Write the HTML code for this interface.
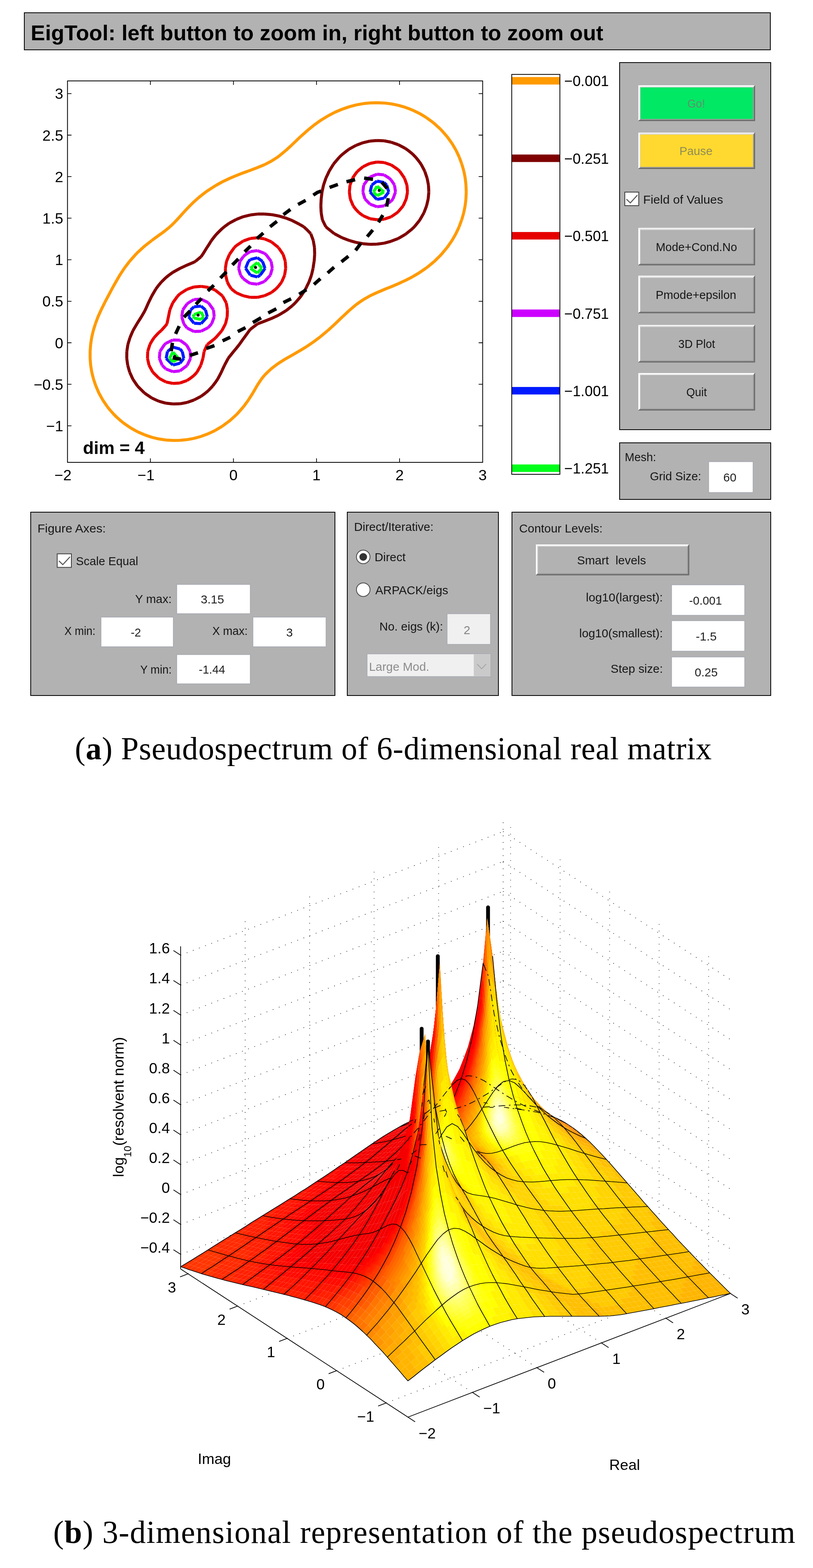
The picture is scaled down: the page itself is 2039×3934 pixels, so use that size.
<!DOCTYPE html>
<html><head><meta charset="utf-8"><title>EigTool pseudospectrum</title>
<style>html,body{margin:0;padding:0;background:#fff}svg{display:block}</style></head><body>
<svg width="2039" height="3934" viewBox="0 0 2039 3934">
<rect width="2039" height="3934" fill="#fff"/>
<style>.u text{fill-opacity:.88}</style><g class="u" font-family="'Liberation Sans',sans-serif">
<rect x="61.0" y="32.0" width="1871" height="93" fill="#b2b2b2" stroke="#000" stroke-width="2"/>
<text x="77" y="101" font-size="54" font-weight="bold" style="fill-opacity:1" textLength="1436" lengthAdjust="spacing">EigTool: left button to zoom in, right button to zoom out</text>
<rect x="1554.0" y="157.0" width="379" height="921" fill="#b2b2b2" stroke="#000" stroke-width="2"/>
<rect x="1600.8" y="214" width="293.0" height="89.8" fill="#6b6b6b"/><path d="M1600.8 214H1893.0L1890.6 217.2H1604.0V300.6L1600.8 303.0Z" fill="#fff"/><rect x="1604.0" y="217.2" width="286.6" height="83.4" fill="#a2a2a2"/><path d="M1604.0 217.2H1890.6L1888.4 219.4H1606.2V298.4L1604.0 300.6Z" fill="#e6e6e6"/><rect x="1606.2" y="219.4" width="282.2" height="79.0" fill="#00e864"/><text x="1746" y="269.9" text-anchor="middle" font-size="30" fill="#6f7f6f" textLength="44" lengthAdjust="spacingAndGlyphs" xml:space="preserve">Go!</text>
<rect x="1600.8" y="332.4" width="293.0" height="91.6" fill="#6b6b6b"/><path d="M1600.8 332.4H1893.0L1890.6 335.6H1604.0V420.8L1600.8 423.2Z" fill="#fff"/><rect x="1604.0" y="335.6" width="286.6" height="85.2" fill="#a2a2a2"/><path d="M1604.0 335.6H1890.6L1888.4 337.8H1606.2V418.6L1604.0 420.8Z" fill="#e6e6e6"/><rect x="1606.2" y="337.8" width="282.2" height="80.8" fill="#ffd92f"/><text x="1745.5" y="389.2" text-anchor="middle" font-size="30" fill="#80805e" textLength="83" lengthAdjust="spacingAndGlyphs" xml:space="preserve">Pause</text>
<rect x="1567" y="482" width="35" height="34" fill="#fff" stroke="#3c3c3c" stroke-width="2"/><path d="M1571.2 499.7L1580.8 509.1L1598.6 489.6" fill="none" stroke="#5a5a5a" stroke-width="2.6"/>
<text x="1613" y="511" text-anchor="start" font-size="30" fill="#000" textLength="200.5" lengthAdjust="spacingAndGlyphs">Field of Values</text>
<rect x="1600.8" y="571.5" width="293.0" height="94.3" fill="#6b6b6b"/><path d="M1600.8 571.5H1893.0L1890.6 574.7H1604.0V662.6L1600.8 665.0Z" fill="#fff"/><rect x="1604.0" y="574.7" width="286.6" height="87.9" fill="#a2a2a2"/><path d="M1604.0 574.7H1890.6L1888.4 576.9H1606.2V660.4L1604.0 662.6Z" fill="#e6e6e6"/><rect x="1606.2" y="576.9" width="282.2" height="83.5" fill="#b2b2b2"/><text x="1746.7" y="629.6" text-anchor="middle" font-size="30" fill="#000" textLength="204" lengthAdjust="spacingAndGlyphs" xml:space="preserve">Mode+Cond.No</text>
<rect x="1600.8" y="691.6" width="293.0" height="94.4" fill="#6b6b6b"/><path d="M1600.8 691.6H1893.0L1890.6 694.8H1604.0V782.8L1600.8 785.2Z" fill="#fff"/><rect x="1604.0" y="694.8" width="286.6" height="88.0" fill="#a2a2a2"/><path d="M1604.0 694.8H1890.6L1888.4 697.0H1606.2V780.6L1604.0 782.8Z" fill="#e6e6e6"/><rect x="1606.2" y="697.0" width="282.2" height="83.6" fill="#b2b2b2"/><text x="1745.5" y="749.8" text-anchor="middle" font-size="30" fill="#000" textLength="202" lengthAdjust="spacingAndGlyphs" xml:space="preserve">Pmode+epsilon</text>
<rect x="1600.8" y="815.2" width="293.0" height="94.3" fill="#6b6b6b"/><path d="M1600.8 815.2H1893.0L1890.6 818.4H1604.0V906.3L1600.8 908.7Z" fill="#fff"/><rect x="1604.0" y="818.4" width="286.6" height="87.9" fill="#a2a2a2"/><path d="M1604.0 818.4H1890.6L1888.4 820.6H1606.2V904.1L1604.0 906.3Z" fill="#e6e6e6"/><rect x="1606.2" y="820.6" width="282.2" height="83.5" fill="#b2b2b2"/><text x="1747.3" y="873.4" text-anchor="middle" font-size="30" fill="#000" textLength="92" lengthAdjust="spacingAndGlyphs" xml:space="preserve">3D Plot</text>
<rect x="1600.8" y="935.7" width="293.0" height="94.3" fill="#6b6b6b"/><path d="M1600.8 935.7H1893.0L1890.6 938.9H1604.0V1026.8L1600.8 1029.2Z" fill="#fff"/><rect x="1604.0" y="938.9" width="286.6" height="87.9" fill="#a2a2a2"/><path d="M1604.0 938.9H1890.6L1888.4 941.1H1606.2V1024.6L1604.0 1026.8Z" fill="#e6e6e6"/><rect x="1606.2" y="941.1" width="282.2" height="83.5" fill="#b2b2b2"/><text x="1747" y="993.9" text-anchor="middle" font-size="30" fill="#000" textLength="51.5" lengthAdjust="spacingAndGlyphs" xml:space="preserve">Quit</text>
<rect x="1554.0" y="1111.0" width="379" height="142" fill="#b2b2b2" stroke="#000" stroke-width="2"/>
<text x="1567" y="1157" text-anchor="start" font-size="30" fill="#000" textLength="78.5" lengthAdjust="spacingAndGlyphs">Mesh:</text>
<text x="1630" y="1205" text-anchor="start" font-size="30" fill="#000" textLength="128.7" lengthAdjust="spacingAndGlyphs">Grid Size:</text>
<rect x="1777" y="1158" width="112" height="78" fill="#fff" stroke="#abadb3" stroke-width="2.4"/><text x="1830.5" y="1208.0" text-anchor="middle" font-size="30" fill="#000" textLength="33" lengthAdjust="spacingAndGlyphs">60</text>
<rect x="77.0" y="1285.0" width="763" height="460" fill="#b2b2b2" stroke="#000" stroke-width="2"/>
<text x="94" y="1336.4" text-anchor="start" font-size="30" fill="#000" textLength="171.4" lengthAdjust="spacingAndGlyphs">Figure Axes:</text>
<rect x="143.5" y="1389.5" width="35.5" height="34.0" fill="#fff" stroke="#3c3c3c" stroke-width="2"/><path d="M147.8 1407.2L157.5 1416.6L175.5 1397.1" fill="none" stroke="#5a5a5a" stroke-width="2.6"/>
<text x="190.6" y="1418.3" text-anchor="start" font-size="30" fill="#000" textLength="155.8" lengthAdjust="spacingAndGlyphs">Scale Equal</text>
<text x="430.5" y="1513" text-anchor="end" font-size="30" fill="#000" textLength="91.5" lengthAdjust="spacingAndGlyphs">Y max:</text>
<rect x="443" y="1466" width="185" height="74" fill="#fff" stroke="#abadb3" stroke-width="2.4"/><text x="532.8" y="1514.0" text-anchor="middle" font-size="30" fill="#000" textLength="58.7" lengthAdjust="spacingAndGlyphs">3.15</text>
<text x="239.5" y="1593" text-anchor="end" font-size="30" fill="#000" textLength="77.9" lengthAdjust="spacingAndGlyphs">X min:</text>
<rect x="253" y="1548" width="182" height="75" fill="#fff" stroke="#abadb3" stroke-width="2.4"/><text x="340.8" y="1596.5" text-anchor="middle" font-size="30" fill="#000" textLength="25.8" lengthAdjust="spacingAndGlyphs">-2</text>
<text x="621.2" y="1593" text-anchor="end" font-size="30" fill="#000" textLength="88.8" lengthAdjust="spacingAndGlyphs">X max:</text>
<rect x="634" y="1548" width="184" height="75" fill="#fff" stroke="#abadb3" stroke-width="2.4"/><text x="726" y="1596.5" text-anchor="middle" font-size="30" fill="#000">3</text>
<text x="430.5" y="1689.5" text-anchor="end" font-size="30" fill="#000" textLength="78.8" lengthAdjust="spacingAndGlyphs">Y min:</text>
<rect x="443" y="1642" width="185" height="74" fill="#fff" stroke="#abadb3" stroke-width="2.4"/><text x="531.6" y="1690.0" text-anchor="middle" font-size="30" fill="#000" textLength="66" lengthAdjust="spacingAndGlyphs">-1.44</text>
<rect x="871.0" y="1285.0" width="379" height="460" fill="#b2b2b2" stroke="#000" stroke-width="2"/>
<text x="888" y="1332" text-anchor="start" font-size="30" fill="#000" textLength="199.3" lengthAdjust="spacingAndGlyphs">Direct/Iterative:</text>
<circle cx="911" cy="1397.3" r="17" fill="#fff" stroke="#4a4a4a" stroke-width="2"/><circle cx="911" cy="1397.3" r="9.6" fill="#333"/>
<text x="939.5" y="1408.3" text-anchor="start" font-size="30" fill="#000" textLength="77.9" lengthAdjust="spacingAndGlyphs">Direct</text>
<circle cx="911" cy="1479.4" r="17" fill="#fff" stroke="#4a4a4a" stroke-width="2"/>
<text x="941.3" y="1490.7" text-anchor="start" font-size="30" fill="#000" textLength="182.8" lengthAdjust="spacingAndGlyphs">ARPACK/eigs</text>
<text x="1111.2" y="1581.5" text-anchor="end" font-size="30" fill="#000" textLength="159.7" lengthAdjust="spacingAndGlyphs">No. eigs (k):</text>
<rect x="1121" y="1539.5" width="109.5" height="77.5" fill="#f0f0f0" stroke="#abadb3" stroke-width="2.4"/><text x="1171.2" y="1590.5" text-anchor="middle" font-size="30" fill="#757575">2</text>
<rect x="920.3" y="1640.2" width="310.7" height="57.6" fill="#f0f0f0" stroke="#abadb3" stroke-width="2.4"/>
<rect x="1188.2" y="1641.4" width="41.6" height="55.2" fill="#cacaca"/>
<path d="M1196.6 1666L1208 1678L1219.400 1666" fill="none" stroke="#a6a6a6" stroke-width="2.2"/>
<text x="925.4" y="1682.8" text-anchor="start" font-size="30" fill="#7d7d7d" textLength="151.3" lengthAdjust="spacingAndGlyphs">Large Mod.</text>
<rect x="1284.0" y="1285.0" width="649" height="460" fill="#b2b2b2" stroke="#000" stroke-width="2"/>
<text x="1302" y="1336.4" text-anchor="start" font-size="30" fill="#000" textLength="209.2" lengthAdjust="spacingAndGlyphs">Contour Levels:</text>
<rect x="1344" y="1366" width="384.7" height="77.5" fill="#6b6b6b"/><path d="M1344 1366H1727.9L1725.5 1369.2H1347.2V1440.3L1344 1442.7Z" fill="#fff"/><rect x="1347.2" y="1369.2" width="378.3" height="71.1" fill="#a2a2a2"/><path d="M1347.2 1369.2H1725.5L1723.3 1371.4H1349.4V1438.1L1347.2 1440.3Z" fill="#e6e6e6"/><rect x="1349.4" y="1371.4" width="373.9" height="66.7" fill="#b2b2b2"/><text x="1533.7" y="1415.8" text-anchor="middle" font-size="30" fill="#000" textLength="173" lengthAdjust="spacingAndGlyphs" xml:space="preserve">Smart  levels</text>
<text x="1662.5" y="1508.7" text-anchor="end" font-size="30" fill="#000" textLength="193" lengthAdjust="spacingAndGlyphs">log10(largest):</text>
<rect x="1684" y="1467" width="184" height="77" fill="#fff" stroke="#abadb3" stroke-width="2.4"/><text x="1769.5" y="1516.5" text-anchor="middle" font-size="30" fill="#000" textLength="82.3" lengthAdjust="spacingAndGlyphs">-0.001</text>
<text x="1662.5" y="1598.7" text-anchor="end" font-size="30" fill="#000" textLength="209.7" lengthAdjust="spacingAndGlyphs">log10(smallest):</text>
<rect x="1684" y="1557" width="184" height="77" fill="#fff" stroke="#abadb3" stroke-width="2.4"/><text x="1771.2" y="1606.5" text-anchor="middle" font-size="30" fill="#000" textLength="52.4" lengthAdjust="spacingAndGlyphs">-1.5</text>
<text x="1662.5" y="1687.8" text-anchor="end" font-size="30" fill="#000" textLength="131" lengthAdjust="spacingAndGlyphs">Step size:</text>
<rect x="1684" y="1648" width="184" height="76" fill="#fff" stroke="#abadb3" stroke-width="2.4"/><text x="1771.2" y="1697.0" text-anchor="middle" font-size="30" fill="#000" textLength="57.7" lengthAdjust="spacingAndGlyphs">0.25</text>
</g>
<g font-family="'Liberation Serif',serif" font-size="79.5">
<text x="187.800" y="1904.5" textLength="1597" lengthAdjust="spacing">(<tspan font-weight="bold">a</tspan>) Pseudospectrum of 6-dimensional real matrix</text>
<text x="133.600" y="3871" textLength="1861" lengthAdjust="spacing">(<tspan font-weight="bold">b</tspan>) 3-dimensional representation of the pseudospectrum</text>
</g>
<g font-family="'Liberation Sans',sans-serif" font-size="37.5">
<rect x="169.3" y="203.0" width="1041.2" height="957.0" fill="#fff"/>
<g fill="none" stroke-width="7.5">
<path d="M1026.5 273.1l7.4 2.8M1033.9 275.9l17.6 8.4M1051.5 284.3l10.5 6.2M1062 290.5l7.2 4.4M1069.2 294.9l17.6 12.9M1086.8 307.8l0.1 0.1M1086.9 307.9l17.6 15.9M1104.5 323.8l1.5 1.5M1106 325.3l15.3 17.4M1121.3 342.7l0.8 1.1M1122.1 343.8l11.7 16.3M1133.8 360.1l6 10.2M1139.8 370.3l4.1 7.2M1143.9 377.5l8.2 17.4M1152.1 394.9l5.3 14.7M1157.4 409.6l1 2.6M1158.4 412.2l5 17.4M1163.4 429.6l3.4 17.4M1166.8 447l1.9 17.4M1168.7 464.4l0.6 17.4M1169.3 481.8l-0.7 17.4M1168.6 499.2l-2.1 17.4M1166.5 516.6l-3.5 17.4M1163 534l-5 17.4M1158 551.4l-0.6 1.4M1157.4 552.8l-5.8 16M1151.6 568.8l-8.1 17.4M1143.5 586.2l-3.7 6.5M1139.8 592.7l-6.3 10.9M1133.5 603.6l-11.4 16.4M1122.1 620l-0.7 0.9M1121.4 620.9l-14.5 17.4M1106.9 638.3l-2.4 2.6M1104.5 640.9l-15.1 14.8M1089.4 655.7l-2.6 2.3M1086.8 658l-17.6 14.3M1069.2 672.3l-1.3 0.8M1067.9 673.1l-16.4 11.3M1051.5 684.4l-10.3 6.1M1041.2 690.5l-7.3 4.4M1033.9 694.9l-17.7 9M1016.2 703.9l-8.9 4M1007.3 707.9l-8.7 4.1M998.6 712l-17.7 7.5M980.9 719.5l-14.8 5.8M966.1 725.3l-2.8 1.2M963.3 726.5l-17.7 7.5M945.6 734l-17.6 8.2M928 742.2l-1 0.5M927 742.7l-16.7 9.6M910.3 752.3l-11.3 7.8M899 760.1l-6.3 4.6M892.7 764.7l-15.1 12.8M877.6 777.5l-2.6 2.2M875 779.7l-16 15.2M859 794.9l-1.7 1.4M857.3 796.3l-16.5 16M840.8 812.3l-1.1 1M839.7 813.3l-17.7 16.1M822 829.4l-0.3 0.2M821.7 829.6l-17.3 14.5M804.4 844.1l-3.7 2.9M800.7 847l-14 10.5M786.7 857.5l-10.1 6.9M776.6 864.4l-7.5 5.1M769.1 869.5l-17.7 10.8M751.4 880.3l-2.7 1.5M748.7 881.8l-14.9 8.7M733.8 890.5l-15.6 8.7M718.2 899.2l-2.1 1.2M716.1 900.4l-17.6 11.1M698.5 911.5l-7.1 5.1M691.4 916.6l-10.6 8.2M680.8 924.8l-10 9.2M670.8 934l-7.6 7.7M663.2 941.7l-7.8 9.7M655.4 951.4l-9.9 14.9M645.5 966.3l-1.4 2.5M644.1 968.8l-10 17.4M634.1 986.2l-6.2 9.9M627.9 996.1l-4.8 7.5M623.1 1003.6l-12.8 17.4M610.3 1021l-0.1 0M610.2 1021l-15.3 17.4M594.9 1038.4l-2.3 2.4M592.6 1040.8l-16.6 14.9M576 1055.7l-1.1 0.9M574.9 1056.6l-17.6 13M557.3 1069.6l-5.9 3.5M551.4 1073.1l-11.8 7M539.6 1080.1l-17.6 8.3M522 1088.4l-5.8 2.1M516.2 1090.5l-11.9 4.5M504.3 1095l-17.7 4.9M486.6 1099.9l-17.6 3.2M469 1103.1l-17.7 1.7M451.3 1104.8l-17.6 0.3M433.7 1105.1l-17.7-1.1M416 1104l-17.6-2.7M398.4 1101.3l-17.7-4.2M380.7 1097.1l-17.6-6M363.1 1091.1l-1.3-0.6M361.8 1090.5l-16.4-7M345.4 1083.5l-17.6-9.8M327.8 1073.7l-0.8-0.6M327 1073.1l-16.9-11.5M310.1 1061.6l-7.2-5.9M302.9 1055.7l-10.4-9.2M292.5 1046.5l-8.1-8.1M284.4 1038.4l-9.6-11M274.8 1027.4l-5.2-6.4M269.6 1021l-11.8-17.4M257.8 1003.6l-0.6-1.1M257.2 1002.5l-9.1-16.3M248.1 986.2l-7.5-17.4M240.6 968.8l-1.1-3.1M239.5 965.7l-4.9-14.3M234.6 951.4l-4.4-17.4M230.2 934l-2.8-17.4M227.4 916.6l-1.4-17.4M226 899.2l0-17.4M226 881.8l1.3-17.4M227.3 864.4l2.6-17.4M229.9 847l4-17.4M233.9 829.6l5.4-17.3M239.3 812.3l0.2-0.5M239.5 811.8l6.3-16.9M245.8 794.9l7.8-17.4M253.6 777.5l3.6-7.2M257.2 770.3l5-10.2M262.2 760.1l9.1-17.4M271.3 742.7l3.5-6.5M274.8 736.2l5.8-10.9M280.6 725.3l9.6-17.4M290.2 707.9l2.3-3.9M292.5 704l7.8-13.5M300.3 690.5l9.8-14.9M310.1 675.6l1.7-2.5M311.8 673.1l13.1-17.4M324.9 655.7l2.9-3.3M327.8 652.4l12.6-14.1M340.4 638.3l5-5.1M345.4 633.2l13.3-12.3M358.7 620.9l4.4-3.8M363.1 617.1l17.3-13.5M380.4 603.6l0.3-0.3M380.7 603.3l17.7-12.9M398.4 590.4l6.1-4.2M404.5 586.2l11.5-8.8M416 577.4l10.4-8.6M426.4 568.8l7.3-6.8M433.7 562l10.2-10.6M443.9 551.4l7.4-8.1M451.3 543.3l8.3-9.3M459.6 534l9.4-10.2M469 523.8l6.9-7.2M475.9 516.6l10.7-10.5M486.6 506.1l7.8-6.9M494.4 499.2l9.9-8.4M504.3 490.8l11.8-9M516.1 481.8l5.9-4.2M522 477.6l17.6-11.3M539.6 466.3l3.3-1.9M542.9 464.4l14.4-8M557.3 456.4l17.6-8.4M574.9 448l2.3-1M577.2 447l15.4-6.6M592.6 440.4l17.6-6.8M610.2 433.6l11.3-4M621.5 429.6l6.4-2.4M627.9 427.2l17.6-6.7M645.5 420.5l17.7-7.2M663.2 413.3l2.1-1.1M665.3 412.2l15.5-8.1M680.8 404.1l14.5-9.2M695.3 394.9l3.2-2.3M698.5 392.6l17.6-14.4M716.1 378.2l0.9-0.7M717 377.5l16.8-15.6M733.8 361.9l1.8-1.8M735.6 360.1l15.8-15.1M751.4 345l2.5-2.3M753.9 342.7l15.2-13.6M769.1 329.1l4.4-3.8M773.5 325.3l13.2-10.7M786.7 314.6l9.1-6.7M795.8 307.9l8.6-6M804.4 301.9l17.6-10.8M822 291.1l1.1-0.6M823.1 290.5l16.6-8.7M839.7 281.8l17.6-7.5M857.3 274.3l3.4-1.2M860.7 273.1l14.3-5M875 268.1l17.7-4.7M892.7 263.4l17.6-3.3M910.3 260.1l17.7-1.8M928 258.3l17.6-0.6M945.6 257.7l17.7 0.7M963.3 258.4l17.6 2.1M980.9 260.5l17.7 3.6M998.6 264.1l17.6 5.1M1016.2 269.2l10.3 3.9" stroke="#ff9a00"/>
<path d="M728.2 551.4l5.6 2.4M733.8 553.8l17.6 9.1M751.4 562.9l10.2 5.9M761.6 568.8l7.5 6.9M769.1 575.7l10.2 10.5M779.3 586.2l6.5 17.4M785.8 603.6l0.9 5.7M786.7 609.3l2 11.6M788.7 620.9l0.5 17.4M789.2 638.3l-1.3 17.4M787.9 655.7l-1.2 6.3M786.7 662l-1.5 11.1M785.2 673.1l-4.1 17.4M781.1 690.5l-6.3 17.4M774.8 707.9l-5.7 11.4M769.1 719.3l-2.8 6M766.3 725.3l-11.2 17.4M755.1 742.7l-3.7 4.6M751.4 747.3l-11.1 12.8M740.3 760.1l-6.5 6.2M733.8 766.3l-13.8 11.2M720 777.5l-3.9 2.8M716.1 780.3l-17.6 10.6M698.5 790.9l-8.7 4M689.8 794.9l-9 4.2M680.8 799.1l-17.6 6.8M663.2 805.9l-16.6 6.4M646.6 812.3l-1.1 0.5M645.5 812.8l-17.6 13.4M627.9 826.2l-2.7 3.4M625.2 829.6l-12.6 17.4M612.6 847l-2.4 3.2M610.2 850.2l-10 14.2M600.2 864.4l-7.6 9.4M592.6 873.8l-6.7 8M585.9 881.8l-11 13.8M574.9 895.6l-2.7 3.6M572.2 899.2l-9.2 17.4M563 916.6l-5.7 12.1M557.3 928.7l-2.3 5.3M555 934l-9.2 17.4M545.8 951.4l-6.2 8.9M539.6 960.3l-6.4 8.5M533.2 968.8l-11.2 11.7M522 980.5l-6.7 5.7M515.3 986.2l-11 8.1M504.3 994.3l-17.7 9.2M486.6 1003.5l-0.1 0.1M486.5 1003.6l-17.5 6.2M469 1009.8l-17.7 3.3M451.3 1013.1l-17.6 0.5M433.7 1013.6l-17.7-2M416 1011.6l-17.6-5M398.4 1006.6l-6.9-3M391.5 1003.6l-10.8-4.9M380.7 998.7l-17.6-12M363.1 986.7l-0.7-0.5M362.4 986.2l-17-17.1M345.4 969.1l-0.3-0.3M345.1 968.8l-11.9-17.4M333.2 951.4l-5.4-12M327.8 939.4l-2.5-5.4M325.3 934l-5-17.4M320.3 916.6l-2.4-17.4M317.9 899.2l0.2-17.4M318.1 881.8l2.6-17.4M320.7 864.4l5.3-17.4M326 847l1.8-4.2M327.8 842.8l5.6-13.2M333.4 829.6l10.1-17.3M343.5 812.3l1.9-3.1M345.4 809.2l9.2-14.3M354.6 794.9l8.5-14.8M363.1 780.1l1.3-2.6M364.4 777.5l7.7-17.4M372.1 760.1l8.5-17.4M380.6 742.7l0.1-0.2M380.7 742.5l10-17.2M390.7 725.3l7.7-10.2M398.4 715.1l6-7.2M404.4 707.9l11.6-11.4M416 696.5l7.5-6M423.5 690.5l10.2-7.4M433.7 683.1l17.6-9.7M451.3 673.4l0.6-0.3M451.9 673.1l17.1-7.9M469 665.2l17.6-7.5M486.6 657.7l3.7-2M490.3 655.7l14-11.7M504.3 644l4.1-5.7M508.4 638.3l10.7-17.4M519.1 620.9l2.9-4.2M522 616.7l8.1-13.1M530.1 603.6l9.5-12.2M539.6 591.4l4.5-5.2M544.1 586.2l13.2-12.9M557.3 573.3l5.5-4.5M562.8 568.8l12.1-8.8M574.9 560l16.1-8.6M591 551.4l1.6-0.9M592.6 550.5l17.6-6.9M610.2 543.6l17.7-4.3M627.9 539.3l17.6-2.2M645.5 537.1l17.7-0.2M663.2 536.9l17.6 1.5M680.8 538.4l17.7 3.3M698.5 541.7l17.6 5.1M716.1 546.8l12.1 4.6M990.4 360.1l8.2 2.8M998.6 362.9l17.6 9.2M1016.2 372.1l7.5 5.4M1023.7 377.5l10.2 8.2M1033.9 385.7l9.1 9.2M1043 394.9l8.5 10.7M1051.5 405.6l4.7 6.6M1056.2 412.2l9.1 17.4M1065.3 429.6l3.9 11.6M1069.2 441.2l2 5.8M1071.2 447l3.4 17.4M1074.6 464.4l0.9 17.4M1075.5 481.8l-1.6 17.4M1073.9 499.2l-4.1 17.4M1069.8 516.6l-0.6 1.5M1069.2 518.1l-6 15.9M1063.2 534l-10 17.4M1053.2 551.4l-1.7 2.4M1051.5 553.8l-12.2 15M1039.3 568.8l-5.4 5.4M1033.9 574.2l-14.8 12M1019.1 586.2l-2.9 2.1M1016.2 588.3l-17.6 10.1M998.6 598.4l-13.3 5.2M985.3 603.6l-4.4 1.7M980.9 605.3l-17.6 4.8M963.3 610.1l-17.7 2.4M945.6 612.5l-17.6 0.4M928 612.9l-17.7-1.5M910.3 611.4l-17.6-3.3M892.7 608.1l-15.8-4.5M876.9 603.6l-1.9-0.7M875 602.9l-17.7-6.7M857.3 596.2l-17.6-9.3M839.7 586.9l-1.5-0.7M838.2 586.2l-16.2-13M822 573.2l-4.9-4.4M817.1 568.8l-8.6-17.4M808.5 551.4l-3-17.4M805.5 534l-0.8-17.4M804.7 516.6l0.8-17.4M805.5 499.2l2.1-17.4M807.6 481.8l3.8-17.4M811.4 464.4l5.9-17.4M817.3 447l4.7-9.8M822 437.2l3.4-7.6M825.4 429.6l10.7-17.4M836.1 412.2l3.6-4.5M839.7 407.7l10.9-12.8M850.6 394.9l6.7-6.5M857.3 388.4l13.7-10.9M871 377.5l4-2.9M875 374.6l17.7-9.9M892.7 364.7l12.4-4.6M905.1 360.1l5.2-2M910.3 358.1l17.7-4.2M928 353.9l17.6-1.5M945.6 352.4l17.7 0.9M963.3 353.3l17.6 3.5M980.9 356.8l9.5 3.3" stroke="#7f0000"/>
<path d="M533.6 725.3l6 2.5M539.6 727.8l17.7 14M557.3 741.8l0.8 0.9M558.1 742.7l9.5 17.4M567.6 760.1l2.8 17.4M570.4 777.5l-0.6 17.4M569.8 794.9l-4.2 17.4M565.6 812.3l-8.3 15.7M557.3 828l-0.9 1.6M556.4 829.6l-15.1 17.4M541.3 847l-1.7 1.7M539.6 848.7l-17.6 14.1M522 862.8l-2.3 1.6M519.7 864.4l-7.8 17.4M511.9 881.8l-2.9 17.4M509 899.2l-4.7 14.8M504.3 914l-0.7 2.6M503.6 916.6l-9.7 17.4M493.9 934l-7.3 7.9M486.6 941.9l-12.5 9.5M474.1 951.4l-5.1 3.3M469 954.7l-17.7 6.2M451.3 960.9l-17.6 1.1M433.7 962l-17.7-3.7M416 958.3l-13.1-6.9M402.9 951.4l-4.5-2.7M398.4 948.7l-14.9-14.7M383.5 934l-2.8-4.7M380.7 929.3l-6.8-12.7M373.9 916.6l-4-17.4M369.9 899.2l0.6-17.4M370.5 881.8l5.4-17.4M375.9 864.4l4.8-8.5M380.7 855.9l5.8-8.9M386.5 847l11.9-12.8M398.4 834.2l5.8-4.6M404.2 829.6l11.8-13.3M416 816.3l2.8-4M418.8 812.3l3.6-17.4M422.4 794.9l3.5-17.4M425.9 777.5l7.2-17.4M433.1 760.1l0.6-0.9M433.7 759.2l11.8-16.5M445.5 742.7l5.8-5.6M451.3 737.1l17.7-11.2M469 725.9l1.9-0.6M470.9 725.3l15.7-5.4M486.6 719.9l17.7-1.5M504.3 718.4l17.7 2.6M522 721l11.6 4.3M673.5 603.6l7.3 3.2M680.8 606.8l17.4 14.1M698.2 620.9l0.3 0.4M698.5 621.3l11.7 17M710.2 638.3l5.3 17.4M715.5 655.7l0.6 10.8M716.1 666.5l0.5 6.6M716.6 673.1l-0.5 2.5M716.1 675.6l-2.3 14.9M713.8 690.5l-7.6 17.4M706.2 707.9l-7.7 10.1M698.5 718l-6.9 7.3M691.6 725.3l-10.8 8.6M680.8 733.9l-17.6 8.2M663.2 742.1l-3.1 0.6M660.1 742.7l-14.6 3.4M645.5 746.1l-17.6 0M627.9 746.1l-15.1-3.4M612.8 742.7l-2.6-0.6M610.2 742.1l-17.6-7.5M592.6 734.6l-11.9-9.3M580.7 725.3l-5.8-8.7M574.9 716.6l-4.7-8.7M570.2 707.9l-4.3-17.4M565.9 690.5l-0.7-17.4M565.2 673.1l2.9-17.4M568.1 655.7l6.8-16.2M574.9 639.5l0.5-1.2M575.4 638.3l12.4-17.4M587.8 620.9l4.8-4.6M592.6 616.3l17.6-11.8M610.2 604.5l2.8-0.9M613 603.6l14.9-5.4M627.9 598.2l17.6-1.7M645.5 596.5l17.7 2.8M663.2 599.3l10.3 4.3M976.5 412.2l4.4 1.5M980.9 413.7l17.7 12M998.6 425.7l3.9 3.9M1002.5 429.6l12 17.4M1014.5 447l1.7 5M1016.2 452l4.4 12.4M1020.6 464.4l1.4 17.4M1022 481.8l-3.2 17.4M1018.8 499.2l-2.6 5.9M1016.2 505.1l-5.2 11.5M1011 516.6l-12.4 14.8M998.6 531.4l-3.1 2.6M995.5 534l-14.6 10M980.9 544l-17.6 5.9M963.3 549.9l-17.7 1.4M945.6 551.3l-17.6-2.5M928 548.8l-17.7-7.7M910.3 541.1l-9.5-7.1M900.8 534l-8.1-8.4M892.7 525.6l-6.9-9M885.8 516.6l-7.3-17.4M878.5 499.2l-2.3-17.4M876.2 481.8l1.6-17.4M877.8 464.4l6.3-17.4M884.1 447l8.6-12.4M892.7 434.6l4.1-5M896.8 429.6l13.5-11.3M910.3 418.3l12.7-6.1M923 412.2l5-2.2M928 410l17.6-3.5M945.6 406.5l17.7 1.2M963.3 407.7l13.2 4.5" stroke="#e60000"/>
<path d="M466.4 864.4l2.6 3M469 867.4l7.9 14.4M476.9 881.8l0.9 17.4M477.8 899.2l-8.3 17.4M469.5 916.6l-0.5 0.6M469 917.2l-17.7 13.4M451.3 930.6l-17.6 1.9M433.7 932.5l-17.7-6.8M416 925.7l-9.2-9.1M406.8 916.6l-7.1-17.4M399.7 899.2l1.4-17.4M401.1 881.8l11.5-17.4M412.6 864.4l3.4-3.1M416 861.3l17.7-8.4M433.7 852.9l17.6 0.7M451.3 853.6l15.1 10.8M523 760.1l12.5 17.4M535.5 777.5l1.7 17.4M537.2 794.9l-6.3 17.4M530.9 812.3l-8.9 9.9M522 822.2l-15 7.4M507 829.6l-2.7 1.4M504.3 831l-17.7 0.8M486.6 831.8l-4.4-2.2M482.2 829.6l-13.2-6.7M469 822.9l-8.1-10.6M460.9 812.3l-5.1-17.4M455.8 794.9l2.6-17.4M458.4 777.5l10.6-14.9M469 762.6l3-2.5M472 760.1l14.6-8.7M486.6 751.4l17.7-0.9M504.3 750.5l17.7 8.7M522 759.2l1 0.9M666.9 638.3l13.2 17.4M680.1 655.7l0.7 5.4M680.8 661.1l2.2 12M683 673.1l-2.2 7.2M680.8 680.3l-2.7 10.2M678.1 690.5l-14.9 15.8M663.2 706.3l-4.3 1.6M658.9 707.9l-13.4 5.2M645.5 713.1l-17.6-2M627.9 711.1l-5.8-3.2M622.1 707.9l-11.9-8.6M610.2 699.3l-6.8-8.8M603.4 690.5l-4.9-17.4M598.5 673.1l3.3-17.4M601.8 655.7l8.4-11.9M610.2 643.8l6.1-5.5M616.3 638.3l11.6-7.2M627.9 631.1l17.6-2.3M645.5 628.8l17.7 6.6M663.2 635.4l3.7 2.9M976.2 447l4.7 4.5M980.9 451.5l8.6 12.9M989.5 464.4l2.4 17.4M991.9 481.8l-6.4 17.4M985.5 499.2l-4.6 5.6M980.9 504.8l-17.6 11.8M963.3 516.6l-0.3 0M963 516.6l-17.4 2.1M945.6 518.7l-5.8-2.1M939.8 516.6l-11.8-4.4M928 512.2l-12.7-13M915.3 499.2l-5-16.6M910.3 482.6l-0.3-0.8M910 481.8l0.3-1.7M910.3 480.1l1.8-15.7M912.1 464.4l12.6-17.4M924.7 447l3.3-2.7M928 444.3l17.6-7.3M945.6 437l17.7 1.8M963.3 438.8l12.9 8.2" stroke="#cc00ff"/>
<path d="M457.1 881.8l3.9 17.4M461 899.2l-9.7 12.1M451.3 911.3l-17.6 4.5M433.7 915.8l-17-16.6M416.7 899.2l3.3-17.4M420 881.8l13.7-11M433.7 870.8l17.6 4.9M451.3 875.7l5.8 6.1M515.4 777.5l4.5 17.4M519.9 794.9l-15.6 17.1M504.3 812l-17.7-0.9M486.6 811.1l-13.4-16.2M473.2 794.9l5-17.4M478.2 777.5l8.4-7.8M486.6 769.7l17.7-1.6M504.3 768.1l11.1 9.4M658.3 655.7l4.9 13.4M663.2 669.1l1.3 4M664.5 673.1l-1.3 2.7M663.2 675.8l-10.8 14.7M652.4 690.5l-6.9 4.3M645.5 694.8l-17-4.3M628.5 690.5l-0.6-0.1M627.9 690.4l-11.9-17.3M616 673.1l7-17.4M623 655.7l4.9-4.5M627.9 651.2l17.6-4.6M645.5 646.6l12.8 9.1M969.9 464.4l5.1 17.4M975 481.8l-11.7 15.3M963.3 497.1l-12.4 2.1M950.9 499.2l-5.3 1.1M945.6 500.3l-1.7-1.1M943.9 499.2l-15.6-17.4M928.3 481.8l4.1-17.4M932.4 464.4l13.2-10.2M945.6 454.2l17.7 3.8M963.3 458l6.6 6.4" stroke="#001aff"/>
<path d="M447.9 899.2l-14.2 8.5M433.7 907.7l-8.7-8.5M425 899.2l8.7-15.7M433.7 883.5l14.2 15.7M510.6 794.9l-6.3 6.8M504.3 801.7l-17.7-3.8M486.6 797.9l-2.5-3M484.1 794.9l2.5-5.6M486.6 789.3l17.7-6.3M504.3 783l6.3 11.9M656.8 673.1l-11.3 12M645.5 685.1l-17.5-12M628 673.1l17.5-14.4M645.5 658.7l11.3 14.4M963.2 481.8l-17.6 9.3M945.6 491.1l-9-9.3M936.6 481.8l9-14.6M945.6 467.2l17.6 14.6" stroke="#00ff1a"/>
</g>
<path d="M433.0 897.7L453.9 901.3M476.4 891.7L496.5 885.1M517.5 874.3L537.8 867.1M558.2 855.1L577.4 846.1M596.3 831.8L615.7 822.2M634.3 809.3L654.7 797.3M672.7 785.3L693.0 774.8M730.0 749.6L710.8 759.2M768.3 726.8L750.3 738.3M803.5 699.2L787.5 713.6M837.8 670.5L821.8 684.9M873.8 642.9L856.3 656.8M904.9 610.6L891.8 628.1M934.9 577.0L921.0 593.8M960.1 539.8L949.3 557.8M973.7 497.2L969.7 518.3M957.7 457.2L970.9 472.7M913.3 446.8L935.4 450.0M869.0 456.0L890.6 450.7M826.6 470.3L847.4 462.7M785.8 489.5L795.9 482.8L805.5 479.4M747.5 513.0L766.6 502.7M710.8 538.6L728.3 525.5M677.4 568.8L694.5 555.3M644.4 598.7L660.3 584.6M613.6 631.7L628.5 617.3M582.8 664.6L597.8 649.6M552.8 697.5L567.8 681.9M521.3 729.9L536.3 715.5M491.4 763.4L505.5 748.5M461.4 795.8L476.4 780.2M440.4 837.8L449.4 818.3M429.4 881.2L432.4 860.2" fill="none" stroke="#000" stroke-width="8.6" stroke-linejoin="round"/>
<circle cx="438.1" cy="894.2" r="3.7" fill="#000"/>
<circle cx="496.9" cy="790.6" r="3.7" fill="#000"/>
<circle cx="640.9" cy="671.0" r="3.7" fill="#000"/>
<circle cx="951.1" cy="477.7" r="3.7" fill="#000"/>
<rect x="169.3" y="203.0" width="1041.2" height="957.0" fill="none" stroke="#000" stroke-width="2"/>
<path d="M377.2 1160.0v-10M377.2 203.0v10M585.5 1160.0v-10M585.5 203.0v10M793.8 1160.0v-10M793.8 203.0v10M1002.1 1160.0v-10M1002.1 203.0v10M169.3 1068.4h10M1210.5 1068.4h-10M169.3 964.2h10M1210.5 964.2h-10M169.3 860.0h10M1210.5 860.0h-10M169.3 755.8h10M1210.5 755.8h-10M169.3 651.6h10M1210.5 651.6h-10M169.3 547.4h10M1210.5 547.4h-10M169.3 443.2h10M1210.5 443.2h-10M169.3 339.0h10M1210.5 339.0h-10M169.3 234.8h10M1210.5 234.8h-10" stroke="#000" stroke-width="1.8" fill="none"/>
<text x="179.3" y="1205" text-anchor="end">−2</text>
<text x="387.6" y="1205" text-anchor="end">−1</text>
<text x="585.5" y="1205" text-anchor="middle">0</text>
<text x="793.8" y="1205" text-anchor="middle">1</text>
<text x="1002.1" y="1205" text-anchor="middle">2</text>
<text x="1210.4" y="1205" text-anchor="middle">3</text>
<text x="158.5" y="1082.0" text-anchor="end">−1</text>
<text x="158.5" y="977.8" text-anchor="end">−0.5</text>
<text x="158.5" y="873.6" text-anchor="end">0</text>
<text x="158.5" y="769.4" text-anchor="end">0.5</text>
<text x="158.5" y="665.2" text-anchor="end">1</text>
<text x="158.5" y="561.0" text-anchor="end">1.5</text>
<text x="158.5" y="456.8" text-anchor="end">2</text>
<text x="158.5" y="352.6" text-anchor="end">2.5</text>
<text x="158.5" y="248.4" text-anchor="end">3</text>
<text x="208" y="1138.5" font-size="44.6" font-weight="bold">dim = 4</text>
<rect x="1283.4" y="186.7" width="120.79999999999995" height="1003.3" fill="#fff"/>
<rect x="1283.4" y="193.3" width="120.79999999999995" height="18.8" fill="#ff9a00"/>
<text x="1415" y="216.4" textLength="112" lengthAdjust="spacingAndGlyphs">−0.001</text>
<rect x="1283.4" y="387.7" width="120.79999999999995" height="18.8" fill="#7f0000"/>
<text x="1415" y="410.8" textLength="112" lengthAdjust="spacingAndGlyphs">−0.251</text>
<rect x="1283.4" y="582.1" width="120.79999999999995" height="18.8" fill="#e60000"/>
<text x="1415" y="605.2" textLength="112" lengthAdjust="spacingAndGlyphs">−0.501</text>
<rect x="1283.4" y="776.5" width="120.79999999999995" height="18.8" fill="#cc00ff"/>
<text x="1415" y="799.6" textLength="112" lengthAdjust="spacingAndGlyphs">−0.751</text>
<rect x="1283.4" y="970.9" width="120.79999999999995" height="18.8" fill="#001aff"/>
<text x="1415" y="994.0" textLength="112" lengthAdjust="spacingAndGlyphs">−1.001</text>
<rect x="1283.4" y="1165.3" width="120.79999999999995" height="18.8" fill="#00ff1a"/>
<text x="1415" y="1188.4" textLength="112" lengthAdjust="spacingAndGlyphs">−1.251</text>
<rect x="1283.4" y="186.7" width="120.79999999999995" height="1003.3" fill="none" stroke="#000" stroke-width="2"/>
</g>
<g font-family="'Liberation Sans',sans-serif" font-size="37.5">
<path d="M614.8 3072.2L614.8 2311.3M1184.9 3493.4L1086.5 3429.3M776.5 2977.2L776.5 2249.3M1346.6 3431.4L1206.8 3340.2M938.3 2865.6L938.3 2187.2M1508.4 3369.3L1410.0 3305.2M1100.1 2457.1L1100.1 2125.2M1670.1 3307.3L1640.9 3288.2M1261.8 2576.5L1261.8 2063.1M1831.9 3245.2L1830.3 3244.2M1777.3 3176.6L1777.3 2399.2M968.5 3519.9L1540.2 3300.5M1653.1 3046.1L1653.1 2318.2M844.3 3438.9L953.9 3396.8M1528.9 2915.6L1528.9 2237.2M720.1 3357.9L860.5 3304.0M1404.7 2801.6L1404.7 2156.2M595.9 3276.9L690.1 3240.8M1280.5 2638.1L1280.5 2075.2M471.7 3195.9L488.8 3189.4M453.0 3147.1L578.0 3099.2M1731.8 3143.2L1830.1 3207.4M453.0 3072.1L870.7 2911.8M1565.9 2960.0L1830.1 3132.3M453.0 2997.0L1024.8 2777.7M1317.1 2722.8L1830.1 3057.2M453.0 2922.0L1040.2 2696.7M1130.8 2661.9L1163.4 2649.4M1275.6 2620.7L1830.1 2982.2M453.0 2846.9L1086.4 2603.9M1115.4 2592.8L1178.8 2568.4M1254.1 2539.6L1255.9 2538.9M1261.8 2536.6L1830.1 2907.1M453.0 2771.8L1086.4 2528.8M1115.4 2517.7L1194.2 2487.5M1254.1 2464.5L1255.9 2463.8M1261.8 2461.5L1830.1 2832.1M453.0 2696.8L1209.6 2406.5M1238.7 2395.4L1255.9 2388.8M1261.8 2386.5L1830.1 2757.0M453.0 2621.7L1209.6 2331.4M1238.7 2320.3L1255.9 2313.7M1261.8 2311.4L1830.1 2681.9M453.0 2546.7L1255.9 2238.6M1261.8 2236.4L1830.1 2606.9M453.0 2471.6L1255.9 2163.6M1261.8 2161.3L1830.1 2531.8M453.0 2396.5L1255.9 2088.5M1261.8 2086.2L1830.1 2456.8" fill="none" stroke="#000" stroke-width="1.5" stroke-dasharray="1.7 14.8"/>
<style>.m{fill:none;stroke:#000;stroke-width:3.4;stroke-linecap:round}.c{shape-rendering:crispEdges}.b{fill:none;stroke:#000;stroke-width:19.2;stroke-linecap:round}</style>
<g transform="scale(.5)">
<path fill="#ff2000" d="M2517 5558l27 1-20-2-28-1z"/>
<path fill="#ff1500" d="M2490 5557l27 1-21-2-27 0z"/>
<path fill="#ff0b00" d="M2462 5556l28 1-21-1-28 0z"/>
<path fill="#ff0b00" d="M2435 5556l27 0-21 0-27 0z"/>
<path fill="#f00" d="M2407 5555l28 1-21 0-27 1z"/>
<path fill="#f00" d="M2380 5555l27 0-20 2-28 1z"/>
<path fill="#f40000" d="M2352 5556l28-1-21 3-27 1z"/>
<path fill="#f40000" d="M2325 5557l27-1-20 3-28 3z"/>
<path fill="#f40000" d="M2298 5559l27-2-21 5-27 2z"/>
<path fill="#f40000" d="M2270 5562l28-3-21 5-28 4z"/>
<path fill="#f40000" d="M2243 5566l27-4-21 6-27 5z"/>
<path fill="#f40000" d="M2215 5571l28-5-21 7-27 6z"/>
<path fill="#f40000" d="M2188 5578l27-7-20 8-28 7z"/>
<path fill="#f40000" d="M2161 5586l27-8-21 8-27 8z"/>
<path fill="#f40000" d="M2133 5596l28-10-21 8-28 10z"/>
<path fill="#f40000" d="M2106 5607l27-11-21 8-27 11z"/>
<path fill="#f40000" d="M2078 5619l28-12-21 8-27 12z"/>
<path fill="#f40000" d="M2051 5633l27-14-20 8-28 13z"/>
<path fill="#f40000" d="M2023 5648l28-15-21 7-27 15z"/>
<path fill="#f40000" d="M1996 5664l27-16-20 7-28 16z"/>
<path fill="#f40000" d="M1969 5681l27-17-21 7-27 16z"/>
<path fill="#f40000" d="M1941 5699l28-18-21 6-28 17z"/>
<path fill="#f40000" d="M1914 5718l27-19-21 5-27 18z"/>
<path fill="#f40000" d="M1886 5737l28-19-21 4-27 18z"/>
<path fill="#f40000" d="M1859 5756l27-19-20 3-28 19z"/>
<path fill="#f40000" d="M1832 5776l27-20-21 3-27 19z"/>
<path fill="#f40000" d="M1804 5796l28-20-21 2-28 19z"/>
<path fill="#f40000" d="M1777 5815l27-19-21 1-27 19z"/>
<path fill="#f00" d="M1749 5835l28-20-21 1-27 19z"/>
<path fill="#f00" d="M1722 5854l27-19-20 0-28 18z"/>
<path fill="#f00" d="M1694 5873l28-19-21-1-27 19z"/>
<path fill="#ff0b00" d="M1667 5892l27-19-20-1-28 19z"/>
<path fill="#ff0b00" d="M1640 5911l27-19-21-1-27 18z"/>
<path fill="#ff0b00" d="M1612 5929l28-18-21-2-28 18z"/>
<path fill="#ff0b00" d="M1585 5947l27-18-21-2-27 18z"/>
<path fill="#ff1500" d="M1557 5965l28-18-21-2-27 18z"/>
<path fill="#ff1500" d="M1530 5983l27-18-20-2-28 17z"/>
<path fill="#ff1500" d="M1503 6000l27-17-21-3-27 18z"/>
<path fill="#ff1500" d="M1475 6018l28-18-21-2-28 17z"/>
<path fill="#ff1500" d="M1448 6035l27-17-21-3-27 17z"/>
<path fill="#ff1500" d="M1420 6052l28-17-21-3-27 17z"/>
<path fill="#ff1500" d="M1393 6070l27-18-20-3-28 17z"/>
<path fill="#ff2000" d="M1365 6087l28-17-21-4-27 17z"/>
<path fill="#ff2000" d="M1338 6104l27-17-20-4-28 17z"/>
<path fill="#ff2000" d="M1311 6121l27-17-21-4-27 17z"/>
<path fill="#ff2000" d="M1283 6139l28-18-21-4-28 17z"/>
<path fill="#ff2000" d="M1256 6156l27-17-21-5-27 18z"/>
<path fill="#ff2000" d="M1228 6174l28-18-21-4-27 17z"/>
<path fill="#ff2a00" d="M1201 6191l27-17-20-5-28 17z"/>
<path fill="#ff2a00" d="M1174 6208l27-17-21-5-27 17z"/>
<path fill="#ff2a00" d="M1146 6226l28-18-21-5-28 17z"/>
<path fill="#ff2a00" d="M1119 6243l27-17-21-6-27 17z"/>
<path fill="#ff2a00" d="M1091 6260l28-17-21-6-27 17z"/>
<path fill="#ff3500" d="M1064 6278l27-18-20-6-28 18z"/>
<path fill="#ff3500" d="M1036 6295l28-17-21-6-27 17z"/>
<path fill="#ff3500" d="M1009 6312l27-17-20-6-28 17z"/>
<path fill="#ff3500" d="M982 6329l27-17-21-6-27 17z"/>
<path fill="#ff3500" d="M954 6347l28-18-21-6-28 17z"/>
<path fill="#ff3500" d="M927 6363l27-16-21-7-27 16z"/>
<path class="m" d="M2544 5559l-20-2M2496 5556l28 1M2469 5556l27 0M2441 5556l28 0M2414 5556l27 0M2435 5556l-21 0M2387 5557l27-1M2359 5558l28-1M2332 5559l27-1M2304 5562l28-3M2277 5564l27-2M2298 5559l-21 5M2249 5568l28-4M2222 5573l27-5M2195 5579l27-6M2167 5586l28-7M2140 5594l27-8M2161 5586l-21 8M2112 5604l28-10M2085 5615l27-11M2058 5627l27-12M2030 5640l28-13M2003 5655l27-15M2023 5648l-20 7M1975 5671l28-16M1948 5687l27-16M1920 5704l28-17M1893 5722l27-18M1866 5740l27-18M1886 5737l-20 3M1838 5759l28-19M1811 5778l27-19M1783 5797l28-19M1756 5816l27-19M1729 5835l27-19M1749 5835l-20 0M1701 5853l28-18M1674 5872l27-19M1646 5891l28-19M1619 5909l27-18M1591 5927l28-18M1612 5929l-21-2M1564 5945l27-18M1537 5963l27-18M1509 5980l28-17M1482 5998l27-18M1454 6015l28-17M1475 6018l-21-3M1427 6032l27-17M1400 6049l27-17M1372 6066l28-17M1345 6083l27-17M1317 6100l28-17M1338 6104l-21-4M1290 6117l27-17M1262 6134l28-17M1235 6152l27-18M1208 6169l27-17M1180 6186l28-17M1201 6191l-21-5M1153 6203l27-17M1125 6220l28-17M1098 6237l27-17M1071 6254l27-17M1043 6272l28-18M1064 6278l-21-6M1016 6289l27-17M988 6306l28-17M961 6323l27-17M933 6340l28-17M906 6356l27-16M927 6363l-21-7"/>
<path fill="#ff2000" d="M2538 5560l27 1-21-2-27-1z"/>
<path fill="#ff1500" d="M2510 5558l28 2-21-2-27-1z"/>
<path fill="#ff0b00" d="M2483 5556l27 2-20-1-28-1z"/>
<path fill="#ff0b00" d="M2455 5554l28 2-21 0-27 0z"/>
<path fill="#f00" d="M2428 5553l27 1-20 2-28-1z"/>
<path fill="#f40000" d="M2401 5552l27 1-21 2-27 0z"/>
<path fill="#f40000" d="M2373 5551l28 1-21 3-28 1z"/>
<path fill="#f40000" d="M2346 5552l27-1-21 5-27 1z"/>
<path fill="#f40000" d="M2318 5553l28-1-21 5-27 2z"/>
<path fill="#f40000" d="M2291 5555l27-2-20 6-28 3z"/>
<path fill="#f40000" d="M2264 5558l27-3-21 7-27 4z"/>
<path fill="#f40000" d="M2236 5562l28-4-21 8-28 5z"/>
<path fill="#f40000" d="M2209 5568l27-6-21 9-27 7z"/>
<path fill="#f40000" d="M2181 5576l28-8-21 10-27 8z"/>
<path fill="#f40000" d="M2154 5586l27-10-20 10-28 10z"/>
<path fill="#f40000" d="M2126 5597l28-11-21 10-27 11z"/>
<path fill="#f40000" d="M2099 5610l27-13-20 10-28 12z"/>
<path fill="#f40000" d="M2072 5624l27-14-21 9-27 14z"/>
<path fill="#f40000" d="M2044 5640l28-16-21 9-28 15z"/>
<path fill="#f40000" d="M2017 5657l27-17-21 8-27 16z"/>
<path fill="#f40000" d="M1989 5675l28-18-21 7-27 17z"/>
<path fill="#f40000" d="M1962 5694l27-19-20 6-28 18z"/>
<path fill="#f40000" d="M1935 5713l27-19-21 5-27 19z"/>
<path fill="#f40000" d="M1907 5733l28-20-21 5-28 19z"/>
<path fill="#f40000" d="M1880 5754l27-21-21 4-27 19z"/>
<path fill="#f40000" d="M1852 5774l28-20-21 2-27 20z"/>
<path fill="#f40000" d="M1825 5794l27-20-20 2-28 20z"/>
<path fill="#f40000" d="M1797 5815l28-21-21 2-27 19z"/>
<path fill="#f00" d="M1770 5835l27-20-20 0-28 20z"/>
<path fill="#f00" d="M1743 5855l27-20-21 0-27 19z"/>
<path fill="#f00" d="M1715 5874l28-19-21-1-28 19z"/>
<path fill="#ff0b00" d="M1688 5894l27-20-21-1-27 19z"/>
<path fill="#ff0b00" d="M1660 5912l28-18-21-2-27 19z"/>
<path fill="#ff0b00" d="M1633 5931l27-19-20-1-28 18z"/>
<path fill="#ff0b00" d="M1606 5949l27-18-21-2-27 18z"/>
<path fill="#ff0b00" d="M1578 5967l28-18-21-2-28 18z"/>
<path fill="#ff0b00" d="M1551 5985l27-18-21-2-27 18z"/>
<path fill="#ff1500" d="M1523 6003l28-18-21-2-27 17z"/>
<path fill="#ff1500" d="M1496 6020l27-17-20-3-28 18z"/>
<path fill="#ff1500" d="M1468 6038l28-18-21-2-27 17z"/>
<path fill="#ff1500" d="M1441 6055l27-17-20-3-28 17z"/>
<path fill="#ff1500" d="M1414 6073l27-18-21-3-27 18z"/>
<path fill="#ff1500" d="M1386 6090l28-17-21-3-28 17z"/>
<path fill="#ff2000" d="M1359 6108l27-18-21-3-27 17z"/>
<path fill="#ff2000" d="M1331 6125l28-17-21-4-27 17z"/>
<path fill="#ff2000" d="M1304 6143l27-18-20-4-28 18z"/>
<path fill="#ff2000" d="M1277 6161l27-18-21-4-27 17z"/>
<path fill="#ff2000" d="M1249 6178l28-17-21-5-28 18z"/>
<path fill="#ff2a00" d="M1222 6196l27-18-21-4-27 17z"/>
<path fill="#ff2a00" d="M1194 6213l28-17-21-5-27 17z"/>
<path fill="#ff2a00" d="M1167 6231l27-18-20-5-28 18z"/>
<path fill="#ff2a00" d="M1139 6249l28-18-21-5-27 17z"/>
<path fill="#ff2a00" d="M1112 6266l27-17-20-6-28 17z"/>
<path fill="#ff3500" d="M1085 6284l27-18-21-6-27 18z"/>
<path fill="#ff3500" d="M1057 6301l28-17-21-6-28 17z"/>
<path fill="#ff3500" d="M1030 6319l27-18-21-6-27 17z"/>
<path fill="#ff3500" d="M1002 6336l28-17-21-7-27 17z"/>
<path fill="#ff3500" d="M975 6353l27-17-20-7-28 18z"/>
<path fill="#ff3500" d="M948 6371l27-18-21-6-27 16z"/>
<path class="m" d="M2565 5561l-21-2M2455 5554l-20 2M2318 5553l-20 6M2181 5576l-20 10M2044 5640l-21 8M1907 5733l-21 4M1770 5835l-21 0M1633 5931l-21-2M1496 6020l-21-2M1359 6108l-21-4M1222 6196l-21-5M1085 6284l-21-6M948 6371l-21-8"/>
<path fill="#ff2000" d="M2558 5561l28 3-21-3-27-1z"/>
<path fill="#ff1500" d="M2531 5558l27 3-20-1-28-2z"/>
<path fill="#ff0b00" d="M2504 5556l27 2-21 0-27-2z"/>
<path fill="#ff0b00" d="M2476 5553l28 3-21 0-28-2z"/>
<path fill="#f00" d="M2449 5550l27 3-21 1-27-1z"/>
<path fill="#f40000" d="M2421 5548l28 2-21 3-27-1z"/>
<path fill="#f40000" d="M2394 5546l27 2-20 4-28-1z"/>
<path fill="#f40000" d="M2366 5545l28 1-21 5-27 1z"/>
<path fill="#f40000" d="M2339 5545l27 0-20 7-28 1z"/>
<path fill="#f40000" d="M2312 5546l27-1-21 8-27 2z"/>
<path fill="#f40000" d="M2284 5548l28-2-21 9-27 3z"/>
<path fill="#f40000" d="M2257 5552l27-4-20 10-28 4z"/>
<path fill="#f40000" d="M2229 5557l28-5-21 10-27 6z"/>
<path fill="#f40000" d="M2202 5565l27-8-20 11-28 8z"/>
<path fill="#f40000" d="M2175 5574l27-9-21 11-27 10z"/>
<path fill="#f40000" d="M2147 5585l28-11-21 12-28 11z"/>
<path fill="#f40000" d="M2120 5599l27-14-21 12-27 13z"/>
<path fill="#f40000" d="M2092 5614l28-15-21 11-27 14z"/>
<path fill="#f40000" d="M2065 5630l27-16-20 10-28 16z"/>
<path fill="#f40000" d="M2037 5649l28-19-21 10-27 17z"/>
<path fill="#f40000" d="M2010 5668l27-19-20 8-28 18z"/>
<path fill="#f40000" d="M1983 5688l27-20-21 7-27 19z"/>
<path fill="#f40000" d="M1955 5708l28-20-21 6-27 19z"/>
<path fill="#f40000" d="M1928 5729l27-21-20 5-28 20z"/>
<path fill="#f40000" d="M1900 5750l28-21-21 4-27 21z"/>
<path fill="#f40000" d="M1873 5772l27-22-20 4-28 20z"/>
<path fill="#f40000" d="M1846 5793l27-21-21 2-27 20z"/>
<path fill="#f40000" d="M1818 5814l28-21-21 1-28 21z"/>
<path fill="#f40000" d="M1791 5835l27-21-21 1-27 20z"/>
<path fill="#f00" d="M1763 5855l28-20-21 0-27 20z"/>
<path fill="#f00" d="M1736 5875l27-20-20 0-28 19z"/>
<path fill="#f00" d="M1708 5894l28-19-21-1-27 20z"/>
<path fill="#ff0b00" d="M1681 5914l27-20-20 0-28 18z"/>
<path fill="#ff0b00" d="M1654 5932l27-18-21-2-27 19z"/>
<path fill="#ff0b00" d="M1626 5951l28-19-21-1-27 18z"/>
<path fill="#ff0b00" d="M1599 5969l27-18-20-2-28 18z"/>
<path fill="#ff0b00" d="M1571 5987l28-18-21-2-27 18z"/>
<path fill="#ff0b00" d="M1544 6005l27-18-20-2-28 18z"/>
<path fill="#ff0b00" d="M1517 6023l27-18-21-2-27 17z"/>
<path fill="#ff1500" d="M1489 6040l28-17-21-3-28 18z"/>
<path fill="#ff1500" d="M1462 6058l27-18-21-2-27 17z"/>
<path fill="#ff1500" d="M1434 6076l28-18-21-3-27 18z"/>
<path fill="#ff1500" d="M1407 6093l27-17-20-3-28 17z"/>
<path fill="#ff1500" d="M1379 6111l28-18-21-3-27 18z"/>
<path fill="#ff1500" d="M1352 6129l27-18-20-3-28 17z"/>
<path fill="#ff2000" d="M1325 6147l27-18-21-4-27 18z"/>
<path fill="#ff2000" d="M1297 6165l28-18-21-4-27 18z"/>
<path fill="#ff2000" d="M1270 6183l27-18-20-4-28 17z"/>
<path fill="#ff2000" d="M1242 6201l28-18-21-5-27 18z"/>
<path fill="#ff2a00" d="M1215 6219l27-18-20-5-28 17z"/>
<path fill="#ff2a00" d="M1188 6236l27-17-21-6-27 18z"/>
<path fill="#ff2a00" d="M1160 6254l28-18-21-5-28 18z"/>
<path fill="#ff2a00" d="M1133 6272l27-18-21-5-27 17z"/>
<path fill="#ff2a00" d="M1105 6290l28-18-21-6-27 18z"/>
<path fill="#ff3500" d="M1078 6308l27-18-20-6-28 17z"/>
<path fill="#ff3500" d="M1050 6325l28-17-21-7-27 18z"/>
<path fill="#ff3500" d="M1023 6343l27-18-20-6-28 17z"/>
<path fill="#ff3500" d="M996 6360l27-17-21-7-27 17z"/>
<path fill="#ff3500" d="M968 6377l28-17-21-7-27 18z"/>
<path class="m" d="M2586 5564l-21-3M2476 5553l-21 1M2339 5545l-21 8M2202 5565l-21 11M2065 5630l-21 10M1928 5729l-21 4M1791 5835l-21 0M1654 5932l-21-1M1517 6023l-21-3M1379 6111l-20-3M1242 6201l-20-5M1105 6290l-20-6M968 6377l-20-6"/>
<path fill="#ff2000" d="M2579 5563l28 3-21-2-28-3z"/>
<path fill="#ff1500" d="M2552 5559l27 4-21-2-27-3z"/>
<path fill="#ff0b00" d="M2524 5555l28 4-21-1-27-2z"/>
<path fill="#ff0b00" d="M2497 5551l27 4-20 1-28-3z"/>
<path fill="#f00" d="M2469 5547l28 4-21 2-27-3z"/>
<path fill="#f40000" d="M2442 5544l27 3-20 3-28-2z"/>
<path fill="#f40000" d="M2415 5541l27 3-21 4-27-2z"/>
<path fill="#f40000" d="M2387 5538l28 3-21 5-28-1z"/>
<path fill="#f40000" d="M2360 5536l27 2-21 7-27 0z"/>
<path fill="#f40000" d="M2332 5536l28 0-21 9-27 1z"/>
<path fill="#f40000" d="M2305 5537l27-1-20 10-28 2z"/>
<path fill="#f40000" d="M2278 5540l27-3-21 11-27 4z"/>
<path fill="#f40000" d="M2250 5544l28-4-21 12-28 5z"/>
<path fill="#f40000" d="M2223 5551l27-7-21 13-27 8z"/>
<path fill="#f40000" d="M2195 5560l28-9-21 14-27 9z"/>
<path fill="#f40000" d="M2168 5572l27-12-20 14-28 11z"/>
<path fill="#f40000" d="M2140 5586l28-14-21 13-27 14z"/>
<path fill="#f40000" d="M2113 5602l27-16-20 13-28 15z"/>
<path fill="#f40000" d="M2086 5620l27-18-21 12-27 16z"/>
<path fill="#f40000" d="M2058 5639l28-19-21 10-28 19z"/>
<path fill="#f40000" d="M2031 5659l27-20-21 10-27 19z"/>
<path fill="#f40000" d="M2003 5680l28-21-21 9-27 20z"/>
<path fill="#f40000" d="M1976 5702l27-22-20 8-28 20z"/>
<path fill="#f40000" d="M1949 5725l27-23-21 6-27 21z"/>
<path fill="#f40000" d="M1921 5747l28-22-21 4-28 21z"/>
<path fill="#f40000" d="M1894 5769l27-22-21 3-27 22z"/>
<path fill="#f40000" d="M1866 5791l28-22-21 3-27 21z"/>
<path fill="#f40000" d="M1839 5813l27-22-20 2-28 21z"/>
<path fill="#f40000" d="M1811 5834l28-21-21 1-27 21z"/>
<path fill="#f40000" d="M1784 5855l27-21-20 1-28 20z"/>
<path fill="#f00" d="M1757 5875l27-20-21 0-27 20z"/>
<path fill="#f00" d="M1729 5895l28-20-21 0-28 19z"/>
<path fill="#f00" d="M1702 5914l27-19-21-1-27 20z"/>
<path fill="#f00" d="M1674 5933l28-19-21 0-27 18z"/>
<path fill="#ff0b00" d="M1647 5952l27-19-20-1-28 19z"/>
<path fill="#ff0b00" d="M1620 5970l27-18-21-1-27 18z"/>
<path fill="#ff0b00" d="M1592 5988l28-18-21-1-28 18z"/>
<path fill="#ff0b00" d="M1565 6006l27-18-21-1-27 18z"/>
<path fill="#ff0b00" d="M1537 6024l28-18-21-1-27 18z"/>
<path fill="#ff0b00" d="M1510 6042l27-18-20-1-28 17z"/>
<path fill="#ff0b00" d="M1482 6060l28-18-21-2-27 18z"/>
<path fill="#ff1500" d="M1455 6078l27-18-20-2-28 18z"/>
<path fill="#ff1500" d="M1428 6096l27-18-21-2-27 17z"/>
<path fill="#ff1500" d="M1400 6114l28-18-21-3-28 18z"/>
<path fill="#ff1500" d="M1373 6132l27-18-21-3-27 18z"/>
<path fill="#ff1500" d="M1345 6150l28-18-21-3-27 18z"/>
<path fill="#ff2000" d="M1318 6169l27-19-20-3-28 18z"/>
<path fill="#ff2000" d="M1291 6187l27-18-21-4-27 18z"/>
<path fill="#ff2000" d="M1263 6205l28-18-21-4-28 18z"/>
<path fill="#ff2000" d="M1236 6223l27-18-21-4-27 18z"/>
<path fill="#ff2a00" d="M1208 6242l28-19-21-4-27 17z"/>
<path fill="#ff2a00" d="M1181 6260l27-18-20-6-28 18z"/>
<path fill="#ff2a00" d="M1153 6278l28-18-21-6-27 18z"/>
<path fill="#ff2a00" d="M1126 6296l27-18-20-6-28 18z"/>
<path fill="#ff3500" d="M1099 6314l27-18-21-6-27 18z"/>
<path fill="#ff3500" d="M1071 6332l28-18-21-6-28 17z"/>
<path fill="#ff3500" d="M1044 6349l27-17-21-7-27 18z"/>
<path fill="#ff3500" d="M1016 6367l28-18-21-6-27 17z"/>
<path fill="#ff3500" d="M989 6384l27-17-20-7-28 17z"/>
<path class="m" d="M2607 5566l-21-2M2497 5551l-21 2M2360 5536l-21 9M2223 5551l-21 14M2086 5620l-21 10M1949 5725l-21 4M1811 5834l-20 1M1674 5933l-20-1M1537 6024l-20-1M1400 6114l-21-3M1263 6205l-21-4M1126 6296l-21-6M989 6384l-21-7"/>
<path fill="#ff2000" d="M2600 5565l27 4-20-3-28-3z"/>
<path fill="#ff1500" d="M2572 5560l28 5-21-2-27-4z"/>
<path fill="#ff1500" d="M2545 5555l27 5-20-1-28-4z"/>
<path fill="#ff0b00" d="M2518 5550l27 5-21 0-27-4z"/>
<path fill="#f00" d="M2490 5544l28 6-21 1-28-4z"/>
<path fill="#f40000" d="M2463 5539l27 5-21 3-27-3z"/>
<path fill="#f40000" d="M2435 5534l28 5-21 5-27-3z"/>
<path fill="#f40000" d="M2408 5530l27 4-20 7-28-3z"/>
<path fill="#f40000" d="M2381 5527l27 3-21 8-27-2z"/>
<path fill="#f40000" d="M2353 5524l28 3-21 9-28 0z"/>
<path fill="#f40000" d="M2326 5524l27 0-21 12-27 1z"/>
<path fill="#f40000" d="M2298 5525l28-1-21 13-27 3z"/>
<path fill="#f40000" d="M2271 5529l27-4-20 15-28 4z"/>
<path fill="#f40000" d="M2243 5535l28-6-21 15-27 7z"/>
<path fill="#f40000" d="M2216 5544l27-9-20 16-28 9z"/>
<path fill="#f40000" d="M2189 5556l27-12-21 16-27 12z"/>
<path fill="#f40000" d="M2161 5571l28-15-21 16-28 14z"/>
<path fill="#f40000" d="M2134 5588l27-17-21 15-27 16z"/>
<path fill="#f40000" d="M2106 5607l28-19-21 14-27 18z"/>
<path fill="#f40000" d="M2079 5628l27-21-20 13-28 19z"/>
<path fill="#f40000" d="M2052 5650l27-22-21 11-27 20z"/>
<path fill="#f40000" d="M2024 5672l28-22-21 9-28 21z"/>
<path fill="#f40000" d="M1997 5696l27-24-21 8-27 22z"/>
<path fill="#f40000" d="M1969 5719l28-23-21 6-27 23z"/>
<path fill="#f40000" d="M1942 5743l27-24-20 6-28 22z"/>
<path fill="#f40000" d="M1914 5766l28-23-21 4-27 22z"/>
<path fill="#f40000" d="M1887 5789l27-23-20 3-28 22z"/>
<path fill="#f40000" d="M1860 5812l27-23-21 2-27 22z"/>
<path fill="#f40000" d="M1832 5833l28-21-21 1-28 21z"/>
<path fill="#f40000" d="M1805 5855l27-22-21 1-27 21z"/>
<path fill="#f00" d="M1777 5875l28-20-21 0-27 20z"/>
<path fill="#f00" d="M1750 5895l27-20-20 0-28 20z"/>
<path fill="#f00" d="M1723 5915l27-20-21 0-27 19z"/>
<path fill="#f00" d="M1695 5934l28-19-21-1-28 19z"/>
<path fill="#f00" d="M1668 5953l27-19-21-1-27 19z"/>
<path fill="#f00" d="M1640 5971l28-18-21-1-27 18z"/>
<path fill="#f00" d="M1613 5989l27-18-20-1-28 18z"/>
<path fill="#ff0b00" d="M1585 6007l28-18-21-1-27 18z"/>
<path fill="#ff0b00" d="M1558 6026l27-19-20-1-28 18z"/>
<path fill="#ff0b00" d="M1531 6044l27-18-21-2-27 18z"/>
<path fill="#ff0b00" d="M1503 6062l28-18-21-2-28 18z"/>
<path fill="#ff0b00" d="M1476 6080l27-18-21-2-27 18z"/>
<path fill="#ff0b00" d="M1448 6098l28-18-21-2-27 18z"/>
<path fill="#ff1500" d="M1421 6117l27-19-20-2-28 18z"/>
<path fill="#ff1500" d="M1394 6135l27-18-21-3-27 18z"/>
<path fill="#ff1500" d="M1366 6154l28-19-21-3-28 18z"/>
<path fill="#ff1500" d="M1339 6172l27-18-21-4-27 19z"/>
<path fill="#ff2000" d="M1311 6191l28-19-21-3-27 18z"/>
<path fill="#ff2000" d="M1284 6210l27-19-20-4-28 18z"/>
<path fill="#ff2000" d="M1256 6228l28-18-21-5-27 18z"/>
<path fill="#ff2a00" d="M1229 6247l27-19-20-5-28 19z"/>
<path fill="#ff2a00" d="M1202 6265l27-18-21-5-27 18z"/>
<path fill="#ff2a00" d="M1174 6284l28-19-21-5-28 18z"/>
<path fill="#ff2a00" d="M1147 6302l27-18-21-6-27 18z"/>
<path fill="#ff2a00" d="M1119 6320l28-18-21-6-27 18z"/>
<path fill="#ff3500" d="M1092 6338l27-18-20-6-28 18z"/>
<path fill="#ff3500" d="M1065 6356l27-18-21-6-27 17z"/>
<path fill="#ff3500" d="M1037 6373l28-17-21-7-28 18z"/>
<path fill="#ff3500" d="M1010 6391l27-18-21-6-27 17z"/>
<path class="m" d="M2627 5569l-20-3M2518 5550l-21 1M2381 5527l-21 9M2243 5535l-20 16M2106 5607l-20 13M1969 5719l-20 6M1832 5833l-21 1M1695 5934l-21-1M1558 6026l-21-2M1421 6117l-21-3M1284 6210l-21-5M1147 6302l-21-6M1010 6391l-21-7"/>
<path fill="#ff2000" d="M2621 5567l27 5-21-3-27-4z"/>
<path fill="#ff2000" d="M2593 5561l28 6-21-2-28-5z"/>
<path fill="#ff1500" d="M2566 5554l27 7-21-1-27-5z"/>
<path fill="#ff0b00" d="M2538 5548l28 6-21 1-27-5z"/>
<path fill="#f00" d="M2511 5541l27 7-20 2-28-6z"/>
<path fill="#f40000" d="M2484 5534l27 7-21 3-27-5z"/>
<path fill="#f40000" d="M2456 5527l28 7-21 5-28-5z"/>
<path fill="#f40000" d="M2429 5521l27 6-21 7-27-4z"/>
<path fill="#f40000" d="M2401 5516l28 5-21 9-27-3z"/>
<path fill="#f40000" d="M2374 5511l27 5-20 11-28-3z"/>
<path fill="#f40000" d="M2346 5509l28 2-21 13-27 0z"/>
<path fill="#f40000" d="M2319 5509l27 0-20 15-28 1z"/>
<path fill="#f40000" d="M2292 5511l27-2-21 16-27 4z"/>
<path fill="#f40000" d="M2264 5517l28-6-21 18-28 6z"/>
<path fill="#f40000" d="M2237 5525l27-8-21 18-27 9z"/>
<path fill="#f40000" d="M2209 5538l28-13-21 19-27 12z"/>
<path fill="#f40000" d="M2182 5553l27-15-20 18-28 15z"/>
<path fill="#f40000" d="M2155 5572l27-19-21 18-27 17z"/>
<path fill="#f40000" d="M2127 5593l28-21-21 16-28 19z"/>
<path fill="#f40000" d="M2100 5615l27-22-21 14-27 21z"/>
<path fill="#f40000" d="M2072 5639l28-24-21 13-27 22z"/>
<path fill="#f40000" d="M2045 5664l27-25-20 11-28 22z"/>
<path fill="#f40000" d="M2017 5689l28-25-21 8-27 24z"/>
<path fill="#f40000" d="M1990 5714l27-25-20 7-28 23z"/>
<path fill="#f40000" d="M1963 5739l27-25-21 5-27 24z"/>
<path fill="#f40000" d="M1935 5763l28-24-21 4-28 23z"/>
<path fill="#f40000" d="M1908 5787l27-24-21 3-27 23z"/>
<path fill="#f40000" d="M1880 5810l28-23-21 2-27 23z"/>
<path fill="#f40000" d="M1853 5833l27-23-20 2-28 21z"/>
<path fill="#f40000" d="M1826 5854l27-21-21 0-27 22z"/>
<path fill="#f40000" d="M1798 5875l28-21-21 1-28 20z"/>
<path fill="#f00" d="M1771 5895l27-20-21 0-27 20z"/>
<path fill="#f00" d="M1743 5915l28-20-21 0-27 20z"/>
<path fill="#f00" d="M1716 5934l27-19-20 0-28 19z"/>
<path fill="#f00" d="M1688 5953l28-19-21 0-27 19z"/>
<path fill="#f00" d="M1661 5971l27-18-20 0-28 18z"/>
<path fill="#f00" d="M1634 5990l27-19-21 0-27 18z"/>
<path fill="#f00" d="M1606 6008l28-18-21-1-28 18z"/>
<path fill="#f00" d="M1579 6026l27-18-21-1-27 19z"/>
<path fill="#f00" d="M1551 6045l28-19-21 0-27 18z"/>
<path fill="#ff0b00" d="M1524 6063l27-18-20-1-28 18z"/>
<path fill="#ff0b00" d="M1497 6082l27-19-21-1-27 18z"/>
<path fill="#ff0b00" d="M1469 6100l28-18-21-2-28 18z"/>
<path fill="#ff0b00" d="M1442 6119l27-19-21-2-27 19z"/>
<path fill="#ff1500" d="M1414 6138l28-19-21-2-27 18z"/>
<path fill="#ff1500" d="M1387 6157l27-19-20-3-28 19z"/>
<path fill="#ff1500" d="M1359 6176l28-19-21-3-27 18z"/>
<path fill="#ff2000" d="M1332 6195l27-19-20-4-28 19z"/>
<path fill="#ff2000" d="M1305 6214l27-19-21-4-27 19z"/>
<path fill="#ff2000" d="M1277 6233l28-19-21-4-28 18z"/>
<path fill="#ff2000" d="M1250 6252l27-19-21-5-27 19z"/>
<path fill="#ff2a00" d="M1222 6270l28-18-21-5-27 18z"/>
<path fill="#ff2a00" d="M1195 6289l27-19-20-5-28 19z"/>
<path fill="#ff2a00" d="M1168 6307l27-18-21-5-27 18z"/>
<path fill="#ff2a00" d="M1140 6326l28-19-21-5-28 18z"/>
<path fill="#ff2a00" d="M1113 6344l27-18-21-6-27 18z"/>
<path fill="#ff3500" d="M1085 6362l28-18-21-6-27 18z"/>
<path fill="#ff3500" d="M1058 6379l27-17-20-6-28 17z"/>
<path fill="#ff3500" d="M1030 6397l28-18-21-6-27 18z"/>
<path class="m" d="M2648 5572l-21-3M2600 5565l27 4M2572 5560l28 5M2545 5555l27 5M2518 5550l27 5M2538 5548l-20 2M2490 5544l28 6M2463 5539l27 5M2435 5534l28 5M2408 5530l27 4M2381 5527l27 3M2401 5516l-20 11M2353 5524l28 3M2326 5524l27 0M2298 5525l28-1M2271 5529l27-4M2243 5535l28-6M2264 5517l-21 18M2216 5544l27-9M2189 5556l27-12M2161 5571l28-15M2134 5588l27-17M2106 5607l28-19M2127 5593l-21 14M2079 5628l27-21M2052 5650l27-22M2024 5672l28-22M1997 5696l27-24M1969 5719l28-23M1990 5714l-21 5M1942 5743l27-24M1914 5766l28-23M1887 5789l27-23M1860 5812l27-23M1832 5833l28-21M1853 5833l-21 0M1805 5855l27-22M1777 5875l28-20M1750 5895l27-20M1723 5915l27-20M1695 5934l28-19M1716 5934l-21 0M1668 5953l27-19M1640 5971l28-18M1613 5989l27-18M1585 6007l28-18M1558 6026l27-19M1579 6026l-21 0M1531 6044l27-18M1503 6062l28-18M1476 6080l27-18M1448 6098l28-18M1421 6117l27-19M1442 6119l-21-2M1394 6135l27-18M1366 6154l28-19M1339 6172l27-18M1311 6191l28-19M1284 6210l27-19M1305 6214l-21-4M1256 6228l28-18M1229 6247l27-19M1202 6265l27-18M1174 6284l28-19M1147 6302l27-18M1168 6307l-21-5M1119 6320l28-18M1092 6338l27-18M1065 6356l27-18M1037 6373l28-17M1010 6391l27-18M1030 6397l-20-6"/>
<path fill="#ff2a00" d="M2641 5569l28 7-21-4-27-5z"/>
<path fill="#ff2000" d="M2614 5562l27 7-20-2-28-6z"/>
<path fill="#ff1500" d="M2587 5554l27 8-21-1-27-7z"/>
<path fill="#ff0b00" d="M2559 5546l28 8-21 0-28-6z"/>
<path fill="#f00" d="M2532 5538l27 8-21 2-27-7z"/>
<path fill="#f40000" d="M2504 5529l28 9-21 3-27-7z"/>
<path fill="#f40000" d="M2477 5520l27 9-20 5-28-7z"/>
<path fill="#f40000" d="M2449 5511l28 9-21 7-27-6z"/>
<path fill="#f40000" d="M2422 5503l27 8-20 10-28-5z"/>
<path fill="#f40000" d="M2395 5497l27 6-21 13-27-5z"/>
<path fill="#f40000" d="M2367 5492l28 5-21 14-28-2z"/>
<path fill="#f40000" d="M2340 5489l27 3-21 17-27 0z"/>
<path fill="#f40000" d="M2312 5490l28-1-21 20-27 2z"/>
<path fill="#f40000" d="M2285 5494l27-4-20 21-28 6z"/>
<path fill="#f40000" d="M2258 5503l27-9-21 23-27 8z"/>
<path fill="#f40000" d="M2230 5516l28-13-21 22-28 13z"/>
<path fill="#f40000" d="M2203 5533l27-17-21 22-27 15z"/>
<path fill="#f40000" d="M2175 5553l28-20-21 20-27 19z"/>
<path fill="#f40000" d="M2148 5576l27-23-20 19-28 21z"/>
<path fill="#f40000" d="M2120 5601l28-25-21 17-27 22z"/>
<path fill="#f40000" d="M2093 5627l27-26-20 14-28 24z"/>
<path fill="#f40000" d="M2066 5654l27-27-21 12-27 25z"/>
<path fill="#f40000" d="M2038 5681l28-27-21 10-28 25z"/>
<path fill="#f40000" d="M2011 5708l27-27-21 8-27 25z"/>
<path fill="#f40000" d="M1983 5734l28-26-21 6-27 25z"/>
<path fill="#f40000" d="M1956 5760l27-26-20 5-28 24z"/>
<path fill="#f40000" d="M1928 5785l28-25-21 3-27 24z"/>
<path fill="#f40000" d="M1901 5808l27-23-20 2-28 23z"/>
<path fill="#f40000" d="M1874 5831l27-23-21 2-27 23z"/>
<path fill="#f40000" d="M1846 5853l28-22-21 2-27 21z"/>
<path fill="#f40000" d="M1819 5874l27-21-20 1-28 21z"/>
<path fill="#f40000" d="M1791 5895l28-21-21 1-27 20z"/>
<path fill="#f40000" d="M1764 5914l27-19-20 0-28 20z"/>
<path fill="#f40000" d="M1737 5934l27-20-21 1-27 19z"/>
<path fill="#f40000" d="M1709 5952l28-18-21 0-28 19z"/>
<path fill="#f40000" d="M1682 5971l27-19-21 1-27 18z"/>
<path fill="#f00" d="M1654 5989l28-18-21 0-27 19z"/>
<path fill="#f00" d="M1627 6008l27-19-20 1-28 18z"/>
<path fill="#f00" d="M1599 6026l28-18-21 0-27 18z"/>
<path fill="#f00" d="M1572 6045l27-19-20 0-28 19z"/>
<path fill="#f00" d="M1545 6064l27-19-21 0-27 18z"/>
<path fill="#ff0b00" d="M1517 6083l28-19-21-1-27 19z"/>
<path fill="#ff0b00" d="M1490 6102l27-19-20-1-28 18z"/>
<path fill="#ff0b00" d="M1462 6121l28-19-21-2-27 19z"/>
<path fill="#ff0b00" d="M1435 6141l27-20-20-2-28 19z"/>
<path fill="#ff1500" d="M1408 6160l27-19-21-3-27 19z"/>
<path fill="#ff1500" d="M1380 6179l28-19-21-3-28 19z"/>
<path fill="#ff1500" d="M1353 6199l27-20-21-3-27 19z"/>
<path fill="#ff2000" d="M1325 6218l28-19-21-4-27 19z"/>
<path fill="#ff2000" d="M1298 6237l27-19-20-4-28 19z"/>
<path fill="#ff2000" d="M1270 6256l28-19-21-4-27 19z"/>
<path fill="#ff2000" d="M1243 6275l27-19-20-4-28 18z"/>
<path fill="#ff2a00" d="M1216 6294l27-19-21-5-27 19z"/>
<path fill="#ff2a00" d="M1188 6313l28-19-21-5-27 18z"/>
<path fill="#ff2a00" d="M1161 6331l27-18-20-6-28 19z"/>
<path fill="#ff2a00" d="M1133 6350l28-19-21-5-27 18z"/>
<path fill="#ff2a00" d="M1106 6368l27-18-20-6-28 18z"/>
<path fill="#ff2a00" d="M1079 6385l27-17-21-6-27 17z"/>
<path fill="#ff3500" d="M1051 6403l28-18-21-6-28 18z"/>
<path class="m" d="M2669 5576l-21-4M2559 5546l-21 2M2422 5503l-21 13M2285 5494l-21 23M2148 5576l-21 17M2011 5708l-21 6M1874 5831l-21 2M1737 5934l-21 0M1599 6026l-20 0M1462 6121l-20-2M1325 6218l-20-4M1188 6313l-20-6M1051 6403l-21-6"/>
<path fill="#ff2a00" d="M2662 5572l27 8-20-4-28-7z"/>
<path fill="#ff2000" d="M2635 5564l27 8-21-3-27-7z"/>
<path fill="#ff1500" d="M2607 5555l28 9-21-2-27-8z"/>
<path fill="#ff0b00" d="M2580 5545l27 10-20-1-28-8z"/>
<path fill="#f00" d="M2552 5534l28 11-21 1-27-8z"/>
<path fill="#f40000" d="M2525 5524l27 10-20 4-28-9z"/>
<path fill="#f40000" d="M2498 5512l27 12-21 5-27-9z"/>
<path fill="#f40000" d="M2470 5501l28 11-21 8-28-9z"/>
<path fill="#f40000" d="M2443 5490l27 11-21 10-27-8z"/>
<path fill="#f40000" d="M2415 5480l28 10-21 13-27-6z"/>
<path fill="#f40000" d="M2388 5472l27 8-20 17-28-5z"/>
<path fill="#f40000" d="M2360 5467l28 5-21 20-27-3z"/>
<path fill="#f40000" d="M2333 5465l27 2-20 22-28 1z"/>
<path fill="#f40000" d="M2306 5468l27-3-21 25-27 4z"/>
<path fill="#f40000" d="M2278 5476l28-8-21 26-27 9z"/>
<path fill="#f40000" d="M2251 5490l27-14-20 27-28 13z"/>
<path fill="#f40000" d="M2223 5509l28-19-21 26-27 17z"/>
<path fill="#f40000" d="M2196 5532l27-23-20 24-28 20z"/>
<path fill="#f40000" d="M2169 5558l27-26-21 21-27 23z"/>
<path fill="#f40000" d="M2141 5586l28-28-21 18-28 25z"/>
<path fill="#f40000" d="M2114 5615l27-29-21 15-27 26z"/>
<path fill="#f40000" d="M2086 5644l28-29-21 12-27 27z"/>
<path fill="#f40000" d="M2059 5673l27-29-20 10-28 27z"/>
<path fill="#f40000" d="M2031 5702l28-29-21 8-27 27z"/>
<path fill="#f40000" d="M2004 5730l27-28-20 6-28 26z"/>
<path fill="#f40000" d="M1977 5757l27-27-21 4-27 26z"/>
<path fill="#f40000" d="M1949 5782l28-25-21 3-28 25z"/>
<path fill="#f40000" d="M1922 5807l27-25-21 3-27 23z"/>
<path fill="#f40000" d="M1894 5830l28-23-21 1-27 23z"/>
<path fill="#f40000" d="M1867 5852l27-22-20 1-28 22z"/>
<path fill="#f40000" d="M1840 5873l27-21-21 1-27 21z"/>
<path fill="#f40000" d="M1812 5894l28-21-21 1-28 21z"/>
<path fill="#f40000" d="M1785 5913l27-19-21 1-27 19z"/>
<path fill="#f40000" d="M1757 5932l28-19-21 1-27 20z"/>
<path fill="#f40000" d="M1730 5951l27-19-20 2-28 18z"/>
<path fill="#f40000" d="M1702 5970l28-19-21 1-27 19z"/>
<path fill="#f40000" d="M1675 5988l27-18-20 1-28 18z"/>
<path fill="#f40000" d="M1648 6007l27-19-21 1-27 19z"/>
<path fill="#f40000" d="M1620 6026l28-19-21 1-28 18z"/>
<path fill="#f00" d="M1593 6045l27-19-21 0-27 19z"/>
<path fill="#f00" d="M1565 6064l28-19-21 0-27 19z"/>
<path fill="#f00" d="M1538 6084l27-20-20 0-28 19z"/>
<path fill="#f00" d="M1511 6103l27-19-21-1-27 19z"/>
<path fill="#ff0b00" d="M1483 6123l28-20-21-1-28 19z"/>
<path fill="#ff0b00" d="M1456 6143l27-20-21-2-27 20z"/>
<path fill="#ff0b00" d="M1428 6162l28-19-21-2-27 19z"/>
<path fill="#ff1500" d="M1401 6182l27-20-20-2-28 19z"/>
<path fill="#ff1500" d="M1373 6202l28-20-21-3-27 20z"/>
<path fill="#ff1500" d="M1346 6222l27-20-20-3-28 19z"/>
<path fill="#ff2000" d="M1319 6241l27-19-21-4-27 19z"/>
<path fill="#ff2000" d="M1291 6261l28-20-21-4-28 19z"/>
<path fill="#ff2000" d="M1264 6280l27-19-21-5-27 19z"/>
<path fill="#ff2a00" d="M1236 6299l28-19-21-5-27 19z"/>
<path fill="#ff2a00" d="M1209 6318l27-19-20-5-28 19z"/>
<path fill="#ff2a00" d="M1182 6337l27-19-21-5-27 18z"/>
<path fill="#ff2a00" d="M1154 6355l28-18-21-6-28 19z"/>
<path fill="#ff2a00" d="M1127 6373l27-18-21-5-27 18z"/>
<path fill="#ff2a00" d="M1099 6391l28-18-21-5-27 17z"/>
<path fill="#ff2a00" d="M1072 6409l27-18-20-6-28 18z"/>
<path class="m" d="M2689 5580l-20-4M2580 5545l-21 1M2443 5490l-21 13M2306 5468l-21 26M2169 5558l-21 18M2031 5702l-20 6M1894 5830l-20 1M1757 5932l-20 2M1620 6026l-21 0M1483 6123l-21-2M1346 6222l-21-4M1209 6318l-21-5M1072 6409l-21-6"/>
<path fill="#ff3500" d="M2683 5576l27 8-21-4-27-8z"/>
<path fill="#ff2a00" d="M2655 5566l28 10-21-4-27-8z"/>
<path fill="#ff2000" d="M2628 5556l27 10-20-2-28-9z"/>
<path fill="#ff1500" d="M2601 5544l27 12-21-1-27-10z"/>
<path fill="#ff0b00" d="M2573 5532l28 12-21 1-28-11z"/>
<path fill="#f00" d="M2546 5519l27 13-21 2-27-10z"/>
<path fill="#f40000" d="M2518 5505l28 14-21 5-27-12z"/>
<path fill="#f40000" d="M2491 5490l27 15-20 7-28-11z"/>
<path fill="#f40000" d="M2463 5476l28 14-21 11-27-11z"/>
<path fill="#f40000" d="M2436 5462l27 14-20 14-28-10z"/>
<path fill="#f40000" d="M2409 5449l27 13-21 18-27-8z"/>
<path fill="#f40000" d="M2381 5440l28 9-21 23-28-5z"/>
<path fill="#f40000" d="M2354 5435l27 5-21 27-27-2z"/>
<path fill="#f40000" d="M2326 5436l28-1-21 30-27 3z"/>
<path fill="#f40000" d="M2299 5444l27-8-20 32-28 8z"/>
<path fill="#f40000" d="M2272 5459l27-15-21 32-27 14z"/>
<path fill="#f40000" d="M2244 5481l28-22-21 31-28 19z"/>
<path fill="#f40000" d="M2217 5507l27-26-21 28-27 23z"/>
<path fill="#f40000" d="M2189 5537l28-30-21 25-27 26z"/>
<path fill="#f40000" d="M2162 5569l27-32-20 21-28 28z"/>
<path fill="#f40000" d="M2134 5601l28-32-21 17-27 29z"/>
<path fill="#f40000" d="M2107 5634l27-33-20 14-28 29z"/>
<path fill="#f40000" d="M2080 5665l27-31-21 10-27 29z"/>
<path fill="#f40000" d="M2052 5696l28-31-21 8-28 29z"/>
<path fill="#f40000" d="M2025 5725l27-29-21 6-27 28z"/>
<path fill="#f40000" d="M1997 5753l28-28-21 5-27 27z"/>
<path fill="#f40000" d="M1970 5780l27-27-20 4-28 25z"/>
<path fill="#f40000" d="M1943 5805l27-25-21 2-27 25z"/>
<path fill="#f40000" d="M1915 5829l28-24-21 2-28 23z"/>
<path fill="#f40000" d="M1888 5851l27-22-21 1-27 22z"/>
<path fill="#f40000" d="M1860 5872l28-21-21 1-27 21z"/>
<path fill="#f40000" d="M1833 5892l27-20-20 1-28 21z"/>
<path fill="#f40000" d="M1805 5911l28-19-21 2-27 19z"/>
<path fill="#f40000" d="M1778 5930l27-19-20 2-28 19z"/>
<path fill="#f40000" d="M1751 5949l27-19-21 2-27 19z"/>
<path fill="#f40000" d="M1723 5968l28-19-21 2-28 19z"/>
<path fill="#f40000" d="M1696 5987l27-19-21 2-27 18z"/>
<path fill="#f40000" d="M1668 6006l28-19-21 1-27 19z"/>
<path fill="#f40000" d="M1641 6025l27-19-20 1-28 19z"/>
<path fill="#f40000" d="M1614 6044l27-19-21 1-27 19z"/>
<path fill="#f40000" d="M1586 6064l28-20-21 1-28 19z"/>
<path fill="#f00" d="M1559 6084l27-20-21 0-27 20z"/>
<path fill="#f00" d="M1531 6104l28-20-21 0-27 19z"/>
<path fill="#f00" d="M1504 6124l27-20-20-1-28 20z"/>
<path fill="#ff0b00" d="M1476 6145l28-21-21-1-27 20z"/>
<path fill="#ff0b00" d="M1449 6165l27-20-20-2-28 19z"/>
<path fill="#ff1500" d="M1422 6185l27-20-21-3-27 20z"/>
<path fill="#ff1500" d="M1394 6205l28-20-21-3-28 20z"/>
<path fill="#ff1500" d="M1367 6226l27-21-21-3-27 20z"/>
<path fill="#ff2000" d="M1339 6246l28-20-21-4-27 19z"/>
<path fill="#ff2000" d="M1312 6265l27-19-20-5-28 20z"/>
<path fill="#ff2000" d="M1285 6285l27-20-21-4-27 19z"/>
<path fill="#ff2000" d="M1257 6304l28-19-21-5-28 19z"/>
<path fill="#ff2a00" d="M1230 6323l27-19-21-5-27 19z"/>
<path fill="#ff2a00" d="M1202 6342l28-19-21-5-27 19z"/>
<path fill="#ff2a00" d="M1175 6361l27-19-20-5-28 18z"/>
<path fill="#ff2a00" d="M1147 6379l28-18-21-6-27 18z"/>
<path fill="#ff2a00" d="M1120 6397l27-18-20-6-28 18z"/>
<path fill="#ff2a00" d="M1093 6415l27-18-21-6-27 18z"/>
<path class="m" d="M2710 5584l-21-4M2601 5544l-21 1M2463 5476l-20 14M2326 5436l-20 32M2189 5537l-20 21M2052 5696l-21 6M1915 5829l-21 1M1778 5930l-21 2M1641 6025l-21 1M1504 6124l-21-1M1367 6226l-21-4M1230 6323l-21-5M1093 6415l-21-6"/>
<path fill="#ff3500" d="M2704 5580l27 10-21-6-27-8z"/>
<path fill="#ff2a00" d="M2676 5569l28 11-21-4-28-10z"/>
<path fill="#ff2000" d="M2649 5558l27 11-21-3-27-10z"/>
<path fill="#ff1500" d="M2621 5544l28 14-21-2-27-12z"/>
<path fill="#ff0b00" d="M2594 5530l27 14-20 0-28-12z"/>
<path fill="#f00" d="M2566 5514l28 16-21 2-27-13z"/>
<path fill="#f40000" d="M2539 5497l27 17-20 5-28-14z"/>
<path fill="#f40000" d="M2512 5479l27 18-21 8-27-15z"/>
<path fill="#f40000" d="M2484 5460l28 19-21 11-28-14z"/>
<path fill="#f40000" d="M2457 5442l27 18-21 16-27-14z"/>
<path fill="#f40000" d="M2429 5424l28 18-21 20-27-13z"/>
<path fill="#f40000" d="M2402 5409l27 15-20 25-28-9z"/>
<path fill="#f40000" d="M2375 5400l27 9-21 31-27-5z"/>
<path fill="#f40000" d="M2347 5397l28 3-21 35-28 1z"/>
<path fill="#f40000" d="M2320 5405l27-8-21 39-27 8z"/>
<path fill="#f40000" d="M2292 5422l28-17-21 39-27 15z"/>
<path fill="#f40000" d="M2265 5448l27-26-20 37-28 22z"/>
<path fill="#f40000" d="M2237 5479l28-31-21 33-27 26z"/>
<path fill="#f40000" d="M2210 5514l27-35-20 28-28 30z"/>
<path fill="#f40000" d="M2183 5551l27-37-21 23-27 32z"/>
<path fill="#f40000" d="M2155 5587l28-36-21 18-28 32z"/>
<path fill="#f40000" d="M2128 5623l27-36-21 14-27 33z"/>
<path fill="#f40000" d="M2100 5658l28-35-21 11-27 31z"/>
<path fill="#f40000" d="M2073 5690l27-32-20 7-28 31z"/>
<path fill="#f40000" d="M2046 5721l27-31-21 6-27 29z"/>
<path fill="#f40000" d="M2018 5751l28-30-21 4-28 28z"/>
<path fill="#f40000" d="M1991 5778l27-27-21 2-27 27z"/>
<path fill="#f40000" d="M1963 5803l28-25-21 2-27 25z"/>
<path fill="#f40000" d="M1936 5827l27-24-20 2-28 24z"/>
<path fill="#f40000" d="M1908 5849l28-22-21 2-27 22z"/>
<path fill="#f40000" d="M1881 5869l27-20-20 2-28 21z"/>
<path fill="#f40000" d="M1854 5889l27-20-21 3-27 20z"/>
<path fill="#f40000" d="M1826 5908l28-19-21 3-28 19z"/>
<path fill="#f40000" d="M1799 5927l27-19-21 3-27 19z"/>
<path fill="#f40000" d="M1771 5946l28-19-21 3-27 19z"/>
<path fill="#f40000" d="M1744 5965l27-19-20 3-28 19z"/>
<path fill="#f40000" d="M1717 5984l27-19-21 3-27 19z"/>
<path fill="#f40000" d="M1689 6003l28-19-21 3-28 19z"/>
<path fill="#f40000" d="M1662 6023l27-20-21 3-27 19z"/>
<path fill="#f40000" d="M1634 6043l28-20-21 2-27 19z"/>
<path fill="#f40000" d="M1607 6063l27-20-20 1-28 20z"/>
<path fill="#f40000" d="M1579 6084l28-21-21 1-27 20z"/>
<path fill="#f00" d="M1552 6104l27-20-20 0-28 20z"/>
<path fill="#f00" d="M1525 6125l27-21-21 0-27 20z"/>
<path fill="#ff0b00" d="M1497 6146l28-21-21-1-28 21z"/>
<path fill="#ff0b00" d="M1470 6167l27-21-21-1-27 20z"/>
<path fill="#ff0b00" d="M1442 6188l28-21-21-2-27 20z"/>
<path fill="#ff1500" d="M1415 6208l27-20-20-3-28 20z"/>
<path fill="#ff1500" d="M1388 6229l27-21-21-3-27 21z"/>
<path fill="#ff1500" d="M1360 6249l28-20-21-3-28 20z"/>
<path fill="#ff2000" d="M1333 6270l27-21-21-3-27 19z"/>
<path fill="#ff2000" d="M1305 6289l28-19-21-5-27 20z"/>
<path fill="#ff2000" d="M1278 6309l27-20-20-4-28 19z"/>
<path fill="#ff2000" d="M1250 6328l28-19-21-5-27 19z"/>
<path fill="#ff2000" d="M1223 6347l27-19-20-5-28 19z"/>
<path fill="#ff2a00" d="M1196 6366l27-19-21-5-27 19z"/>
<path fill="#ff2a00" d="M1168 6384l28-18-21-5-28 18z"/>
<path fill="#ff2a00" d="M1141 6402l27-18-21-5-27 18z"/>
<path fill="#ff2a00" d="M1113 6420l28-18-21-5-27 18z"/>
<path class="m" d="M2731 5590l-21-6M2621 5544l-20 0M2484 5460l-21 16M2347 5397l-21 39M2210 5514l-21 23M2073 5690l-21 6M1936 5827l-21 2M1799 5927l-21 3M1662 6023l-21 2M1525 6125l-21-1M1388 6229l-21-3M1250 6328l-20-5M1113 6420l-20-5"/>
<path fill="#ff4000" d="M2724 5586l28 10-21-6-27-10z"/>
<path fill="#ff3500" d="M2697 5574l27 12-20-6-28-11z"/>
<path fill="#ff2a00" d="M2669 5561l28 13-21-5-27-11z"/>
<path fill="#ff2000" d="M2642 5546l27 15-20-3-28-14z"/>
<path fill="#ff1500" d="M2615 5529l27 17-21-2-27-14z"/>
<path fill="#ff1500" class="c" d="M2604 5530l28 15-11-1-27-14z"/>
<path fill="#ff2000" class="c" d="M2628 5538l14 8-10-1-14-8z"/>
<path fill="#ff1500" class="c" d="M2615 5529l13 9-10-1-14-7z"/>
<path fill="#ff0b00" d="M2587 5511l28 18-21 1-28-16z"/>
<path fill="#ff0b00" class="c" d="M2591 5521l13 9-10 0-14-8z"/>
<path fill="#f00" class="c" d="M2577 5513l14 8-11 1-14-8z"/>
<path fill="#ff0b00" class="c" d="M2587 5511l28 18-11 1-27-17z"/>
<path fill="#f00" d="M2560 5491l27 20-21 3-27-17z"/>
<path fill="#f40000" d="M2532 5469l28 22-21 6-27-18z"/>
<path fill="#f40000" d="M2505 5445l27 24-20 10-28-19z"/>
<path fill="#f40000" d="M2478 5421l27 24-21 15-27-18z"/>
<path fill="#f40000" d="M2450 5396l28 25-21 21-28-18z"/>
<path fill="#f40000" d="M2423 5373l27 23-21 28-27-15z"/>
<path fill="#f40000" d="M2395 5356l28 17-21 36-27-9z"/>
<path fill="#f40000" d="M2368 5349l27 7-20 44-28-3z"/>
<path fill="#f40000" d="M2340 5356l28-7-21 48-27 8z"/>
<path fill="#f40000" d="M2313 5376l27-20-20 49-28 17z"/>
<path fill="#f40000" d="M2286 5408l27-32-21 46-27 26z"/>
<path fill="#f40000" d="M2258 5447l28-39-21 40-28 31z"/>
<path fill="#f40000" d="M2231 5489l27-42-21 32-27 35z"/>
<path fill="#f40000" d="M2203 5532l28-43-21 25-27 37z"/>
<path fill="#f40000" d="M2176 5574l27-42-20 19-28 36z"/>
<path fill="#f40000" d="M2149 5613l27-39-21 13-27 36z"/>
<path fill="#f40000" d="M2121 5651l28-38-21 10-28 35z"/>
<path fill="#f40000" d="M2094 5686l27-35-21 7-27 32z"/>
<path fill="#f40000" d="M2066 5718l28-32-21 4-27 31z"/>
<path fill="#f40000" d="M2039 5748l27-30-20 3-28 30z"/>
<path fill="#f40000" d="M2011 5776l28-28-21 3-27 27z"/>
<path fill="#f40000" d="M1984 5801l27-25-20 2-28 25z"/>
<path fill="#f40000" d="M1957 5824l27-23-21 2-27 24z"/>
<path fill="#f40000" d="M1929 5846l28-22-21 3-28 22z"/>
<path fill="#f40000" d="M1902 5866l27-20-21 3-27 20z"/>
<path fill="#f40000" d="M1874 5886l28-20-21 3-27 20z"/>
<path fill="#f40000" d="M1847 5905l27-19-20 3-28 19z"/>
<path fill="#f40000" d="M1819 5923l28-18-21 3-27 19z"/>
<path fill="#f40000" d="M1792 5942l27-19-20 4-28 19z"/>
<path fill="#f40000" d="M1765 5961l27-19-21 4-27 19z"/>
<path fill="#f40000" d="M1737 5981l28-20-21 4-27 19z"/>
<path fill="#f40000" d="M1710 6000l27-19-20 3-28 19z"/>
<path fill="#f40000" d="M1682 6021l28-21-21 3-27 20z"/>
<path fill="#f40000" d="M1655 6041l27-20-20 2-28 20z"/>
<path fill="#f40000" d="M1628 6062l27-21-21 2-27 20z"/>
<path fill="#f40000" d="M1600 6083l28-21-21 1-28 21z"/>
<path fill="#f40000" d="M1573 6104l27-21-21 1-27 20z"/>
<path fill="#f00" d="M1545 6126l28-22-21 0-27 21z"/>
<path fill="#f00" d="M1518 6147l27-21-20-1-28 21z"/>
<path fill="#ff0b00" d="M1490 6169l28-22-21-1-27 21z"/>
<path fill="#ff0b00" d="M1463 6190l27-21-20-2-28 21z"/>
<path fill="#ff1500" d="M1436 6211l27-21-21-2-27 20z"/>
<path fill="#ff1500" d="M1408 6232l28-21-21-3-27 21z"/>
<path fill="#ff1500" d="M1381 6253l27-21-20-3-28 20z"/>
<path fill="#ff1500" d="M1353 6273l28-20-21-4-27 21z"/>
<path fill="#ff2000" d="M1326 6293l27-20-20-3-28 19z"/>
<path fill="#ff2000" d="M1299 6313l27-20-21-4-27 20z"/>
<path fill="#ff2000" d="M1271 6332l28-19-21-4-28 19z"/>
<path fill="#ff2000" d="M1244 6351l27-19-21-4-27 19z"/>
<path fill="#ff2000" d="M1216 6370l28-19-21-4-27 19z"/>
<path fill="#ff2000" d="M1189 6389l27-19-20-4-28 18z"/>
<path fill="#ff2a00" d="M1161 6407l28-18-21-5-27 18z"/>
<path fill="#ff2a00" d="M1134 6426l27-19-20-5-28 18z"/>
<path class="m" d="M2752 5596l-21-6M2704 5580l27 10M2676 5569l28 11M2649 5558l27 11M2621 5544l28 14M2642 5546l-21-2M2594 5530l27 14M2566 5514l28 16M2539 5497l27 17M2512 5479l27 18M2484 5460l28 19M2505 5445l-21 15M2457 5442l27 18M2429 5424l28 18M2402 5409l27 15M2375 5400l27 9M2347 5397l28 3M2368 5349l-21 48M2320 5405l27-8M2292 5422l28-17M2265 5448l27-26M2237 5479l28-31M2210 5514l27-35M2231 5489l-21 25M2183 5551l27-37M2155 5587l28-36M2128 5623l27-36M2100 5658l28-35M2073 5690l27-32M2094 5686l-21 4M2046 5721l27-31M2018 5751l28-30M1991 5778l27-27M1963 5803l28-25M1936 5827l27-24M1957 5824l-21 3M1908 5849l28-22M1881 5869l27-20M1854 5889l27-20M1826 5908l28-19M1799 5927l27-19M1819 5923l-20 4M1771 5946l28-19M1744 5965l27-19M1717 5984l27-19M1689 6003l28-19M1662 6023l27-20M1682 6021l-20 2M1634 6043l28-20M1607 6063l27-20M1579 6084l28-21M1552 6104l27-20M1525 6125l27-21M1545 6126l-20-1M1497 6146l28-21M1470 6167l27-21M1442 6188l28-21M1415 6208l27-20M1388 6229l27-21M1408 6232l-20-3M1360 6249l28-20M1333 6270l27-21M1305 6289l28-19M1278 6309l27-20M1250 6328l28-19M1271 6332l-21-4M1223 6347l27-19M1196 6366l27-19M1168 6384l28-18M1141 6402l27-18M1113 6420l28-18M1134 6426l-21-6"/>
<path fill="#ff4a00" d="M2745 5592l27 12-20-8-28-10z"/>
<path fill="#ff4000" d="M2718 5580l27 12-21-6-27-12z"/>
<path fill="#ff3500" d="M2690 5565l28 15-21-6-28-13z"/>
<path fill="#ff2a00" d="M2663 5549l27 16-21-4-27-15z"/>
<path fill="#ff2a00" class="c" d="M2652 5547l28 16-11-2-27-15z"/>
<path fill="#ff3500" class="c" d="M2676 5557l14 8-10-2-14-8z"/>
<path fill="#ff2a00" class="c" d="M2663 5549l13 8-10-2-14-8z"/>
<path fill="#ff2000" d="M2635 5530l28 19-21-3-27-17z"/>
<path fill="#ff2000" class="c" d="M2625 5530l27 17-10-1-27-17z"/>
<path fill="#ff2a00" class="c" d="M2649 5540l14 9-11-2-13-8z"/>
<path fill="#ff2000" class="c" d="M2635 5530l14 10-10-1-14-9z"/>
<path fill="#ff1500" d="M2608 5510l27 20-20-1-28-18z"/>
<path fill="#ff1500" class="c" d="M2611 5520l14 10-10-1-14-9z"/>
<path fill="#ff0b00" class="c" d="M2598 5510l13 10-10 0-14-9z"/>
<path fill="#ff2000" class="c" d="M2622 5520l13 10-10 0-14-10z"/>
<path fill="#ff1500" class="c" d="M2608 5510l14 10-11 0-13-10z"/>
<path fill="#ff0b00" d="M2580 5487l28 23-21 1-27-20z"/>
<path fill="#ff0b00" class="c" d="M2584 5500l14 10-11 1-14-10z"/>
<path fill="#f00" class="c" d="M2570 5489l14 11-11 1-13-10z"/>
<path fill="#ff0b00" class="c" d="M2594 5498l14 12-10 0-14-10z"/>
<path fill="#f00" class="c" d="M2580 5487l14 11-10 2-14-11z"/>
<path fill="#f00" d="M2553 5461l27 26-20 4-28-22z"/>
<path fill="#f40000" d="M2526 5431l27 30-21 8-27-24z"/>
<path fill="#f40000" d="M2498 5400l28 31-21 14-27-24z"/>
<path fill="#f40000" d="M2471 5366l27 34-20 21-28-25z"/>
<path fill="#f40000" d="M2443 5332l28 34-21 30-27-23z"/>
<path fill="#f40000" d="M2416 5303l27 29-20 41-28-17z"/>
<path fill="#f40000" d="M2389 5287l27 16-21 53-27-7z"/>
<path fill="#f40000" d="M2361 5292l28-5-21 62-28 7z"/>
<path fill="#f40000" d="M2334 5319l27-27-21 64-27 20z"/>
<path fill="#f40000" d="M2306 5362l28-43-21 57-27 32z"/>
<path fill="#f40000" d="M2279 5412l27-50-20 46-28 39z"/>
<path fill="#f40000" d="M2251 5464l28-52-21 35-27 42z"/>
<path fill="#f40000" d="M2224 5514l27-50-20 25-28 43z"/>
<path fill="#f40000" d="M2197 5561l27-47-21 18-27 42z"/>
<path fill="#f40000" d="M2169 5605l28-44-21 13-27 39z"/>
<path fill="#f40000" d="M2142 5645l27-40-20 8-28 38z"/>
<path fill="#f40000" d="M2114 5682l28-37-21 6-27 35z"/>
<path fill="#f40000" d="M2087 5716l27-34-20 4-28 32z"/>
<path fill="#f40000" d="M2060 5746l27-30-21 2-27 30z"/>
<path fill="#f40000" d="M2032 5774l28-28-21 2-28 28z"/>
<path fill="#f40000" d="M2005 5799l27-25-21 2-27 25z"/>
<path fill="#f40000" d="M1977 5822l28-23-21 2-27 23z"/>
<path fill="#f40000" d="M1950 5842l27-20-20 2-28 22z"/>
<path fill="#f40000" d="M1922 5862l28-20-21 4-27 20z"/>
<path fill="#f40000" d="M1895 5881l27-19-20 4-28 20z"/>
<path fill="#f40000" d="M1868 5899l27-18-21 5-27 19z"/>
<path fill="#f40000" d="M1840 5918l28-19-21 6-28 18z"/>
<path fill="#f40000" d="M1813 5937l27-19-21 5-27 19z"/>
<path fill="#f40000" d="M1785 5956l28-19-21 5-27 19z"/>
<path fill="#f40000" d="M1758 5976l27-20-20 5-28 20z"/>
<path fill="#f40000" d="M1731 5996l27-20-21 5-27 19z"/>
<path fill="#f40000" d="M1703 6017l28-21-21 4-28 21z"/>
<path fill="#f40000" d="M1676 6038l27-21-21 4-27 20z"/>
<path fill="#f40000" d="M1648 6060l28-22-21 3-27 21z"/>
<path fill="#f40000" d="M1621 6082l27-22-20 2-28 21z"/>
<path fill="#f40000" d="M1593 6104l28-22-21 1-27 21z"/>
<path fill="#f00" d="M1566 6126l27-22-20 0-28 22z"/>
<path fill="#f00" d="M1539 6148l27-22-21 0-27 21z"/>
<path fill="#f00" d="M1511 6170l28-22-21-1-28 22z"/>
<path fill="#ff0b00" d="M1484 6192l27-22-21-1-27 21z"/>
<path fill="#ff0b00" d="M1456 6214l28-22-21-2-27 21z"/>
<path fill="#ff1500" d="M1429 6235l27-21-20-3-28 21z"/>
<path fill="#ff1500" d="M1402 6256l27-21-21-3-27 21z"/>
<path fill="#ff1500" d="M1374 6277l28-21-21-3-28 20z"/>
<path fill="#ff1500" d="M1347 6297l27-20-21-4-27 20z"/>
<path fill="#ff2000" d="M1319 6317l28-20-21-4-27 20z"/>
<path fill="#ff2000" d="M1292 6336l27-19-20-4-28 19z"/>
<path fill="#ff2000" d="M1264 6356l28-20-21-4-27 19z"/>
<path fill="#ff2000" d="M1237 6375l27-19-20-5-28 19z"/>
<path fill="#ff2000" d="M1210 6393l27-18-21-5-27 19z"/>
<path fill="#ff2000" d="M1182 6412l28-19-21-4-28 18z"/>
<path fill="#ff2a00" d="M1155 6431l27-19-21-5-27 19z"/>
<path class="m" d="M2772 5604l-20-8M2663 5549l-21-3M2526 5431l-21 14M2389 5287l-21 62M2251 5464l-20 25M2114 5682l-20 4M1977 5822l-20 2M1840 5918l-21 5M1703 6017l-21 4M1566 6126l-21 0M1429 6235l-21-3M1292 6336l-21-4M1155 6431l-21-5"/>
<path fill="#ff4a00" d="M2766 5600l27 12-21-8-27-12z"/>
<path fill="#ff4a00" d="M2738 5587l28 13-21-8-27-12z"/>
<path fill="#ff4000" d="M2711 5571l27 16-20-7-28-15z"/>
<path fill="#ff3500" d="M2683 5554l28 17-21-6-27-16z"/>
<path fill="#ff3500" class="c" d="M2673 5551l28 17-11-3-27-16z"/>
<path fill="#ff4000" class="c" d="M2697 5562l14 9-10-3-14-8z"/>
<path fill="#ff3500" class="c" d="M2683 5554l14 8-10-2-14-9z"/>
<path fill="#ff2a00" d="M2656 5534l27 20-20-5-28-19z"/>
<path fill="#ff2a00" class="c" d="M2646 5532l27 19-10-2-28-19z"/>
<path fill="#ff3500" class="c" d="M2656 5534l27 20-10-3-27-19z"/>
<path fill="#ff2000" d="M2629 5511l27 23-21-4-27-20z"/>
<path fill="#ff2000" class="c" d="M2618 5510l28 22-11-2-27-20z"/>
<path fill="#ff2a00" class="c" d="M2642 5522l14 12-10-2-14-11z"/>
<path fill="#ff2000" class="c" d="M2629 5511l13 11-10-1-14-11z"/>
<path fill="#ff1500" d="M2601 5485l28 26-21-1-28-23z"/>
<path fill="#ff1500" class="c" d="M2605 5498l13 12-10 0-14-12z"/>
<path fill="#ff0b00" class="c" d="M2591 5486l14 12-11 0-14-11z"/>
<path fill="#ff2000" class="c" d="M2615 5498l14 13-11-1-13-12z"/>
<path fill="#ff1500" class="c" d="M2601 5485l14 13-10 0-14-12z"/>
<path fill="#ff0b00" d="M2574 5455l27 30-21 2-27-26z"/>
<path fill="#f00" class="c" d="M2563 5458l28 28-11 1-27-26z"/>
<path fill="#ff0b00" class="c" d="M2574 5455l27 30-10 1-28-28z"/>
<path fill="#f00" d="M2546 5420l28 35-21 6-27-30z"/>
<path fill="#f40000" d="M2519 5381l27 39-20 11-28-31z"/>
<path fill="#f40000" d="M2492 5335l27 46-21 19-27-34z"/>
<path fill="#f40000" d="M2464 5286l28 49-21 31-28-34z"/>
<path fill="#f40000" d="M2437 5237l27 49-21 46-27-29z"/>
<path fill="#f40000" d="M2409 5204l28 33-21 66-27-16z"/>
<path fill="#f40000" d="M2382 5204l27 0-20 83-28 5z"/>
<path fill="#f40000" d="M2354 5245l28-41-21 88-27 27z"/>
<path fill="#f40000" d="M2327 5308l27-63-20 74-28 43z"/>
<path fill="#f40000" d="M2300 5376l27-68-21 54-27 50z"/>
<path fill="#f40000" d="M2272 5440l28-64-21 36-28 52z"/>
<path fill="#f40000" d="M2245 5499l27-59-21 24-27 50z"/>
<path fill="#f40000" d="M2217 5552l28-53-21 15-27 47z"/>
<path fill="#f40000" d="M2190 5599l27-47-20 9-28 44z"/>
<path fill="#f40000" d="M2163 5642l27-43-21 6-27 40z"/>
<path fill="#f40000" d="M2135 5680l28-38-21 3-28 37z"/>
<path fill="#f40000" d="M2108 5714l27-34-21 2-27 34z"/>
<path fill="#f40000" d="M2080 5745l28-31-21 2-27 30z"/>
<path fill="#f40000" d="M2053 5772l27-27-20 1-28 28z"/>
<path fill="#f40000" d="M2025 5796l28-24-21 2-27 25z"/>
<path fill="#f40000" d="M1998 5818l27-22-20 3-28 23z"/>
<path fill="#f40000" d="M1971 5838l27-20-21 4-27 20z"/>
<path fill="#f40000" d="M1943 5857l28-19-21 4-28 20z"/>
<path fill="#f40000" d="M1916 5875l27-18-21 5-27 19z"/>
<path fill="#f40000" d="M1888 5893l28-18-21 6-27 18z"/>
<path fill="#f40000" d="M1861 5911l27-18-20 6-28 19z"/>
<path fill="#f40000" d="M1834 5930l27-19-21 7-27 19z"/>
<path fill="#f40000" d="M1806 5950l28-20-21 7-28 19z"/>
<path fill="#f40000" d="M1779 5970l27-20-21 6-27 20z"/>
<path fill="#f40000" d="M1751 5991l28-21-21 6-27 20z"/>
<path fill="#f40000" d="M1724 6013l27-22-20 5-28 21z"/>
<path fill="#f40000" d="M1696 6035l28-22-21 4-27 21z"/>
<path fill="#f40000" d="M1669 6057l27-22-20 3-28 22z"/>
<path fill="#f40000" d="M1642 6080l27-23-21 3-27 22z"/>
<path fill="#f40000" d="M1614 6103l28-23-21 2-28 22z"/>
<path fill="#f40000" d="M1587 6126l27-23-21 1-27 22z"/>
<path fill="#f00" d="M1559 6149l28-23-21 0-27 22z"/>
<path fill="#f00" d="M1532 6172l27-23-20-1-28 22z"/>
<path fill="#ff0b00" d="M1505 6194l27-22-21-2-27 22z"/>
<path fill="#ff0b00" d="M1477 6216l28-22-21-2-28 22z"/>
<path fill="#ff0b00" d="M1450 6238l27-22-21-2-27 21z"/>
<path fill="#ff1500" d="M1422 6259l28-21-21-3-27 21z"/>
<path fill="#ff1500" d="M1395 6280l27-21-20-3-28 21z"/>
<path fill="#ff1500" d="M1367 6301l28-21-21-3-27 20z"/>
<path fill="#ff1500" d="M1340 6321l27-20-20-4-28 20z"/>
<path fill="#ff1500" d="M1313 6340l27-19-21-4-27 19z"/>
<path fill="#ff2000" d="M1285 6360l28-20-21-4-28 20z"/>
<path fill="#ff2000" d="M1258 6379l27-19-21-4-27 19z"/>
<path fill="#ff2000" d="M1230 6398l28-19-21-4-27 18z"/>
<path fill="#ff2000" d="M1203 6417l27-19-20-5-28 19z"/>
<path fill="#ff2a00" d="M1176 6436l27-19-21-5-27 19z"/>
<path class="m" d="M2793 5612l-21-8M2683 5554l-20-5M2546 5420l-20 11M2409 5204l-20 83M2272 5440l-21 24M2135 5680l-21 2M1998 5818l-21 4M1861 5911l-21 7M1724 6013l-21 4M1587 6126l-21 0M1450 6238l-21-3M1313 6340l-21-4M1176 6436l-21-5"/>
<path fill="#f50" d="M2786 5610l28 12-21-10-27-12z"/>
<path fill="#f50" d="M2759 5596l27 14-20-10-28-13z"/>
<path fill="#ff4a00" d="M2732 5579l27 17-21-9-27-16z"/>
<path fill="#ff4a00" d="M2704 5561l28 18-21-8-28-17z"/>
<path fill="#ff4000" class="c" d="M2694 5557l27 18-10-4-28-17z"/>
<path fill="#ff4a00" class="c" d="M2704 5561l28 18-11-4-27-18z"/>
<path fill="#ff4000" d="M2677 5540l27 21-21-7-27-20z"/>
<path fill="#ff4000" class="c" d="M2680 5547l14 10-11-3-13-10z"/>
<path fill="#ff3500" class="c" d="M2666 5537l14 10-10-3-14-10z"/>
<path fill="#ff4000" class="c" d="M2677 5540l27 21-10-4-28-20z"/>
<path fill="#ff3500" d="M2649 5515l28 25-21-6-27-23z"/>
<path fill="#ff3500" class="c" d="M2653 5525l13 12-10-3-14-12z"/>
<path fill="#ff2a00" class="c" d="M2639 5513l14 12-11-3-13-11z"/>
<path fill="#ff4000" class="c" d="M2663 5527l14 13-11-3-13-12z"/>
<path fill="#ff3500" class="c" d="M2649 5515l14 12-10-2-14-12z"/>
<path fill="#ff2a00" d="M2622 5487l27 28-20-4-28-26z"/>
<path fill="#ff2a00" class="c" d="M2625 5499l14 14-10-2-14-13z"/>
<path fill="#ff2000" class="c" d="M2612 5486l13 13-10-1-14-13z"/>
<path fill="#ff3500" class="c" d="M2636 5501l13 14-10-2-14-14z"/>
<path fill="#ff2a00" class="c" d="M2622 5487l14 14-11-2-13-13z"/>
<path fill="#ff1500" d="M2595 5453l27 34-21-2-27-30z"/>
<path fill="#ff1500" class="c" d="M2598 5470l14 16-11-1-13-15z"/>
<path fill="#ff0b00" class="c" d="M2584 5454l14 16-10 0-14-15z"/>
<path fill="#ff2000" class="c" d="M2595 5453l27 34-10-1-28-32z"/>
<path fill="#ff0b00" d="M2567 5414l28 39-21 2-28-35z"/>
<path fill="#ff0b00" class="c" d="M2570 5436l14 18-10 1-14-17z"/>
<path fill="#f00" class="c" d="M2557 5417l13 19-10 2-14-18z"/>
<path fill="#ff1500" class="c" d="M2581 5434l14 19-11 1-14-18z"/>
<path fill="#ff0b00" class="c" d="M2567 5414l14 20-11 2-13-19z"/>
<path fill="#f00" d="M2540 5367l27 47-21 6-27-39z"/>
<path fill="#f40000" d="M2512 5310l28 57-21 14-27-46z"/>
<path fill="#f40000" d="M2485 5240l27 70-20 25-28-49z"/>
<path fill="#f40000" d="M2457 5159l28 81-21 46-27-49z"/>
<path fill="#f40000" d="M2430 5083l27 76-20 78-28-33z"/>
<path fill="#f40000" d="M2403 5074l27 9-21 121-27 0z"/>
<path fill="#f40000" d="M2375 5150l28-76-21 130-28 41z"/>
<path fill="#f40000" d="M2348 5251l27-101-21 95-27 63z"/>
<path fill="#f40000" d="M2320 5343l28-92-21 57-27 68z"/>
<path fill="#f40000" d="M2293 5421l27-78-20 33-28 64z"/>
<path fill="#f40000" d="M2266 5488l27-67-21 19-27 59z"/>
<path fill="#f40000" d="M2238 5546l28-58-21 11-28 53z"/>
<path fill="#f40000" d="M2211 5597l27-51-21 6-27 47z"/>
<path fill="#f40000" d="M2183 5641l28-44-21 2-27 43z"/>
<path fill="#f40000" d="M2156 5680l27-39-20 1-28 38z"/>
<path fill="#f40000" d="M2128 5714l28-34-21 0-27 34z"/>
<path fill="#f40000" d="M2101 5744l27-30-20 0-28 31z"/>
<path fill="#f40000" d="M2074 5770l27-26-21 1-27 27z"/>
<path fill="#f40000" d="M2046 5793l28-23-21 2-28 24z"/>
<path fill="#f40000" d="M2019 5813l27-20-21 3-27 22z"/>
<path fill="#f40000" d="M1991 5832l28-19-21 5-27 20z"/>
<path fill="#f40000" d="M1964 5849l27-17-20 6-28 19z"/>
<path fill="#f40000" d="M1937 5867l27-18-21 8-27 18z"/>
<path fill="#f40000" d="M1909 5884l28-17-21 8-28 18z"/>
<path fill="#f40000" d="M1882 5903l27-19-21 9-27 18z"/>
<path fill="#f40000" d="M1854 5922l28-19-21 8-27 19z"/>
<path fill="#f40000" d="M1827 5942l27-20-20 8-28 20z"/>
<path fill="#f40000" d="M1799 5963l28-21-21 8-27 20z"/>
<path fill="#f40000" d="M1772 5985l27-22-20 7-28 21z"/>
<path fill="#f40000" d="M1745 6008l27-23-21 6-27 22z"/>
<path fill="#f40000" d="M1717 6031l28-23-21 5-28 22z"/>
<path fill="#f40000" d="M1690 6054l27-23-21 4-27 22z"/>
<path fill="#f40000" d="M1662 6078l28-24-21 3-27 23z"/>
<path fill="#f40000" d="M1635 6102l27-24-20 2-28 23z"/>
<path fill="#f40000" d="M1608 6126l27-24-21 1-27 23z"/>
<path fill="#f40000" d="M1580 6150l28-24-21 0-28 23z"/>
<path fill="#f00" d="M1553 6173l27-23-21-1-27 23z"/>
<path fill="#f00" d="M1525 6196l28-23-21-1-27 22z"/>
<path fill="#ff0b00" d="M1498 6219l27-23-20-2-28 22z"/>
<path fill="#ff0b00" d="M1470 6241l28-22-21-3-27 22z"/>
<path fill="#ff0b00" d="M1443 6262l27-21-20-3-28 21z"/>
<path fill="#ff1500" d="M1416 6283l27-21-21-3-27 21z"/>
<path fill="#ff1500" d="M1388 6303l28-20-21-3-28 21z"/>
<path fill="#ff1500" d="M1361 6324l27-21-21-2-27 20z"/>
<path fill="#ff1500" d="M1333 6343l28-19-21-3-27 19z"/>
<path fill="#ff1500" d="M1306 6363l27-20-20-3-28 20z"/>
<path fill="#ff2000" d="M1279 6383l27-20-21-3-27 19z"/>
<path fill="#ff2000" d="M1251 6402l28-19-21-4-28 19z"/>
<path fill="#ff2000" d="M1224 6422l27-20-21-4-27 19z"/>
<path fill="#ff2000" d="M1196 6441l28-19-21-5-27 19z"/>
<path class="m" d="M2814 5622l-21-10M2704 5561l-21-7M2567 5414l-21 6M2430 5083l-21 121M2293 5421l-21 19M2156 5680l-21 0M2019 5813l-21 5M1882 5903l-21 8M1745 6008l-21 5M1608 6126l-21 0M1470 6241l-20-3M1333 6343l-20-3M1196 6441l-20-5"/>
<path fill="#ff6000" d="M2807 5621l28 13-21-12-28-12z"/>
<path fill="#ff6000" d="M2780 5606l27 15-21-11-27-14z"/>
<path fill="#ff6000" d="M2752 5590l28 16-21-10-27-17z"/>
<path fill="#f50" d="M2725 5570l27 20-20-11-28-18z"/>
<path fill="#ff4a00" d="M2698 5548l27 22-21-9-27-21z"/>
<path fill="#ff4a00" class="c" d="M2687 5544l28 22-11-5-27-21z"/>
<path fill="#f50" class="c" d="M2698 5548l27 22-10-4-28-22z"/>
<path fill="#ff4a00" d="M2670 5523l28 25-21-8-28-25z"/>
<path fill="#ff4000" class="c" d="M2660 5519l27 25-10-4-28-25z"/>
<path fill="#ff4a00" class="c" d="M2670 5523l28 25-11-4-27-25z"/>
<path fill="#ff4000" d="M2643 5493l27 30-21-8-27-28z"/>
<path fill="#ff4000" class="c" d="M2646 5504l14 15-11-4-13-14z"/>
<path fill="#ff3500" class="c" d="M2632 5490l14 14-10-3-14-14z"/>
<path fill="#ff4a00" class="c" d="M2656 5508l14 15-10-4-14-15z"/>
<path fill="#ff4000" class="c" d="M2643 5493l13 15-10-4-14-14z"/>
<path fill="#ff3500" d="M2615 5458l28 35-21-6-27-34z"/>
<path fill="#ff2a00" class="c" d="M2605 5456l27 34-10-3-27-34z"/>
<path fill="#ff4000" class="c" d="M2629 5475l14 18-11-3-13-17z"/>
<path fill="#ff3500" class="c" d="M2615 5458l14 17-10-2-14-17z"/>
<path fill="#ff2a00" d="M2588 5415l27 43-20-5-28-39z"/>
<path fill="#ff2000" class="c" d="M2583 5428l18 27-6-2-19-26z"/>
<path fill="#ff1500" class="c" d="M2574 5415l9 13-7-1-9-13z"/>
<path fill="#ff2a00" class="c" d="M2590 5429l18 27-7-1-18-27z"/>
<path fill="#ff2000" class="c" d="M2581 5415l9 14-7-1-9-13z"/>
<path fill="#ff3500" class="c" d="M2597 5429l18 29-7-2-18-27z"/>
<path fill="#ff2a00" class="c" d="M2588 5415l9 14-7 0-9-14z"/>
<path fill="#ff1500" d="M2560 5363l28 52-21-1-27-47z"/>
<path fill="#ff0b00" class="c" d="M2556 5382l18 33-7-1-18-31z"/>
<path fill="#f00" class="c" d="M2547 5366l9 16-7 1-9-16z"/>
<path fill="#ff2000" class="c" d="M2572 5398l9 17-7 0-9-17z"/>
<path fill="#ff1500" class="c" d="M2563 5381l9 17-7 0-9-16z"/>
<path fill="#ff0b00" class="c" d="M2554 5364l9 17-7 1-9-16z"/>
<path fill="#ff2a00" class="c" d="M2579 5398l9 17-7 0-9-17z"/>
<path fill="#ff2000" class="c" d="M2560 5363l19 35-7 0-18-34z"/>
<path fill="#ff0b00" d="M2533 5297l27 66-20 4-28-57z"/>
<path fill="#f00" class="c" d="M2523 5303l27 62-10 2-28-57z"/>
<path fill="#ff1500" class="c" d="M2547 5330l13 33-10 2-14-31z"/>
<path fill="#ff0b00" class="c" d="M2533 5297l14 33-11 4-13-31z"/>
<path fill="#f00" d="M2506 5208l27 89-21 13-27-70z"/>
<path fill="#f00" class="c" d="M2509 5264l14 39-11 7-13-35z"/>
<path fill="#f40000" class="c" d="M2495 5224l14 40-10 11-14-35z"/>
<path fill="#f00" class="c" d="M2506 5208l27 89-10 6-28-79z"/>
<path fill="#f40000" d="M2478 5083l28 125-21 32-28-81z"/>
<path fill="#f40000" d="M2451 4898l27 185-21 76-27-76z"/>
<path fill="#f40000" d="M2423 4834l28 64-21 185-27-9z"/>
<path fill="#f40000" d="M2396 5044l27-210-20 240-28 76z"/>
<path fill="#f40000" d="M2369 5206l27-162-21 106-27 101z"/>
<path fill="#f40000" d="M2341 5323l28-117-21 45-28 92z"/>
<path fill="#f40000" d="M2314 5413l27-90-21 20-27 78z"/>
<path fill="#f40000" d="M2286 5485l28-72-21 8-27 67z"/>
<path fill="#f40000" d="M2259 5546l27-61-20 3-28 58z"/>
<path fill="#f00" d="M2231 5599l28-53-21 0-27 51z"/>
<path fill="#f00" d="M2204 5643l27-44-20-2-28 44z"/>
<path fill="#f00" d="M2177 5682l27-39-21-2-27 39z"/>
<path fill="#f00" d="M2149 5716l28-34-21-2-28 34z"/>
<path fill="#f40000" d="M2122 5744l27-28-21-2-27 30z"/>
<path fill="#f40000" d="M2094 5768l28-24-21 0-27 26z"/>
<path fill="#f40000" d="M2067 5789l27-21-20 2-28 23z"/>
<path fill="#f40000" d="M2040 5807l27-18-21 4-27 20z"/>
<path fill="#f40000" d="M2012 5824l28-17-21 6-28 19z"/>
<path fill="#f40000" d="M1985 5840l27-16-21 8-27 17z"/>
<path fill="#f40000" d="M1957 5857l28-17-21 9-27 18z"/>
<path fill="#f40000" d="M1930 5874l27-17-20 10-28 17z"/>
<path fill="#f40000" d="M1902 5892l28-18-21 10-27 19z"/>
<path fill="#f40000" d="M1875 5912l27-20-20 11-28 19z"/>
<path fill="#f40000" d="M1848 5932l27-20-21 10-27 20z"/>
<path fill="#f40000" d="M1820 5954l28-22-21 10-28 21z"/>
<path fill="#f40000" d="M1793 5977l27-23-21 9-27 22z"/>
<path fill="#f40000" d="M1765 6001l28-24-21 8-27 23z"/>
<path fill="#f40000" d="M1738 6026l27-25-20 7-28 23z"/>
<path fill="#f40000" d="M1711 6051l27-25-21 5-27 23z"/>
<path fill="#f40000" d="M1683 6075l28-24-21 3-28 24z"/>
<path fill="#f40000" d="M1656 6100l27-25-21 3-27 24z"/>
<path fill="#f40000" d="M1628 6125l28-25-21 2-27 24z"/>
<path fill="#f40000" d="M1601 6150l27-25-20 1-28 24z"/>
<path fill="#f00" d="M1573 6174l28-24-21 0-27 23z"/>
<path fill="#f00" d="M1546 6197l27-23-20-1-28 23z"/>
<path fill="#f00" d="M1519 6220l27-23-21-1-27 23z"/>
<path fill="#ff0b00" d="M1491 6242l28-22-21-1-28 22z"/>
<path fill="#ff0b00" d="M1464 6264l27-22-21-1-27 21z"/>
<path fill="#ff0b00" d="M1436 6285l28-21-21-2-27 21z"/>
<path fill="#ff0b00" d="M1409 6306l27-21-20-2-28 20z"/>
<path fill="#ff0b00" d="M1381 6326l28-20-21-3-27 21z"/>
<path fill="#ff1500" d="M1354 6346l27-20-20-2-28 19z"/>
<path fill="#ff1500" d="M1327 6366l27-20-21-3-27 20z"/>
<path fill="#ff1500" d="M1299 6386l28-20-21-3-27 20z"/>
<path fill="#ff2000" d="M1272 6406l27-20-20-3-28 19z"/>
<path fill="#ff2000" d="M1244 6426l28-20-21-4-27 20z"/>
<path fill="#ff2000" d="M1217 6446l27-20-20-4-28 19z"/>
<path class="m" d="M2835 5634l-21-12M2725 5570l-21-9M2588 5415l-21-1M2451 4898l-21 185M2314 5413l-21 8M2177 5682l-21-2M2040 5807l-21 6M1902 5892l-20 11M1765 6001l-20 7M1628 6125l-20 1M1491 6242l-21-1M1354 6346l-21-3M1217 6446l-21-5"/>
<path fill="#ff6a00" d="M2828 5634l27 13-20-13-28-13z"/>
<path fill="#ff6a00" d="M2800 5619l28 15-21-13-27-15z"/>
<path fill="#ff6a00" d="M2773 5602l27 17-20-13-28-16z"/>
<path fill="#ff6a00" d="M2746 5583l27 19-21-12-27-20z"/>
<path fill="#ff6000" d="M2718 5561l28 22-21-13-27-22z"/>
<path fill="#ff6000" class="c" d="M2708 5554l27 23-10-7-27-22z"/>
<path fill="#ff6a00" class="c" d="M2732 5572l14 11-11-6-13-11z"/>
<path fill="#ff6000" class="c" d="M2718 5561l14 11-10-6-14-12z"/>
<path fill="#ff6000" d="M2691 5535l27 26-20-13-28-25z"/>
<path fill="#f50" class="c" d="M2680 5529l28 25-10-6-28-25z"/>
<path fill="#ff6000" class="c" d="M2691 5535l27 26-10-7-28-25z"/>
<path fill="#f50" d="M2663 5505l28 30-21-12-27-30z"/>
<path fill="#f50" class="c" d="M2667 5514l13 15-10-6-14-15z"/>
<path fill="#ff4a00" class="c" d="M2653 5499l14 15-11-6-13-15z"/>
<path fill="#ff6000" class="c" d="M2663 5505l28 30-11-6-27-30z"/>
<path fill="#ff4a00" d="M2636 5469l27 36-20-12-28-35z"/>
<path fill="#ff4a00" class="c" d="M2626 5463l27 36-10-6-28-35z"/>
<path fill="#f50" class="c" d="M2636 5469l27 36-10-6-27-36z"/>
<path fill="#ff4a00" d="M2609 5426l27 43-21-11-27-43z"/>
<path fill="#ff4000" class="c" d="M2604 5433l18 28-7-3-18-29z"/>
<path fill="#ff3500" class="c" d="M2595 5419l9 14-7-4-9-14z"/>
<path fill="#ff4a00" class="c" d="M2611 5436l18 29-7-4-18-28z"/>
<path fill="#ff4000" class="c" d="M2602 5422l9 14-7-3-9-14z"/>
<path fill="#f50" class="c" d="M2609 5426l27 43-7-4-27-43z"/>
<path fill="#ff4000" d="M2581 5372l28 54-21-11-28-52z"/>
<path fill="#ff3500" class="c" d="M2586 5401l9 18-7-4-9-17z"/>
<path fill="#ff2a00" class="c" d="M2567 5366l19 35-7-3-19-35z"/>
<path fill="#ff4000" class="c" d="M2574 5369l28 53-7-3-28-53z"/>
<path fill="#ff4a00" class="c" d="M2581 5372l28 54-7-4-28-53z"/>
<path fill="#ff3500" d="M2554 5303l27 69-21-9-27-66z"/>
<path fill="#ff2000" class="c" d="M2545 5315l21 50-6-2-20-50z"/>
<path fill="#ff1500" class="c" d="M2538 5298l7 17-5-2-7-16z"/>
<path fill="#ff3500" class="c" d="M2564 5351l7 17-5-3-7-16z"/>
<path fill="#ff2a00" class="c" d="M2543 5300l21 51-5-2-21-51z"/>
<path fill="#ff4000" class="c" d="M2562 5336l14 34-5-2-14-34z"/>
<path fill="#ff3500" class="c" d="M2549 5302l13 34-5-2-14-34z"/>
<path fill="#ff4a00" class="c" d="M2561 5320l20 52-5-2-21-51z"/>
<path fill="#ff4000" class="c" d="M2554 5303l7 17-6-1-6-17z"/>
<path fill="#ff2a00" d="M2526 5210l28 93-21-6-27-89z"/>
<path fill="#ff1500" class="c" d="M2531 5276l7 22-5-1-7-22z"/>
<path fill="#ff0b00" class="c" d="M2518 5231l13 45-5-1-14-45z"/>
<path fill="#f00" class="c" d="M2511 5209l7 22-6-1-6-22z"/>
<path fill="#ff2000" class="c" d="M2523 5232l20 68-5-2-20-67z"/>
<path fill="#ff1500" class="c" d="M2516 5209l7 23-5-1-7-22z"/>
<path fill="#ff3500" class="c" d="M2542 5279l7 23-6-2-6-23z"/>
<path fill="#ff2a00" class="c" d="M2521 5209l21 70-5-2-21-68z"/>
<path fill="#ff4000" class="c" d="M2526 5210l28 93-5-1-28-93z"/>
<path fill="#ff2000" d="M2499 5069l27 141-20-2-28-125z"/>
<path fill="#f00" class="c" d="M2483 5080l28 129-5-1-28-125z"/>
<path fill="#ff1500" class="c" d="M2489 5076l27 133-5 0-28-129z"/>
<path fill="#ff2a00" class="c" d="M2501 5107l20 102-5 0-21-100z"/>
<path fill="#ff2000" class="c" d="M2494 5072l7 35-6 2-6-33z"/>
<path fill="#ff4000" class="c" d="M2519 5175l7 35-5-1-7-34z"/>
<path fill="#ff3500" class="c" d="M2499 5069l20 106-5 0-20-103z"/>
<path fill="#ff2000" d="M2471 4799l28 270-21 14-27-185z"/>
<path fill="#f00" class="c" d="M2456 4874l27 206-5 3-27-185z"/>
<path fill="#ff1500" class="c" d="M2468 4906l21 170-6 4-20-155z"/>
<path fill="#ff2000" class="c" d="M2461 4849l7 57-5 19-7-51z"/>
<path fill="#ff2a00" class="c" d="M2473 4886l21 186-5 4-21-170z"/>
<path fill="#ff3500" class="c" d="M2466 4824l7 62-5 20-7-57zM2492 5001l7 68-5 3-7-62z"/>
<path fill="#ff4000" class="c" d="M2485 4934l7 67-5 9-7-62z"/>
<path fill="#ff4a00" class="c" d="M2471 4799l14 135-5 14-14-124z"/>
<path fill="#ff3500" d="M2444 4604l27 195-20 99-28-64z"/>
<path fill="#f00" class="c" d="M2449 4849l7 25-5 24-7-16z"/>
<path fill="#ff0b00" class="c" d="M2429 4777l20 72-5 33-21-48z"/>
<path fill="#ff2000" class="c" d="M2447 4784l14 65-5 25-14-49z"/>
<path fill="#ff2a00" class="c" d="M2434 4719l13 65-5 41-13-48z"/>
<path fill="#ff3500" class="c" d="M2459 4783l7 41-5 25-7-33z"/>
<path fill="#ff4000" class="c" d="M2453 4743l6 40-5 33-7-32z"/>
<path fill="#ff4a00" class="c" d="M2446 4702l7 41-6 41-6-32z"/>
<path fill="#f50" class="c" d="M2439 4662l7 40-5 50-7-33zM2465 4750l6 49-5 25-7-41z"/>
<path fill="#ff6000" class="c" d="M2458 4702l7 48-6 33-6-40z"/>
<path fill="#ff6a00" class="c" d="M2451 4653l7 49-5 41-7-41z"/>
<path fill="#ff7500" class="c" d="M2444 4604l7 49-5 49-7-40z"/>
<path fill="#ff2000" d="M2417 5014l27-410-21 230-27 210z"/>
<path fill="#ff0b00" class="c" d="M2422 4842l7-65-6 57-7 52z"/>
<path fill="#f00" class="c" d="M2401 5036l21-194-6 44-20 158z"/>
<path fill="#ff2a00" class="c" d="M2427 4797l7-78-5 58-7 65z"/>
<path fill="#ff2000" class="c" d="M2420 4874l7-77-5 45-7 64z"/>
<path fill="#ff0b00" class="c" d="M2413 4951l7-77-5 32-7 65z"/>
<path fill="#f00" class="c" d="M2406 5029l7-78-5 20-7 65z"/>
<path fill="#ff4a00" class="c" d="M2432 4752l7-90-5 57-7 78z"/>
<path fill="#ff3500" class="c" d="M2425 4842l7-90-5 45-7 77z"/>
<path fill="#ff2000" class="c" d="M2418 4932l7-90-5 32-7 77z"/>
<path fill="#ff0b00" class="c" d="M2411 5022l7-90-5 19-7 78z"/>
<path fill="#ff6a00" class="c" d="M2437 4707l7-103-5 58-7 90z"/>
<path fill="#ff4a00" class="c" d="M2430 4809l7-102-5 45-7 90z"/>
<path fill="#ff2a00" class="c" d="M2424 4912l6-103-5 33-7 90z"/>
<path fill="#ff0b00" class="c" d="M2417 5014l7-102-6 20-7 90z"/>
<path fill="#f00" d="M2389 5203l28-189-21 30-27 162z"/>
<path fill="#f00" d="M2362 5327l27-124-20 3-28 117z"/>
<path fill="#f00" class="c" d="M2351 5325l28-120-10 1-28 117zM2376 5265l13-62-10 2-14 60z"/>
<path fill="#ff0b00" class="c" d="M2362 5327l14-62-11 0-14 60z"/>
<path fill="#f00" d="M2334 5419l28-92-21-4-27 90z"/>
<path fill="#f00" class="c" d="M2324 5416l27-91-10-2-27 90z"/>
<path fill="#ff0b00" class="c" d="M2334 5419l28-92-11-2-27 91z"/>
<path fill="#ff0b00" d="M2307 5493l27-74-20-6-28 72z"/>
<path fill="#f00" class="c" d="M2297 5489l27-73-10-3-28 72z"/>
<path fill="#ff0b00" class="c" d="M2321 5456l13-37-10-3-14 36z"/>
<path fill="#ff1500" class="c" d="M2307 5493l14-37-11-4-13 37z"/>
<path fill="#ff0b00" d="M2280 5554l27-61-21-8-27 61z"/>
<path fill="#f00" class="c" d="M2269 5550l28-61-11-4-27 61z"/>
<path fill="#ff1500" class="c" d="M2280 5554l27-61-10-4-28 61z"/>
<path fill="#ff0b00" d="M2252 5605l28-51-21-8-28 53z"/>
<path fill="#f00" class="c" d="M2255 5576l14-26-10-4-14 26z"/>
<path fill="#ff0b00" class="c" d="M2242 5602l13-26-10-4-14 27z"/>
<path fill="#ff1500" class="c" d="M2252 5605l28-51-11-4-27 52z"/>
<path fill="#ff1500" d="M2225 5649l27-44-21-6-27 44z"/>
<path fill="#ff0b00" class="c" d="M2214 5646l28-44-11-3-27 44z"/>
<path fill="#ff1500" class="c" d="M2225 5649l27-44-10-3-28 44z"/>
<path fill="#ff0b00" d="M2197 5687l28-38-21-6-27 39z"/>
<path fill="#ff0b00" class="c" d="M2187 5684l27-38-10-3-27 39z"/>
<path fill="#ff1500" class="c" d="M2197 5687l28-38-11-3-27 38z"/>
<path fill="#ff0b00" d="M2170 5718l27-31-20-5-28 34z"/>
<path fill="#ff0b00" class="c" d="M2173 5701l14-17-10-2-14 17z"/>
<path fill="#f00" class="c" d="M2160 5717l13-16-10-2-14 17z"/>
<path fill="#ff0b00" class="c" d="M2170 5718l27-31-10-3-27 33z"/>
<path fill="#f00" d="M2142 5744l28-26-21-2-27 28z"/>
<path fill="#f40000" d="M2115 5766l27-22-20 0-28 24z"/>
<path fill="#f40000" d="M2088 5784l27-18-21 2-27 21z"/>
<path fill="#f40000" d="M2060 5800l28-16-21 5-27 18z"/>
<path fill="#f40000" d="M2033 5814l27-14-20 7-28 17z"/>
<path fill="#f40000" d="M2005 5829l28-15-21 10-27 16z"/>
<path fill="#f40000" d="M1978 5844l27-15-20 11-28 17z"/>
<path fill="#f40000" d="M1951 5861l27-17-21 13-27 17z"/>
<path fill="#f40000" d="M1923 5879l28-18-21 13-28 18z"/>
<path fill="#f40000" d="M1896 5899l27-20-21 13-27 20z"/>
<path fill="#f40000" d="M1868 5921l28-22-21 13-27 20z"/>
<path fill="#f40000" d="M1841 5944l27-23-20 11-28 22z"/>
<path fill="#f40000" d="M1813 5969l28-25-21 10-27 23z"/>
<path fill="#f40000" d="M1786 5994l27-25-20 8-28 24z"/>
<path fill="#f40000" d="M1759 6020l27-26-21 7-27 25z"/>
<path fill="#f40000" d="M1731 6046l28-26-21 6-27 25z"/>
<path fill="#f40000" d="M1704 6072l27-26-20 5-28 24z"/>
<path fill="#f40000" d="M1676 6098l28-26-21 3-27 25z"/>
<path fill="#f40000" d="M1649 6124l27-26-20 2-28 25z"/>
<path fill="#f40000" d="M1622 6150l27-26-21 1-27 25z"/>
<path fill="#f40000" d="M1594 6174l28-24-21 0-28 24z"/>
<path fill="#f00" d="M1567 6198l27-24-21 0-27 23z"/>
<path fill="#f00" d="M1539 6221l28-23-21-1-27 23z"/>
<path fill="#f00" d="M1512 6244l27-23-20-1-28 22z"/>
<path fill="#f00" d="M1484 6266l28-22-21-2-27 22z"/>
<path fill="#ff0b00" d="M1457 6287l27-21-20-2-28 21z"/>
<path fill="#ff0b00" d="M1430 6308l27-21-21-2-27 21z"/>
<path fill="#ff0b00" d="M1402 6328l28-20-21-2-28 20z"/>
<path fill="#ff0b00" d="M1375 6349l27-21-21-2-27 20z"/>
<path fill="#ff1500" d="M1347 6370l28-21-21-3-27 20z"/>
<path fill="#ff1500" d="M1320 6390l27-20-20-4-28 20z"/>
<path fill="#ff1500" d="M1293 6410l27-20-21-4-27 20z"/>
<path fill="#ff2000" d="M1265 6430l28-20-21-4-28 20z"/>
<path fill="#ff2000" d="M1238 6451l27-21-21-4-27 20z"/>
<path class="m" d="M2855 5647l-20-13M2807 5621l28 13M2780 5606l27 15M2752 5590l28 16M2725 5570l27 20M2746 5583l-21-13M2698 5548l27 22M2670 5523l28 25M2643 5493l27 30M2615 5458l28 35M2588 5415l27 43M2609 5426l-21-11M2560 5363l28 52M2533 5297l27 66M2506 5208l27 89M2478 5083l28 125M2451 4898l27 185M2471 4799l-20 99M2423 4834l28 64M2396 5044l27-210M2369 5206l27-162M2341 5323l28-117M2314 5413l27-90M2334 5419l-20-6M2286 5485l28-72M2259 5546l27-61M2231 5599l28-53M2204 5643l27-44M2177 5682l27-39M2197 5687l-20-5M2149 5716l28-34M2122 5744l27-28M2094 5768l28-24M2067 5789l27-21M2040 5807l27-18M2060 5800l-20 7M2012 5824l28-17M1985 5840l27-16M1957 5857l28-17M1930 5874l27-17M1902 5892l28-18M1923 5879l-21 13M1875 5912l27-20M1848 5932l27-20M1820 5954l28-22M1793 5977l27-23M1765 6001l28-24M1786 5994l-21 7M1738 6026l27-25M1711 6051l27-25M1683 6075l28-24M1656 6100l27-25M1628 6125l28-25M1649 6124l-21 1M1601 6150l27-25M1573 6174l28-24M1546 6197l27-23M1519 6220l27-23M1491 6242l28-22M1512 6244l-21-2M1464 6264l27-22M1436 6285l28-21M1409 6306l27-21M1381 6326l28-20M1354 6346l27-20M1375 6349l-21-3M1327 6366l27-20M1299 6386l28-20M1272 6406l27-20M1244 6426l28-20M1217 6446l27-20M1238 6451l-21-5"/>
<path d="M2448 5178V4553" class="b"/>
<path fill="#ff7500" d="M2849 5648l27 13-21-14-27-13z"/>
<path fill="#ff7500" d="M2821 5633l28 15-21-14-28-15z"/>
<path fill="#ff7500" d="M2794 5617l27 16-21-14-27-17z"/>
<path fill="#ff7500" d="M2766 5598l28 19-21-15-27-19z"/>
<path fill="#ff7500" d="M2739 5576l27 22-20-15-28-22z"/>
<path fill="#ff7500" d="M2712 5551l27 25-21-15-27-26z"/>
<path fill="#ff6a00" class="c" d="M2701 5543l28 25-11-7-27-26z"/>
<path fill="#ff7500" class="c" d="M2712 5551l27 25-10-8-28-25z"/>
<path fill="#ff6a00" d="M2684 5521l28 30-21-16-28-30z"/>
<path fill="#ff6a00" class="c" d="M2674 5513l27 30-10-8-28-30z"/>
<path fill="#ff7500" class="c" d="M2684 5521l28 30-11-8-27-30z"/>
<path fill="#ff6a00" d="M2657 5487l27 34-21-16-27-36z"/>
<path fill="#ff6a00" class="c" d="M2660 5495l14 18-11-8-13-18z"/>
<path fill="#ff6000" class="c" d="M2646 5478l14 17-10-8-14-18z"/>
<path fill="#ff7500" class="c" d="M2657 5487l27 34-10-8-28-35z"/>
<path fill="#ff6a00" d="M2629 5445l28 42-21-18-27-43z"/>
<path fill="#ff6000" class="c" d="M2619 5435l27 43-10-9-27-43z"/>
<path fill="#ff7500" class="c" d="M2629 5445l28 42-11-9-27-43z"/>
<path fill="#ff6a00" d="M2602 5395l27 50-20-19-28-54z"/>
<path fill="#ff6000" class="c" d="M2597 5397l18 35-6-6-19-36z"/>
<path fill="#f50" class="c" d="M2588 5380l9 17-7-7-9-18z"/>
<path fill="#ff6a00" class="c" d="M2595 5387l27 52-7-7-27-52z"/>
<path fill="#ff7500" class="c" d="M2602 5395l27 50-7-6-27-52z"/>
<path fill="#ff6a00" d="M2574 5332l28 63-21-23-27-69z"/>
<path fill="#f50" class="c" d="M2561 5313l27 67-7-8-27-69z"/>
<path fill="#ff6a00" class="c" d="M2568 5322l27 65-7-7-27-67z"/>
<path fill="#ff7500" class="c" d="M2584 5353l18 42-7-8-18-43z"/>
<path fill="#ff8000" class="c" d="M2574 5332l10 21-7-9-9-22z"/>
<path fill="#ff6a00" d="M2547 5251l27 81-20-29-28-93z"/>
<path fill="#f50" class="c" d="M2538 5243l21 68-5-8-21-70z"/>
<path fill="#ff4a00" class="c" d="M2532 5220l6 23-5-10-7-23z"/>
<path fill="#ff6000" class="c" d="M2537 5231l27 87-5-7-27-91z"/>
<path fill="#ff7500" class="c" d="M2542 5241l27 84-5-7-27-87z"/>
<path fill="#ff8000" class="c" d="M2554 5272l20 60-5-7-20-63z"/>
<path fill="#ff8a00" class="c" d="M2547 5251l7 21-5-10-7-21z"/>
<path fill="#ff7500" d="M2520 5146l27 105-21-41-27-141z"/>
<path fill="#ff4a00" class="c" d="M2504 5088l28 132-6-10-27-141z"/>
<path fill="#ff6000" class="c" d="M2523 5169l14 62-5-11-14-66z"/>
<path fill="#ff6a00" class="c" d="M2509 5108l14 61-5-15-14-66z"/>
<path fill="#ff7500" class="c" d="M2535 5213l7 28-5-10-7-31z"/>
<path fill="#ff8000" class="c" d="M2514 5127l21 86-5-13-21-92z"/>
<path fill="#ff8a00" class="c" d="M2540 5225l7 26-5-10-7-28z"/>
<path fill="#ff9500" class="c" d="M2526 5173l14 52-5-12-14-58z"/>
<path fill="#ff9f00" class="c" d="M2520 5146l6 27-5-18-7-28z"/>
<path fill="#ff8a00" d="M2492 5025l28 121-21-77-28-270z"/>
<path fill="#f50" class="c" d="M2490 4972l14 116-5-19-14-135z"/>
<path fill="#ff6000" class="c" d="M2484 4914l6 58-5-38-7-67z"/>
<path fill="#ff6a00" class="c" d="M2477 4856l7 58-6-47-7-68zM2502 5059l7 49-5-20-7-58z"/>
<path fill="#ff7500" class="c" d="M2496 5010l6 49-5-29-7-58z"/>
<path fill="#ff8000" class="c" d="M2489 4961l7 49-6-38-6-58z"/>
<path fill="#ff8a00" class="c" d="M2482 4912l7 49-5-47-7-58zM2508 5087l6 40-5-19-7-49z"/>
<path fill="#ff9500" class="c" d="M2501 5048l7 39-6-28-6-49z"/>
<path fill="#ff9f00" class="c" d="M2494 5008l7 40-5-38-7-49z"/>
<path fill="#fa0" class="c" d="M2487 4969l7 39-5-47-7-49zM2513 5116l7 30-6-19-6-40z"/>
<path fill="#ffb500" class="c" d="M2506 5086l7 30-5-29-7-39z"/>
<path fill="#ffbf00" class="c" d="M2499 5055l7 31-5-38-7-40z"/>
<path fill="#ffca00" class="c" d="M2492 5025l7 30-5-47-7-39z"/>
<path fill="#fa0" d="M2465 4998l27 27-21-226-27-195z"/>
<path fill="#ff7500" class="c" d="M2470 4817l7 39-6-57-6-49z"/>
<path fill="#ff8000" class="c" d="M2463 4779l7 38-5-67-7-48z"/>
<path fill="#ff8a00" class="c" d="M2456 4741l7 38-5-77-7-49z"/>
<path fill="#ff9500" class="c" d="M2449 4703l7 38-5-88-7-49zM2475 4884l7 28-5-56-7-39z"/>
<path fill="#ff9f00" class="c" d="M2461 4829l14 55-5-67-14-76z"/>
<path fill="#fa0" class="c" d="M2454 4801l7 28-5-88-7-38z"/>
<path fill="#ffb500" class="c" d="M2473 4934l14 35-5-57-14-55z"/>
<path fill="#ffbf00" class="c" d="M2460 4900l13 34-5-77-14-56z"/>
<path fill="#ffd400" class="c" d="M2465 4998l27 27-5-56-27-69z"/>
<path fill="#ff8000" d="M2437 5122l28-124-21-394-27 410z"/>
<path fill="#ff8a00" class="c" d="M2442 4787l7-84-5-99-7 103z"/>
<path fill="#ff6a00" class="c" d="M2436 4872l6-85-5-80-7 102z"/>
<path fill="#ff4a00" class="c" d="M2429 4956l7-84-6-63-6 103z"/>
<path fill="#ff2a00" class="c" d="M2422 5041l7-85-5-44-7 102z"/>
<path fill="#ff9f00" class="c" d="M2448 4868l6-67-5-98-7 84z"/>
<path fill="#ff8000" class="c" d="M2441 4935l7-67-6-81-6 85z"/>
<path fill="#ff6a00" class="c" d="M2434 5001l7-66-5-63-7 84z"/>
<path fill="#ff4a00" class="c" d="M2427 5068l7-67-5-45-7 85z"/>
<path fill="#ffb500" class="c" d="M2453 4949l7-49-6-99-6 67z"/>
<path fill="#ff9f00" class="c" d="M2446 4997l7-48-5-81-7 67z"/>
<path fill="#ff8a00" class="c" d="M2439 5046l7-49-5-62-7 66z"/>
<path fill="#ff7500" class="c" d="M2432 5095l7-49-5-45-7 67z"/>
<path fill="#ffca00" class="c" d="M2458 5029l7-31-5-98-7 49z"/>
<path fill="#ffbf00" class="c" d="M2451 5060l7-31-5-80-7 48z"/>
<path fill="#fa0" class="c" d="M2444 5091l7-31-5-63-7 49z"/>
<path fill="#ff9500" class="c" d="M2437 5122l7-31-5-45-7 49z"/>
<path fill="#ff4000" d="M2410 5253l27-131-20-108-28 189z"/>
<path fill="#ff1500" class="c" d="M2394 5216l28-175-5-27-28 189z"/>
<path fill="#ff3500" class="c" d="M2406 5188l21-120-5-27-21 131z"/>
<path fill="#ff2a00" class="c" d="M2400 5228l6-40-5-16-7 44z"/>
<path fill="#ff6000" class="c" d="M2425 5131l7-36-5-27-7 40z"/>
<path fill="#f50" class="c" d="M2412 5204l13-73-5-23-14 80z"/>
<path fill="#ff4a00" class="c" d="M2405 5240l7-36-6-16-6 40z"/>
<path fill="#ff8a00" class="c" d="M2431 5155l6-33-5-27-7 36z"/>
<path fill="#ff8000" class="c" d="M2424 5187l7-32-6-24-7 37z"/>
<path fill="#ff6a00" class="c" d="M2417 5220l7-33-6-19-6 36z"/>
<path fill="#ff6000" class="c" d="M2410 5253l7-33-5-16-7 36z"/>
<path fill="#ff3500" d="M2383 5357l27-104-21-50-27 124z"/>
<path fill="#ff1500" class="c" d="M2367 5334l27-118-5-13-27 124z"/>
<path fill="#ff2a00" class="c" d="M2372 5342l28-114-6-12-27 118z"/>
<path fill="#ff4000" class="c" d="M2377 5350l28-110-5-12-28 114z"/>
<path fill="#ff6000" class="c" d="M2403 5279l7-26-5-13-7 28z"/>
<path fill="#f50" class="c" d="M2389 5331l14-52-5-11-14 54z"/>
<path fill="#ff4a00" class="c" d="M2383 5357l6-26-5-9-7 28z"/>
<path fill="#ff3500" d="M2355 5441l28-84-21-30-28 92z"/>
<path fill="#ff1500" class="c" d="M2346 5402l21-68-5-7-21 69z"/>
<path fill="#ff2000" class="c" d="M2340 5425l6-23-5-6-7 23z"/>
<path fill="#ff2a00" class="c" d="M2345 5430l27-88-5-8-27 91z"/>
<path fill="#ff4000" class="c" d="M2371 5371l6-21-5-8-7 22z"/>
<path fill="#ff3500" class="c" d="M2350 5436l21-65-6-7-20 66z"/>
<path fill="#ff4a00" class="c" d="M2355 5441l28-84-6-7-27 86z"/>
<path fill="#ff3500" d="M2328 5511l27-70-21-22-27 74z"/>
<path fill="#ff2000" class="c" d="M2314 5499l27-72-7-8-27 74z"/>
<path fill="#ff3500" class="c" d="M2321 5505l27-71-7-7-27 72z"/>
<path fill="#ff4000" class="c" d="M2328 5511l27-70-7-7-27 71z"/>
<path fill="#ff3500" d="M2300 5568l28-57-21-18-27 61z"/>
<path fill="#ff2000" class="c" d="M2286 5559l28-60-7-6-27 61z"/>
<path fill="#ff3500" class="c" d="M2293 5563l28-58-7-6-28 60z"/>
<path fill="#ff4000" class="c" d="M2300 5568l28-57-7-6-28 58z"/>
<path fill="#ff2a00" d="M2273 5617l27-49-20-14-28 51z"/>
<path fill="#ff2a00" class="c" d="M2263 5611l27-50-10-7-28 51z"/>
<path fill="#ff3500" class="c" d="M2273 5617l27-49-10-7-27 50z"/>
<path fill="#ff2a00" d="M2245 5659l28-42-21-12-27 44z"/>
<path fill="#ff2a00" class="c" d="M2249 5633l14-22-11-6-14 22z"/>
<path fill="#ff2000" class="c" d="M2235 5654l14-21-11-6-13 22z"/>
<path fill="#ff3500" class="c" d="M2245 5659l28-42-10-6-28 43z"/>
<path fill="#ff2000" d="M2218 5693l27-34-20-10-28 38z"/>
<path fill="#ff2000" class="c" d="M2208 5690l27-36-10-5-28 38z"/>
<path fill="#ff2a00" class="c" d="M2218 5693l27-34-10-5-27 36z"/>
<path fill="#ff1500" d="M2191 5721l27-28-21-6-27 31z"/>
<path fill="#ff1500" class="c" d="M2180 5720l28-30-11-3-27 31z"/>
<path fill="#ff2000" class="c" d="M2204 5707l14-14-10-3-14 15z"/>
<path fill="#ff1500" class="c" d="M2191 5721l13-14-10-2-14 15z"/>
<path fill="#f00" d="M2163 5744l28-23-21-3-28 26z"/>
<path fill="#ff0b00" class="c" d="M2167 5732l13-12-10-2-14 13z"/>
<path fill="#f00" class="c" d="M2153 5744l14-12-11-1-14 13z"/>
<path fill="#ff0b00" class="c" d="M2177 5733l14-12-11-1-13 12z"/>
<path fill="#f00" class="c" d="M2163 5744l14-11-10-1-14 12z"/>
<path fill="#f40000" d="M2136 5762l27-18-21 0-27 22z"/>
<path fill="#f40000" d="M2108 5777l28-15-21 4-27 18z"/>
<path fill="#f40000" d="M2081 5790l27-13-20 7-28 16z"/>
<path fill="#f40000" d="M2054 5802l27-12-21 10-27 14z"/>
<path fill="#f40000" d="M2026 5814l28-12-21 12-28 15z"/>
<path fill="#f40000" d="M1999 5829l27-15-21 15-27 15z"/>
<path fill="#f40000" d="M1971 5845l28-16-21 15-27 17z"/>
<path fill="#f40000" d="M1944 5864l27-19-20 16-28 18z"/>
<path fill="#f40000" d="M1916 5885l28-21-21 15-27 20z"/>
<path fill="#f40000" d="M1889 5908l27-23-20 14-28 22z"/>
<path fill="#f40000" d="M1862 5933l27-25-21 13-27 23z"/>
<path fill="#f40000" d="M1834 5959l28-26-21 11-28 25z"/>
<path fill="#f40000" d="M1807 5986l27-27-21 10-27 25z"/>
<path fill="#f40000" d="M1779 6013l28-27-21 8-27 26z"/>
<path fill="#f40000" d="M1752 6041l27-28-20 7-28 26z"/>
<path fill="#f40000" d="M1725 6069l27-28-21 5-27 26z"/>
<path fill="#f40000" d="M1697 6096l28-27-21 3-28 26z"/>
<path fill="#f40000" d="M1670 6123l27-27-21 2-27 26z"/>
<path fill="#f40000" d="M1642 6149l28-26-21 1-27 26z"/>
<path fill="#f40000" d="M1615 6174l27-25-20 1-28 24z"/>
<path fill="#f40000" d="M1587 6198l28-24-21 0-27 24z"/>
<path fill="#f00" d="M1560 6222l27-24-20 0-28 23z"/>
<path fill="#f00" d="M1533 6244l27-22-21-1-27 23z"/>
<path fill="#f00" d="M1505 6266l28-22-21 0-28 22z"/>
<path fill="#f00" d="M1478 6288l27-22-21 0-27 21z"/>
<path fill="#f00" d="M1450 6309l28-21-21-1-27 21z"/>
<path fill="#ff0b00" d="M1423 6330l27-21-20-1-28 20z"/>
<path fill="#ff0b00" d="M1396 6351l27-21-21-2-27 21z"/>
<path fill="#ff0b00" d="M1368 6372l28-21-21-2-28 21z"/>
<path fill="#ff1500" d="M1341 6393l27-21-21-2-27 20z"/>
<path fill="#ff1500" d="M1313 6414l28-21-21-3-27 20z"/>
<path fill="#ff2000" d="M1286 6435l27-21-20-4-28 20z"/>
<path fill="#ff2000" d="M1258 6455l28-20-21-5-27 21z"/>
<path class="m" d="M2876 5661l-21-14M2766 5598l-20-15M2629 5445l-20-19M2492 5025l-21-226M2355 5441l-21-22M2218 5693l-21-6M2081 5790l-21 10M1944 5864l-21 15M1807 5986l-21 8M1670 6123l-21 1M1533 6244l-21 0M1396 6351l-21-2M1258 6455l-20-4"/>
<path fill="#ff8000" d="M2869 5664l28 13-21-16-27-13z"/>
<path fill="#ff8000" d="M2842 5650l27 14-20-16-28-15z"/>
<path fill="#ff8000" d="M2815 5634l27 16-21-17-27-16z"/>
<path fill="#ff8000" d="M2787 5616l28 18-21-17-28-19z"/>
<path fill="#ff8000" d="M2760 5595l27 21-21-18-27-22z"/>
<path fill="#ff8a00" d="M2732 5571l28 24-21-19-27-25z"/>
<path fill="#ff8a00" d="M2705 5543l27 28-20-20-28-30z"/>
<path fill="#ff8000" class="c" d="M2695 5532l27 29-10-10-28-30z"/>
<path fill="#ff8a00" class="c" d="M2705 5543l27 28-10-10-27-29z"/>
<path fill="#ff8a00" d="M2677 5511l28 32-21-22-27-34z"/>
<path fill="#ff8000" class="c" d="M2667 5499l28 33-11-11-27-34z"/>
<path fill="#ff8a00" class="c" d="M2677 5511l28 32-10-11-28-33z"/>
<path fill="#ff8a00" d="M2650 5474l27 37-20-24-28-42z"/>
<path fill="#ff8000" class="c" d="M2640 5459l27 40-10-12-28-42z"/>
<path fill="#ff9500" class="c" d="M2650 5474l27 37-10-12-27-40z"/>
<path fill="#ff9500" d="M2623 5429l27 45-21-29-27-50z"/>
<path fill="#ff8a00" class="c" d="M2612 5412l28 47-11-14-27-50z"/>
<path fill="#ff9500" class="c" d="M2636 5452l14 22-10-15-14-23z"/>
<path fill="#ff9f00" class="c" d="M2623 5429l13 23-10-16-14-24z"/>
<path fill="#ff9500" d="M2595 5377l28 52-21-34-28-63z"/>
<path fill="#ff8a00" class="c" d="M2581 5347l28 59-7-11-28-63z"/>
<path fill="#ff9500" class="c" d="M2597 5381l19 37-7-12-18-39z"/>
<path fill="#ff9f00" class="c" d="M2588 5362l9 19-6-14-10-20zM2613 5412l10 17-7-11-9-19z"/>
<path fill="#fa0" class="c" d="M2595 5377l18 35-6-13-19-37z"/>
<path fill="#ff9f00" d="M2568 5317l27 60-21-45-27-81z"/>
<path fill="#ff8a00" class="c" d="M2573 5325l7 18-6-11-6-20z"/>
<path fill="#ff9500" class="c" d="M2552 5268l21 57-5-13-21-61zM2578 5337l7 18-5-12-7-18z"/>
<path fill="#ff9f00" class="c" d="M2557 5284l21 53-5-12-21-57zM2583 5350l7 16-5-11-7-18z"/>
<path fill="#fa0" class="c" d="M2569 5317l14 33-5-13-14-35z"/>
<path fill="#ffb500" class="c" d="M2563 5301l6 16-5-15-7-18zM2575 5332l20 45-5-11-21-49z"/>
<path fill="#ffbf00" class="c" d="M2568 5317l7 15-6-15-6-16z"/>
<path fill="#ffbf00" d="M2540 5252l28 65-21-66-27-105z"/>
<path fill="#ff9f00" class="c" d="M2539 5220l13 48-5-17-14-52z"/>
<path fill="#fa0" class="c" d="M2532 5197l7 23-6-21-7-26z"/>
<path fill="#ffb500" class="c" d="M2525 5173l7 24-6-24-6-27z"/>
<path fill="#fa0" class="c" d="M2551 5263l6 21-5-16-7-24z"/>
<path fill="#ffb500" class="c" d="M2537 5221l14 42-6-19-13-47z"/>
<path fill="#ffbf00" class="c" d="M2530 5199l7 22-5-24-7-24z"/>
<path fill="#ffb500" class="c" d="M2556 5282l7 19-6-17-6-21z"/>
<path fill="#ffbf00" class="c" d="M2542 5245l14 37-5-19-14-42z"/>
<path fill="#ffca00" class="c" d="M2535 5226l7 19-5-24-7-22z"/>
<path fill="#ffbf00" class="c" d="M2561 5301l7 16-5-16-7-19z"/>
<path fill="#ffca00" class="c" d="M2554 5285l7 16-5-19-7-19z"/>
<path fill="#ffd400" class="c" d="M2540 5252l14 33-5-22-14-37z"/>
<path fill="#ffd400" d="M2513 5200l27 52-20-106-28-121z"/>
<path fill="#ffbf00" class="c" d="M2517 5149l10 33-7-36-10-40z"/>
<path fill="#ffd400" class="c" d="M2508 5116l9 33-7-43-9-41z"/>
<path fill="#ffdf00" class="c" d="M2499 5084l9 32-7-51-9-40z"/>
<path fill="#ffca00" class="c" d="M2524 5192l9 25-6-35-10-33z"/>
<path fill="#ffd400" class="c" d="M2515 5167l9 25-7-43-9-33z"/>
<path fill="#ffdf00" class="c" d="M2506 5142l9 25-7-51-9-32zM2522 5218l18 34-7-35-18-50z"/>
<path fill="#ffea00" class="c" d="M2513 5200l9 18-7-51-9-25z"/>
<path fill="#ffea00" d="M2486 5197l27 3-21-175-27-27z"/>
<path fill="#ffd400" d="M2458 5250l28-53-21-199-28 124z"/>
<path fill="#ffdf00" class="c" d="M2463 5074l7-26-5-50-7 31z"/>
<path fill="#ffca00" class="c" d="M2456 5101l7-27-5-45-7 31z"/>
<path fill="#ffbf00" class="c" d="M2449 5127l7-26-5-41-7 31z"/>
<path fill="#fa0" class="c" d="M2443 5154l6-27-5-36-7 31z"/>
<path fill="#ffdf00" class="c" d="M2468 5120l7-23-5-49-7 26z"/>
<path fill="#ffd400" class="c" d="M2461 5142l7-22-5-46-7 27z"/>
<path fill="#ffca00" class="c" d="M2455 5164l6-22-5-41-7 26z"/>
<path fill="#ffbf00" class="c" d="M2448 5186l7-22-6-37-6 27z"/>
<path fill="#ffea00" class="c" d="M2473 5165l7-18-5-50-7 23z"/>
<path fill="#ffdf00" class="c" d="M2467 5183l6-18-5-45-7 22z"/>
<path fill="#ffd400" class="c" d="M2460 5200l7-17-6-41-6 22z"/>
<path fill="#ffca00" class="c" d="M2453 5218l7-18-5-36-7 22z"/>
<path fill="#ffea00" class="c" d="M2472 5224l14-27-6-50-13 36z"/>
<path fill="#ffdf00" class="c" d="M2458 5250l14-26-5-41-14 35z"/>
<path fill="#fa0" d="M2431 5329l27-79-21-128-27 131z"/>
<path fill="#ff9f00" class="c" d="M2436 5183l7-29-6-32-6 33z"/>
<path fill="#ff9500" class="c" d="M2429 5213l7-30-5-28-7 32z"/>
<path fill="#ff8a00" class="c" d="M2422 5242l7-29-5-26-7 33z"/>
<path fill="#ff7500" class="c" d="M2415 5272l7-30-5-22-7 33z"/>
<path fill="#ffb500" class="c" d="M2441 5212l7-26-5-32-7 29z"/>
<path fill="#fa0" class="c" d="M2434 5239l7-27-5-29-7 30z"/>
<path fill="#ff9500" class="c" d="M2427 5265l7-26-5-26-7 29z"/>
<path fill="#ff8a00" class="c" d="M2420 5291l7-26-5-23-7 30z"/>
<path fill="#ffbf00" class="c" d="M2446 5241l7-23-5-32-7 26z"/>
<path fill="#ffb500" class="c" d="M2439 5264l7-23-5-29-7 27z"/>
<path fill="#fa0" class="c" d="M2432 5287l7-23-5-25-7 26z"/>
<path fill="#ff9f00" class="c" d="M2426 5310l6-23-5-22-7 26z"/>
<path fill="#ffd400" class="c" d="M2451 5270l7-20-5-32-7 23z"/>
<path fill="#ffca00" class="c" d="M2444 5290l7-20-5-29-7 23z"/>
<path fill="#ffb500" class="c" d="M2438 5310l6-20-5-26-7 23z"/>
<path fill="#fa0" class="c" d="M2431 5329l7-19-6-23-6 23z"/>
<path fill="#ff8000" d="M2403 5407l28-78-21-76-27 104z"/>
<path fill="#ff7500" class="c" d="M2408 5296l7-24-5-19-7 26z"/>
<path fill="#ff6a00" class="c" d="M2395 5345l13-49-5-17-14 52z"/>
<path fill="#ff6000" class="c" d="M2388 5370l7-25-6-14-6 26z"/>
<path fill="#ff8000" class="c" d="M2407 5337l13-46-5-19-14 49z"/>
<path fill="#ff7500" class="c" d="M2393 5382l14-45-6-16-13 49z"/>
<path fill="#ff9500" class="c" d="M2419 5331l7-21-6-19-7 23z"/>
<path fill="#ff8a00" class="c" d="M2405 5374l14-43-6-17-13 45z"/>
<path fill="#ff8000" class="c" d="M2398 5395l7-21-5-15-7 23z"/>
<path fill="#ff9f00" class="c" d="M2417 5368l14-39-5-19-14 42z"/>
<path fill="#ff9500" class="c" d="M2410 5388l7-20-5-16-7 22z"/>
<path fill="#ff8a00" class="c" d="M2403 5407l7-19-5-14-7 21z"/>
<path fill="#ff6a00" d="M2376 5477l27-70-20-50-28 84z"/>
<path fill="#ff6000" class="c" d="M2381 5390l7-20-5-13-7 21z"/>
<path fill="#f50" class="c" d="M2360 5450l21-60-5-12-21 63z"/>
<path fill="#ff6a00" class="c" d="M2372 5440l21-58-5-12-21 60z"/>
<path fill="#ff6000" class="c" d="M2365 5459l7-19-5-10-7 20z"/>
<path fill="#ff8000" class="c" d="M2391 5413l7-18-5-13-7 20z"/>
<path fill="#ff7500" class="c" d="M2378 5450l13-37-5-11-14 38z"/>
<path fill="#ff6a00" class="c" d="M2371 5468l7-18-6-10-7 19z"/>
<path fill="#ff8a00" class="c" d="M2396 5425l7-18-5-12-7 18z"/>
<path fill="#ff8000" class="c" d="M2376 5477l20-52-5-12-20 55z"/>
<path fill="#ff6000" d="M2348 5537l28-60-21-36-27 70z"/>
<path fill="#f50" class="c" d="M2335 5519l27-66-7-12-27 70z"/>
<path fill="#ff6a00" class="c" d="M2360 5486l9-21-7-12-9 22z"/>
<path fill="#ff6000" class="c" d="M2342 5528l18-42-7-11-18 44z"/>
<path fill="#ff7500" class="c" d="M2358 5517l18-40-7-12-18 42z"/>
<path fill="#ff6a00" class="c" d="M2348 5537l10-20-7-10-9 21z"/>
<path fill="#f50" d="M2321 5589l27-52-20-26-28 57z"/>
<path fill="#ff4a00" class="c" d="M2307 5575l28-56-7-8-28 57z"/>
<path fill="#ff6000" class="c" d="M2332 5546l10-18-7-9-10 19z"/>
<path fill="#f50" class="c" d="M2314 5582l18-36-7-8-18 37z"/>
<path fill="#ff6a00" class="c" d="M2330 5572l18-35-6-9-19 36z"/>
<path fill="#ff6000" class="c" d="M2321 5589l9-17-7-8-9 18z"/>
<path fill="#f50" d="M2294 5634l27-45-21-21-27 49z"/>
<path fill="#ff4a00" class="c" d="M2289 5607l18-32-7-7-18 33z"/>
<path fill="#ff4000" class="c" d="M2280 5623l9-16-7-6-9 16z"/>
<path fill="#f50" class="c" d="M2296 5613l18-31-7-7-18 32z"/>
<path fill="#ff4a00" class="c" d="M2287 5628l9-15-7-6-9 16z"/>
<path fill="#ff6000" class="c" d="M2303 5619l18-30-7-7-18 31z"/>
<path fill="#f50" class="c" d="M2294 5634l9-15-7-6-9 15z"/>
<path fill="#ff4a00" d="M2266 5671l28-37-21-17-28 42z"/>
<path fill="#ff4000" class="c" d="M2256 5665l27-40-10-8-28 42z"/>
<path fill="#f50" class="c" d="M2280 5652l14-18-11-9-13 20z"/>
<path fill="#ff4a00" class="c" d="M2266 5671l14-19-10-7-14 20z"/>
<path fill="#ff3500" d="M2239 5701l27-30-21-12-27 34z"/>
<path fill="#ff3500" class="c" d="M2242 5681l14-16-11-6-13 17z"/>
<path fill="#ff2a00" class="c" d="M2228 5697l14-16-10-5-14 17z"/>
<path fill="#ff4000" class="c" d="M2252 5686l14-15-10-6-14 16z"/>
<path fill="#ff3500" class="c" d="M2239 5701l13-15-10-5-14 16z"/>
<path fill="#ff2000" d="M2211 5725l28-24-21-8-27 28z"/>
<path fill="#ff2a00" class="c" d="M2215 5710l13-13-10-4-14 14z"/>
<path fill="#ff2000" class="c" d="M2201 5723l14-13-11-3-13 14z"/>
<path fill="#ff2a00" class="c" d="M2225 5713l14-12-11-4-13 13z"/>
<path fill="#ff2000" class="c" d="M2211 5725l14-12-10-3-14 13z"/>
<path fill="#ff0b00" d="M2184 5744l27-19-20-4-28 23z"/>
<path fill="#ff0b00" class="c" d="M2187 5734l14-11-10-2-14 12z"/>
<path fill="#f00" class="c" d="M2174 5744l13-10-10-1-14 11z"/>
<path fill="#ff1500" class="c" d="M2198 5735l13-10-10-2-14 11z"/>
<path fill="#f00" class="c" d="M2184 5744l14-9-11-1-13 10z"/>
<path fill="#f40000" d="M2157 5758l27-14-21 0-27 18z"/>
<path fill="#f40000" d="M2129 5768l28-10-21 4-28 15z"/>
<path fill="#f40000" d="M2102 5777l27-9-21 9-27 13z"/>
<path fill="#f40000" d="M2074 5786l28-9-21 13-27 12z"/>
<path fill="#f40000" d="M2047 5797l27-11-20 16-28 12z"/>
<path fill="#f40000" d="M2019 5809l28-12-21 17-27 15z"/>
<path fill="#f40000" d="M1992 5825l27-16-20 20-28 16z"/>
<path fill="#f40000" d="M1965 5845l27-20-21 20-27 19z"/>
<path fill="#f40000" d="M1937 5867l28-22-21 19-28 21z"/>
<path fill="#f40000" d="M1910 5892l27-25-21 18-27 23z"/>
<path fill="#f40000" d="M1882 5919l28-27-21 16-27 25z"/>
<path fill="#f40000" d="M1855 5947l27-28-20 14-28 26z"/>
<path fill="#f40000" d="M1828 5977l27-30-21 12-27 27z"/>
<path fill="#f40000" d="M1800 6006l28-29-21 9-28 27z"/>
<path fill="#f40000" d="M1773 6036l27-30-21 7-27 28z"/>
<path fill="#f40000" d="M1745 6065l28-29-21 5-27 28z"/>
<path fill="#f40000" d="M1718 6094l27-29-20 4-28 27z"/>
<path fill="#f40000" d="M1690 6121l28-27-21 2-27 27z"/>
<path fill="#f40000" d="M1663 6148l27-27-20 2-28 26z"/>
<path fill="#f40000" d="M1636 6174l27-26-21 1-27 25z"/>
<path fill="#f40000" d="M1608 6198l28-24-21 0-28 24z"/>
<path fill="#f40000" d="M1581 6221l27-23-21 0-27 24z"/>
<path fill="#f40000" d="M1553 6244l28-23-21 1-27 22z"/>
<path fill="#f40000" d="M1526 6266l27-22-20 0-28 22z"/>
<path fill="#f00" d="M1499 6288l27-22-21 0-27 22z"/>
<path fill="#f00" d="M1471 6310l28-22-21 0-28 21z"/>
<path fill="#f00" d="M1444 6332l27-22-21-1-27 21z"/>
<path fill="#ff0b00" d="M1416 6353l28-21-21-2-27 21z"/>
<path fill="#ff0b00" d="M1389 6375l27-22-20-2-28 21z"/>
<path fill="#ff1500" d="M1361 6396l28-21-21-3-27 21z"/>
<path fill="#ff1500" d="M1334 6418l27-22-20-3-28 21z"/>
<path fill="#ff2000" d="M1307 6439l27-21-21-4-27 21z"/>
<path fill="#ff2000" d="M1279 6460l28-21-21-4-28 20z"/>
<path class="m" d="M2897 5677l-21-16M2787 5616l-21-18M2650 5474l-21-29M2513 5200l-21-175M2376 5477l-21-36M2239 5701l-21-8M2102 5777l-21 13M1965 5845l-21 19M1828 5977l-21 9M1690 6121l-20 2M1553 6244l-20 0M1416 6353l-20-2M1279 6460l-21-5"/>
<path fill="#ff8a00" d="M2890 5682l28 12-21-17-28-13z"/>
<path fill="#ff8a00" d="M2863 5668l27 14-21-18-27-14z"/>
<path fill="#ff9500" d="M2835 5653l28 15-21-18-27-16z"/>
<path fill="#ff9500" d="M2808 5636l27 17-20-19-28-18z"/>
<path fill="#ff9500" d="M2780 5616l28 20-21-20-27-21z"/>
<path fill="#ff9500" d="M2753 5594l27 22-20-21-28-24z"/>
<path fill="#ff9f00" d="M2726 5569l27 25-21-23-27-28z"/>
<path fill="#ff9500" class="c" d="M2715 5556l28 26-11-11-27-28z"/>
<path fill="#ff9f00" class="c" d="M2726 5569l27 25-10-12-28-26z"/>
<path fill="#ff9f00" d="M2698 5540l28 29-21-26-28-32z"/>
<path fill="#ff9500" class="c" d="M2702 5541l13 15-10-13-14-16z"/>
<path fill="#ff9f00" class="c" d="M2688 5526l14 15-11-14-14-16zM2712 5555l14 14-11-13-13-15z"/>
<path fill="#fa0" class="c" d="M2698 5540l14 15-10-14-14-15z"/>
<path fill="#fa0" d="M2671 5508l27 32-21-29-27-37z"/>
<path fill="#ff9f00" class="c" d="M2660 5491l28 35-11-15-27-37z"/>
<path fill="#fa0" class="c" d="M2671 5508l27 32-10-14-28-35z"/>
<path fill="#fa0" d="M2643 5472l28 36-21-34-27-45z"/>
<path fill="#fa0" class="c" d="M2633 5450l27 41-10-17-27-45z"/>
<path fill="#ffb500" class="c" d="M2643 5472l28 36-11-17-27-41z"/>
<path fill="#ffbf00" d="M2616 5431l27 41-20-43-28-52z"/>
<path fill="#ffb500" class="c" d="M2606 5404l27 46-10-21-28-52z"/>
<path fill="#ffbf00" class="c" d="M2630 5451l13 21-10-22-14-23z"/>
<path fill="#ffca00" class="c" d="M2616 5431l14 20-11-24-13-23z"/>
<path fill="#ffca00" d="M2589 5389l27 42-21-54-27-60z"/>
<path fill="#ffbf00" class="c" d="M2584 5359l18 36-7-18-18-40z"/>
<path fill="#ffca00" class="c" d="M2575 5341l9 18-7-22-9-20z"/>
<path fill="#ffbf00" class="c" d="M2600 5397l9 16-7-18-9-18z"/>
<path fill="#ffca00" class="c" d="M2591 5381l9 16-7-20-9-18z"/>
<path fill="#ffd400" class="c" d="M2582 5365l9 16-7-22-9-18z"/>
<path fill="#ffca00" class="c" d="M2607 5417l9 14-7-18-9-16z"/>
<path fill="#ffd400" class="c" d="M2589 5389l18 28-7-20-18-32z"/>
<path fill="#ffdf00" d="M2561 5350l28 39-21-72-28-65z"/>
<path fill="#ffd400" class="c" d="M2564 5327l14 26-10-36-14-32z"/>
<path fill="#ffdf00" class="c" d="M2551 5301l13 26-10-42-14-33zM2575 5369l14 20-11-36-14-26z"/>
<path fill="#ffea00" class="c" d="M2561 5350l14 19-11-42-13-26z"/>
<path fill="#ffea00" d="M2534 5325l27 25-21-98-27-52z"/>
<path fill="#ffea00" class="c" d="M2523 5263l28 38-11-49-27-52zM2547 5338l14 12-10-49-14-19z"/>
<path fill="#fff400" class="c" d="M2534 5325l13 13-10-56-14-19z"/>
<path fill="#fff400" d="M2506 5327l28-2-21-125-27-3z"/>
<path fill="#fff400" d="M2479 5358l27-31-20-130-28 53z"/>
<path fill="#fff400" class="c" d="M2483 5256l9-16-6-43-10 18z"/>
<path fill="#ffea00" class="c" d="M2465 5286l18-30-7-41-18 35z"/>
<path fill="#fff400" class="c" d="M2472 5322l27-38-7-44-27 46z"/>
<path fill="#ff0" class="c" d="M2488 5348l18-21-7-43-18 25z"/>
<path fill="#ffff10" class="c" d="M2479 5358l9-10-7-39-9 13z"/>
<path fill="#ffdf00" d="M2451 5408l28-50-21-108-27 79z"/>
<path fill="#ffdf00" class="c" d="M2456 5295l7-18-5-27-7 20z"/>
<path fill="#ffd400" class="c" d="M2450 5313l6-18-5-25-7 20z"/>
<path fill="#ffca00" class="c" d="M2443 5331l7-18-6-23-6 20z"/>
<path fill="#ffbf00" class="c" d="M2436 5349l7-18-5-21-7 19z"/>
<path fill="#ffea00" class="c" d="M2462 5321l6-17-5-27-7 18z"/>
<path fill="#ffdf00" class="c" d="M2455 5337l7-16-6-26-6 18z"/>
<path fill="#ffd400" class="c" d="M2448 5353l7-16-5-24-7 18z"/>
<path fill="#ffca00" class="c" d="M2441 5369l7-16-5-22-7 18z"/>
<path fill="#ff0" class="c" d="M2467 5346l7-15-6-27-6 17z"/>
<path fill="#fff400" class="c" d="M2460 5360l7-14-5-25-7 16z"/>
<path fill="#ffea00" class="c" d="M2453 5374l7-14-5-23-7 16z"/>
<path fill="#ffdf00" class="c" d="M2446 5389l7-15-5-21-7 16z"/>
<path fill="#ffff10" class="c" d="M2472 5371l7-13-5-27-7 15z"/>
<path fill="#ff0" class="c" d="M2465 5383l7-12-5-25-7 14z"/>
<path fill="#fff400" class="c" d="M2458 5396l7-13-5-23-7 14z"/>
<path fill="#ffea00" class="c" d="M2451 5408l7-12-5-22-7 15z"/>
<path fill="#ffbf00" d="M2424 5465l27-57-20-79-28 78z"/>
<path fill="#ffb500" class="c" d="M2429 5367l7-18-5-20-7 20z"/>
<path fill="#fa0" class="c" d="M2422 5385l7-18-5-18-7 19z"/>
<path fill="#ff9f00" class="c" d="M2408 5422l14-37-5-17-14 39z"/>
<path fill="#ffbf00" class="c" d="M2434 5386l7-17-5-20-7 18z"/>
<path fill="#ffb500" class="c" d="M2421 5419l13-33-5-19-14 36z"/>
<path fill="#fa0" class="c" d="M2414 5436l7-17-6-16-7 19z"/>
<path fill="#ffd400" class="c" d="M2439 5404l7-15-5-20-7 17z"/>
<path fill="#ffca00" class="c" d="M2433 5419l6-15-5-18-7 16z"/>
<path fill="#ffbf00" class="c" d="M2426 5435l7-16-6-17-6 17z"/>
<path fill="#ffb500" class="c" d="M2419 5450l7-15-5-16-7 17z"/>
<path fill="#ffdf00" class="c" d="M2445 5422l6-14-5-19-7 15z"/>
<path fill="#ffd400" class="c" d="M2438 5437l7-15-6-18-6 15z"/>
<path fill="#ffca00" class="c" d="M2431 5451l7-14-5-18-7 16z"/>
<path fill="#ffbf00" class="c" d="M2424 5465l7-14-5-16-7 15z"/>
<path fill="#ff9f00" d="M2397 5520l27-55-21-58-27 70z"/>
<path fill="#ff9500" class="c" d="M2392 5470l18-44-7-19-18 47z"/>
<path fill="#ff8a00" class="c" d="M2383 5491l9-21-7-16-9 23z"/>
<path fill="#fa0" class="c" d="M2408 5465l9-19-7-20-9 22z"/>
<path fill="#ff9f00" class="c" d="M2399 5485l9-20-7-17-9 22z"/>
<path fill="#ff9500" class="c" d="M2390 5505l9-20-7-15-9 21z"/>
<path fill="#ffb500" class="c" d="M2415 5483l9-18-7-19-9 19z"/>
<path fill="#fa0" class="c" d="M2397 5520l18-37-7-18-18 40z"/>
<path fill="#ff8a00" d="M2369 5570l28-50-21-43-28 60z"/>
<path fill="#ff8000" class="c" d="M2355 5548l28-57-7-14-28 60z"/>
<path fill="#ff9500" class="c" d="M2381 5523l9-18-7-14-9 19z"/>
<path fill="#ff8a00" class="c" d="M2362 5559l19-36-7-13-19 38z"/>
<path fill="#ff9f00" class="c" d="M2387 5536l10-16-7-15-9 18z"/>
<path fill="#ff9500" class="c" d="M2369 5570l18-34-6-13-19 36z"/>
<path fill="#ff8000" d="M2342 5615l27-45-21-33-27 52z"/>
<path fill="#ff7500" class="c" d="M2328 5598l27-50-7-11-27 52z"/>
<path fill="#ff8000" class="c" d="M2335 5606l27-47-7-11-27 50z"/>
<path fill="#ff9500" class="c" d="M2360 5585l9-15-7-11-9 16z"/>
<path fill="#ff8a00" class="c" d="M2342 5615l18-30-7-10-18 31z"/>
<path fill="#ff7500" d="M2314 5653l28-38-21-26-27 45z"/>
<path fill="#ff6a00" class="c" d="M2310 5626l18-28-7-9-18 30z"/>
<path fill="#ff6000" class="c" d="M2301 5640l9-14-7-7-9 15z"/>
<path fill="#ff7500" class="c" d="M2317 5633l18-27-7-8-18 28z"/>
<path fill="#ff6a00" class="c" d="M2307 5647l10-14-7-7-9 14z"/>
<path fill="#ff8000" class="c" d="M2323 5640l19-25-7-9-18 27z"/>
<path fill="#ff7500" class="c" d="M2314 5653l9-13-6-7-10 14z"/>
<path fill="#ff6000" d="M2287 5685l27-32-20-19-28 37z"/>
<path fill="#ff6000" class="c" d="M2282 5664l19-24-7-6-19 24z"/>
<path fill="#f50" class="c" d="M2273 5676l9-12-7-6-9 13z"/>
<path fill="#ff6a00" class="c" d="M2298 5658l9-11-6-7-10 12z"/>
<path fill="#ff6000" class="c" d="M2280 5680l18-22-7-6-18 24z"/>
<path fill="#ff7500" class="c" d="M2305 5664l9-11-7-6-9 11z"/>
<path fill="#ff6a00" class="c" d="M2287 5685l18-21-7-6-18 22z"/>
<path fill="#ff4a00" d="M2260 5710l27-25-21-14-27 30z"/>
<path fill="#ff4a00" class="c" d="M2255 5695l18-19-7-5-18 20z"/>
<path fill="#ff4000" class="c" d="M2246 5704l9-9-7-4-9 10z"/>
<path fill="#f50" class="c" d="M2271 5689l9-9-7-4-9 9z"/>
<path fill="#ff4a00" class="c" d="M2262 5698l9-9-7-4-9 10z"/>
<path fill="#ff4000" class="c" d="M2253 5707l9-9-7-3-9 9z"/>
<path fill="#ff6000" class="c" d="M2278 5694l9-9-7-5-9 9z"/>
<path fill="#f50" class="c" d="M2269 5702l9-8-7-5-9 9z"/>
<path fill="#ff4a00" class="c" d="M2260 5710l9-8-7-4-9 9z"/>
<path fill="#ff2a00" d="M2232 5729l28-19-21-9-28 24z"/>
<path fill="#ff3500" class="c" d="M2237 5712l9-8-7-3-9 8z"/>
<path fill="#ff2a00" class="c" d="M2227 5719l10-7-7-3-9 8z"/>
<path fill="#ff2000" class="c" d="M2218 5727l9-8-6-2-10 8z"/>
<path fill="#ff3500" class="c" d="M2243 5714l10-7-7-3-9 8z"/>
<path fill="#ff2a00" class="c" d="M2234 5721l9-7-6-2-10 7z"/>
<path fill="#ff2000" class="c" d="M2225 5728l9-7-7-2-9 8z"/>
<path fill="#ff4000" class="c" d="M2250 5717l10-7-7-3-10 7z"/>
<path fill="#ff3500" class="c" d="M2241 5723l9-6-7-3-9 7z"/>
<path fill="#ff2000" class="c" d="M2232 5729l9-6-7-2-9 7z"/>
<path fill="#ff0b00" d="M2205 5742l27-13-21-4-27 19z"/>
<path fill="#ff1500" class="c" d="M2208 5735l14-8-11-2-13 10z"/>
<path fill="#f00" class="c" d="M2194 5743l14-8-10 0-14 9z"/>
<path fill="#ff1500" class="c" d="M2218 5736l14-7-10-2-14 8z"/>
<path fill="#f00" class="c" d="M2205 5742l13-6-10-1-14 8z"/>
<path fill="#f40000" d="M2177 5751l28-9-21 2-27 14z"/>
<path fill="#f40000" d="M2150 5757l27-6-20 7-28 10z"/>
<path fill="#f40000" d="M2122 5761l28-4-21 11-27 9z"/>
<path fill="#f40000" d="M2095 5767l27-6-20 16-28 9z"/>
<path fill="#f40000" d="M2068 5775l27-8-21 19-27 11z"/>
<path fill="#f40000" d="M2040 5786l28-11-21 22-28 12z"/>
<path fill="#f40000" d="M2013 5802l27-16-21 23-27 16z"/>
<path fill="#f40000" d="M1985 5822l28-20-21 23-27 20z"/>
<path fill="#f40000" d="M1958 5846l27-24-20 23-28 22z"/>
<path fill="#f40000" d="M1931 5874l27-28-21 21-27 25z"/>
<path fill="#f40000" d="M1903 5904l28-30-21 18-28 27z"/>
<path fill="#f40000" d="M1876 5935l27-31-21 15-27 28z"/>
<path fill="#f40000" d="M1848 5967l28-32-21 12-27 30z"/>
<path fill="#f40000" d="M1821 5999l27-32-20 10-28 29z"/>
<path fill="#f40000" d="M1793 6030l28-31-21 7-27 30z"/>
<path fill="#f40000" d="M1766 6061l27-31-20 6-28 29z"/>
<path fill="#f40000" d="M1739 6091l27-30-21 4-27 29z"/>
<path fill="#f40000" d="M1711 6119l28-28-21 3-28 27z"/>
<path fill="#f40000" d="M1684 6146l27-27-21 2-27 27z"/>
<path fill="#f40000" d="M1656 6172l28-26-21 2-27 26z"/>
<path fill="#f40000" d="M1629 6196l27-24-20 2-28 24z"/>
<path fill="#f40000" d="M1602 6220l27-24-21 2-27 23z"/>
<path fill="#f40000" d="M1574 6243l28-23-21 1-28 23z"/>
<path fill="#f40000" d="M1547 6266l27-23-21 1-27 22z"/>
<path fill="#f40000" d="M1519 6288l28-22-21 0-27 22z"/>
<path fill="#f00" d="M1492 6311l27-23-20 0-28 22z"/>
<path fill="#f00" d="M1464 6333l28-22-21-1-27 22z"/>
<path fill="#ff0b00" d="M1437 6355l27-22-20-1-28 21z"/>
<path fill="#ff0b00" d="M1410 6378l27-23-21-2-27 22z"/>
<path fill="#ff1500" d="M1382 6400l28-22-21-3-28 21z"/>
<path fill="#ff1500" d="M1355 6422l27-22-21-4-27 22z"/>
<path fill="#ff1500" d="M1327 6443l28-21-21-4-27 21z"/>
<path fill="#ff2000" d="M1300 6465l27-22-20-4-28 21z"/>
<path class="m" d="M2918 5694l-21-17M2808 5636l-21-20M2671 5508l-21-34M2534 5325l-21-125M2397 5520l-21-43M2260 5710l-21-9M2122 5761l-20 16M1985 5822l-20 23M1848 5967l-20 10M1711 6119l-21 2M1574 6243l-21 1M1437 6355l-21-2M1300 6465l-21-5"/>
<path fill="#ff9500" d="M2911 5701l27 11-20-18-28-12z"/>
<path fill="#ff9500" d="M2883 5688l28 13-21-19-27-14z"/>
<path fill="#ff9f00" d="M2856 5674l27 14-20-20-28-15z"/>
<path fill="#ff9f00" d="M2829 5658l27 16-21-21-27-17z"/>
<path fill="#ff9f00" d="M2801 5640l28 18-21-22-28-20z"/>
<path fill="#fa0" d="M2774 5620l27 20-21-24-27-22z"/>
<path fill="#fa0" d="M2746 5598l28 22-21-26-27-25z"/>
<path fill="#fa0" class="c" d="M2736 5584l27 23-10-13-27-25z"/>
<path fill="#ffb500" class="c" d="M2746 5598l28 22-11-13-27-23z"/>
<path fill="#ffb500" d="M2719 5573l27 25-20-29-28-29z"/>
<path fill="#fa0" class="c" d="M2722 5570l14 14-10-15-14-14z"/>
<path fill="#ffb500" class="c" d="M2709 5557l13 13-10-15-14-15zM2733 5586l13 12-10-14-14-14z"/>
<path fill="#ffbf00" class="c" d="M2719 5573l14 13-11-16-13-13z"/>
<path fill="#ffbf00" d="M2691 5546l28 27-21-33-27-32z"/>
<path fill="#ffb500" class="c" d="M2681 5527l28 30-11-17-27-32z"/>
<path fill="#ffbf00" class="c" d="M2691 5546l28 27-10-16-28-30z"/>
<path fill="#ffca00" d="M2664 5517l27 29-20-38-28-36z"/>
<path fill="#ffbf00" class="c" d="M2654 5494l27 33-10-19-28-36z"/>
<path fill="#ffca00" class="c" d="M2664 5517l27 29-10-19-27-33z"/>
<path fill="#ffd400" d="M2637 5487l27 30-21-45-27-41z"/>
<path fill="#ffca00" class="c" d="M2640 5477l14 17-11-22-13-21z"/>
<path fill="#ffd400" class="c" d="M2626 5459l14 18-10-26-14-20zM2650 5502l14 15-10-23-14-17z"/>
<path fill="#ffdf00" class="c" d="M2637 5487l13 15-10-25-14-18z"/>
<path fill="#ffdf00" d="M2609 5458l28 29-21-56-27-42z"/>
<path fill="#ffd400" class="c" d="M2613 5441l13 18-10-28-14-21z"/>
<path fill="#ffdf00" class="c" d="M2599 5423l14 18-11-31-13-21zM2623 5473l14 14-11-28-13-18z"/>
<path fill="#ffea00" class="c" d="M2609 5458l14 15-10-32-14-18z"/>
<path fill="#ffea00" d="M2582 5434l27 24-20-69-28-39z"/>
<path fill="#ffea00" class="c" d="M2571 5392l28 31-10-34-28-39zM2596 5446l13 12-10-35-14-15z"/>
<path fill="#fff400" class="c" d="M2582 5434l14 12-11-38-14-16z"/>
<path fill="#fff400" d="M2554 5422l28 12-21-84-27-25z"/>
<path fill="#ff0" d="M2527 5426l27-4-20-97-28 2z"/>
<path fill="#ff0" class="c" d="M2517 5377l27-3-10-49-28 2zM2541 5424l13-2-10-48-14 1z"/>
<path fill="#ffff10" class="c" d="M2527 5426l14-2-11-49-13 2z"/>
<path fill="#ffff20" d="M2500 5447l27-21-21-99-27 31z"/>
<path fill="#ff0" class="c" d="M2505 5359l6-7-5-25-7 8z"/>
<path fill="#ffff10" class="c" d="M2491 5373l14-14-6-24-13 16z"/>
<path fill="#ffff20" class="c" d="M2484 5381l7-8-5-22-7 7z"/>
<path fill="#ffff10" class="c" d="M2510 5383l7-6-6-25-6 7z"/>
<path fill="#ffff20" class="c" d="M2496 5396l14-13-5-24-14 14z"/>
<path fill="#ffff30" class="c" d="M2489 5403l7-7-5-23-7 8z"/>
<path fill="#ffff10" class="c" d="M2515 5407l7-6-5-24-7 6z"/>
<path fill="#ffff20" class="c" d="M2508 5413l7-6-5-24-7 7z"/>
<path fill="#ffff30" class="c" d="M2501 5419l7-6-5-23-7 6z"/>
<path fill="#ffff40" class="c" d="M2494 5425l7-6-5-23-7 7z"/>
<path fill="#ffff20" class="c" d="M2520 5431l7-5-5-25-7 6z"/>
<path fill="#ffff30" class="c" d="M2513 5437l7-6-5-24-7 6z"/>
<path fill="#ffff40" class="c" d="M2506 5442l7-5-5-24-7 6z"/>
<path fill="#ffff50" class="c" d="M2500 5447l6-5-5-23-7 6z"/>
<path fill="#ffff30" d="M2472 5482l28-35-21-89-28 50z"/>
<path fill="#ffff20" class="c" d="M2477 5392l7-11-5-23-7 13z"/>
<path fill="#ffff10" class="c" d="M2470 5404l7-12-5-21-7 12z"/>
<path fill="#ff0" class="c" d="M2463 5415l7-11-5-21-7 13z"/>
<path fill="#fff400" class="c" d="M2457 5427l6-12-5-19-7 12z"/>
<path fill="#ffff30" class="c" d="M2482 5413l7-10-5-22-7 11z"/>
<path fill="#ffff20" class="c" d="M2469 5434l13-21-5-21-14 23z"/>
<path fill="#ffff10" class="c" d="M2462 5445l7-11-6-19-6 12z"/>
<path fill="#ffff40" class="c" d="M2474 5454l20-29-5-22-20 31z"/>
<path fill="#ffff30" class="c" d="M2467 5463l7-9-5-20-7 11z"/>
<path fill="#ffff50" class="c" d="M2472 5482l28-35-6-22-27 38z"/>
<path fill="#ff0" d="M2445 5523l27-41-21-74-27 57z"/>
<path fill="#fff400" class="c" d="M2450 5440l7-13-6-19-6 14z"/>
<path fill="#ffdf00" class="c" d="M2443 5453l7-13-5-18-7 15z"/>
<path fill="#ffd400" class="c" d="M2436 5466l7-13-5-16-7 14z"/>
<path fill="#ffca00" class="c" d="M2429 5479l7-13-5-15-7 14z"/>
<path fill="#ff0" class="c" d="M2455 5457l7-12-5-18-7 13z"/>
<path fill="#fff400" class="c" d="M2448 5469l7-12-5-17-7 13z"/>
<path fill="#ffea00" class="c" d="M2441 5482l7-13-5-16-7 13z"/>
<path fill="#ffdf00" class="c" d="M2434 5494l7-12-5-16-7 13z"/>
<path fill="#ffff20" class="c" d="M2460 5475l7-12-5-18-7 12z"/>
<path fill="#ffff10" class="c" d="M2453 5486l7-11-5-18-7 12z"/>
<path fill="#ff0" class="c" d="M2446 5497l7-11-5-17-7 13z"/>
<path fill="#fff400" class="c" d="M2440 5508l6-11-5-15-7 12z"/>
<path fill="#ffff40" class="c" d="M2465 5492l7-10-5-19-7 12z"/>
<path fill="#ffff30" class="c" d="M2458 5502l7-10-5-17-7 11z"/>
<path fill="#ffff20" class="c" d="M2452 5513l6-11-5-16-7 11z"/>
<path fill="#ff0" class="c" d="M2445 5523l7-10-6-16-6 11z"/>
<path fill="#ffca00" d="M2417 5565l28-42-21-58-27 55z"/>
<path fill="#ffbf00" class="c" d="M2415 5505l14-26-5-14-14 27z"/>
<path fill="#ffb500" class="c" d="M2402 5531l13-26-5-13-13 28z"/>
<path fill="#ffd400" class="c" d="M2428 5506l6-12-5-15-7 13z"/>
<path fill="#ffca00" class="c" d="M2421 5518l7-12-6-14-7 13z"/>
<path fill="#ffbf00" class="c" d="M2407 5543l14-25-6-13-13 26z"/>
<path fill="#ffdf00" class="c" d="M2426 5531l14-23-6-14-13 24z"/>
<path fill="#ffd400" class="c" d="M2419 5543l7-12-5-13-7 12z"/>
<path fill="#ffca00" class="c" d="M2412 5554l7-11-5-13-7 13z"/>
<path fill="#fff400" class="c" d="M2438 5533l7-10-5-15-7 12z"/>
<path fill="#ffea00" class="c" d="M2431 5544l7-11-5-13-7 11z"/>
<path fill="#ffdf00" class="c" d="M2424 5555l7-11-5-13-7 12z"/>
<path fill="#ffd400" class="c" d="M2417 5565l7-10-5-12-7 11z"/>
<path fill="#ffb500" d="M2390 5606l27-41-20-45-28 50z"/>
<path fill="#fa0" class="c" d="M2385 5566l19-31-7-15-19 33z"/>
<path fill="#ff9f00" class="c" d="M2376 5582l9-16-7-13-9 17z"/>
<path fill="#ffb500" class="c" d="M2392 5580l18-30-6-15-19 31z"/>
<path fill="#fa0" class="c" d="M2383 5594l9-14-7-14-9 16z"/>
<path fill="#ffca00" class="c" d="M2408 5579l9-14-7-15-9 15z"/>
<path fill="#ffbf00" class="c" d="M2399 5593l9-14-7-14-9 15z"/>
<path fill="#ffb500" class="c" d="M2390 5606l9-13-7-13-9 14z"/>
<path fill="#ff9f00" d="M2362 5643l28-37-21-36-27 45z"/>
<path fill="#ff9f00" class="c" d="M2367 5596l9-14-7-12-9 15z"/>
<path fill="#ff9500" class="c" d="M2349 5624l18-28-7-11-18 30z"/>
<path fill="#fa0" class="c" d="M2374 5607l9-13-7-12-9 14z"/>
<path fill="#ff9f00" class="c" d="M2356 5634l18-27-7-11-18 28z"/>
<path fill="#ffb500" class="c" d="M2381 5619l9-13-7-12-9 13z"/>
<path fill="#fa0" class="c" d="M2362 5643l19-24-7-12-18 27z"/>
<path fill="#ff9500" d="M2335 5675l27-32-20-28-28 38z"/>
<path fill="#ff8a00" class="c" d="M2330 5648l19-24-7-9-19 25z"/>
<path fill="#ff8000" class="c" d="M2321 5660l9-12-7-8-9 13z"/>
<path fill="#ff9500" class="c" d="M2337 5656l19-22-7-10-19 24z"/>
<path fill="#ff8a00" class="c" d="M2328 5668l9-12-7-8-9 12z"/>
<path fill="#ff9f00" class="c" d="M2344 5664l18-21-6-9-19 22z"/>
<path fill="#ff9500" class="c" d="M2335 5675l9-11-7-8-9 12z"/>
<path fill="#ff8000" d="M2308 5701l27-26-21-22-27 32z"/>
<path fill="#ff8000" class="c" d="M2312 5670l9-10-7-7-9 11z"/>
<path fill="#ff7500" class="c" d="M2303 5680l9-10-7-6-9 11z"/>
<path fill="#ff6a00" class="c" d="M2294 5690l9-10-7-5-9 10z"/>
<path fill="#ff8a00" class="c" d="M2319 5677l9-9-7-8-9 10z"/>
<path fill="#ff8000" class="c" d="M2310 5686l9-9-7-7-9 10z"/>
<path fill="#ff7500" class="c" d="M2301 5696l9-10-7-6-9 10z"/>
<path fill="#ff8a00" class="c" d="M2317 5692l18-17-7-7-18 18z"/>
<path fill="#ff8000" class="c" d="M2308 5701l9-9-7-6-9 10z"/>
<path fill="#ff6000" d="M2280 5720l28-19-21-16-27 25z"/>
<path fill="#ff6000" class="c" d="M2285 5698l9-8-7-5-9 9z"/>
<path fill="#f50" class="c" d="M2276 5706l9-8-7-4-9 8z"/>
<path fill="#ff4a00" class="c" d="M2266 5714l10-8-7-4-9 8z"/>
<path fill="#ff6a00" class="c" d="M2292 5703l9-7-7-6-9 8z"/>
<path fill="#ff6000" class="c" d="M2282 5710l10-7-7-5-9 8z"/>
<path fill="#f50" class="c" d="M2273 5717l9-7-6-4-10 8z"/>
<path fill="#ff7500" class="c" d="M2299 5707l9-6-7-5-9 7z"/>
<path fill="#ff6000" class="c" d="M2289 5714l10-7-7-4-10 7z"/>
<path fill="#f50" class="c" d="M2280 5720l9-6-7-4-9 7z"/>
<path fill="#ff3500" d="M2253 5733l27-13-20-10-28 19z"/>
<path fill="#ff4000" class="c" d="M2257 5719l9-5-6-4-10 7z"/>
<path fill="#ff3500" class="c" d="M2248 5725l9-6-7-2-9 6z"/>
<path fill="#ff2a00" class="c" d="M2239 5731l9-6-7-2-9 6z"/>
<path fill="#ff4a00" class="c" d="M2264 5722l9-5-7-3-9 5z"/>
<path fill="#ff3500" class="c" d="M2255 5727l9-5-7-3-9 6z"/>
<path fill="#ff2a00" class="c" d="M2246 5732l9-5-7-2-9 6z"/>
<path fill="#ff4a00" class="c" d="M2271 5724l9-4-7-3-9 5z"/>
<path fill="#ff3500" class="c" d="M2262 5729l9-5-7-2-9 5z"/>
<path fill="#ff2a00" class="c" d="M2253 5733l9-4-7-2-9 5z"/>
<path fill="#ff0b00" d="M2225 5740l28-7-21-4-27 13z"/>
<path fill="#ff1500" class="c" d="M2229 5736l13-5-10-2-14 7z"/>
<path fill="#f00" class="c" d="M2215 5741l14-5-11 0-13 6z"/>
<path fill="#ff1500" class="c" d="M2239 5736l14-3-11-2-13 5z"/>
<path fill="#f00" class="c" d="M2225 5740l14-4-10 0-14 5z"/>
<path fill="#f40000" d="M2198 5743l27-3-20 2-28 9z"/>
<path fill="#f40000" d="M2171 5743l27 0-21 8-27 6z"/>
<path fill="#f40000" d="M2143 5742l28 1-21 14-28 4z"/>
<path fill="#f40000" d="M2116 5743l27-1-21 19-27 6z"/>
<path fill="#f40000" d="M2088 5747l28-4-21 24-27 8z"/>
<path fill="#f40000" d="M2061 5757l27-10-20 28-28 11z"/>
<path fill="#f40000" d="M2033 5773l28-16-21 29-27 16z"/>
<path fill="#f40000" d="M2006 5795l27-22-20 29-28 20z"/>
<path fill="#f40000" d="M1979 5822l27-27-21 27-27 24z"/>
<path fill="#f40000" d="M1951 5853l28-31-21 24-27 28z"/>
<path fill="#f40000" d="M1924 5886l27-33-20 21-28 30z"/>
<path fill="#f40000" d="M1896 5921l28-35-21 18-27 31z"/>
<path fill="#f40000" d="M1869 5956l27-35-20 14-28 32z"/>
<path fill="#f40000" d="M1842 5990l27-34-21 11-27 32z"/>
<path fill="#f40000" d="M1814 6024l28-34-21 9-28 31z"/>
<path fill="#f40000" d="M1787 6057l27-33-21 6-27 31z"/>
<path fill="#f40000" d="M1759 6087l28-30-21 4-27 30z"/>
<path fill="#f40000" d="M1732 6117l27-30-20 4-28 28z"/>
<path fill="#f40000" d="M1704 6144l28-27-21 2-27 27z"/>
<path fill="#f40000" d="M1677 6169l27-25-20 2-28 26z"/>
<path fill="#f40000" d="M1650 6194l27-25-21 3-27 24z"/>
<path fill="#f40000" d="M1622 6218l28-24-21 2-27 24z"/>
<path fill="#f40000" d="M1595 6241l27-23-20 2-28 23z"/>
<path fill="#f40000" d="M1567 6264l28-23-21 2-27 23z"/>
<path fill="#f40000" d="M1540 6288l27-24-20 2-28 22z"/>
<path fill="#f40000" d="M1513 6311l27-23-21 0-27 23z"/>
<path fill="#f00" d="M1485 6334l28-23-21 0-28 22z"/>
<path fill="#f00" d="M1458 6357l27-23-21-1-27 22z"/>
<path fill="#ff0b00" d="M1430 6380l28-23-21-2-27 23z"/>
<path fill="#ff0b00" d="M1403 6403l27-23-20-2-28 22z"/>
<path fill="#ff1500" d="M1375 6425l28-22-21-3-27 22z"/>
<path fill="#ff1500" d="M1348 6448l27-23-20-3-28 21z"/>
<path fill="#ff2000" d="M1321 6470l27-22-21-5-27 22z"/>
<path class="m" d="M2938 5712l-20-18M2829 5658l-21-22M2691 5546l-20-38M2554 5422l-20-97M2417 5565l-20-45M2280 5720l-20-10M2143 5742l-21 19M2006 5795l-21 27M1869 5956l-21 11M1732 6117l-21 2M1595 6241l-21 2M1458 6357l-21-2M1321 6470l-21-5"/>
<path fill="#ff9f00" d="M2932 5721l27 10-21-19-27-11z"/>
<path fill="#ff9f00" d="M2904 5709l28 12-21-20-28-13z"/>
<path fill="#fa0" d="M2877 5696l27 13-21-21-27-14z"/>
<path fill="#fa0" d="M2849 5682l28 14-21-22-27-16z"/>
<path fill="#fa0" d="M2822 5666l27 16-20-24-28-18z"/>
<path fill="#ffb500" d="M2794 5648l28 18-21-26-27-20z"/>
<path fill="#ffbf00" d="M2767 5629l27 19-20-28-28-22z"/>
<path fill="#ffbf00" d="M2740 5609l27 20-21-31-27-25z"/>
<path fill="#ffbf00" class="c" d="M2729 5591l28 23-11-16-27-25zM2753 5619l14 10-10-15-14-12z"/>
<path fill="#ffca00" class="c" d="M2740 5609l13 10-10-17-14-11z"/>
<path fill="#ffca00" d="M2712 5587l28 22-21-36-28-27z"/>
<path fill="#ffca00" class="c" d="M2702 5566l27 25-10-18-28-27zM2726 5598l14 11-11-18-13-12z"/>
<path fill="#ffd400" class="c" d="M2712 5587l14 11-10-19-14-13z"/>
<path fill="#ffd400" d="M2685 5564l27 23-21-41-27-29z"/>
<path fill="#ffd400" class="c" d="M2674 5541l28 25-11-20-27-29zM2699 5575l13 12-10-21-14-12z"/>
<path fill="#ffdf00" class="c" d="M2685 5564l14 11-11-21-14-13z"/>
<path fill="#ffdf00" d="M2657 5542l28 22-21-47-27-30z"/>
<path fill="#ffdf00" class="c" d="M2647 5514l27 27-10-24-27-30zM2671 5553l14 11-11-23-13-14z"/>
<path fill="#ffea00" class="c" d="M2657 5542l14 11-10-26-14-13z"/>
<path fill="#ffea00" d="M2630 5522l27 20-20-55-28-29z"/>
<path fill="#fff400" d="M2603 5507l27 15-21-64-27-24z"/>
<path fill="#ff0" d="M2575 5501l28 6-21-73-28-12z"/>
<path fill="#ffff10" d="M2548 5506l27-5-21-79-27 4z"/>
<path fill="#ff0" class="c" d="M2551 5464l14-2-11-40-13 2z"/>
<path fill="#ffff10" class="c" d="M2537 5466l14-2-10-40-14 2zM2561 5504l14-3-10-39-14 2z"/>
<path fill="#ffff20" class="c" d="M2548 5506l13-2-10-40-14 2z"/>
<path fill="#ffff50" d="M2520 5522l28-16-21-80-27 21z"/>
<path fill="#ffff20" class="c" d="M2525 5451l7-5-5-20-7 5z"/>
<path fill="#ffff30" class="c" d="M2518 5456l7-5-5-20-7 6z"/>
<path fill="#ffff50" class="c" d="M2512 5461l6-5-5-19-7 5z"/>
<path fill="#ffff60" class="c" d="M2505 5466l7-5-6-19-6 5z"/>
<path fill="#ffff30" class="c" d="M2531 5471l6-5-5-20-7 5z"/>
<path fill="#ffff40" class="c" d="M2524 5475l7-4-6-20-7 5z"/>
<path fill="#ffff50" class="c" d="M2517 5480l7-5-6-19-6 5z"/>
<path fill="#ffff70" class="c" d="M2510 5485l7-5-5-19-7 5z"/>
<path fill="#ffff30" class="c" d="M2536 5490l7-4-6-20-6 5z"/>
<path fill="#ffff50" class="c" d="M2529 5495l7-5-5-19-7 4z"/>
<path fill="#ffff60" class="c" d="M2522 5499l7-4-5-20-7 5z"/>
<path fill="#ffff70" class="c" d="M2515 5503l7-4-5-19-7 5z"/>
<path fill="#ffff40" class="c" d="M2541 5510l7-4-5-20-7 4z"/>
<path fill="#ffff50" class="c" d="M2534 5514l7-4-5-20-7 5z"/>
<path fill="#ffff60" class="c" d="M2527 5518l7-4-5-19-7 4z"/>
<path fill="#ffff80" class="c" d="M2520 5522l7-4-5-19-7 4z"/>
<path fill="#ffff80" d="M2493 5547l27-25-20-75-28 35z"/>
<path fill="#ffff60" class="c" d="M2498 5474l7-8-5-19-7 9z"/>
<path fill="#ffff70" class="c" d="M2477 5498l21-24-5-18-21 26zM2503 5492l7-7-5-19-7 8z"/>
<path fill="#ffff80" class="c" d="M2483 5514l20-22-5-18-21 24zM2508 5510l7-7-5-18-7 7z"/>
<path fill="#ffff8f" class="c" d="M2495 5524l13-14-5-18-14 15z"/>
<path fill="#ffff9f" class="c" d="M2488 5531l7-7-6-17-6 7z"/>
<path fill="#ffff8f" class="c" d="M2513 5528l7-6-5-19-7 7z"/>
<path fill="#ffff9f" class="c" d="M2507 5535l6-7-5-18-7 7z"/>
<path fill="#ffffaf" class="c" d="M2493 5547l14-12-6-18-13 14z"/>
<path fill="#ffff70" d="M2465 5578l28-31-21-65-27 41z"/>
<path fill="#ffff60" class="c" d="M2470 5508l7-10-5-16-7 10z"/>
<path fill="#ffff50" class="c" d="M2464 5517l6-9-5-16-7 10z"/>
<path fill="#ffff30" class="c" d="M2457 5527l7-10-6-15-6 11z"/>
<path fill="#ffff20" class="c" d="M2450 5537l7-10-5-14-7 10z"/>
<path fill="#ffff80" class="c" d="M2476 5523l7-9-6-16-7 10z"/>
<path fill="#ffff70" class="c" d="M2469 5532l7-9-6-15-6 9z"/>
<path fill="#ffff50" class="c" d="M2462 5541l7-9-5-15-7 10z"/>
<path fill="#ffff40" class="c" d="M2455 5550l7-9-5-14-7 10z"/>
<path fill="#ffff9f" class="c" d="M2481 5539l7-8-5-17-7 9z"/>
<path fill="#ffff8f" class="c" d="M2474 5548l7-9-5-16-7 9z"/>
<path fill="#ffff70" class="c" d="M2467 5556l7-8-5-16-7 9z"/>
<path fill="#ffff60" class="c" d="M2460 5564l7-8-5-15-7 9z"/>
<path fill="#ffffaf" class="c" d="M2486 5555l7-8-5-16-7 8z"/>
<path fill="#ffff9f" class="c" d="M2479 5563l7-8-5-16-7 9z"/>
<path fill="#ffff8f" class="c" d="M2472 5570l7-7-5-15-7 8z"/>
<path fill="#ffff80" class="c" d="M2465 5578l7-8-5-14-7 8z"/>
<path fill="#ffff20" d="M2438 5611l27-33-20-55-28 42z"/>
<path fill="#ffff10" class="c" d="M2443 5547l7-10-5-14-7 10z"/>
<path fill="#fff400" class="c" d="M2436 5557l7-10-5-14-7 11z"/>
<path fill="#ffea00" class="c" d="M2429 5567l7-10-5-13-7 11z"/>
<path fill="#ffdf00" class="c" d="M2423 5577l6-10-5-12-7 10z"/>
<path fill="#ffff30" class="c" d="M2448 5560l7-10-5-13-7 10z"/>
<path fill="#ffff10" class="c" d="M2441 5569l7-9-5-13-7 10z"/>
<path fill="#ff0" class="c" d="M2435 5579l6-10-5-12-7 10z"/>
<path fill="#fff400" class="c" d="M2428 5588l7-9-6-12-6 10z"/>
<path fill="#ffff50" class="c" d="M2453 5573l7-9-5-14-7 10z"/>
<path fill="#ffff30" class="c" d="M2447 5582l6-9-5-13-7 9z"/>
<path fill="#ffff20" class="c" d="M2440 5591l7-9-6-13-6 10z"/>
<path fill="#ff0" class="c" d="M2433 5600l7-9-5-12-7 9z"/>
<path fill="#ffff70" class="c" d="M2459 5586l6-8-5-14-7 9z"/>
<path fill="#ffff50" class="c" d="M2452 5595l7-9-6-13-6 9z"/>
<path fill="#ffff40" class="c" d="M2445 5603l7-8-5-13-7 9z"/>
<path fill="#ffff20" class="c" d="M2438 5611l7-8-5-12-7 9z"/>
<path fill="#ffdf00" d="M2411 5643l27-32-21-46-27 41z"/>
<path fill="#ffd400" class="c" d="M2416 5587l7-10-6-12-7 11z"/>
<path fill="#ffca00" class="c" d="M2402 5606l14-19-6-11-13 20z"/>
<path fill="#ffbf00" class="c" d="M2395 5616l7-10-5-10-7 10z"/>
<path fill="#ffea00" class="c" d="M2421 5597l7-9-5-11-7 10z"/>
<path fill="#ffdf00" class="c" d="M2414 5607l7-10-5-10-7 9z"/>
<path fill="#ffd400" class="c" d="M2407 5616l7-9-5-11-7 10z"/>
<path fill="#ffca00" class="c" d="M2400 5625l7-9-5-10-7 10z"/>
<path fill="#fff400" class="c" d="M2426 5608l7-8-5-12-7 9z"/>
<path fill="#ffea00" class="c" d="M2419 5617l7-9-5-11-7 10z"/>
<path fill="#ffdf00" class="c" d="M2412 5626l7-9-5-10-7 9z"/>
<path fill="#ffd400" class="c" d="M2405 5634l7-8-5-10-7 9z"/>
<path fill="#ffff10" class="c" d="M2431 5619l7-8-5-11-7 8z"/>
<path fill="#fff400" class="c" d="M2424 5627l7-8-5-11-7 9z"/>
<path fill="#ffea00" class="c" d="M2417 5635l7-8-5-10-7 9z"/>
<path fill="#ffdf00" class="c" d="M2411 5643l6-8-5-9-7 8z"/>
<path fill="#ffbf00" d="M2383 5673l28-30-21-37-28 37z"/>
<path fill="#ffbf00" class="c" d="M2388 5630l9-11-7-13-9 13z"/>
<path fill="#ffb500" class="c" d="M2379 5642l9-12-7-11-9 12z"/>
<path fill="#fa0" class="c" d="M2369 5653l10-11-7-11-10 12z"/>
<path fill="#ffca00" class="c" d="M2395 5642l9-11-7-12-9 11z"/>
<path fill="#ffbf00" class="c" d="M2385 5652l10-10-7-12-9 12z"/>
<path fill="#ffb500" class="c" d="M2376 5663l9-11-6-10-10 11z"/>
<path fill="#ffd400" class="c" d="M2401 5653l10-10-7-12-9 11z"/>
<path fill="#ffca00" class="c" d="M2392 5663l9-10-6-11-10 10z"/>
<path fill="#ffbf00" class="c" d="M2383 5673l9-10-7-11-9 11z"/>
<path fill="#fa0" d="M2356 5698l27-25-21-30-27 32z"/>
<path fill="#fa0" class="c" d="M2359 5672l14-14-11-15-13 16z"/>
<path fill="#ff9f00" class="c" d="M2345 5686l14-14-10-13-14 16z"/>
<path fill="#ffb500" class="c" d="M2370 5685l13-12-10-15-14 14z"/>
<path fill="#fa0" class="c" d="M2356 5698l14-13-11-13-14 14z"/>
<path fill="#ff9500" d="M2328 5717l28-19-21-23-27 26z"/>
<path fill="#ff9500" class="c" d="M2333 5691l9-8-7-8-9 9z"/>
<path fill="#ff8a00" class="c" d="M2324 5698l9-7-7-7-9 8z"/>
<path fill="#ff8000" class="c" d="M2315 5706l9-8-7-6-9 9z"/>
<path fill="#ff9f00" class="c" d="M2340 5697l9-7-7-7-9 8z"/>
<path fill="#ff9500" class="c" d="M2331 5705l9-8-7-6-9 7z"/>
<path fill="#ff8a00" class="c" d="M2321 5712l10-7-7-7-9 8z"/>
<path fill="#ff9f00" class="c" d="M2347 5704l9-6-7-8-9 7z"/>
<path fill="#ff9500" class="c" d="M2338 5711l9-7-7-7-9 8z"/>
<path fill="#ff8a00" class="c" d="M2328 5717l10-6-7-6-10 7z"/>
<path fill="#ff6a00" d="M2301 5730l27-13-20-16-28 19z"/>
<path fill="#ff7500" class="c" d="M2305 5712l10-6-7-5-9 6z"/>
<path fill="#ff6a00" class="c" d="M2296 5718l9-6-6-5-10 7z"/>
<path fill="#ff6000" class="c" d="M2287 5723l9-5-7-4-9 6z"/>
<path fill="#ff8000" class="c" d="M2312 5717l9-5-6-6-10 6z"/>
<path fill="#ff6a00" class="c" d="M2303 5722l9-5-7-5-9 6z"/>
<path fill="#ff6000" class="c" d="M2294 5727l9-5-7-4-9 5z"/>
<path fill="#ff8000" class="c" d="M2319 5721l9-4-7-5-9 5z"/>
<path fill="#ff7500" class="c" d="M2310 5726l9-5-7-4-9 5z"/>
<path fill="#ff6000" class="c" d="M2301 5730l9-4-7-4-9 5z"/>
<path fill="#ff4000" d="M2274 5736l27-6-21-10-27 13z"/>
<path fill="#ff4a00" class="c" d="M2278 5727l9-4-7-3-9 4z"/>
<path fill="#ff3500" class="c" d="M2269 5730l9-3-7-3-9 5z"/>
<path fill="#ff2a00" class="c" d="M2260 5734l9-4-7-1-9 4z"/>
<path fill="#ff4a00" class="c" d="M2285 5729l9-2-7-4-9 4z"/>
<path fill="#ff4000" class="c" d="M2276 5732l9-3-7-2-9 3z"/>
<path fill="#ff2a00" class="c" d="M2267 5735l9-3-7-2-9 4z"/>
<path fill="#ff4a00" class="c" d="M2292 5732l9-2-7-3-9 2z"/>
<path fill="#ff4000" class="c" d="M2283 5734l9-2-7-3-9 3z"/>
<path fill="#ff2a00" class="c" d="M2274 5736l9-2-7-2-9 3z"/>
<path fill="#ff0b00" d="M2246 5737l28-1-21-3-28 7z"/>
<path fill="#ff1500" class="c" d="M2251 5736l9-2-7-1-9 2z"/>
<path fill="#ff0b00" class="c" d="M2241 5737l10-1-7-1-9 3z"/>
<path fill="#f00" class="c" d="M2232 5739l9-2-6 1-10 2z"/>
<path fill="#ff2000" class="c" d="M2258 5736l9-1-7-1-9 2z"/>
<path fill="#ff0b00" class="c" d="M2248 5737l10-1-7 0-10 1z"/>
<path fill="#f00" class="c" d="M2239 5738l9-1-7 0-9 2z"/>
<path fill="#ff2000" class="c" d="M2264 5736l10 0-7-1-9 1z"/>
<path fill="#ff0b00" class="c" d="M2255 5736l9 0-6 0-10 1z"/>
<path fill="#f00" class="c" d="M2246 5737l9-1-7 1-9 1z"/>
<path fill="#f40000" d="M2219 5733l27 4-21 3-27 3z"/>
<path fill="#f40000" d="M2191 5726l28 7-21 10-27 0z"/>
<path fill="#f40000" d="M2164 5719l27 7-20 17-28-1z"/>
<path fill="#f40000" d="M2136 5714l28 5-21 23-27 1z"/>
<path fill="#f40000" d="M2109 5714l27 0-20 29-28 4z"/>
<path fill="#f40000" d="M2082 5721l27-7-21 33-27 10z"/>
<path fill="#f40000" d="M2054 5737l28-16-21 36-28 16z"/>
<path fill="#f40000" d="M2027 5761l27-24-21 36-27 22z"/>
<path fill="#f40000" d="M1999 5793l28-32-21 34-27 27z"/>
<path fill="#f40000" d="M1972 5829l27-36-20 29-28 31z"/>
<path fill="#f40000" d="M1945 5867l27-38-21 24-27 33z"/>
<path fill="#f40000" d="M1917 5906l28-39-21 19-28 35z"/>
<path fill="#f40000" d="M1890 5945l27-39-21 15-27 35z"/>
<path fill="#f40000" d="M1862 5982l28-37-21 11-27 34z"/>
<path fill="#f40000" d="M1835 6018l27-36-20 8-28 34z"/>
<path fill="#f40000" d="M1807 6052l28-34-21 6-27 33z"/>
<path fill="#f40000" d="M1780 6083l27-31-20 5-28 30z"/>
<path fill="#f40000" d="M1753 6113l27-30-21 4-27 30z"/>
<path fill="#f40000" d="M1725 6140l28-27-21 4-28 27z"/>
<path fill="#f40000" d="M1698 6165l27-25-21 4-27 25z"/>
<path fill="#f40000" d="M1670 6190l28-25-21 4-27 25z"/>
<path fill="#f40000" d="M1643 6214l27-24-20 4-28 24z"/>
<path fill="#f40000" d="M1616 6238l27-24-21 4-27 23z"/>
<path fill="#f40000" d="M1588 6262l28-24-21 3-28 23z"/>
<path fill="#f40000" d="M1561 6287l27-25-21 2-27 24z"/>
<path fill="#f40000" d="M1533 6311l28-24-21 1-27 23z"/>
<path fill="#f00" d="M1506 6335l27-24-20 0-28 23z"/>
<path fill="#f00" d="M1478 6359l28-24-21-1-27 23z"/>
<path fill="#ff0b00" d="M1451 6382l27-23-20-2-28 23z"/>
<path fill="#ff0b00" d="M1424 6406l27-24-21-2-27 23z"/>
<path fill="#ff1500" d="M1396 6429l28-23-21-3-28 22z"/>
<path fill="#ff1500" d="M1369 6452l27-23-21-4-27 23z"/>
<path fill="#ff2000" d="M1341 6475l28-23-21-4-27 22z"/>
<path class="m" d="M2959 5731l-21-19M2911 5701l27 11M2883 5688l28 13M2856 5674l27 14M2829 5658l27 16M2849 5682l-20-24M2801 5640l28 18M2774 5620l27 20M2746 5598l28 22M2719 5573l27 25M2691 5546l28 27M2712 5587l-21-41M2664 5517l27 29M2637 5487l27 30M2609 5458l28 29M2582 5434l27 24M2554 5422l28 12M2575 5501l-21-79M2527 5426l27-4M2500 5447l27-21M2472 5482l28-35M2445 5523l27-41M2417 5565l28-42M2438 5611l-21-46M2390 5606l27-41M2362 5643l28-37M2335 5675l27-32M2308 5701l27-26M2280 5720l28-19M2301 5730l-21-10M2253 5733l27-13M2225 5740l28-7M2198 5743l27-3M2171 5743l27 0M2143 5742l28 1M2164 5719l-21 23M2116 5743l27-1M2088 5747l28-4M2061 5757l27-10M2033 5773l28-16M2006 5795l27-22M2027 5761l-21 34M1979 5822l27-27M1951 5853l28-31M1924 5886l27-33M1896 5921l28-35M1869 5956l27-35M1890 5945l-21 11M1842 5990l27-34M1814 6024l28-34M1787 6057l27-33M1759 6087l28-30M1732 6117l27-30M1753 6113l-21 4M1704 6144l28-27M1677 6169l27-25M1650 6194l27-25M1622 6218l28-24M1595 6241l27-23M1616 6238l-21 3M1567 6264l28-23M1540 6288l27-24M1513 6311l27-23M1485 6334l28-23M1458 6357l27-23M1478 6359l-20-2M1430 6380l28-23M1403 6403l27-23M1375 6425l28-22M1348 6448l27-23M1321 6470l27-22M1341 6475l-20-5"/>
<path fill="#fa0" d="M2952 5742l28 10-21-21-27-10z"/>
<path fill="#fa0" d="M2925 5732l27 10-20-21-28-12z"/>
<path fill="#fa0" d="M2897 5720l28 12-21-23-27-13z"/>
<path fill="#ffb500" d="M2870 5707l27 13-20-24-28-14z"/>
<path fill="#ffb500" d="M2843 5693l27 14-21-25-27-16z"/>
<path fill="#ffbf00" d="M2815 5678l28 15-21-27-28-18z"/>
<path fill="#ffca00" d="M2788 5662l27 16-21-30-27-19z"/>
<path fill="#ffca00" d="M2760 5645l28 17-21-33-27-20z"/>
<path fill="#ffd400" d="M2733 5627l27 18-20-36-28-22z"/>
<path fill="#ffdf00" d="M2706 5610l27 17-21-40-27-23z"/>
<path fill="#ffea00" d="M2678 5594l28 16-21-46-28-22z"/>
<path fill="#fff400" d="M2651 5580l27 14-21-52-27-20z"/>
<path fill="#fff400" d="M2623 5571l28 9-21-58-27-15z"/>
<path fill="#ff0" d="M2596 5569l27 2-20-64-28-6z"/>
<path fill="#ffff20" d="M2568 5574l28-5-21-68-27 5z"/>
<path fill="#ffff10" class="c" d="M2572 5538l14-3-11-34-14 3z"/>
<path fill="#ffff30" class="c" d="M2558 5540l14-2-11-34-13 2z"/>
<path fill="#ffff10" class="c" d="M2582 5572l14-3-10-34-14 3z"/>
<path fill="#ffff30" class="c" d="M2568 5574l14-2-10-34-14 2z"/>
<path fill="#ffff60" d="M2541 5587l27-13-20-68-28 16z"/>
<path fill="#ffff40" class="c" d="M2546 5527l7-4-5-17-7 4z"/>
<path fill="#ffff50" class="c" d="M2539 5531l7-4-5-17-7 4z"/>
<path fill="#ffff70" class="c" d="M2532 5534l7-3-5-17-7 4z"/>
<path fill="#ffff80" class="c" d="M2525 5538l7-4-5-16-7 4z"/>
<path fill="#ffff40" class="c" d="M2551 5544l7-4-5-17-7 4z"/>
<path fill="#ffff60" class="c" d="M2544 5547l7-3-5-17-7 4z"/>
<path fill="#ffff70" class="c" d="M2538 5551l6-4-5-16-7 3z"/>
<path fill="#ffff8f" class="c" d="M2531 5554l7-3-6-17-7 4z"/>
<path fill="#ffff40" class="c" d="M2556 5560l7-3-5-17-7 4z"/>
<path fill="#ffff60" class="c" d="M2550 5564l6-4-5-16-7 3z"/>
<path fill="#ffff70" class="c" d="M2543 5567l7-3-6-17-6 4z"/>
<path fill="#ffff8f" class="c" d="M2536 5571l7-4-5-16-7 3z"/>
<path fill="#ffff40" class="c" d="M2562 5577l6-3-5-17-7 3z"/>
<path fill="#ffff60" class="c" d="M2555 5580l7-3-6-17-6 4z"/>
<path fill="#ffff70" class="c" d="M2548 5584l7-4-5-16-7 3z"/>
<path fill="#ffff8f" class="c" d="M2541 5587l7-3-5-17-7 4z"/>
<path fill="#ffffbf" d="M2514 5606l27-19-21-65-27 25z"/>
<path fill="#ffff9f" class="c" d="M2518 5551l9-7-7-22-9 9z"/>
<path fill="#ffffaf" class="c" d="M2509 5559l9-8-7-20-9 8z"/>
<path fill="#ffffbf" class="c" d="M2500 5567l9-8-7-20-9 8z"/>
<path fill="#ffff9f" class="c" d="M2525 5572l9-7-7-21-9 7z"/>
<path fill="#ffffbf" class="c" d="M2516 5579l9-7-7-21-9 8z"/>
<path fill="#ffffcf" class="c" d="M2507 5587l9-8-7-20-9 8z"/>
<path fill="#ffff9f" class="c" d="M2532 5593l9-6-7-22-9 7z"/>
<path fill="#ffffbf" class="c" d="M2523 5600l9-7-7-21-9 7z"/>
<path fill="#ffffdf" class="c" d="M2514 5606l9-6-7-21-9 8z"/>
<path fill="#ffffcf" d="M2486 5630l28-24-21-59-28 31z"/>
<path fill="#ffffcf" class="c" d="M2491 5576l9-9-7-20-9 11z"/>
<path fill="#ffffaf" class="c" d="M2482 5586l9-10-7-18-9 10z"/>
<path fill="#ffff9f" class="c" d="M2472 5595l10-9-7-18-10 10z"/>
<path fill="#ffffcf" class="c" d="M2488 5604l19-17-7-20-18 19z"/>
<path fill="#ffffbf" class="c" d="M2479 5613l9-9-6-18-10 9z"/>
<path fill="#ffffdf" class="c" d="M2495 5622l19-16-7-19-19 17z"/>
<path fill="#ffffcf" class="c" d="M2486 5630l9-8-7-18-9 9z"/>
<path fill="#ffff80" d="M2459 5655l27-25-21-52-27 33z"/>
<path fill="#ffff8f" class="c" d="M2464 5599l7-8-6-13-6 8z"/>
<path fill="#ffff70" class="c" d="M2457 5607l7-8-5-13-7 9z"/>
<path fill="#ffff50" class="c" d="M2450 5614l7-7-5-12-7 8z"/>
<path fill="#ffff30" class="c" d="M2443 5622l7-8-5-11-7 8z"/>
<path fill="#ffff9f" class="c" d="M2469 5611l7-7-5-13-7 8z"/>
<path fill="#ffff80" class="c" d="M2462 5619l7-8-5-12-7 8z"/>
<path fill="#ffff60" class="c" d="M2455 5626l7-7-5-12-7 7z"/>
<path fill="#ffff50" class="c" d="M2448 5633l7-7-5-12-7 8z"/>
<path fill="#ffffaf" class="c" d="M2474 5624l7-7-5-13-7 7z"/>
<path fill="#ffff8f" class="c" d="M2467 5630l7-6-5-13-7 8z"/>
<path fill="#ffff80" class="c" d="M2460 5637l7-7-5-11-7 7z"/>
<path fill="#ffff60" class="c" d="M2454 5644l6-7-5-11-7 7z"/>
<path fill="#ffffbf" class="c" d="M2479 5636l7-6-5-13-7 7z"/>
<path fill="#ffffaf" class="c" d="M2472 5642l7-6-5-12-7 6z"/>
<path fill="#ffff8f" class="c" d="M2466 5649l6-7-5-12-7 7z"/>
<path fill="#ffff70" class="c" d="M2459 5655l7-6-6-12-6 7z"/>
<path fill="#ffff10" d="M2431 5680l28-25-21-44-27 32z"/>
<path fill="#ffff20" class="c" d="M2436 5630l7-8-5-11-7 8z"/>
<path fill="#ffff10" class="c" d="M2430 5637l6-7-5-11-7 8z"/>
<path fill="#fff400" class="c" d="M2423 5645l7-8-6-10-7 8z"/>
<path fill="#ffea00" class="c" d="M2416 5653l7-8-6-10-6 8z"/>
<path fill="#ffff30" class="c" d="M2442 5640l6-7-5-11-7 8z"/>
<path fill="#ffff20" class="c" d="M2435 5647l7-7-6-10-6 7z"/>
<path fill="#ff0" class="c" d="M2428 5655l7-8-5-10-7 8z"/>
<path fill="#fff400" class="c" d="M2421 5662l7-7-5-10-7 8z"/>
<path fill="#ffff40" class="c" d="M2447 5651l7-7-6-11-6 7z"/>
<path fill="#ffff30" class="c" d="M2440 5658l7-7-5-11-7 7z"/>
<path fill="#ffff10" class="c" d="M2433 5664l7-6-5-11-7 8z"/>
<path fill="#ff0" class="c" d="M2426 5671l7-7-5-9-7 7z"/>
<path fill="#ffff60" class="c" d="M2452 5661l7-6-5-11-7 7z"/>
<path fill="#ffff40" class="c" d="M2445 5668l7-7-5-10-7 7z"/>
<path fill="#ffff20" class="c" d="M2438 5674l7-6-5-10-7 6z"/>
<path fill="#ff0" class="c" d="M2431 5680l7-6-5-10-7 7z"/>
<path fill="#ffdf00" d="M2404 5703l27-23-20-37-28 30z"/>
<path fill="#ffdf00" class="c" d="M2408 5665l10-9-7-13-10 10z"/>
<path fill="#ffd400" class="c" d="M2399 5674l9-9-7-12-9 10z"/>
<path fill="#ffca00" class="c" d="M2390 5683l9-9-7-11-9 10z"/>
<path fill="#ffea00" class="c" d="M2415 5676l9-8-6-12-10 9z"/>
<path fill="#ffdf00" class="c" d="M2406 5684l9-8-7-11-9 9z"/>
<path fill="#ffca00" class="c" d="M2397 5693l9-9-7-10-9 9z"/>
<path fill="#fff400" class="c" d="M2422 5688l9-8-7-12-9 8z"/>
<path fill="#ffdf00" class="c" d="M2413 5695l9-7-7-12-9 8z"/>
<path fill="#ffd400" class="c" d="M2404 5703l9-8-7-11-9 9z"/>
<path fill="#ffbf00" d="M2377 5721l27-18-21-30-27 25z"/>
<path fill="#ffbf00" class="c" d="M2380 5699l14-11-11-15-13 12z"/>
<path fill="#ffb500" class="c" d="M2366 5709l14-10-10-14-14 13z"/>
<path fill="#ffca00" class="c" d="M2390 5712l14-9-10-15-14 11z"/>
<path fill="#ffbf00" class="c" d="M2377 5721l13-9-10-13-14 10z"/>
<path fill="#ff9f00" d="M2349 5733l28-12-21-23-28 19z"/>
<path fill="#fa0" class="c" d="M2354 5711l9-5-7-8-9 6z"/>
<path fill="#ff9f00" class="c" d="M2344 5717l10-6-7-7-9 7z"/>
<path fill="#ff9500" class="c" d="M2335 5723l9-6-6-6-10 6z"/>
<path fill="#fa0" class="c" d="M2360 5718l10-5-7-7-9 5z"/>
<path fill="#ff9f00" class="c" d="M2351 5723l9-5-6-7-10 6z"/>
<path fill="#ff9500" class="c" d="M2342 5728l9-5-7-6-9 6z"/>
<path fill="#ffb500" class="c" d="M2367 5725l10-4-7-8-10 5z"/>
<path fill="#ff9f00" class="c" d="M2358 5729l9-4-7-7-9 5z"/>
<path fill="#ff9500" class="c" d="M2349 5733l9-4-7-6-9 5z"/>
<path fill="#ff7500" d="M2322 5739l27-6-21-16-27 13z"/>
<path fill="#ff8000" class="c" d="M2326 5726l9-3-7-6-9 4z"/>
<path fill="#ff7500" class="c" d="M2317 5730l9-4-7-5-9 5z"/>
<path fill="#ff6000" class="c" d="M2308 5733l9-3-7-4-9 4z"/>
<path fill="#ff8a00" class="c" d="M2333 5731l9-3-7-5-9 3z"/>
<path fill="#ff7500" class="c" d="M2324 5733l9-2-7-5-9 4z"/>
<path fill="#ff6000" class="c" d="M2315 5736l9-3-7-3-9 3z"/>
<path fill="#ff8a00" class="c" d="M2340 5735l9-2-7-5-9 3z"/>
<path fill="#ff7500" class="c" d="M2331 5737l9-2-7-4-9 2z"/>
<path fill="#ff6a00" class="c" d="M2322 5739l9-2-7-4-9 3z"/>
<path fill="#ff4000" d="M2294 5739l28 0-21-9-27 6z"/>
<path fill="#f50" class="c" d="M2299 5734l9-1-7-3-9 2z"/>
<path fill="#ff4000" class="c" d="M2290 5736l9-2-7-2-9 2z"/>
<path fill="#ff2a00" class="c" d="M2280 5737l10-1-7-2-9 2z"/>
<path fill="#f50" class="c" d="M2306 5737l9-1-7-3-9 1z"/>
<path fill="#ff4000" class="c" d="M2297 5737l9 0-7-3-9 2z"/>
<path fill="#ff2a00" class="c" d="M2287 5738l10-1-7-1-10 1z"/>
<path fill="#f50" class="c" d="M2313 5739l9 0-7-3-9 1z"/>
<path fill="#ff4000" class="c" d="M2303 5739l10 0-7-2-9 0z"/>
<path fill="#ff2a00" class="c" d="M2294 5739l9 0-6-2-10 1z"/>
<path fill="#ff0b00" d="M2267 5733l27 6-20-3-28 1z"/>
<path fill="#ff2000" class="c" d="M2271 5736l9 1-6-1-10 0z"/>
<path fill="#ff0b00" class="c" d="M2262 5736l9 0-7 0-9 0z"/>
<path fill="#f00" class="c" d="M2253 5735l9 1-7 0-9 1z"/>
<path fill="#ff2000" class="c" d="M2278 5737l9 1-7-1-9-1z"/>
<path fill="#ff0b00" class="c" d="M2269 5735l9 2-7-1-9 0z"/>
<path fill="#f00" class="c" d="M2260 5734l9 1-7 1-9-1z"/>
<path fill="#ff2000" class="c" d="M2285 5737l9 2-7-1-9-1z"/>
<path fill="#ff0b00" class="c" d="M2276 5735l9 2-7 0-9-2z"/>
<path fill="#f00" class="c" d="M2267 5733l9 2-7 0-9-1z"/>
<path fill="#f40000" d="M2239 5721l28 12-21 4-27-4z"/>
<path fill="#f40000" d="M2212 5707l27 14-20 12-28-7z"/>
<path fill="#f40000" d="M2185 5692l27 15-21 19-27-7z"/>
<path fill="#f40000" d="M2157 5679l28 13-21 27-28-5z"/>
<path fill="#f40000" d="M2130 5672l27 7-21 35-27 0z"/>
<path fill="#f40000" d="M2102 5675l28-3-21 42-27 7z"/>
<path fill="#f40000" d="M2075 5692l27-17-20 46-28 16z"/>
<path fill="#f40000" d="M2048 5721l27-29-21 45-27 24z"/>
<path fill="#f40000" d="M2020 5758l28-37-21 40-28 32z"/>
<path fill="#f40000" d="M1993 5801l27-43-21 35-27 36z"/>
<path fill="#f40000" d="M1965 5846l28-45-21 28-27 38z"/>
<path fill="#f40000" d="M1938 5891l27-45-20 21-28 39z"/>
<path fill="#f40000" d="M1910 5934l28-43-21 15-27 39z"/>
<path fill="#f40000" d="M1883 5974l27-40-20 11-28 37z"/>
<path fill="#f40000" d="M1856 6012l27-38-21 8-27 36z"/>
<path fill="#f40000" d="M1828 6047l28-35-21 6-28 34z"/>
<path fill="#f40000" d="M1801 6078l27-31-21 5-27 31z"/>
<path fill="#f40000" d="M1773 6107l28-29-21 5-27 30z"/>
<path fill="#f40000" d="M1746 6133l27-26-20 6-28 27z"/>
<path fill="#f40000" d="M1719 6159l27-26-21 7-27 25z"/>
<path fill="#f40000" d="M1691 6184l28-25-21 6-28 25z"/>
<path fill="#f40000" d="M1664 6209l27-25-21 6-27 24z"/>
<path fill="#f40000" d="M1636 6235l28-26-21 5-27 24z"/>
<path fill="#f40000" d="M1609 6260l27-25-20 3-28 24z"/>
<path fill="#f40000" d="M1581 6285l28-25-21 2-27 25z"/>
<path fill="#f40000" d="M1554 6310l27-25-20 2-28 24z"/>
<path fill="#f40000" d="M1527 6335l27-25-21 1-27 24z"/>
<path fill="#f00" d="M1499 6360l28-25-21 0-28 24z"/>
<path fill="#ff0b00" d="M1472 6385l27-25-21-1-27 23z"/>
<path fill="#ff0b00" d="M1444 6409l28-24-21-3-27 24z"/>
<path fill="#ff1500" d="M1417 6433l27-24-20-3-28 23z"/>
<path fill="#ff1500" d="M1390 6456l27-23-21-4-27 23z"/>
<path fill="#ff2000" d="M1362 6480l28-24-21-4-28 23z"/>
<path class="m" d="M2980 5752l-21-21M2870 5707l-21-25M2733 5627l-21-40M2596 5569l-21-68M2459 5655l-21-44M2322 5739l-21-9M2185 5692l-21 27M2048 5721l-21 40M1910 5934l-20 11M1773 6107l-20 6M1636 6235l-20 3M1499 6360l-21-1M1362 6480l-21-5"/>
<path fill="#fa0" d="M2973 5765l27 8-20-21-28-10z"/>
<path fill="#ffb500" d="M2946 5755l27 10-21-23-27-10z"/>
<path fill="#ffb500" d="M2918 5745l28 10-21-23-28-12z"/>
<path fill="#ffbf00" d="M2891 5734l27 11-21-25-27-13z"/>
<path fill="#ffbf00" d="M2863 5722l28 12-21-27-27-14z"/>
<path fill="#ffca00" d="M2836 5709l27 13-20-29-28-15z"/>
<path fill="#ffca00" d="M2809 5695l27 14-21-31-27-16z"/>
<path fill="#ffd400" d="M2781 5682l28 13-21-33-28-17z"/>
<path fill="#ffdf00" d="M2754 5668l27 14-21-37-27-18z"/>
<path fill="#ffea00" d="M2726 5655l28 13-21-41-27-17z"/>
<path fill="#ffea00" d="M2699 5643l27 12-20-45-28-16z"/>
<path fill="#fff400" d="M2671 5634l28 9-21-49-27-14z"/>
<path fill="#ff0" d="M2644 5629l27 5-20-54-28-9z"/>
<path fill="#ff0" d="M2617 5628l27 1-21-58-27-2z"/>
<path fill="#ffff20" d="M2589 5633l28-5-21-59-28 5z"/>
<path fill="#ffff20" class="c" d="M2593 5601l13-2-10-30-14 3z"/>
<path fill="#ffff30" class="c" d="M2579 5604l14-3-11-29-14 2z"/>
<path fill="#ffff20" class="c" d="M2603 5631l14-3-11-29-13 2z"/>
<path fill="#ffff30" class="c" d="M2589 5633l14-2-10-30-14 3z"/>
<path fill="#ffff60" d="M2562 5644l27-11-21-59-27 13z"/>
<path fill="#ffff50" class="c" d="M2567 5592l7-3-6-15-6 3z"/>
<path fill="#ffff60" class="c" d="M2560 5595l7-3-5-15-7 3z"/>
<path fill="#ffff70" class="c" d="M2553 5598l7-3-5-15-7 4z"/>
<path fill="#ffff8f" class="c" d="M2546 5601l7-3-5-14-7 3z"/>
<path fill="#ffff40" class="c" d="M2572 5607l7-3-5-15-7 3z"/>
<path fill="#ffff60" class="c" d="M2565 5610l7-3-5-15-7 3z"/>
<path fill="#ffff70" class="c" d="M2558 5613l7-3-5-15-7 3z"/>
<path fill="#ffff80" class="c" d="M2551 5615l7-2-5-15-7 3z"/>
<path fill="#ffff40" class="c" d="M2577 5621l7-2-5-15-7 3z"/>
<path fill="#ffff60" class="c" d="M2570 5624l7-3-5-14-7 3z"/>
<path fill="#ffff70" class="c" d="M2563 5627l7-3-5-14-7 3z"/>
<path fill="#ffff80" class="c" d="M2557 5630l6-3-5-14-7 2z"/>
<path fill="#ffff40" class="c" d="M2582 5636l7-3-5-14-7 2z"/>
<path fill="#ffff50" class="c" d="M2575 5639l7-3-5-15-7 3z"/>
<path fill="#ffff70" class="c" d="M2569 5641l6-2-5-15-7 3z"/>
<path fill="#ffff80" class="c" d="M2562 5644l7-3-6-14-6 3z"/>
<path fill="#ffffaf" d="M2534 5659l28-15-21-57-27 19z"/>
<path fill="#ffff9f" class="c" d="M2539 5606l7-5-5-14-7 5z"/>
<path fill="#ffffaf" class="c" d="M2533 5610l6-4-5-14-7 5z"/>
<path fill="#ffffcf" class="c" d="M2526 5615l7-5-6-13-7 4z"/>
<path fill="#ffffdf" class="c" d="M2519 5619l7-4-6-14-6 5z"/>
<path fill="#ffff9f" class="c" d="M2545 5620l6-5-5-14-7 5z"/>
<path fill="#ffffaf" class="c" d="M2538 5624l7-4-6-14-6 4z"/>
<path fill="#ffffbf" class="c" d="M2531 5628l7-4-5-14-7 5z"/>
<path fill="#ffffcf" class="c" d="M2524 5633l7-5-5-13-7 4z"/>
<path fill="#ffff8f" class="c" d="M2550 5634l7-4-6-15-6 5z"/>
<path fill="#ffff9f" class="c" d="M2543 5638l7-4-5-14-7 4z"/>
<path fill="#ffffaf" class="c" d="M2536 5642l7-4-5-14-7 4z"/>
<path fill="#ffffbf" class="c" d="M2529 5646l7-4-5-14-7 5z"/>
<path fill="#ffff8f" class="c" d="M2555 5648l7-4-5-14-7 4z"/>
<path fill="#ffff9f" class="c" d="M2548 5652l7-4-5-14-7 4z"/>
<path fill="#ffffaf" class="c" d="M2541 5655l7-3-5-14-7 4z"/>
<path fill="#ffffbf" class="c" d="M2534 5659l7-4-5-13-7 4z"/>
<path fill="#ffffcf" d="M2507 5677l27-18-20-53-28 24z"/>
<path fill="#ffffdf" class="c" d="M2510 5643l14-10-10-27-14 12z"/>
<path fill="#ffffcf" class="c" d="M2497 5653l13-10-10-25-14 12z"/>
<path fill="#ffffbf" class="c" d="M2507 5677l27-18-10-26-27 20z"/>
<path fill="#ffff9f" d="M2480 5697l27-20-21-47-27 25z"/>
<path fill="#ffffcf" class="c" d="M2485 5648l6-6-5-12-7 6z"/>
<path fill="#ffffaf" class="c" d="M2478 5654l7-6-6-12-7 6z"/>
<path fill="#ffff8f" class="c" d="M2471 5660l7-6-6-12-6 7z"/>
<path fill="#ffff80" class="c" d="M2464 5666l7-6-5-11-7 6z"/>
<path fill="#ffffbf" class="c" d="M2490 5659l7-6-6-11-6 6z"/>
<path fill="#ffffaf" class="c" d="M2483 5665l7-6-5-11-7 6z"/>
<path fill="#ffff8f" class="c" d="M2476 5670l7-5-5-11-7 6z"/>
<path fill="#ffff80" class="c" d="M2469 5676l7-6-5-10-7 6z"/>
<path fill="#ffffbf" class="c" d="M2495 5671l7-6-5-12-7 6z"/>
<path fill="#ffff9f" class="c" d="M2488 5676l7-5-5-12-7 6z"/>
<path fill="#ffff8f" class="c" d="M2481 5681l7-5-5-11-7 5z"/>
<path fill="#ffff70" class="c" d="M2474 5686l7-5-5-11-7 6z"/>
<path fill="#ffffaf" class="c" d="M2500 5682l7-5-5-12-7 6z"/>
<path fill="#ffff9f" class="c" d="M2493 5687l7-5-5-11-7 5z"/>
<path fill="#ffff80" class="c" d="M2486 5692l7-5-5-11-7 5z"/>
<path fill="#ffff70" class="c" d="M2480 5697l6-5-5-11-7 5z"/>
<path fill="#ffff30" d="M2452 5715l28-18-21-42-28 25z"/>
<path fill="#ffff60" class="c" d="M2457 5671l7-5-5-11-7 6z"/>
<path fill="#ffff40" class="c" d="M2450 5677l7-6-5-10-7 7z"/>
<path fill="#ffff30" class="c" d="M2443 5683l7-6-5-9-7 6z"/>
<path fill="#ffff10" class="c" d="M2437 5689l6-6-5-9-7 6z"/>
<path fill="#ffff60" class="c" d="M2462 5681l7-5-5-10-7 5z"/>
<path fill="#ffff40" class="c" d="M2455 5687l7-6-5-10-7 6z"/>
<path fill="#ffff20" class="c" d="M2449 5692l6-5-5-10-7 6z"/>
<path fill="#ffff10" class="c" d="M2442 5698l7-6-6-9-6 6z"/>
<path fill="#ffff60" class="c" d="M2467 5691l7-5-5-10-7 5z"/>
<path fill="#ffff40" class="c" d="M2461 5697l6-6-5-10-7 6z"/>
<path fill="#ffff20" class="c" d="M2454 5702l7-5-6-10-6 5z"/>
<path fill="#ffff10" class="c" d="M2447 5707l7-5-5-10-7 6z"/>
<path fill="#ffff60" class="c" d="M2473 5701l7-4-6-11-7 5z"/>
<path fill="#ffff40" class="c" d="M2466 5706l7-5-6-10-6 6z"/>
<path fill="#ffff20" class="c" d="M2459 5711l7-5-5-9-7 5z"/>
<path fill="#ffff10" class="c" d="M2452 5715l7-4-5-9-7 5z"/>
<path fill="#ffea00" d="M2425 5732l27-17-21-35-27 23z"/>
<path fill="#fff400" class="c" d="M2429 5699l9-7-7-12-9 8z"/>
<path fill="#ffea00" class="c" d="M2420 5706l9-7-7-11-9 7z"/>
<path fill="#ffdf00" class="c" d="M2411 5712l9-6-7-11-9 8z"/>
<path fill="#fff400" class="c" d="M2436 5710l9-6-7-12-9 7z"/>
<path fill="#ffea00" class="c" d="M2427 5716l9-6-7-11-9 7z"/>
<path fill="#ffdf00" class="c" d="M2418 5722l9-6-7-10-9 6z"/>
<path fill="#fff400" class="c" d="M2443 5721l9-6-7-11-9 6z"/>
<path fill="#ffea00" class="c" d="M2434 5726l9-5-7-11-9 6z"/>
<path fill="#ffdf00" class="c" d="M2425 5732l9-6-7-10-9 6z"/>
<path fill="#ffca00" d="M2397 5743l28-11-21-29-27 18z"/>
<path fill="#ffca00" class="c" d="M2401 5725l13-8-10-14-14 9z"/>
<path fill="#ffbf00" class="c" d="M2387 5732l14-7-11-13-13 9z"/>
<path fill="#ffd400" class="c" d="M2411 5738l14-6-11-15-13 8z"/>
<path fill="#ffbf00" class="c" d="M2397 5743l14-5-10-13-14 7z"/>
<path fill="#fa0" d="M2370 5750l27-7-20-22-28 12z"/>
<path fill="#ffb500" class="c" d="M2374 5732l9-4-6-7-10 4z"/>
<path fill="#fa0" class="c" d="M2365 5735l9-3-7-7-9 4z"/>
<path fill="#ff9f00" class="c" d="M2356 5739l9-4-7-6-9 4z"/>
<path fill="#ffb500" class="c" d="M2381 5739l9-3-7-8-9 4z"/>
<path fill="#fa0" class="c" d="M2372 5741l9-2-7-7-9 3z"/>
<path fill="#ff9f00" class="c" d="M2363 5744l9-3-7-6-9 4z"/>
<path fill="#ffb500" class="c" d="M2388 5746l9-3-7-7-9 3z"/>
<path fill="#fa0" class="c" d="M2379 5748l9-2-7-7-9 2z"/>
<path fill="#ff9f00" class="c" d="M2370 5750l9-2-7-7-9 3z"/>
<path fill="#ff7500" d="M2342 5749l28 1-21-17-27 6z"/>
<path fill="#ff8a00" class="c" d="M2347 5740l9-1-7-6-9 2z"/>
<path fill="#ff7500" class="c" d="M2338 5741l9-1-7-5-9 2z"/>
<path fill="#ff6a00" class="c" d="M2329 5743l9-2-7-4-9 2z"/>
<path fill="#ff8a00" class="c" d="M2354 5745l9-1-7-5-9 1z"/>
<path fill="#ff7500" class="c" d="M2345 5745l9 0-7-5-9 1z"/>
<path fill="#ff6a00" class="c" d="M2336 5746l9-1-7-4-9 2z"/>
<path fill="#ff8a00" class="c" d="M2361 5750l9 0-7-6-9 1z"/>
<path fill="#ff8000" class="c" d="M2352 5749l9 1-7-5-9 0z"/>
<path fill="#ff6a00" class="c" d="M2342 5749l10 0-7-4-9 1z"/>
<path fill="#ff4a00" d="M2315 5742l27 7-20-10-28 0z"/>
<path fill="#f50" class="c" d="M2319 5742l10 1-7-4-9 0z"/>
<path fill="#ff4000" class="c" d="M2310 5741l9 1-6-3-10 0z"/>
<path fill="#ff3500" class="c" d="M2301 5740l9 1-7-2-9 0z"/>
<path fill="#f50" class="c" d="M2326 5744l10 2-7-3-10-1z"/>
<path fill="#ff4a00" class="c" d="M2317 5743l9 1-7-2-9-1z"/>
<path fill="#ff3500" class="c" d="M2308 5741l9 2-7-2-9-1z"/>
<path fill="#f50" class="c" d="M2333 5747l9 2-6-3-10-2z"/>
<path fill="#ff4a00" class="c" d="M2324 5745l9 2-7-3-9-1z"/>
<path fill="#ff3500" class="c" d="M2315 5742l9 3-7-2-9-2z"/>
<path fill="#ff1500" d="M2288 5729l27 13-21-3-27-6z"/>
<path fill="#ff2000" class="c" d="M2292 5737l9 3-7-1-9-2z"/>
<path fill="#ff1500" class="c" d="M2283 5734l9 3-7 0-9-2z"/>
<path fill="#f00" class="c" d="M2274 5731l9 3-7 1-9-2z"/>
<path fill="#ff2000" class="c" d="M2299 5738l9 3-7-1-9-3z"/>
<path fill="#ff1500" class="c" d="M2290 5734l9 4-7-1-9-3z"/>
<path fill="#f00" class="c" d="M2281 5730l9 4-7 0-9-3z"/>
<path fill="#ff2a00" class="c" d="M2306 5738l9 4-7-1-9-3z"/>
<path fill="#ff1500" class="c" d="M2297 5733l9 5-7 0-9-4z"/>
<path fill="#ff0b00" class="c" d="M2288 5729l9 4-7 1-9-4z"/>
<path fill="#f40000" d="M2260 5710l28 19-21 4-28-12z"/>
<path fill="#f40000" d="M2233 5687l27 23-21 11-27-14z"/>
<path fill="#f40000" d="M2205 5661l28 26-21 20-27-15z"/>
<path fill="#f40000" d="M2178 5636l27 25-20 31-28-13z"/>
<path fill="#f40000" d="M2151 5618l27 18-21 43-27-7z"/>
<path fill="#f40000" d="M2123 5615l28 3-21 54-28 3z"/>
<path fill="#f40000" d="M2096 5633l27-18-21 60-27 17z"/>
<path fill="#f40000" d="M2068 5670l28-37-21 59-27 29z"/>
<path fill="#f40000" d="M2041 5719l27-49-20 51-28 37z"/>
<path fill="#f40000" d="M2013 5772l28-53-21 39-27 43z"/>
<path fill="#f40000" d="M1986 5825l27-53-20 29-28 45z"/>
<path fill="#f40000" d="M1959 5876l27-51-21 21-27 45z"/>
<path fill="#f40000" d="M1931 5923l28-47-21 15-28 43z"/>
<path fill="#f40000" d="M1904 5967l27-44-21 11-27 40z"/>
<path fill="#f40000" d="M1876 6006l28-39-21 7-27 38z"/>
<path fill="#f40000" d="M1849 6040l27-34-20 6-28 35z"/>
<path fill="#f40000" d="M1822 6071l27-31-21 7-27 31z"/>
<path fill="#f40000" d="M1794 6099l28-28-21 7-28 29z"/>
<path fill="#f40000" d="M1767 6125l27-26-21 8-27 26z"/>
<path fill="#f40000" d="M1739 6151l28-26-21 8-27 26z"/>
<path fill="#f40000" d="M1712 6178l27-27-20 8-28 25z"/>
<path fill="#f40000" d="M1684 6204l28-26-21 6-27 25z"/>
<path fill="#f40000" d="M1657 6231l27-27-20 5-28 26z"/>
<path fill="#f40000" d="M1630 6257l27-26-21 4-27 25z"/>
<path fill="#f40000" d="M1602 6284l28-27-21 3-28 25z"/>
<path fill="#f40000" d="M1575 6310l27-26-21 1-27 25z"/>
<path fill="#f40000" d="M1547 6336l28-26-21 0-27 25z"/>
<path fill="#f00" d="M1520 6362l27-26-20-1-28 25z"/>
<path fill="#ff0b00" d="M1493 6387l27-25-21-2-27 25z"/>
<path fill="#ff0b00" d="M1465 6412l28-25-21-2-28 24z"/>
<path fill="#ff1500" d="M1438 6437l27-25-21-3-27 24z"/>
<path fill="#ff1500" d="M1410 6461l28-24-21-4-27 23z"/>
<path fill="#ff2000" d="M1383 6485l27-24-20-5-28 24z"/>
<path class="m" d="M3000 5773l-20-21M2891 5734l-21-27M2754 5668l-21-41M2617 5628l-21-59M2480 5697l-21-42M2342 5749l-20-10M2205 5661l-20 31M2068 5670l-20 51M1931 5923l-21 11M1794 6099l-21 8M1657 6231l-21 4M1520 6362l-21-2M1383 6485l-21-5"/>
<path fill="#ffb500" d="M2994 5788l27 7-21-22-27-8z"/>
<path fill="#ffb500" d="M2966 5779l28 9-21-23-27-10z"/>
<path fill="#ffbf00" d="M2939 5770l27 9-20-24-28-10z"/>
<path fill="#ffbf00" d="M2911 5761l28 9-21-25-27-11z"/>
<path fill="#ffca00" d="M2884 5751l27 10-20-27-28-12z"/>
<path fill="#ffca00" d="M2857 5740l27 11-21-29-27-13z"/>
<path fill="#ffd400" d="M2829 5729l28 11-21-31-27-14z"/>
<path fill="#ffdf00" d="M2802 5718l27 11-20-34-28-13z"/>
<path fill="#ffdf00" d="M2774 5707l28 11-21-36-27-14z"/>
<path fill="#ffea00" d="M2747 5697l27 10-20-39-28-13z"/>
<path fill="#fff400" d="M2720 5689l27 8-21-42-27-12z"/>
<path fill="#fff400" d="M2692 5683l28 6-21-46-28-9z"/>
<path fill="#ff0" d="M2665 5681l27 2-21-49-27-5z"/>
<path fill="#ff0" d="M2637 5681l28 0-21-52-27-1z"/>
<path fill="#ffff20" d="M2610 5686l27-5-20-53-28 5z"/>
<path fill="#ffff20" class="c" d="M2613 5657l14-2-10-27-14 3z"/>
<path fill="#ffff30" class="c" d="M2600 5660l13-3-10-26-14 2z"/>
<path fill="#ffff10" class="c" d="M2624 5684l13-3-10-26-14 2z"/>
<path fill="#ffff20" class="c" d="M2610 5686l14-2-11-27-13 3z"/>
<path fill="#ffff50" d="M2582 5695l28-9-21-53-27 11z"/>
<path fill="#ffff40" class="c" d="M2587 5654l9-3-7-18-9 4z"/>
<path fill="#ffff60" class="c" d="M2578 5658l9-4-7-17-9 3z"/>
<path fill="#ffff70" class="c" d="M2569 5661l9-3-7-18-9 4z"/>
<path fill="#ffff40" class="c" d="M2594 5672l9-3-7-18-9 3z"/>
<path fill="#ffff50" class="c" d="M2585 5675l9-3-7-18-9 4z"/>
<path fill="#ffff60" class="c" d="M2576 5678l9-3-7-17-9 3z"/>
<path fill="#ffff30" class="c" d="M2601 5689l9-3-7-17-9 3z"/>
<path fill="#ffff40" class="c" d="M2592 5692l9-3-7-17-9 3z"/>
<path fill="#ffff50" class="c" d="M2582 5695l10-3-7-17-9 3z"/>
<path fill="#ffff80" d="M2555 5707l27-12-20-51-28 15z"/>
<path fill="#ffff80" class="c" d="M2560 5660l7-3-5-13-7 4z"/>
<path fill="#ffff8f" class="c" d="M2553 5664l7-4-5-12-7 4z"/>
<path fill="#ffff9f" class="c" d="M2546 5668l7-4-5-12-7 3z"/>
<path fill="#ffffaf" class="c" d="M2540 5671l6-3-5-13-7 4z"/>
<path fill="#ffff70" class="c" d="M2565 5673l7-3-5-13-7 3z"/>
<path fill="#ffff80" class="c" d="M2558 5676l7-3-5-13-7 4z"/>
<path fill="#ffff8f" class="c" d="M2552 5680l6-4-5-12-7 4z"/>
<path fill="#ffff9f" class="c" d="M2545 5683l7-3-6-12-6 3z"/>
<path fill="#ffff70" class="c" d="M2564 5689l13-7-5-12-14 6z"/>
<path fill="#ffff80" class="c" d="M2550 5695l14-6-6-13-13 7z"/>
<path fill="#ffff60" class="c" d="M2569 5701l13-6-5-13-13 7z"/>
<path fill="#ffff70" class="c" d="M2555 5707l14-6-5-12-14 6z"/>
<path fill="#ffff8f" d="M2528 5721l27-14-21-48-27 18z"/>
<path fill="#ffffaf" class="c" d="M2514 5692l27-17-7-16-27 18z"/>
<path fill="#ffff8f" class="c" d="M2521 5707l27-16-7-16-27 17z"/>
<path fill="#ffff80" class="c" d="M2546 5712l9-5-7-16-9 5z"/>
<path fill="#ffff70" class="c" d="M2528 5721l18-9-7-16-18 11z"/>
<path fill="#ffff60" d="M2500 5736l28-15-21-44-27 20z"/>
<path fill="#ffff9f" class="c" d="M2505 5693l7-5-5-11-7 5z"/>
<path fill="#ffff8f" class="c" d="M2498 5697l7-4-5-11-7 5z"/>
<path fill="#ffff80" class="c" d="M2492 5702l6-5-5-10-7 5z"/>
<path fill="#ffff60" class="c" d="M2485 5706l7-4-6-10-6 5z"/>
<path fill="#ffff8f" class="c" d="M2510 5703l7-4-5-11-7 5z"/>
<path fill="#ffff80" class="c" d="M2504 5708l6-5-5-10-7 4z"/>
<path fill="#ffff60" class="c" d="M2497 5712l7-4-6-11-6 5z"/>
<path fill="#ffff50" class="c" d="M2490 5716l7-4-5-10-7 4z"/>
<path fill="#ffff70" class="c" d="M2516 5714l6-4-5-11-7 4z"/>
<path fill="#ffff60" class="c" d="M2509 5718l7-4-6-11-6 5z"/>
<path fill="#ffff50" class="c" d="M2502 5722l7-4-5-10-7 4z"/>
<path fill="#ffff40" class="c" d="M2495 5726l7-4-5-10-7 4z"/>
<path fill="#ffff60" class="c" d="M2521 5725l7-4-6-11-6 4z"/>
<path fill="#ffff50" class="c" d="M2514 5728l7-3-5-11-7 4z"/>
<path fill="#ffff40" class="c" d="M2507 5732l7-4-5-10-7 4z"/>
<path fill="#ffff30" class="c" d="M2500 5736l7-4-5-10-7 4z"/>
<path fill="#ffff20" d="M2473 5749l27-13-20-39-28 18z"/>
<path fill="#ffff50" class="c" d="M2478 5711l7-5-5-9-7 4z"/>
<path fill="#ffff30" class="c" d="M2471 5715l7-4-5-10-7 5z"/>
<path fill="#ffff20" class="c" d="M2464 5720l7-5-5-9-7 5z"/>
<path fill="#ff0" class="c" d="M2457 5724l7-4-5-9-7 4z"/>
<path fill="#ffff40" class="c" d="M2483 5720l7-4-5-10-7 5z"/>
<path fill="#ffff30" class="c" d="M2476 5724l7-4-5-9-7 4z"/>
<path fill="#ffff10" class="c" d="M2469 5728l7-4-5-9-7 5z"/>
<path fill="#ff0" class="c" d="M2462 5732l7-4-5-8-7 4z"/>
<path fill="#ffff30" class="c" d="M2488 5730l7-4-5-10-7 4z"/>
<path fill="#ffff20" class="c" d="M2481 5733l7-3-5-10-7 4z"/>
<path fill="#ffff10" class="c" d="M2474 5737l7-4-5-9-7 4z"/>
<path fill="#ff0" class="c" d="M2468 5741l6-4-5-9-7 4z"/>
<path fill="#ffff20" class="c" d="M2493 5739l7-3-5-10-7 4z"/>
<path fill="#ffff10" class="c" d="M2487 5742l6-3-5-9-7 3z"/>
<path fill="#ff0" class="c" d="M2480 5746l7-4-6-9-7 4z"/>
<path fill="#fff400" class="c" d="M2473 5749l7-3-6-9-6 4z"/>
<path fill="#ffea00" d="M2445 5760l28-11-21-34-27 17z"/>
<path fill="#fff400" class="c" d="M2449 5739l13-7-10-17-14 9z"/>
<path fill="#ffdf00" class="c" d="M2435 5746l14-7-11-15-13 8z"/>
<path fill="#ffea00" class="c" d="M2459 5754l14-5-11-17-13 7z"/>
<path fill="#ffdf00" class="c" d="M2445 5760l14-6-10-15-14 7z"/>
<path fill="#ffca00" d="M2418 5766l27-6-20-28-28 11z"/>
<path fill="#ffd400" class="c" d="M2421 5750l14-4-10-14-14 6z"/>
<path fill="#ffca00" class="c" d="M2408 5755l13-5-10-12-14 5z"/>
<path fill="#ffd400" class="c" d="M2432 5763l13-3-10-14-14 4z"/>
<path fill="#ffbf00" class="c" d="M2418 5766l14-3-11-13-13 5z"/>
<path fill="#fa0" d="M2391 5766l27 0-21-23-27 7z"/>
<path fill="#ffb500" class="c" d="M2394 5756l14-1-11-12-13 4z"/>
<path fill="#ff9f00" class="c" d="M2380 5758l14-2-10-9-14 3z"/>
<path fill="#ffb500" class="c" d="M2404 5766l14 0-10-11-14 1z"/>
<path fill="#ff9f00" class="c" d="M2391 5766l13 0-10-10-14 2z"/>
<path fill="#ff8000" d="M2363 5760l28 6-21-16-28-1z"/>
<path fill="#ff8a00" class="c" d="M2368 5754l9 1-7-5-9 0z"/>
<path fill="#ff8000" class="c" d="M2358 5754l10 0-7-4-9-1z"/>
<path fill="#ff6a00" class="c" d="M2349 5753l9 1-6-5-10 0z"/>
<path fill="#ff8a00" class="c" d="M2375 5759l9 2-7-6-9-1z"/>
<path fill="#ff8000" class="c" d="M2365 5758l10 1-7-5-10 0z"/>
<path fill="#ff6a00" class="c" d="M2356 5756l9 2-7-4-9-1z"/>
<path fill="#ff8a00" class="c" d="M2381 5764l10 2-7-5-9-2z"/>
<path fill="#ff8000" class="c" d="M2372 5762l9 2-6-5-10-1z"/>
<path fill="#ff6a00" class="c" d="M2363 5760l9 2-7-4-9-2z"/>
<path fill="#ff4a00" d="M2336 5747l27 13-21-11-27-7z"/>
<path fill="#f50" class="c" d="M2340 5750l9 3-7-4-9-2z"/>
<path fill="#ff4a00" class="c" d="M2331 5747l9 3-7-3-9-2z"/>
<path fill="#ff3500" class="c" d="M2322 5744l9 3-7-2-9-3z"/>
<path fill="#ff6000" class="c" d="M2347 5753l9 3-7-3-9-3z"/>
<path fill="#ff4a00" class="c" d="M2338 5749l9 4-7-3-9-3z"/>
<path fill="#ff4000" class="c" d="M2329 5745l9 4-7-2-9-3z"/>
<path fill="#ff6000" class="c" d="M2354 5756l9 4-7-4-9-3z"/>
<path fill="#f50" class="c" d="M2345 5751l9 5-7-3-9-4z"/>
<path fill="#ff4000" class="c" d="M2336 5747l9 4-7-2-9-4z"/>
<path fill="#ff2000" d="M2308 5727l28 20-21-5-27-13z"/>
<path fill="#ff2a00" class="c" d="M2313 5739l9 5-7-2-9-4z"/>
<path fill="#ff2000" class="c" d="M2304 5734l9 5-7-1-9-5z"/>
<path fill="#ff0b00" class="c" d="M2295 5728l9 6-7-1-9-4z"/>
<path fill="#ff2a00" class="c" d="M2320 5740l9 5-7-1-9-5z"/>
<path fill="#ff2000" class="c" d="M2311 5734l9 6-7-1-9-5z"/>
<path fill="#ff1500" class="c" d="M2301 5728l10 6-7 0-9-6z"/>
<path fill="#ff3500" class="c" d="M2327 5740l9 7-7-2-9-5z"/>
<path fill="#ff2a00" class="c" d="M2317 5734l10 6-7 0-9-6z"/>
<path fill="#ff1500" class="c" d="M2308 5727l9 7-6 0-10-6z"/>
<path fill="#f00" d="M2281 5701l27 26-20 2-28-19z"/>
<path fill="#f00" class="c" d="M2271 5705l27 23-10 1-28-19z"/>
<path fill="#ff0b00" class="c" d="M2295 5714l13 13-10 1-14-11z"/>
<path fill="#f00" class="c" d="M2281 5701l14 13-11 3-13-12z"/>
<path fill="#f40000" d="M2253 5667l28 34-21 9-27-23z"/>
<path fill="#f40000" d="M2226 5628l27 39-20 20-28-26z"/>
<path fill="#f40000" d="M2199 5585l27 43-21 33-27-25z"/>
<path fill="#f40000" d="M2171 5548l28 37-21 51-27-18z"/>
<path fill="#f40000" d="M2144 5533l27 15-20 70-28-3z"/>
<path fill="#f40000" d="M2116 5554l28-21-21 82-27 18z"/>
<path fill="#f40000" d="M2089 5608l27-54-20 79-28 37z"/>
<path fill="#f40000" d="M2062 5675l27-67-21 62-27 49z"/>
<path fill="#f40000" d="M2034 5742l28-67-21 44-28 53z"/>
<path fill="#f40000" d="M2007 5805l27-63-21 30-27 53z"/>
<path fill="#f40000" d="M1979 5863l28-58-21 20-27 51z"/>
<path fill="#f40000" d="M1952 5914l27-51-20 13-28 47z"/>
<path fill="#f40000" d="M1924 5959l28-45-21 9-27 44z"/>
<path fill="#f40000" d="M1897 5998l27-39-20 8-28 39z"/>
<path fill="#f40000" d="M1870 6031l27-33-21 8-27 34z"/>
<path fill="#f40000" d="M1842 6060l28-29-21 9-27 31z"/>
<path fill="#f40000" d="M1815 6088l27-28-20 11-28 28z"/>
<path fill="#f40000" d="M1787 6115l28-27-21 11-27 26z"/>
<path fill="#f40000" d="M1760 6142l27-27-20 10-28 26z"/>
<path fill="#f40000" d="M1733 6170l27-28-21 9-27 27z"/>
<path fill="#f40000" d="M1705 6198l28-28-21 8-28 26z"/>
<path fill="#f40000" d="M1678 6226l27-28-21 6-27 27z"/>
<path fill="#f40000" d="M1650 6254l28-28-21 5-27 26z"/>
<path fill="#f40000" d="M1623 6282l27-28-20 3-28 27z"/>
<path fill="#f40000" d="M1595 6309l28-27-21 2-27 26z"/>
<path fill="#f40000" d="M1568 6336l27-27-20 1-28 26z"/>
<path fill="#f00" d="M1541 6363l27-27-21 0-27 26z"/>
<path fill="#ff0b00" d="M1513 6389l28-26-21-1-27 25z"/>
<path fill="#ff0b00" d="M1486 6415l27-26-20-2-28 25z"/>
<path fill="#ff1500" d="M1458 6441l28-26-21-3-27 25z"/>
<path fill="#ff1500" d="M1431 6465l27-24-20-4-28 24z"/>
<path fill="#ff2000" d="M1404 6490l27-25-21-4-27 24z"/>
<path class="m" d="M3021 5795l-21-22M2911 5761l-20-27M2774 5707l-20-39M2637 5681l-20-53M2500 5736l-20-39M2363 5760l-21-11M2226 5628l-21 33M2089 5608l-21 62M1952 5914l-21 9M1815 6088l-21 11M1678 6226l-21 5M1541 6363l-21-1M1404 6490l-21-5"/>
<path fill="#ffb500" d="M3014 5811l28 7-21-23-27-7z"/>
<path fill="#ffbf00" d="M2987 5804l27 7-20-23-28-9z"/>
<path fill="#ffbf00" d="M2960 5796l27 8-21-25-27-9z"/>
<path fill="#ffca00" d="M2932 5788l28 8-21-26-28-9z"/>
<path fill="#ffca00" d="M2905 5780l27 8-21-27-27-10z"/>
<path fill="#ffd400" d="M2877 5771l28 9-21-29-27-11z"/>
<path fill="#ffd400" d="M2850 5762l27 9-20-31-28-11z"/>
<path fill="#ffdf00" d="M2823 5754l27 8-21-33-27-11z"/>
<path fill="#ffea00" d="M2795 5746l28 8-21-36-28-11z"/>
<path fill="#ffea00" d="M2768 5739l27 7-21-39-27-10z"/>
<path fill="#fff400" d="M2740 5733l28 6-21-42-27-8z"/>
<path fill="#fff400" d="M2713 5729l27 4-20-44-28-6z"/>
<path fill="#ff0" d="M2685 5728l28 1-21-46-27-2z"/>
<path fill="#ff0" d="M2658 5730l27-2-20-47-28 0z"/>
<path fill="#ffff10" d="M2631 5734l27-4-21-49-27 5z"/>
<path fill="#ffff10" class="c" d="M2634 5708l14-2-11-25-13 3z"/>
<path fill="#ffff20" class="c" d="M2620 5710l14-2-10-24-14 2z"/>
<path fill="#ffff10" class="c" d="M2631 5734l27-4-10-24-28 4z"/>
<path fill="#ffff30" d="M2603 5742l28-8-21-48-28 9z"/>
<path fill="#ffff30" class="c" d="M2607 5714l13-4-10-24-14 5z"/>
<path fill="#ffff40" class="c" d="M2593 5718l14-4-11-23-14 4z"/>
<path fill="#ffff20" class="c" d="M2617 5738l14-4-11-24-13 4z"/>
<path fill="#ffff30" class="c" d="M2603 5742l14-4-10-24-14 4z"/>
<path fill="#ffff40" d="M2576 5751l27-9-21-47-27 12z"/>
<path fill="#ffff50" class="c" d="M2571 5718l18-7-7-16-18 8z"/>
<path fill="#ffff60" class="c" d="M2562 5722l9-4-7-15-9 4z"/>
<path fill="#ffff40" class="c" d="M2578 5733l18-7-7-15-18 7z"/>
<path fill="#ffff50" class="c" d="M2569 5737l9-4-7-15-9 4z"/>
<path fill="#ffff30" class="c" d="M2576 5751l27-9-7-16-27 11z"/>
<path fill="#ffff40" d="M2548 5762l28-11-21-44-27 14z"/>
<path fill="#ffff60" class="c" d="M2544 5730l18-8-7-15-18 10z"/>
<path fill="#ffff50" class="c" d="M2535 5735l9-5-7-13-9 4zM2560 5740l9-3-7-15-9 4z"/>
<path fill="#ffff40" class="c" d="M2541 5748l19-8-7-14-18 9z"/>
<path fill="#ffff30" class="c" d="M2558 5758l18-7-7-14-18 7z"/>
<path fill="#ffff20" class="c" d="M2548 5762l10-4-7-14-10 4z"/>
<path fill="#ffff20" d="M2521 5772l27-10-20-41-28 15z"/>
<path fill="#ffff50" class="c" d="M2526 5735l7-4-5-10-7 4z"/>
<path fill="#ffff40" class="c" d="M2519 5738l7-3-5-10-7 3z"/>
<path fill="#ffff30" class="c" d="M2512 5741l7-3-5-10-7 4z"/>
<path fill="#ffff20" class="c" d="M2505 5745l7-4-5-9-7 4z"/>
<path fill="#ffff40" class="c" d="M2531 5745l7-4-5-10-7 4z"/>
<path fill="#ffff30" class="c" d="M2524 5748l7-3-5-10-7 3z"/>
<path fill="#ffff20" class="c" d="M2517 5751l7-3-5-10-7 3z"/>
<path fill="#ffff10" class="c" d="M2511 5754l6-3-5-10-7 4z"/>
<path fill="#ffff30" class="c" d="M2536 5755l7-3-5-11-7 4z"/>
<path fill="#ffff20" class="c" d="M2530 5757l6-2-5-10-7 3z"/>
<path fill="#ffff10" class="c" d="M2516 5763l14-6-6-9-13 6z"/>
<path fill="#ffff20" class="c" d="M2542 5764l6-2-5-10-7 3z"/>
<path fill="#ffff10" class="c" d="M2528 5770l14-6-6-9-13 5z"/>
<path fill="#ff0" class="c" d="M2521 5772l7-2-5-10-7 3z"/>
<path fill="#fff400" d="M2494 5781l27-9-21-36-27 13z"/>
<path fill="#ffff10" class="c" d="M2498 5752l9-4-7-12-9 4z"/>
<path fill="#ff0" class="c" d="M2489 5756l9-4-7-12-9 5z"/>
<path fill="#fff400" class="c" d="M2480 5760l9-4-7-11-9 4z"/>
<path fill="#ff0" class="c" d="M2505 5764l9-4-7-12-9 4z"/>
<path fill="#fff400" class="c" d="M2496 5767l9-3-7-12-9 4z"/>
<path fill="#ffea00" class="c" d="M2487 5770l9-3-7-11-9 4z"/>
<path fill="#fff400" class="c" d="M2503 5778l18-6-7-12-18 7z"/>
<path fill="#ffea00" class="c" d="M2494 5781l9-3-7-11-9 3z"/>
<path fill="#ffdf00" d="M2466 5787l28-6-21-32-28 11z"/>
<path fill="#ffea00" class="c" d="M2469 5769l14-4-10-16-14 5z"/>
<path fill="#ffdf00" class="c" d="M2456 5773l13-4-10-15-14 6zM2466 5787l28-6-11-16-27 8z"/>
<path fill="#ffca00" d="M2439 5788l27-1-21-27-27 6z"/>
<path fill="#ffd400" class="c" d="M2442 5775l14-2-11-13-13 3z"/>
<path fill="#ffbf00" class="c" d="M2428 5777l14-2-10-12-14 3z"/>
<path fill="#ffca00" class="c" d="M2452 5787l14 0-10-14-14 2z"/>
<path fill="#ffbf00" class="c" d="M2439 5788l13-1-10-12-14 2z"/>
<path fill="#fa0" d="M2411 5783l28 5-21-22-27 0z"/>
<path fill="#ffb500" class="c" d="M2415 5776l13 1-10-11-14 0z"/>
<path fill="#ff9f00" class="c" d="M2401 5775l14 1-11-10-13 0z"/>
<path fill="#ffb500" class="c" d="M2425 5786l14 2-11-11-13-1z"/>
<path fill="#ff9f00" class="c" d="M2411 5783l14 3-10-10-14-1z"/>
<path fill="#ff8000" d="M2384 5772l27 11-20-17-28-6z"/>
<path fill="#ff8a00" class="c" d="M2388 5769l9 3-6-6-10-2z"/>
<path fill="#ff8000" class="c" d="M2379 5767l9 2-7-5-9-2z"/>
<path fill="#ff7500" class="c" d="M2370 5764l9 3-7-5-9-2z"/>
<path fill="#ff9500" class="c" d="M2395 5774l9 4-7-6-9-3z"/>
<path fill="#ff8000" class="c" d="M2386 5771l9 3-7-5-9-2z"/>
<path fill="#ff7500" class="c" d="M2377 5768l9 3-7-4-9-3z"/>
<path fill="#ff9500" class="c" d="M2402 5780l9 3-7-5-9-4z"/>
<path fill="#ff8000" class="c" d="M2393 5776l9 4-7-6-9-3z"/>
<path fill="#ff7500" class="c" d="M2384 5772l9 4-7-5-9-3z"/>
<path fill="#f50" d="M2356 5754l28 18-21-12-27-13z"/>
<path fill="#ff6000" class="c" d="M2361 5759l9 5-7-4-9-4z"/>
<path fill="#f50" class="c" d="M2352 5754l9 5-7-3-9-5z"/>
<path fill="#ff4a00" class="c" d="M2343 5749l9 5-7-3-9-4z"/>
<path fill="#ff6a00" class="c" d="M2368 5763l9 5-7-4-9-5z"/>
<path fill="#f50" class="c" d="M2359 5757l9 6-7-4-9-5z"/>
<path fill="#ff4a00" class="c" d="M2350 5752l9 5-7-3-9-5z"/>
<path fill="#ff6a00" class="c" d="M2375 5766l9 6-7-4-9-5z"/>
<path fill="#ff6000" class="c" d="M2366 5760l9 6-7-3-9-6z"/>
<path fill="#f50" class="c" d="M2356 5754l10 6-7-3-9-5z"/>
<path fill="#ff3500" d="M2329 5729l27 25-20-7-28-20z"/>
<path fill="#ff3500" class="c" d="M2334 5742l9 7-7-2-9-7z"/>
<path fill="#ff2a00" class="c" d="M2324 5735l10 7-7-2-10-6z"/>
<path fill="#ff2000" class="c" d="M2315 5728l9 7-7-1-9-7z"/>
<path fill="#ff4000" class="c" d="M2340 5744l10 8-7-3-9-7z"/>
<path fill="#ff3500" class="c" d="M2331 5736l9 8-6-2-10-7z"/>
<path fill="#ff2a00" class="c" d="M2322 5728l9 8-7-1-9-7z"/>
<path fill="#ff4a00" class="c" d="M2347 5746l9 8-6-2-10-8z"/>
<path fill="#ff4000" class="c" d="M2338 5737l9 9-7-2-9-8z"/>
<path fill="#ff3500" class="c" d="M2329 5729l9 8-7-1-9-8z"/>
<path fill="#ff1500" d="M2302 5695l27 34-21-2-27-26z"/>
<path fill="#ff1500" class="c" d="M2306 5718l9 10-7-1-9-9z"/>
<path fill="#ff0b00" class="c" d="M2297 5708l9 10-7 0-9-9z"/>
<path fill="#f00" class="c" d="M2288 5699l9 9-7 1-9-8z"/>
<path fill="#ff2000" class="c" d="M2313 5718l9 10-7 0-9-10z"/>
<path fill="#ff1500" class="c" d="M2304 5707l9 11-7 0-9-10z"/>
<path fill="#ff0b00" class="c" d="M2295 5697l9 10-7 1-9-9z"/>
<path fill="#ff2a00" class="c" d="M2320 5718l9 11-7-1-9-10z"/>
<path fill="#ff2000" class="c" d="M2311 5707l9 11-7 0-9-11z"/>
<path fill="#ff1500" class="c" d="M2302 5695l9 12-7 0-9-10z"/>
<path fill="#f00" d="M2274 5652l28 43-21 6-28-34z"/>
<path fill="#f00" class="c" d="M2278 5679l13 19-10 3-14-17z"/>
<path fill="#f40000" class="c" d="M2264 5659l14 20-11 5-14-17z"/>
<path fill="#f00" class="c" d="M2274 5652l28 43-11 3-27-39z"/>
<path fill="#f40000" d="M2247 5597l27 55-21 15-27-39z"/>
<path fill="#f40000" d="M2219 5530l28 67-21 31-27-43z"/>
<path fill="#f40000" d="M2192 5456l27 74-20 55-28-37z"/>
<path fill="#f40000" d="M2165 5409l27 47-21 92-27-15z"/>
<path fill="#f40000" d="M2137 5442l28-33-21 124-28 21z"/>
<path fill="#f40000" d="M2110 5533l27-91-21 112-27 54z"/>
<path fill="#f40000" d="M2082 5630l28-97-21 75-27 67z"/>
<path fill="#f40000" d="M2055 5716l27-86-20 45-28 67z"/>
<path fill="#f40000" d="M2027 5790l28-74-21 26-27 63z"/>
<path fill="#f40000" d="M2000 5853l27-63-20 15-28 58z"/>
<path fill="#f40000" d="M1973 5907l27-54-21 10-27 51z"/>
<path fill="#f40000" d="M1945 5952l28-45-21 7-28 45z"/>
<path fill="#f40000" d="M1918 5988l27-36-21 7-27 39z"/>
<path fill="#f40000" d="M1890 6018l28-30-21 10-27 33z"/>
<path fill="#f40000" d="M1863 6046l27-28-20 13-28 29z"/>
<path fill="#f40000" d="M1836 6073l27-27-21 14-27 28z"/>
<path fill="#f40000" d="M1808 6102l28-29-21 15-28 27z"/>
<path fill="#f40000" d="M1781 6131l27-29-21 13-27 27z"/>
<path fill="#f40000" d="M1753 6160l28-29-21 11-27 28z"/>
<path fill="#f40000" d="M1726 6190l27-30-20 10-28 28z"/>
<path fill="#f40000" d="M1698 6220l28-30-21 8-27 28z"/>
<path fill="#f40000" d="M1671 6250l27-30-20 6-28 28z"/>
<path fill="#f40000" d="M1644 6280l27-30-21 4-27 28z"/>
<path fill="#f40000" d="M1616 6309l28-29-21 2-28 27z"/>
<path fill="#f40000" d="M1589 6337l27-28-21 0-27 27z"/>
<path fill="#f00" d="M1561 6365l28-28-21-1-27 27z"/>
<path fill="#ff0b00" d="M1534 6392l27-27-20-2-28 26z"/>
<path fill="#ff0b00" d="M1507 6419l27-27-21-3-27 26z"/>
<path fill="#ff1500" d="M1479 6445l28-26-21-4-28 26z"/>
<path fill="#ff1500" d="M1452 6470l27-25-21-4-27 24z"/>
<path fill="#ff2000" d="M1424 6495l28-25-21-5-27 25z"/>
<path class="m" d="M3042 5818l-21-23M2932 5788l-21-27M2795 5746l-21-39M2658 5730l-21-49M2521 5772l-21-36M2384 5772l-21-12M2247 5597l-21 31M2110 5533l-21 75M1973 5907l-21 7M1836 6073l-21 15M1698 6220l-20 6M1561 6365l-20-2M1424 6495l-20-5"/>
<path fill="#ffbf00" d="M3035 5835l28 6-21-23-28-7z"/>
<path fill="#ffbf00" d="M3008 5829l27 6-21-24-27-7z"/>
<path fill="#ffca00" d="M2980 5823l28 6-21-25-27-8z"/>
<path fill="#ffca00" d="M2953 5816l27 7-20-27-28-8z"/>
<path fill="#ffd400" d="M2926 5809l27 7-21-28-27-8z"/>
<path fill="#ffd400" d="M2898 5802l28 7-21-29-28-9z"/>
<path fill="#ffdf00" d="M2871 5795l27 7-21-31-27-9z"/>
<path fill="#ffdf00" d="M2843 5789l28 6-21-33-27-8z"/>
<path fill="#ffea00" d="M2816 5783l27 6-20-35-28-8z"/>
<path fill="#ffea00" d="M2788 5778l28 5-21-37-27-7z"/>
<path fill="#fff400" d="M2761 5774l27 4-20-39-28-6z"/>
<path fill="#fff400" d="M2734 5772l27 2-21-41-27-4z"/>
<path fill="#ff0" d="M2706 5772l28 0-21-43-28-1z"/>
<path fill="#ff0" d="M2679 5774l27-2-21-44-27 2z"/>
<path fill="#ffff10" d="M2651 5778l28-4-21-44-27 4z"/>
<path fill="#ffff10" d="M2624 5784l27-6-20-44-28 8z"/>
<path fill="#ffff10" class="c" d="M2627 5760l14-4-10-22-14 4z"/>
<path fill="#ffff20" class="c" d="M2614 5763l13-3-10-22-14 4z"/>
<path fill="#ffff10" class="c" d="M2624 5784l27-6-10-22-27 7z"/>
<path fill="#ffff10" d="M2597 5792l27-8-21-42-27 9z"/>
<path fill="#ffff20" class="c" d="M2586 5772l28-9-11-21-27 9z"/>
<path fill="#ffff10" class="c" d="M2597 5792l27-8-10-21-28 9z"/>
<path fill="#ffff10" d="M2569 5800l28-8-21-41-28 11z"/>
<path fill="#ffff20" class="c" d="M2572 5776l14-4-10-21-14 6z"/>
<path fill="#ffff10" class="c" d="M2559 5781l13-5-10-19-14 5zM2583 5796l14-4-11-20-14 4z"/>
<path fill="#ff0" class="c" d="M2569 5800l14-4-11-20-13 5z"/>
<path fill="#ff0" d="M2542 5807l27-7-21-38-27 10z"/>
<path fill="#ff0" class="c" d="M2531 5789l28-8-11-19-27 10zM2555 5803l14-3-10-19-14 4z"/>
<path fill="#fff400" class="c" d="M2542 5807l13-4-10-18-14 4z"/>
<path fill="#ffea00" d="M2514 5812l28-5-21-35-27 9z"/>
<path fill="#fff400" class="c" d="M2518 5793l13-4-10-17-14 5z"/>
<path fill="#ffea00" class="c" d="M2504 5796l14-3-11-16-13 4zM2514 5812l28-5-11-18-27 7z"/>
<path fill="#ffdf00" d="M2487 5813l27-1-20-31-28 6z"/>
<path fill="#ffdf00" class="c" d="M2490 5798l14-2-10-15-14 3z"/>
<path fill="#ffd400" class="c" d="M2477 5800l13-2-10-14-14 3z"/>
<path fill="#ffdf00" class="c" d="M2501 5812l13 0-10-16-14 2z"/>
<path fill="#ffd400" class="c" d="M2487 5813l14-1-11-14-13 2z"/>
<path fill="#ffca00" d="M2459 5810l28 3-21-26-27 1z"/>
<path fill="#ffca00" class="c" d="M2463 5800l14 0-11-13-14 0z"/>
<path fill="#ffbf00" class="c" d="M2449 5799l14 1-11-13-13 1z"/>
<path fill="#ffca00" class="c" d="M2473 5812l14 1-10-13-14 0z"/>
<path fill="#ffbf00" class="c" d="M2459 5810l14 2-10-12-14-1z"/>
<path fill="#fa0" d="M2432 5802l27 8-20-22-28-5z"/>
<path fill="#ffb500" class="c" d="M2435 5796l14 3-10-11-14-2z"/>
<path fill="#ff9f00" class="c" d="M2422 5793l13 3-10-10-14-3z"/>
<path fill="#ffb500" class="c" d="M2446 5806l13 4-10-11-14-3z"/>
<path fill="#ff9f00" class="c" d="M2432 5802l14 4-11-10-13-3z"/>
<path fill="#ff8a00" d="M2405 5787l27 15-21-19-27-11z"/>
<path fill="#ff9500" class="c" d="M2408 5786l14 7-11-10-13-5z"/>
<path fill="#ff8000" class="c" d="M2394 5780l14 6-10-8-14-6z"/>
<path fill="#ff9500" class="c" d="M2418 5795l14 7-10-9-14-7z"/>
<path fill="#ff8000" class="c" d="M2405 5787l13 8-10-9-14-6z"/>
<path fill="#ff6a00" d="M2377 5766l28 21-21-15-28-18z"/>
<path fill="#ff6a00" class="c" d="M2382 5771l9 6-7-5-9-6z"/>
<path fill="#ff6000" class="c" d="M2373 5765l9 6-7-5-9-6z"/>
<path fill="#f50" class="c" d="M2363 5758l10 7-7-5-10-6z"/>
<path fill="#ff7500" class="c" d="M2389 5775l9 7-7-5-9-6z"/>
<path fill="#ff6a00" class="c" d="M2379 5769l10 6-7-4-9-6z"/>
<path fill="#ff6000" class="c" d="M2370 5762l9 7-6-4-10-7z"/>
<path fill="#ff7500" class="c" d="M2386 5773l19 14-7-5-19-13z"/>
<path fill="#ff6a00" class="c" d="M2377 5766l9 7-7-4-9-7z"/>
<path fill="#ff4a00" d="M2350 5736l27 30-21-12-27-25z"/>
<path fill="#ff4a00" class="c" d="M2354 5749l9 9-7-4-9-8z"/>
<path fill="#ff4000" class="c" d="M2345 5740l9 9-7-3-9-9z"/>
<path fill="#ff3500" class="c" d="M2336 5731l9 9-7-3-9-8z"/>
<path fill="#f50" class="c" d="M2361 5753l9 9-7-4-9-9z"/>
<path fill="#ff4a00" class="c" d="M2352 5743l9 10-7-4-9-9z"/>
<path fill="#ff4000" class="c" d="M2343 5734l9 9-7-3-9-9z"/>
<path fill="#ff6000" class="c" d="M2368 5756l9 10-7-4-9-9z"/>
<path fill="#f50" class="c" d="M2359 5746l9 10-7-3-9-10z"/>
<path fill="#ff4a00" class="c" d="M2350 5736l9 10-7-3-9-9z"/>
<path fill="#ff3500" d="M2322 5697l28 39-21-7-27-34z"/>
<path fill="#ff2a00" class="c" d="M2327 5720l9 11-7-2-9-11z"/>
<path fill="#ff2000" class="c" d="M2309 5696l18 24-7-2-18-23z"/>
<path fill="#ff3500" class="c" d="M2325 5709l18 25-7-3-18-23z"/>
<path fill="#ff2a00" class="c" d="M2315 5697l10 12-7-1-9-12z"/>
<path fill="#ff4000" class="c" d="M2332 5710l18 26-7-2-18-25z"/>
<path fill="#ff3500" class="c" d="M2322 5697l10 13-7-1-10-12z"/>
<path fill="#ff1500" d="M2295 5646l27 51-20-2-28-43z"/>
<path fill="#ff1500" class="c" d="M2299 5681l10 15-7-1-9-14z"/>
<path fill="#ff0b00" class="c" d="M2290 5665l9 16-6 0-10-15z"/>
<path fill="#f00" class="c" d="M2281 5650l9 15-7 1-9-14z"/>
<path fill="#ff2000" class="c" d="M2306 5680l9 17-6-1-10-15z"/>
<path fill="#ff1500" class="c" d="M2297 5664l9 16-7 1-9-16z"/>
<path fill="#ff0b00" class="c" d="M2288 5648l9 16-7 1-9-15z"/>
<path fill="#ff2a00" class="c" d="M2313 5680l9 17-7 0-9-17z"/>
<path fill="#ff2000" class="c" d="M2295 5646l18 34-7 0-18-32z"/>
<path fill="#f00" d="M2268 5578l27 68-21 6-27-55z"/>
<path fill="#f00" class="c" d="M2257 5587l28 62-11 3-27-55z"/>
<path fill="#ff0b00" class="c" d="M2281 5612l14 34-10 3-14-31z"/>
<path fill="#f00" class="c" d="M2268 5578l13 34-10 6-14-31z"/>
<path fill="#f40000" d="M2240 5483l28 95-21 19-28-67z"/>
<path fill="#f40000" d="M2213 5346l27 137-21 47-27-74z"/>
<path fill="#f40000" d="M2185 5186l28 160-21 110-27-47z"/>
<path fill="#f40000" d="M2158 5273l27-87-20 223-28 33z"/>
<path fill="#f40000" d="M2130 5458l28-185-21 169-27 91z"/>
<path fill="#f40000" d="M2103 5596l27-138-20 75-28 97z"/>
<path fill="#f40000" d="M2076 5700l27-104-21 34-27 86z"/>
<path fill="#f40000" d="M2048 5782l28-82-21 16-28 74z"/>
<path fill="#f40000" d="M2021 5848l27-66-21 8-27 63z"/>
<path fill="#f40000" d="M1993 5901l28-53-21 5-27 54z"/>
<path fill="#f40000" d="M1966 5941l27-40-20 6-28 45z"/>
<path fill="#f40000" d="M1939 5972l27-31-21 11-27 36z"/>
<path fill="#f40000" d="M1911 5999l28-27-21 16-28 30z"/>
<path fill="#f40000" d="M1884 6027l27-28-21 19-27 28z"/>
<path fill="#f40000" d="M1856 6056l28-29-21 19-27 27z"/>
<path fill="#f40000" d="M1829 6086l27-30-20 17-28 29z"/>
<path fill="#f40000" d="M1801 6118l28-32-21 16-27 29z"/>
<path fill="#f40000" d="M1774 6150l27-32-20 13-28 29z"/>
<path fill="#f40000" d="M1747 6183l27-33-21 10-27 30z"/>
<path fill="#f40000" d="M1719 6215l28-32-21 7-28 30z"/>
<path fill="#f40000" d="M1692 6247l27-32-21 5-27 30z"/>
<path fill="#f40000" d="M1664 6278l28-31-21 3-27 30z"/>
<path fill="#f40000" d="M1637 6308l27-30-20 2-28 29z"/>
<path fill="#f40000" d="M1610 6338l27-30-21 1-27 28z"/>
<path fill="#f00" d="M1582 6367l28-29-21-1-28 28z"/>
<path fill="#ff0b00" d="M1555 6395l27-28-21-2-27 27z"/>
<path fill="#ff0b00" d="M1527 6422l28-27-21-3-27 27z"/>
<path fill="#ff1500" d="M1500 6449l27-27-20-3-28 26z"/>
<path fill="#ff1500" d="M1472 6475l28-26-21-4-27 25z"/>
<path fill="#ff2000" d="M1445 6500l27-25-20-5-28 25z"/>
<path class="m" d="M3063 5841l-21-23M3014 5811l28 7M2987 5804l27 7M2960 5796l27 8M2932 5788l28 8M2953 5816l-21-28M2905 5780l27 8M2877 5771l28 9M2850 5762l27 9M2823 5754l27 8M2795 5746l28 8M2816 5783l-21-37M2768 5739l27 7M2740 5733l28 6M2713 5729l27 4M2685 5728l28 1M2658 5730l27-2M2679 5774l-21-44M2631 5734l27-4M2603 5742l28-8M2576 5751l27-9M2548 5762l28-11M2521 5772l27-10M2542 5807l-21-35M2494 5781l27-9M2466 5787l28-6M2439 5788l27-1M2411 5783l28 5M2384 5772l27 11M2405 5787l-21-15M2356 5754l28 18M2329 5729l27 25M2302 5695l27 34M2274 5652l28 43M2247 5597l27 55M2268 5578l-21 19M2219 5530l28 67M2192 5456l27 74M2165 5409l27 47M2137 5442l28-33M2110 5533l27-91M2130 5458l-20 75M2082 5630l28-97M2055 5716l27-86M2027 5790l28-74M2000 5853l27-63M1973 5907l27-54M1993 5901l-20 6M1945 5952l28-45M1918 5988l27-36M1890 6018l28-30M1863 6046l27-28M1836 6073l27-27M1856 6056l-20 17M1808 6102l28-29M1781 6131l27-29M1753 6160l28-29M1726 6190l27-30M1698 6220l28-30M1719 6215l-21 5M1671 6250l27-30M1644 6280l27-30M1616 6309l28-29M1589 6337l27-28M1561 6365l28-28M1582 6367l-21-2M1534 6392l27-27M1507 6419l27-27M1479 6445l28-26M1452 6470l27-25M1424 6495l28-25M1445 6500l-21-5"/>
<path fill="#ffbf00" d="M3056 5860l27 4-20-23-28-6z"/>
<path fill="#ffbf00" d="M3029 5855l27 5-21-25-27-6z"/>
<path fill="#ffca00" d="M3001 5849l28 6-21-26-28-6z"/>
<path fill="#ffca00" d="M2974 5844l27 5-21-26-27-7z"/>
<path fill="#ffd400" d="M2946 5838l28 6-21-28-27-7z"/>
<path fill="#ffd400" d="M2919 5833l27 5-20-29-28-7z"/>
<path fill="#ffdf00" d="M2891 5828l28 5-21-31-27-7z"/>
<path fill="#ffdf00" d="M2864 5823l27 5-20-33-28-6z"/>
<path fill="#ffea00" d="M2837 5819l27 4-21-34-27-6z"/>
<path fill="#ffea00" d="M2809 5815l28 4-21-36-28-5z"/>
<path fill="#fff400" d="M2782 5813l27 2-21-37-27-4z"/>
<path fill="#fff400" d="M2754 5812l28 1-21-39-27-2z"/>
<path fill="#fff400" d="M2727 5813l27-1-20-40-28 0z"/>
<path fill="#ff0" d="M2700 5815l27-2-21-41-27 2z"/>
<path fill="#ff0" d="M2672 5819l28-4-21-41-28 4z"/>
<path fill="#ff0" d="M2645 5824l27-5-21-41-27 6z"/>
<path fill="#ff0" d="M2617 5830l28-6-21-40-27 8z"/>
<path fill="#fff400" d="M2590 5835l27-5-20-38-28 8z"/>
<path fill="#ffea00" d="M2562 5839l28-4-21-35-27 7z"/>
<path fill="#ffdf00" d="M2535 5841l27-2-20-32-28 5z"/>
<path fill="#ffd400" d="M2508 5840l27 1-21-29-27 1z"/>
<path fill="#ffbf00" d="M2480 5834l28 6-21-27-28-3z"/>
<path fill="#ffca00" class="c" d="M2484 5824l13 2-10-13-14-1z"/>
<path fill="#ffbf00" class="c" d="M2470 5822l14 2-11-12-14-2z"/>
<path fill="#ffca00" class="c" d="M2494 5837l14 3-11-14-13-2z"/>
<path fill="#ffbf00" class="c" d="M2480 5834l14 3-10-13-14-2z"/>
<path fill="#fa0" d="M2453 5822l27 12-21-24-27-8z"/>
<path fill="#ffb500" class="c" d="M2456 5817l14 5-11-12-13-4z"/>
<path fill="#fa0" class="c" d="M2442 5812l14 5-10-11-14-4z"/>
<path fill="#ffb500" class="c" d="M2466 5828l14 6-10-12-14-5z"/>
<path fill="#fa0" class="c" d="M2453 5822l13 6-10-11-14-5z"/>
<path fill="#ff9500" d="M2425 5805l28 17-21-20-27-15z"/>
<path fill="#ff9500" class="c" d="M2429 5804l13 8-10-10-14-7z"/>
<path fill="#ff8a00" class="c" d="M2415 5796l14 8-11-9-13-8z"/>
<path fill="#ff9f00" class="c" d="M2439 5814l14 8-11-10-13-8z"/>
<path fill="#ff9500" class="c" d="M2425 5805l14 9-10-10-14-8z"/>
<path fill="#ff8000" d="M2398 5782l27 23-20-18-28-21z"/>
<path fill="#ff8000" class="c" d="M2401 5785l14 11-10-9-14-11z"/>
<path fill="#ff7500" class="c" d="M2388 5774l13 11-10-9-14-10z"/>
<path fill="#ff8a00" class="c" d="M2412 5794l13 11-10-9-14-11z"/>
<path fill="#ff8000" class="c" d="M2398 5782l14 12-11-9-13-11z"/>
<path fill="#ff6a00" d="M2371 5750l27 32-21-16-27-30z"/>
<path fill="#ff6a00" class="c" d="M2375 5761l9 10-7-5-9-10z"/>
<path fill="#ff6000" class="c" d="M2366 5751l9 10-7-5-9-10z"/>
<path fill="#f50" class="c" d="M2357 5741l9 10-7-5-9-10z"/>
<path fill="#ff6a00" class="c" d="M2373 5756l18 20-7-5-18-20z"/>
<path fill="#ff6000" class="c" d="M2364 5746l9 10-7-5-9-10z"/>
<path fill="#ff7500" class="c" d="M2380 5761l18 21-7-6-18-20z"/>
<path fill="#ff6a00" class="c" d="M2371 5750l9 11-7-5-9-10z"/>
<path fill="#f50" d="M2343 5709l28 41-21-14-28-39z"/>
<path fill="#ff4a00" class="c" d="M2338 5714l19 27-7-5-18-26z"/>
<path fill="#ff4000" class="c" d="M2329 5701l9 13-6-4-10-13z"/>
<path fill="#ff6000" class="c" d="M2354 5732l10 14-7-5-9-13z"/>
<path fill="#f50" class="c" d="M2345 5719l9 13-6-4-10-14z"/>
<path fill="#ff4a00" class="c" d="M2336 5705l9 14-7-5-9-13z"/>
<path fill="#ff6a00" class="c" d="M2361 5737l10 13-7-4-10-14z"/>
<path fill="#ff6000" class="c" d="M2343 5709l18 28-7-5-18-27z"/>
<path fill="#ff4000" d="M2316 5655l27 54-21-12-27-51z"/>
<path fill="#ff3500" class="c" d="M2314 5674l14 26-6-3-13-25z"/>
<path fill="#ff2a00" class="c" d="M2300 5648l14 26-5-2-14-26z"/>
<path fill="#ff4000" class="c" d="M2319 5677l14 26-5-3-14-26z"/>
<path fill="#ff3500" class="c" d="M2305 5651l14 26-5-3-14-26z"/>
<path fill="#ff4a00" class="c" d="M2317 5666l21 40-5-3-21-39z"/>
<path fill="#ff4000" class="c" d="M2310 5653l7 13-5-2-7-13z"/>
<path fill="#f50" class="c" d="M2323 5669l20 40-5-3-21-40z"/>
<path fill="#ff4a00" class="c" d="M2316 5655l7 14-6-3-7-13z"/>
<path fill="#ff2a00" d="M2288 5582l28 73-21-9-27-68z"/>
<path fill="#ff2000" class="c" d="M2286 5614l14 34-5-2-14-34z"/>
<path fill="#ff1500" class="c" d="M2280 5596l6 18-5-2-7-17z"/>
<path fill="#ff0b00" class="c" d="M2273 5579l7 17-6-1-6-17z"/>
<path fill="#ff2a00" class="c" d="M2292 5615l13 36-5-3-14-34z"/>
<path fill="#ff2000" class="c" d="M2278 5580l14 35-6-1-13-35z"/>
<path fill="#ff4000" class="c" d="M2304 5635l6 18-5-2-7-18z"/>
<path fill="#ff3500" class="c" d="M2283 5581l21 54-6-2-20-53z"/>
<path fill="#ff4a00" class="c" d="M2302 5618l14 37-6-2-13-36z"/>
<path fill="#ff4000" class="c" d="M2288 5582l14 36-5-1-14-36z"/>
<path fill="#ff2000" d="M2261 5476l27 106-20-4-28-95z"/>
<path fill="#ff0b00" class="c" d="M2259 5530l14 49-5-1-14-48z"/>
<path fill="#f00" class="c" d="M2245 5481l14 49-5 0-14-47z"/>
<path fill="#ff2000" class="c" d="M2271 5555l7 25-5-1-7-25z"/>
<path fill="#ff1500" class="c" d="M2250 5479l21 76-5-1-21-73z"/>
<path fill="#ff2a00" class="c" d="M2263 5503l20 78-5-1-21-75z"/>
<path fill="#ff2000" class="c" d="M2256 5478l7 25-6 2-7-26z"/>
<path fill="#ff4000" class="c" d="M2275 5529l13 53-5-1-14-52z"/>
<path fill="#ff3500" class="c" d="M2261 5476l14 53-6 0-13-51z"/>
<path fill="#ff1500" d="M2233 5299l28 177-21 7-27-137z"/>
<path fill="#f00" class="c" d="M2218 5334l27 147-5 2-27-137z"/>
<path fill="#ff1500" class="c" d="M2244 5440l6 39-5 2-7-36z"/>
<path fill="#ff0b00" class="c" d="M2223 5323l21 117-6 5-20-111z"/>
<path fill="#ff2000" class="c" d="M2228 5311l28 167-6 1-27-156z"/>
<path fill="#ff3500" class="c" d="M2254 5432l7 44-5 2-7-42z"/>
<path fill="#ff2a00" class="c" d="M2233 5299l21 133-5 4-21-125z"/>
<path fill="#ff2a00" d="M2206 4830l27 469-20 47-28-160z"/>
<path fill="#f00" class="c" d="M2204 5216l14 118-5 12-14-80z"/>
<path fill="#ff0b00" class="c" d="M2190 5097l14 119-5 50-14-80z"/>
<path fill="#ff1500" class="c" d="M2216 5244l7 79-5 11-7-59z"/>
<path fill="#ff2000" class="c" d="M2209 5165l7 79-5 31-7-59z"/>
<path fill="#ff2a00" class="c" d="M2203 5087l6 78-5 51-7-60z"/>
<path fill="#ff3500" class="c" d="M2196 5008l7 79-6 69-7-59z"/>
<path fill="#ff2000" class="c" d="M2221 5213l7 98-5 12-7-79z"/>
<path fill="#ff3500" class="c" d="M2215 5115l6 98-5 31-7-79z"/>
<path fill="#ff4a00" class="c" d="M2208 5017l7 98-6 50-6-78z"/>
<path fill="#f50" class="c" d="M2201 4919l7 98-5 70-7-79z"/>
<path fill="#ff3500" class="c" d="M2227 5182l6 117-5 12-7-98z"/>
<path fill="#ff4a00" class="c" d="M2220 5064l7 118-6 31-6-98z"/>
<path fill="#ff6000" class="c" d="M2213 4947l7 117-5 51-7-98z"/>
<path fill="#ff8000" class="c" d="M2206 4830l7 117-5 70-7-98z"/>
<path fill="#ff2000" d="M2179 5149l27-319-21 356-27 87z"/>
<path fill="#ff0b00" class="c" d="M2184 5133l6-36-5 89-7 22z"/>
<path fill="#f00" class="c" d="M2163 5242l21-109-6 75-20 65z"/>
<path fill="#ff2a00" class="c" d="M2189 5059l7-51-6 89-6 36z"/>
<path fill="#ff2000" class="c" d="M2182 5109l7-50-5 74-7 36z"/>
<path fill="#ff1500" class="c" d="M2175 5160l7-51-5 60-7 36z"/>
<path fill="#f00" class="c" d="M2168 5211l7-51-5 45-7 37z"/>
<path fill="#f50" class="c" d="M2194 4984l7-65-5 89-7 51z"/>
<path fill="#ff4000" class="c" d="M2187 5049l7-65-5 75-7 50z"/>
<path fill="#ff2000" class="c" d="M2180 5115l7-66-5 60-7 51z"/>
<path fill="#ff0b00" class="c" d="M2173 5180l7-65-5 45-7 51z"/>
<path fill="#ff7500" class="c" d="M2199 4909l7-79-5 89-7 65z"/>
<path fill="#f50" class="c" d="M2192 4989l7-80-5 75-7 65z"/>
<path fill="#ff3500" class="c" d="M2185 5069l7-80-5 60-7 66z"/>
<path fill="#ff0b00" class="c" d="M2179 5149l6-80-5 46-7 65z"/>
<path fill="#f40000" d="M2151 5435l28-286-21 124-28 185z"/>
<path fill="#f40000" d="M2124 5592l27-157-21 23-27 138z"/>
<path fill="#f00" d="M2096 5702l28-110-21 4-27 104z"/>
<path fill="#f00" d="M2069 5784l27-82-20-2-28 82z"/>
<path fill="#f40000" d="M2042 5847l27-63-21-2-27 66z"/>
<path fill="#f40000" d="M2014 5892l28-45-21 1-28 53z"/>
<path fill="#f40000" d="M1987 5923l27-31-21 9-27 40z"/>
<path fill="#f40000" d="M1959 5948l28-25-21 18-27 31z"/>
<path fill="#f40000" d="M1932 5974l27-26-20 24-28 27z"/>
<path fill="#f40000" d="M1904 6003l28-29-21 25-27 28z"/>
<path fill="#f40000" d="M1877 6035l27-32-20 24-28 29z"/>
<path fill="#f40000" d="M1850 6069l27-34-21 21-27 30z"/>
<path fill="#f40000" d="M1822 6104l28-35-21 17-28 32z"/>
<path fill="#f40000" d="M1795 6139l27-35-21 14-27 32z"/>
<path fill="#f40000" d="M1767 6175l28-36-21 11-27 33z"/>
<path fill="#f40000" d="M1740 6209l27-34-20 8-28 32z"/>
<path fill="#f40000" d="M1713 6243l27-34-21 6-27 32z"/>
<path fill="#f40000" d="M1685 6276l28-33-21 4-28 31z"/>
<path fill="#f40000" d="M1658 6308l27-32-21 2-27 30z"/>
<path fill="#f40000" d="M1630 6339l28-31-21 0-27 30z"/>
<path fill="#f00" d="M1603 6369l27-30-20-1-28 29z"/>
<path fill="#ff0b00" d="M1575 6398l28-29-21-2-27 28z"/>
<path fill="#ff0b00" d="M1548 6426l27-28-20-3-28 27z"/>
<path fill="#ff1500" d="M1521 6453l27-27-21-4-27 27z"/>
<path fill="#ff1500" d="M1493 6480l28-27-21-4-28 26z"/>
<path fill="#ff2000" d="M1466 6506l27-26-21-5-27 25z"/>
<path class="m" d="M3083 5864l-20-23M2974 5844l-21-28M2837 5819l-21-36M2700 5815l-21-41M2562 5839l-20-32M2425 5805l-20-18M2288 5582l-20-4M2151 5435l-21 23M2014 5892l-21 9M1877 6035l-21 21M1740 6209l-21 6M1603 6369l-21-2M1466 6506l-21-6"/>
<path d="M2196 5513V4798" class="b"/>
<path fill="#ffbf00" d="M3077 5884l27 4-21-24-27-4z"/>
<path fill="#ffca00" d="M3049 5880l28 4-21-24-27-5z"/>
<path fill="#ffca00" d="M3022 5876l27 4-20-25-28-6z"/>
<path fill="#ffca00" d="M2994 5872l28 4-21-27-27-5z"/>
<path fill="#ffd400" d="M2967 5867l27 5-20-28-28-6z"/>
<path fill="#ffd400" d="M2940 5863l27 4-21-29-27-5z"/>
<path fill="#ffdf00" d="M2912 5859l28 4-21-30-28-5z"/>
<path fill="#ffdf00" d="M2885 5856l27 3-21-31-27-5z"/>
<path fill="#ffea00" d="M2857 5853l28 3-21-33-27-4z"/>
<path fill="#ffea00" d="M2830 5851l27 2-20-34-28-4z"/>
<path fill="#ffea00" d="M2803 5850l27 1-21-36-27-2z"/>
<path fill="#fff400" d="M2775 5850l28 0-21-37-28-1z"/>
<path fill="#fff400" d="M2748 5851l27-1-21-38-27 1z"/>
<path fill="#fff400" d="M2720 5854l28-3-21-38-27 2z"/>
<path fill="#fff400" d="M2693 5857l27-3-20-39-28 4z"/>
<path fill="#fff400" d="M2665 5861l28-4-21-38-27 5z"/>
<path fill="#fff400" d="M2638 5865l27-4-20-37-28 6z"/>
<path fill="#ffea00" d="M2611 5868l27-3-21-35-27 5z"/>
<path fill="#ffea00" d="M2583 5870l28-2-21-33-28 4z"/>
<path fill="#ffdf00" d="M2556 5870l27 0-21-31-27 2z"/>
<path fill="#ffd400" d="M2528 5866l28 4-21-29-27-1z"/>
<path fill="#ffbf00" d="M2501 5858l27 8-20-26-28-6z"/>
<path fill="#ffb500" d="M2473 5845l28 13-21-24-27-12z"/>
<path fill="#ffb500" class="c" d="M2477 5840l14 6-11-12-14-6z"/>
<path fill="#fa0" class="c" d="M2463 5834l14 6-11-12-13-6z"/>
<path fill="#ffb500" class="c" d="M2487 5851l14 7-10-12-14-6z"/>
<path fill="#fa0" class="c" d="M2473 5845l14 6-10-11-14-6z"/>
<path fill="#ff9f00" d="M2446 5827l27 18-20-23-28-17z"/>
<path fill="#ff9f00" class="c" d="M2449 5825l14 9-10-12-14-8z"/>
<path fill="#ff9500" class="c" d="M2436 5816l13 9-10-11-14-9z"/>
<path fill="#fa0" class="c" d="M2460 5836l13 9-10-11-14-9z"/>
<path fill="#ff9f00" class="c" d="M2446 5827l14 9-11-11-13-9z"/>
<path fill="#ff9500" d="M2419 5803l27 24-21-22-27-23z"/>
<path fill="#ff9500" class="c" d="M2422 5804l14 12-11-11-13-11z"/>
<path fill="#ff8a00" class="c" d="M2408 5792l14 12-10-10-14-12z"/>
<path fill="#ff9500" class="c" d="M2419 5803l27 24-10-11-28-24z"/>
<path fill="#ff8000" d="M2391 5772l28 31-21-21-27-32z"/>
<path fill="#ff8000" class="c" d="M2395 5777l13 15-10-10-14-16z"/>
<path fill="#ff7500" class="c" d="M2381 5761l14 16-11-11-13-16z"/>
<path fill="#ff8a00" class="c" d="M2391 5772l28 31-11-11-27-31z"/>
<path fill="#ff7500" d="M2364 5732l27 40-20-22-28-41z"/>
<path fill="#ff7500" class="c" d="M2368 5744l9 13-6-7-10-13z"/>
<path fill="#ff6a00" class="c" d="M2350 5717l18 27-7-7-18-28z"/>
<path fill="#ff8000" class="c" d="M2375 5751l9 14-7-8-9-13z"/>
<path fill="#ff7500" class="c" d="M2357 5724l18 27-7-7-18-27z"/>
<path fill="#ff8a00" class="c" d="M2373 5745l18 27-7-7-18-27z"/>
<path fill="#ff8000" class="c" d="M2364 5732l9 13-7-7-9-14z"/>
<path fill="#ff7500" d="M2336 5681l28 51-21-23-27-54z"/>
<path fill="#ff6a00" class="c" d="M2341 5699l9 18-7-8-9-18z"/>
<path fill="#ff6000" class="c" d="M2323 5664l18 35-7-8-18-36z"/>
<path fill="#ff7500" class="c" d="M2339 5690l18 34-7-7-18-36z"/>
<path fill="#ff6a00" class="c" d="M2330 5672l9 18-7-9-9-17z"/>
<path fill="#ff8000" class="c" d="M2336 5681l28 51-7-8-27-52z"/>
<path fill="#ff6a00" d="M2309 5614l27 67-20-26-28-73z"/>
<path fill="#f50" class="c" d="M2293 5590l28 72-5-7-28-73z"/>
<path fill="#ff6a00" class="c" d="M2319 5650l7 18-5-6-7-18z"/>
<path fill="#ff6000" class="c" d="M2299 5598l20 52-5-6-21-54z"/>
<path fill="#ff7500" class="c" d="M2304 5606l27 68-5-6-27-70z"/>
<path fill="#ff8000" class="c" d="M2309 5614l27 67-5-7-27-68z"/>
<path fill="#ff6a00" d="M2282 5524l27 90-21-32-27-106z"/>
<path fill="#ff4a00" class="c" d="M2266 5488l27 102-5-8-27-106z"/>
<path fill="#ff6000" class="c" d="M2271 5500l28 98-6-8-27-102z"/>
<path fill="#ff7500" class="c" d="M2276 5512l28 94-5-8-28-98z"/>
<path fill="#ff8000" class="c" d="M2302 5591l7 23-5-8-7-24z"/>
<path fill="#ff8a00" class="c" d="M2282 5524l20 67-5-9-21-70z"/>
<path fill="#ff7500" d="M2254 5404l28 120-21-48-28-177z"/>
<path fill="#ff4a00" class="c" d="M2259 5447l7 41-5-12-7-44z"/>
<path fill="#ff4000" class="c" d="M2239 5325l20 122-5-15-21-133z"/>
<path fill="#ff6000" class="c" d="M2244 5352l27 148-5-12-27-163z"/>
<path fill="#ff7500" class="c" d="M2270 5479l6 33-5-12-7-37z"/>
<path fill="#ff8000" class="c" d="M2256 5411l14 68-6-16-13-74z"/>
<path fill="#ff8a00" class="c" d="M2249 5378l7 33-5-22-7-37z"/>
<path fill="#ff9500" class="c" d="M2268 5464l14 60-6-12-13-67z"/>
<path fill="#ff9f00" class="c" d="M2261 5434l7 30-5-19-7-34z"/>
<path fill="#fa0" class="c" d="M2254 5404l7 30-5-23-7-33z"/>
<path fill="#ff9f00" d="M2227 5288l27 116-21-105-27-469z"/>
<path fill="#ff4a00" class="c" d="M2232 5230l7 95-6-26-6-117z"/>
<path fill="#ff6a00" class="c" d="M2225 5135l7 95-5-48-7-118z"/>
<path fill="#ff8000" class="c" d="M2218 5040l7 95-5-71-7-117z"/>
<path fill="#ff9f00" class="c" d="M2211 4944l7 96-5-93-7-117z"/>
<path fill="#ff7500" class="c" d="M2237 5278l7 74-5-27-7-95z"/>
<path fill="#ff8000" class="c" d="M2230 5205l7 73-5-48-7-95z"/>
<path fill="#ff9500" class="c" d="M2223 5132l7 73-5-70-7-95z"/>
<path fill="#fa0" class="c" d="M2216 5059l7 73-5-92-7-96z"/>
<path fill="#ff9500" class="c" d="M2242 5327l7 51-5-26-7-74z"/>
<path fill="#ff9f00" class="c" d="M2235 5276l7 51-5-49-7-73z"/>
<path fill="#ffb500" class="c" d="M2228 5225l7 51-5-71-7-73z"/>
<path fill="#ffbf00" class="c" d="M2222 5173l6 52-5-93-7-73z"/>
<path fill="#ffb500" class="c" d="M2247 5375l7 29-5-26-7-51z"/>
<path fill="#ffbf00" class="c" d="M2240 5346l7 29-5-48-7-51z"/>
<path fill="#ffca00" class="c" d="M2234 5317l6 29-5-70-7-51z"/>
<path fill="#ffd400" class="c" d="M2227 5288l7 29-6-92-6-52z"/>
<path fill="#ff9500" d="M2199 5349l28-61-21-458-27 319z"/>
<path fill="#ff9500" class="c" d="M2204 5008l7-64-5-114-7 79z"/>
<path fill="#ff7500" class="c" d="M2197 5072l7-64-5-99-7 80z"/>
<path fill="#ff4a00" class="c" d="M2191 5135l6-63-5-83-7 80z"/>
<path fill="#ff2a00" class="c" d="M2184 5199l7-64-6-66-6 80z"/>
<path fill="#fa0" class="c" d="M2210 5106l6-47-5-115-7 64z"/>
<path fill="#ff9500" class="c" d="M2203 5154l7-48-6-98-7 64z"/>
<path fill="#ff7500" class="c" d="M2196 5202l7-48-6-82-6 63z"/>
<path fill="#f50" class="c" d="M2189 5249l7-47-5-67-7 64z"/>
<path fill="#ffbf00" class="c" d="M2215 5205l7-32-6-114-6 47z"/>
<path fill="#fa0" class="c" d="M2208 5236l7-31-5-99-7 48z"/>
<path fill="#ff9f00" class="c" d="M2201 5268l7-32-5-82-7 48z"/>
<path fill="#ff8a00" class="c" d="M2194 5299l7-31-5-66-7 47z"/>
<path fill="#ffd400" class="c" d="M2220 5303l7-15-5-115-7 32z"/>
<path fill="#ffca00" class="c" d="M2213 5319l7-16-5-98-7 31z"/>
<path fill="#ffbf00" class="c" d="M2206 5334l7-15-5-83-7 32z"/>
<path fill="#ffb500" class="c" d="M2199 5349l7-15-5-66-7 31z"/>
<path fill="#ff4a00" d="M2172 5502l27-153-20-200-28 286z"/>
<path fill="#ff1500" class="c" d="M2170 5325l14-126-5-50-14 143z"/>
<path fill="#ff0b00" class="c" d="M2156 5452l14-127-5-33-14 143z"/>
<path fill="#ff4a00" class="c" d="M2182 5304l7-55-5-50-7 63z"/>
<path fill="#ff4000" class="c" d="M2175 5359l7-55-5-42-7 63z"/>
<path fill="#ff3500" class="c" d="M2168 5414l7-55-5-34-7 64z"/>
<path fill="#ff2a00" class="c" d="M2162 5468l6-54-5-25-7 63z"/>
<path fill="#ff7500" class="c" d="M2187 5346l7-47-5-50-7 55z"/>
<path fill="#ff6a00" class="c" d="M2180 5392l7-46-5-42-7 55z"/>
<path fill="#ff6000" class="c" d="M2174 5439l6-47-5-33-7 55z"/>
<path fill="#ff4a00" class="c" d="M2167 5485l7-46-6-25-6 54z"/>
<path fill="#fa0" class="c" d="M2192 5387l7-38-5-50-7 47z"/>
<path fill="#ff9500" class="c" d="M2186 5425l6-38-5-41-7 46z"/>
<path fill="#ff8000" class="c" d="M2179 5463l7-38-6-33-6 47z"/>
<path fill="#ff6a00" class="c" d="M2172 5502l7-39-5-24-7 46z"/>
<path fill="#ff3500" d="M2144 5627l28-125-21-67-27 157z"/>
<path fill="#ff0b00" class="c" d="M2129 5601l27-149-5-17-27 157z"/>
<path fill="#ff2a00" class="c" d="M2155 5504l7-36-6-16-6 37z"/>
<path fill="#ff2000" class="c" d="M2134 5610l21-106-5-15-21 112z"/>
<path fill="#ff4000" class="c" d="M2146 5585l21-100-5-17-21 106z"/>
<path fill="#ff3500" class="c" d="M2139 5618l7-33-5-11-7 36z"/>
<path fill="#ff6000" class="c" d="M2158 5564l14-62-5-17-14 67z"/>
<path fill="#f50" class="c" d="M2151 5596l7-32-5-12-7 33z"/>
<path fill="#ff4a00" class="c" d="M2144 5627l7-31-5-11-7 33z"/>
<path fill="#ff2a00" d="M2117 5723l27-96-20-35-28 110z"/>
<path fill="#ff0b00" class="c" d="M2102 5707l27-106-5-9-28 110z"/>
<path fill="#ff2000" class="c" d="M2107 5712l27-102-5-9-27 106z"/>
<path fill="#ff3500" class="c" d="M2126 5668l13-50-5-8-14 51z"/>
<path fill="#ff2a00" class="c" d="M2112 5718l14-50-6-7-13 51z"/>
<path fill="#ff4a00" class="c" d="M2138 5651l6-24-5-9-7 25z"/>
<path fill="#ff4000" class="c" d="M2124 5699l14-48-6-8-13 50z"/>
<path fill="#ff3500" class="c" d="M2117 5723l7-24-5-6-7 25z"/>
<path fill="#ff1500" d="M2090 5795l27-72-21-21-27 82z"/>
<path fill="#ff0b00" class="c" d="M2081 5767l21-60-6-5-20 61z"/>
<path fill="#f00" class="c" d="M2074 5787l7-20-5-4-7 21z"/>
<path fill="#ff1500" class="c" d="M2086 5770l21-58-5-5-21 60z"/>
<path fill="#ff0b00" class="c" d="M2079 5790l7-20-5-3-7 20z"/>
<path fill="#ff2a00" class="c" d="M2105 5736l7-18-5-6-7 20z"/>
<path fill="#ff2000" class="c" d="M2091 5774l14-38-5-4-14 38z"/>
<path fill="#ff1500" class="c" d="M2084 5793l7-19-5-4-7 20z"/>
<path fill="#ff3500" class="c" d="M2110 5741l7-18-5-5-7 18z"/>
<path fill="#ff2a00" class="c" d="M2097 5777l13-36-5-5-14 38z"/>
<path fill="#ff2000" class="c" d="M2090 5795l7-18-6-3-7 19z"/>
<path fill="#f00" d="M2062 5846l28-51-21-11-27 63z"/>
<path fill="#f00" class="c" d="M2052 5846l27-56-10-6-27 63z"/>
<path fill="#ff0b00" class="c" d="M2076 5821l14-26-11-5-13 28z"/>
<path fill="#f00" class="c" d="M2062 5846l14-25-10-3-14 28z"/>
<path fill="#f40000" d="M2035 5876l27-30-20 1-28 45z"/>
<path fill="#f40000" d="M2007 5895l28-19-21 16-27 31z"/>
<path fill="#f40000" d="M1980 5916l27-21-20 28-28 25z"/>
<path fill="#f40000" d="M1953 5942l27-26-21 32-27 26z"/>
<path fill="#f40000" d="M1925 5974l28-32-21 32-28 29z"/>
<path fill="#f40000" d="M1898 6010l27-36-21 29-27 32z"/>
<path fill="#f40000" d="M1870 6049l28-39-21 25-27 34z"/>
<path fill="#f40000" d="M1843 6089l27-40-20 20-28 35z"/>
<path fill="#f40000" d="M1815 6128l28-39-21 15-27 35z"/>
<path fill="#f40000" d="M1788 6167l27-39-20 11-28 36z"/>
<path fill="#f40000" d="M1761 6204l27-37-21 8-27 34z"/>
<path fill="#f40000" d="M1733 6240l28-36-21 5-27 34z"/>
<path fill="#f40000" d="M1706 6275l27-35-20 3-28 33z"/>
<path fill="#f40000" d="M1678 6308l28-33-21 1-27 32z"/>
<path fill="#f40000" d="M1651 6340l27-32-20 0-28 31z"/>
<path fill="#f00" d="M1624 6371l27-31-21-1-27 30z"/>
<path fill="#ff0b00" d="M1596 6401l28-30-21-2-28 29z"/>
<path fill="#ff0b00" d="M1569 6430l27-29-21-3-27 28z"/>
<path fill="#ff1500" d="M1541 6458l28-28-21-4-27 27z"/>
<path fill="#ff1500" d="M1514 6485l27-27-20-5-28 27z"/>
<path fill="#ff2000" d="M1486 6511l28-26-21-5-27 26z"/>
<path class="m" d="M3104 5888l-21-24M2994 5872l-20-28M2857 5853l-20-34M2720 5854l-20-39M2583 5870l-21-31M2446 5827l-21-22M2309 5614l-21-32M2172 5502l-21-67M2035 5876l-21 16M1898 6010l-21 25M1761 6204l-21 5M1624 6371l-21-2M1486 6511l-20-5"/>
<path fill="#ffbf00" d="M3097 5909l28 3-21-24-27-4z"/>
<path fill="#ffca00" d="M3070 5906l27 3-20-25-28-4z"/>
<path fill="#ffca00" d="M3043 5902l27 4-21-26-27-4z"/>
<path fill="#ffd400" d="M3015 5899l28 3-21-26-28-4z"/>
<path fill="#ffd400" d="M2988 5896l27 3-21-27-27-5z"/>
<path fill="#ffd400" d="M2960 5893l28 3-21-29-27-4z"/>
<path fill="#ffdf00" d="M2933 5891l27 2-20-30-28-4z"/>
<path fill="#ffdf00" d="M2905 5888l28 3-21-32-27-3z"/>
<path fill="#ffea00" d="M2878 5887l27 1-20-32-28-3z"/>
<path fill="#ffea00" d="M2851 5886l27 1-21-34-27-2z"/>
<path fill="#ffea00" d="M2823 5885l28 1-21-35-27-1z"/>
<path fill="#ffea00" d="M2796 5886l27-1-20-35-28 0z"/>
<path fill="#fff400" d="M2768 5888l28-2-21-36-27 1z"/>
<path fill="#fff400" d="M2741 5890l27-2-20-37-28 3z"/>
<path fill="#fff400" d="M2714 5893l27-3-21-36-27 3z"/>
<path fill="#fff400" d="M2686 5896l28-3-21-36-28 4z"/>
<path fill="#ffea00" d="M2659 5899l27-3-21-35-27 4z"/>
<path fill="#ffea00" d="M2631 5900l28-1-21-34-27 3z"/>
<path fill="#ffdf00" d="M2604 5901l27-1-20-32-28 2z"/>
<path fill="#ffdf00" d="M2576 5898l28 3-21-31-27 0z"/>
<path fill="#ffd400" d="M2549 5893l27 5-20-28-28-4z"/>
<path fill="#ffca00" d="M2522 5884l27 9-21-27-27-8z"/>
<path fill="#ffb500" d="M2494 5870l28 14-21-26-28-13z"/>
<path fill="#fa0" d="M2467 5852l27 18-21-25-27-18z"/>
<path fill="#fa0" class="c" d="M2456 5840l28 18-11-13-27-18z"/>
<path fill="#ffb500" class="c" d="M2481 5861l13 9-10-12-14-9z"/>
<path fill="#fa0" class="c" d="M2467 5852l14 9-11-12-14-9z"/>
<path fill="#fa0" d="M2439 5829l28 23-21-25-27-24z"/>
<path fill="#ff9f00" class="c" d="M2429 5816l27 24-10-13-27-24z"/>
<path fill="#fa0" class="c" d="M2439 5829l28 23-11-12-27-24z"/>
<path fill="#ff9f00" d="M2412 5800l27 29-20-26-28-31z"/>
<path fill="#ff9500" class="c" d="M2402 5786l27 30-10-13-28-31z"/>
<path fill="#fa0" class="c" d="M2426 5815l13 14-10-13-14-15z"/>
<path fill="#ff9f00" class="c" d="M2412 5800l14 15-11-14-13-15z"/>
<path fill="#ff9f00" d="M2385 5764l27 36-21-28-27-40z"/>
<path fill="#ff9500" class="c" d="M2374 5748l28 38-11-14-27-40z"/>
<path fill="#ff9f00" class="c" d="M2385 5764l27 36-10-14-28-38z"/>
<path fill="#ff9f00" d="M2357 5720l28 44-21-32-28-51z"/>
<path fill="#ff9500" class="c" d="M2347 5700l27 48-10-16-28-51z"/>
<path fill="#ff9f00" class="c" d="M2371 5742l14 22-11-16-14-24z"/>
<path fill="#fa0" class="c" d="M2357 5720l14 22-11-18-13-24z"/>
<path fill="#ff9f00" d="M2330 5666l27 54-21-39-27-67z"/>
<path fill="#ff8a00" class="c" d="M2334 5673l9 21-7-13-9-23z"/>
<path fill="#ff9500" class="c" d="M2316 5631l18 42-7-15-18-44z"/>
<path fill="#ff9f00" class="c" d="M2323 5649l27 58-7-13-27-63z"/>
<path fill="#fa0" class="c" d="M2339 5684l18 36-7-13-18-39z"/>
<path fill="#ffb500" class="c" d="M2330 5666l9 18-7-16-9-19z"/>
<path fill="#fa0" d="M2302 5604l28 62-21-52-27-90z"/>
<path fill="#ff9500" class="c" d="M2294 5565l20 62-5-13-21-67z"/>
<path fill="#ff9f00" class="c" d="M2287 5544l7 21-6-18-6-23zM2306 5602l13 38-5-13-14-41z"/>
<path fill="#fa0" class="c" d="M2292 5564l14 38-6-16-13-42zM2318 5636l7 17-6-13-6-19z"/>
<path fill="#ffb500" class="c" d="M2297 5584l21 52-5-15-21-57zM2323 5651l7 15-5-13-7-17z"/>
<path fill="#ffbf00" class="c" d="M2309 5619l14 32-5-15-14-35z"/>
<path fill="#ffca00" class="c" d="M2302 5604l7 15-5-18-7-17z"/>
<path fill="#ffbf00" d="M2275 5539l27 65-20-80-28-120z"/>
<path fill="#ff9f00" class="c" d="M2280 5518l7 26-5-20-7-30z"/>
<path fill="#fa0" class="c" d="M2273 5491l7 27-5-24-7-30z"/>
<path fill="#ffb500" class="c" d="M2266 5464l7 27-5-27-7-30z"/>
<path fill="#ffbf00" class="c" d="M2259 5438l7 26-5-30-7-30z"/>
<path fill="#ffb500" class="c" d="M2285 5541l7 23-5-20-7-26z"/>
<path fill="#ffbf00" class="c" d="M2271 5495l14 46-5-23-14-54z"/>
<path fill="#ffca00" class="c" d="M2265 5472l6 23-5-31-7-26z"/>
<path fill="#ffbf00" class="c" d="M2290 5564l7 20-5-20-7-23z"/>
<path fill="#ffca00" class="c" d="M2277 5525l13 39-5-23-14-46z"/>
<path fill="#ffd400" class="c" d="M2270 5506l7 19-6-30-6-23z"/>
<path fill="#ffca00" class="c" d="M2295 5588l7 16-5-20-7-20z"/>
<path fill="#ffd400" class="c" d="M2282 5555l13 33-5-24-13-39z"/>
<path fill="#ffdf00" class="c" d="M2275 5539l7 16-5-30-7-19z"/>
<path fill="#ffdf00" d="M2247 5502l28 37-21-135-27-116z"/>
<path fill="#ffca00" class="c" d="M2252 5419l9 30-7-45-9-39z"/>
<path fill="#ffd400" class="c" d="M2243 5389l9 30-7-54-9-38z"/>
<path fill="#ffdf00" class="c" d="M2234 5359l9 30-7-62-9-39z"/>
<path fill="#ffd400" class="c" d="M2259 5473l9 21-7-45-9-30z"/>
<path fill="#ffdf00" class="c" d="M2250 5452l9 21-7-54-9-30z"/>
<path fill="#ffea00" class="c" d="M2241 5431l9 21-7-63-9-30z"/>
<path fill="#ffdf00" class="c" d="M2266 5527l9 12-7-45-9-21z"/>
<path fill="#ffea00" class="c" d="M2247 5502l19 25-7-54-18-42z"/>
<path fill="#ffdf00" d="M2220 5528l27-26-20-214-28 61z"/>
<path fill="#ffdf00" class="c" d="M2223 5417l14-22-10-107-14 31z"/>
<path fill="#ffd400" class="c" d="M2210 5439l13-22-10-98-14 30z"/>
<path fill="#ffea00" class="c" d="M2220 5528l27-26-10-107-27 44z"/>
<path fill="#ffbf00" d="M2193 5603l27-75-21-179-27 153z"/>
<path fill="#ffca00" class="c" d="M2198 5427l7-33-6-45-7 38z"/>
<path fill="#ffb500" class="c" d="M2191 5460l7-33-6-40-6 38z"/>
<path fill="#ff9f00" class="c" d="M2184 5494l7-34-5-35-7 38z"/>
<path fill="#ff8a00" class="c" d="M2177 5527l7-33-5-31-7 39z"/>
<path fill="#ffd400" class="c" d="M2203 5467l7-28-5-45-7 33z"/>
<path fill="#ffbf00" class="c" d="M2196 5495l7-28-5-40-7 33z"/>
<path fill="#fa0" class="c" d="M2189 5524l7-29-5-35-7 34z"/>
<path fill="#ff9f00" class="c" d="M2182 5552l7-28-5-30-7 33z"/>
<path fill="#ffd400" class="c" d="M2208 5507l7-24-5-44-7 28z"/>
<path fill="#ffca00" class="c" d="M2201 5530l7-23-5-40-7 28z"/>
<path fill="#ffbf00" class="c" d="M2194 5554l7-24-5-35-7 29z"/>
<path fill="#fa0" class="c" d="M2187 5577l7-23-5-30-7 28z"/>
<path fill="#ffdf00" class="c" d="M2213 5547l7-19-5-45-7 24z"/>
<path fill="#ffd400" class="c" d="M2206 5565l7-18-5-40-7 23z"/>
<path fill="#ffca00" class="c" d="M2199 5584l7-19-5-35-7 24z"/>
<path fill="#ffbf00" class="c" d="M2193 5603l6-19-5-30-7 23z"/>
<path fill="#ff8a00" d="M2165 5685l28-82-21-101-28 125z"/>
<path fill="#ff7500" class="c" d="M2163 5584l14-57-5-25-14 62z"/>
<path fill="#ff6a00" class="c" d="M2157 5613l6-29-5-20-7 32z"/>
<path fill="#ff6000" class="c" d="M2150 5642l7-29-6-17-7 31z"/>
<path fill="#ff8a00" class="c" d="M2175 5578l7-26-5-25-7 28z"/>
<path fill="#ff8000" class="c" d="M2162 5630l13-52-5-23-13 58z"/>
<path fill="#ff7500" class="c" d="M2155 5656l7-26-5-17-7 29z"/>
<path fill="#ff9f00" class="c" d="M2181 5601l6-24-5-25-7 26z"/>
<path fill="#ff9500" class="c" d="M2174 5624l7-23-6-23-6 26z"/>
<path fill="#ff8a00" class="c" d="M2167 5647l7-23-5-20-7 26z"/>
<path fill="#ff8000" class="c" d="M2160 5671l7-24-5-17-7 26z"/>
<path fill="#ffb500" class="c" d="M2186 5623l7-20-6-26-6 24z"/>
<path fill="#fa0" class="c" d="M2179 5644l7-21-5-22-7 23z"/>
<path fill="#ff9f00" class="c" d="M2172 5665l7-21-5-20-7 23z"/>
<path fill="#ff9500" class="c" d="M2165 5685l7-20-5-18-7 24z"/>
<path fill="#ff6a00" d="M2138 5757l27-72-21-58-27 96z"/>
<path fill="#f50" class="c" d="M2136 5686l14-44-6-15-13 48z"/>
<path fill="#ff4a00" class="c" d="M2122 5731l14-45-5-11-14 48z"/>
<path fill="#ff6a00" class="c" d="M2148 5677l7-21-5-14-7 22z"/>
<path fill="#ff6000" class="c" d="M2134 5719l14-42-5-13-14 45z"/>
<path fill="#f50" class="c" d="M2127 5740l7-21-5-10-7 22z"/>
<path fill="#ff8000" class="c" d="M2153 5690l7-19-5-15-7 21z"/>
<path fill="#ff7500" class="c" d="M2146 5710l7-20-5-13-7 21z"/>
<path fill="#ff6a00" class="c" d="M2133 5749l13-39-5-12-14 42z"/>
<path fill="#ff8a00" class="c" d="M2152 5721l13-36-5-14-14 39z"/>
<path fill="#ff8000" class="c" d="M2145 5739l7-18-6-11-7 19z"/>
<path fill="#ff7500" class="c" d="M2138 5757l7-18-6-10-6 20z"/>
<path fill="#ff4000" d="M2110 5809l28-52-21-34-27 72z"/>
<path fill="#ff4000" class="c" d="M2115 5748l7-17-5-8-7 18z"/>
<path fill="#ff3500" class="c" d="M2109 5765l6-17-5-7-7 18z"/>
<path fill="#ff2a00" class="c" d="M2095 5799l14-34-6-6-13 36z"/>
<path fill="#ff4a00" class="c" d="M2121 5755l6-15-5-9-7 17z"/>
<path fill="#ff4000" class="c" d="M2114 5771l7-16-6-7-6 17z"/>
<path fill="#ff3500" class="c" d="M2107 5787l7-16-5-6-7 17z"/>
<path fill="#ff2a00" class="c" d="M2100 5802l7-15-5-5-7 17z"/>
<path fill="#ff6000" class="c" d="M2126 5763l7-14-6-9-6 15z"/>
<path fill="#ff4a00" class="c" d="M2119 5777l7-14-5-8-7 16z"/>
<path fill="#ff4000" class="c" d="M2112 5791l7-14-5-6-7 16z"/>
<path fill="#ff2a00" class="c" d="M2105 5806l7-15-5-4-7 15z"/>
<path fill="#ff6a00" class="c" d="M2131 5770l7-13-5-8-7 14z"/>
<path fill="#f50" class="c" d="M2124 5783l7-13-5-7-7 14z"/>
<path fill="#ff4000" class="c" d="M2117 5796l7-13-5-6-7 14z"/>
<path fill="#ff3500" class="c" d="M2110 5809l7-13-5-5-7 15z"/>
<path fill="#ff0b00" d="M2083 5836l27-27-20-14-28 51z"/>
<path fill="#ff1500" class="c" d="M2087 5814l10-14-7-5-9 17z"/>
<path fill="#ff0b00" class="c" d="M2078 5828l9-14-6-2-10 17z"/>
<path fill="#f00" class="c" d="M2069 5842l9-14-7 1-9 17z"/>
<path fill="#ff2000" class="c" d="M2094 5816l9-12-6-4-10 14z"/>
<path fill="#ff0b00" class="c" d="M2085 5827l9-11-7-2-9 14z"/>
<path fill="#f00" class="c" d="M2076 5839l9-12-7 1-9 14z"/>
<path fill="#ff2000" class="c" d="M2101 5818l9-9-7-5-9 12z"/>
<path fill="#ff0b00" class="c" d="M2092 5827l9-9-7-2-9 11z"/>
<path fill="#f00" class="c" d="M2083 5836l9-9-7 0-9 12z"/>
<path fill="#f40000" d="M2056 5845l27-9-21 10-27 30z"/>
<path fill="#f40000" d="M2028 5854l28-9-21 31-28 19z"/>
<path fill="#f40000" d="M2001 5871l27-17-21 41-27 21z"/>
<path fill="#f40000" d="M1973 5900l28-29-21 45-27 26z"/>
<path fill="#f40000" d="M1946 5938l27-38-20 42-28 32z"/>
<path fill="#f40000" d="M1918 5982l28-44-21 36-27 36z"/>
<path fill="#f40000" d="M1891 6027l27-45-20 28-28 39z"/>
<path fill="#f40000" d="M1864 6073l27-46-21 22-27 40z"/>
<path fill="#f40000" d="M1836 6117l28-44-21 16-28 39z"/>
<path fill="#f40000" d="M1809 6159l27-42-21 11-27 39z"/>
<path fill="#f40000" d="M1781 6199l28-40-21 8-27 37z"/>
<path fill="#f40000" d="M1754 6238l27-39-20 5-28 36z"/>
<path fill="#f40000" d="M1727 6274l27-36-21 2-27 35z"/>
<path fill="#f40000" d="M1699 6309l28-35-21 1-28 33z"/>
<path fill="#f40000" d="M1672 6342l27-33-21-1-27 32z"/>
<path fill="#f00" d="M1644 6373l28-31-21-2-27 31z"/>
<path fill="#ff0b00" d="M1617 6404l27-31-20-2-28 30z"/>
<path fill="#ff0b00" d="M1589 6434l28-30-21-3-27 29z"/>
<path fill="#ff1500" d="M1562 6462l27-28-20-4-28 28z"/>
<path fill="#ff1500" d="M1535 6490l27-28-21-4-27 27z"/>
<path fill="#ff2000" d="M1507 6517l28-27-21-5-28 26z"/>
<path class="m" d="M3125 5912l-21-24M3015 5899l-21-27M2878 5887l-21-34M2741 5890l-21-36M2604 5901l-21-31M2467 5852l-21-25M2330 5666l-21-52M2193 5603l-21-101M2056 5845l-21 31M1918 5982l-20 28M1781 6199l-20 5M1644 6373l-20-2M1507 6517l-21-6"/>
<path fill="#ffbf00" d="M3118 5933l28 3-21-24-28-3z"/>
<path fill="#ffca00" d="M3091 5931l27 2-21-24-27-3z"/>
<path fill="#ffca00" d="M3063 5929l28 2-21-25-27-4z"/>
<path fill="#ffd400" d="M3036 5927l27 2-20-27-28-3z"/>
<path fill="#ffd400" d="M3008 5925l28 2-21-28-27-3z"/>
<path fill="#ffd400" d="M2981 5923l27 2-20-29-28-3z"/>
<path fill="#ffdf00" d="M2954 5921l27 2-21-30-27-2z"/>
<path fill="#ffdf00" d="M2926 5920l28 1-21-30-28-3z"/>
<path fill="#ffdf00" d="M2899 5919l27 1-21-32-27-1z"/>
<path fill="#ffea00" d="M2871 5919l28 0-21-32-27-1z"/>
<path fill="#ffea00" d="M2844 5919l27 0-20-33-28-1z"/>
<path fill="#ffea00" d="M2817 5920l27-1-21-34-27 1z"/>
<path fill="#ffea00" d="M2789 5922l28-2-21-34-28 2z"/>
<path fill="#ffea00" d="M2762 5924l27-2-21-34-27 2z"/>
<path fill="#ffea00" d="M2734 5927l28-3-21-34-27 3z"/>
<path fill="#ffea00" d="M2707 5929l27-2-20-34-28 3z"/>
<path fill="#ffea00" d="M2679 5931l28-2-21-33-27 3z"/>
<path fill="#ffdf00" d="M2652 5931l27 0-20-32-28 1z"/>
<path fill="#ffdf00" d="M2625 5930l27 1-21-31-27 1z"/>
<path fill="#ffd400" d="M2597 5927l28 3-21-29-28-3z"/>
<path fill="#ffd400" d="M2570 5920l27 7-21-29-27-5z"/>
<path fill="#ffca00" d="M2542 5911l28 9-21-27-27-9z"/>
<path fill="#ffbf00" d="M2515 5897l27 14-20-27-28-14z"/>
<path fill="#ffb500" d="M2488 5880l27 17-21-27-27-18z"/>
<path fill="#ffb500" d="M2460 5859l28 21-21-28-28-23z"/>
<path fill="#ffb500" d="M2433 5834l27 25-21-30-27-29z"/>
<path fill="#ffb500" class="c" d="M2422 5817l28 27-11-15-27-29zM2446 5846l14 13-10-15-14-14z"/>
<path fill="#ffbf00" class="c" d="M2433 5834l13 12-10-16-14-13z"/>
<path fill="#ffb500" d="M2405 5803l28 31-21-34-27-36z"/>
<path fill="#ffb500" class="c" d="M2395 5784l27 33-10-17-27-36z"/>
<path fill="#ffbf00" class="c" d="M2405 5803l28 31-11-17-27-33z"/>
<path fill="#ffbf00" d="M2378 5768l27 35-20-39-28-44z"/>
<path fill="#ffb500" class="c" d="M2368 5744l27 40-10-20-28-44z"/>
<path fill="#ffbf00" class="c" d="M2392 5785l13 18-10-19-14-20z"/>
<path fill="#ffca00" class="c" d="M2378 5768l14 17-11-21-13-20z"/>
<path fill="#ffca00" d="M2350 5728l28 40-21-48-27-54z"/>
<path fill="#ffbf00" class="c" d="M2340 5697l28 47-11-24-27-54z"/>
<path fill="#ffca00" class="c" d="M2364 5748l14 20-10-24-14-24z"/>
<path fill="#ffd400" class="c" d="M2350 5728l14 20-10-28-14-23z"/>
<path fill="#ffd400" d="M2323 5687l27 41-20-62-28-62z"/>
<path fill="#ffca00" class="c" d="M2318 5650l19 37-7-21-19-41z"/>
<path fill="#ffd400" class="c" d="M2309 5631l9 19-7-25-9-21z"/>
<path fill="#ffca00" class="c" d="M2334 5691l10 16-7-20-10-19z"/>
<path fill="#ffd400" class="c" d="M2316 5659l18 32-7-23-18-37zM2341 5714l9 14-6-21-10-16z"/>
<path fill="#ffdf00" class="c" d="M2323 5687l18 27-7-23-18-32z"/>
<path fill="#ffea00" d="M2296 5653l27 34-21-83-27-65z"/>
<path fill="#ffdf00" class="c" d="M2299 5621l14 24-11-41-13-32z"/>
<path fill="#ffea00" class="c" d="M2285 5596l14 25-10-49-14-33zM2296 5653l27 34-10-42-28-49z"/>
<path fill="#fff400" d="M2268 5638l28 15-21-114-28-37z"/>
<path fill="#fff400" d="M2241 5655l27-17-21-136-27 26z"/>
<path fill="#fff400" class="c" d="M2230 5591l28-21-11-68-27 26zM2254 5647l14-9-10-68-14 11z"/>
<path fill="#ff0" class="c" d="M2241 5655l13-8-10-66-14 10z"/>
<path fill="#fff400" d="M2213 5697l28-42-21-127-27 75z"/>
<path fill="#ffea00" class="c" d="M2218 5576l7-16-5-32-7 19z"/>
<path fill="#ffdf00" class="c" d="M2212 5593l6-17-5-29-7 18z"/>
<path fill="#ffd400" class="c" d="M2198 5626l14-33-6-28-13 38z"/>
<path fill="#fff400" class="c" d="M2224 5606l6-15-5-31-7 16z"/>
<path fill="#ffea00" class="c" d="M2210 5635l14-29-6-30-13 34z"/>
<path fill="#ffdf00" class="c" d="M2203 5650l7-15-5-25-7 16z"/>
<path fill="#ff0" class="c" d="M2229 5636l7-13-6-32-6 15z"/>
<path fill="#fff400" class="c" d="M2208 5673l21-37-5-30-21 44z"/>
<path fill="#ff0" class="c" d="M2213 5697l28-42-5-32-28 50z"/>
<path fill="#ffd400" d="M2186 5748l27-51-20-94-28 82z"/>
<path fill="#ffca00" class="c" d="M2191 5645l7-19-5-23-7 20z"/>
<path fill="#ffbf00" class="c" d="M2184 5664l7-19-5-22-7 21z"/>
<path fill="#ffb500" class="c" d="M2177 5682l7-18-5-20-7 21z"/>
<path fill="#fa0" class="c" d="M2170 5701l7-19-5-17-7 20z"/>
<path fill="#ffd400" class="c" d="M2196 5667l7-17-5-24-7 19z"/>
<path fill="#ffca00" class="c" d="M2189 5683l7-16-5-22-7 19z"/>
<path fill="#ffbf00" class="c" d="M2176 5717l13-34-5-19-14 37z"/>
<path fill="#ffea00" class="c" d="M2201 5688l7-15-5-23-7 17z"/>
<path fill="#ffdf00" class="c" d="M2194 5703l7-15-5-21-7 16z"/>
<path fill="#ffd400" class="c" d="M2188 5718l6-15-5-20-7 17z"/>
<path fill="#ffca00" class="c" d="M2181 5733l7-15-6-18-6 17z"/>
<path fill="#ff0" class="c" d="M2207 5710l6-13-5-24-7 15z"/>
<path fill="#fff400" class="c" d="M2200 5723l7-13-6-22-7 15z"/>
<path fill="#ffea00" class="c" d="M2193 5736l7-13-6-20-6 15z"/>
<path fill="#ffdf00" class="c" d="M2186 5748l7-12-5-18-7 15z"/>
<path fill="#fa0" d="M2159 5793l27-45-21-63-27 72z"/>
<path fill="#ff9f00" class="c" d="M2164 5717l6-16-5-16-7 18z"/>
<path fill="#ff9500" class="c" d="M2157 5734l7-17-6-14-6 18z"/>
<path fill="#ff8a00" class="c" d="M2143 5766l14-32-5-13-14 36z"/>
<path fill="#ffb500" class="c" d="M2169 5731l7-14-6-16-6 16z"/>
<path fill="#fa0" class="c" d="M2162 5746l7-15-5-14-7 17z"/>
<path fill="#ff9f00" class="c" d="M2155 5760l7-14-5-12-7 16z"/>
<path fill="#ff9500" class="c" d="M2148 5775l7-15-5-10-7 16z"/>
<path fill="#ffbf00" class="c" d="M2174 5745l7-12-5-16-7 14z"/>
<path fill="#ffb500" class="c" d="M2167 5758l7-13-5-14-7 15z"/>
<path fill="#fa0" class="c" d="M2160 5771l7-13-5-12-7 14z"/>
<path fill="#ff9f00" class="c" d="M2153 5784l7-13-5-11-7 15z"/>
<path fill="#ffd400" class="c" d="M2179 5760l7-12-5-15-7 12z"/>
<path fill="#ffca00" class="c" d="M2172 5771l7-11-5-15-7 13z"/>
<path fill="#ffbf00" class="c" d="M2165 5782l7-11-5-13-7 13z"/>
<path fill="#ffb500" class="c" d="M2159 5793l6-11-5-11-7 13z"/>
<path fill="#f50" d="M2131 5814l28-21-21-36-28 52z"/>
<path fill="#ff7500" class="c" d="M2136 5777l7-11-5-9-7 13z"/>
<path fill="#ff6000" class="c" d="M2129 5788l7-11-5-7-7 13z"/>
<path fill="#ff4a00" class="c" d="M2122 5799l7-11-5-5-7 13z"/>
<path fill="#ff2a00" class="c" d="M2116 5810l6-11-5-3-7 13z"/>
<path fill="#ff8000" class="c" d="M2141 5784l7-9-5-9-7 11z"/>
<path fill="#ff6000" class="c" d="M2134 5793l7-9-5-7-7 11z"/>
<path fill="#ff4000" class="c" d="M2128 5802l6-9-5-5-7 11z"/>
<path fill="#ff2a00" class="c" d="M2121 5811l7-9-6-3-6 11z"/>
<path fill="#ff8a00" class="c" d="M2147 5791l6-7-5-9-7 9z"/>
<path fill="#ff6a00" class="c" d="M2140 5798l7-7-6-7-7 9z"/>
<path fill="#ff4000" class="c" d="M2133 5805l7-7-6-5-6 9z"/>
<path fill="#ff2000" class="c" d="M2126 5813l7-8-5-3-7 9z"/>
<path fill="#ff9500" class="c" d="M2152 5798l7-5-6-9-6 7z"/>
<path fill="#ff6a00" class="c" d="M2145 5803l7-5-5-7-7 7z"/>
<path fill="#ff4000" class="c" d="M2138 5808l7-5-5-5-7 7z"/>
<path fill="#ff1500" class="c" d="M2131 5814l7-6-5-3-7 8z"/>
<path fill="#f00" d="M2104 5810l27 4-21-5-27 27z"/>
<path fill="#ff1500" class="c" d="M2108 5816l9-5-7-2-9 9z"/>
<path fill="#ff0b00" class="c" d="M2099 5822l9-6-7 2-9 9z"/>
<path fill="#f00" class="c" d="M2090 5827l9-5-7 5-9 9z"/>
<path fill="#ff0b00" class="c" d="M2115 5814l9-2-7-1-9 5z"/>
<path fill="#f00" class="c" d="M2097 5819l18-5-7 2-18 11zM2113 5811l18 3-7-2-18 4z"/>
<path fill="#f40000" class="c" d="M2104 5810l9 1-7 5-9 3z"/>
<path fill="#f40000" d="M2076 5798l28 12-21 26-27 9z"/>
<path fill="#f40000" d="M2049 5795l27 3-20 47-28 9z"/>
<path fill="#f40000" d="M2021 5811l28-16-21 59-27 17z"/>
<path fill="#f40000" d="M1994 5847l27-36-20 60-28 29z"/>
<path fill="#f40000" d="M1967 5896l27-49-21 53-27 38z"/>
<path fill="#f40000" d="M1939 5951l28-55-21 42-28 44z"/>
<path fill="#f40000" d="M1912 6005l27-54-21 31-27 45z"/>
<path fill="#f40000" d="M1884 6058l28-53-21 22-27 46z"/>
<path fill="#f40000" d="M1857 6107l27-49-20 15-28 44z"/>
<path fill="#f40000" d="M1830 6153l27-46-21 10-27 42z"/>
<path fill="#f40000" d="M1802 6196l28-43-21 6-28 40z"/>
<path fill="#f40000" d="M1775 6236l27-40-21 3-27 39z"/>
<path fill="#f40000" d="M1747 6274l28-38-21 2-27 36z"/>
<path fill="#f40000" d="M1720 6309l27-35-20 0-28 35z"/>
<path fill="#f40000" d="M1692 6343l28-34-21 0-27 33z"/>
<path fill="#f00" d="M1665 6376l27-33-20-1-28 31z"/>
<path fill="#ff0b00" d="M1638 6407l27-31-21-3-27 31z"/>
<path fill="#ff0b00" d="M1610 6437l28-30-21-3-28 30z"/>
<path fill="#ff1500" d="M1583 6467l27-30-21-3-27 28z"/>
<path fill="#ff1500" d="M1555 6495l28-28-21-5-27 28z"/>
<path fill="#ff2000" d="M1528 6523l27-28-20-5-28 27z"/>
<path class="m" d="M3146 5936l-21-24M3036 5927l-21-28M2899 5919l-21-32M2762 5924l-21-34M2625 5930l-21-29M2488 5880l-21-28M2350 5728l-20-62M2213 5697l-20-94M2076 5798l-20 47M1939 5951l-21 31M1802 6196l-21 3M1665 6376l-21-3M1528 6523l-21-6"/>
<path fill="#ffca00" d="M3139 5958l27 1-20-23-28-3z"/>
<path fill="#ffca00" d="M3111 5957l28 1-21-25-27-2z"/>
<path fill="#ffca00" d="M3084 5955l27 2-20-26-28-2z"/>
<path fill="#ffd400" d="M3057 5954l27 1-21-26-27-2z"/>
<path fill="#ffd400" d="M3029 5952l28 2-21-27-28-2z"/>
<path fill="#ffd400" d="M3002 5951l27 1-21-27-27-2z"/>
<path fill="#ffdf00" d="M2974 5951l28 0-21-28-27-2z"/>
<path fill="#ffdf00" d="M2947 5950l27 1-20-30-28-1z"/>
<path fill="#ffdf00" d="M2920 5950l27 0-21-30-27-1z"/>
<path fill="#ffdf00" d="M2892 5951l28-1-21-31-28 0z"/>
<path fill="#ffea00" d="M2865 5952l27-1-21-32-27 0z"/>
<path fill="#ffea00" d="M2837 5953l28-1-21-33-27 1z"/>
<path fill="#ffea00" d="M2810 5955l27-2-20-33-28 2z"/>
<path fill="#ffea00" d="M2782 5957l28-2-21-33-27 2z"/>
<path fill="#ffea00" d="M2755 5959l27-2-20-33-28 3z"/>
<path fill="#ffea00" d="M2728 5961l27-2-21-32-27 2z"/>
<path fill="#ffdf00" d="M2700 5961l28 0-21-32-28 2z"/>
<path fill="#ffdf00" d="M2673 5961l27 0-21-30-27 0z"/>
<path fill="#ffdf00" d="M2645 5959l28 2-21-30-27-1z"/>
<path fill="#ffd400" d="M2618 5955l27 4-20-29-28-3z"/>
<path fill="#ffd400" d="M2591 5948l27 7-21-28-27-7z"/>
<path fill="#ffca00" d="M2563 5939l28 9-21-28-28-9z"/>
<path fill="#ffca00" d="M2536 5927l27 12-21-28-27-14z"/>
<path fill="#ffca00" d="M2508 5911l28 16-21-30-27-17z"/>
<path fill="#ffbf00" d="M2481 5893l27 18-20-31-28-21z"/>
<path fill="#ffca00" d="M2453 5871l28 22-21-34-27-25z"/>
<path fill="#ffca00" d="M2426 5846l27 25-20-37-28-31z"/>
<path fill="#ffca00" class="c" d="M2416 5824l27 28-10-18-28-31zM2440 5858l13 13-10-19-14-14z"/>
<path fill="#ffd400" class="c" d="M2426 5846l14 12-11-20-13-14z"/>
<path fill="#ffd400" d="M2399 5819l27 27-21-43-27-35z"/>
<path fill="#ffca00" class="c" d="M2402 5809l14 15-11-21-13-18z"/>
<path fill="#ffd400" class="c" d="M2388 5793l14 16-10-24-14-17zM2399 5819l27 27-10-22-28-31z"/>
<path fill="#ffdf00" d="M2371 5790l28 29-21-51-28-40z"/>
<path fill="#ffd400" class="c" d="M2375 5776l13 17-10-25-14-20z"/>
<path fill="#ffdf00" class="c" d="M2361 5759l14 17-11-28-14-20zM2371 5790l28 29-11-26-27-34z"/>
<path fill="#ffea00" d="M2344 5764l27 26-21-62-27-41z"/>
<path fill="#ffdf00" class="c" d="M2347 5742l14 17-11-31-13-21z"/>
<path fill="#ffea00" class="c" d="M2333 5726l14 16-10-35-14-20zM2344 5764l27 26-10-31-28-33z"/>
<path fill="#fff400" d="M2316 5745l28 19-21-77-27-34z"/>
<path fill="#fff400" d="M2289 5740l27 5-20-92-28-15z"/>
<path fill="#ffff10" d="M2262 5751l27-11-21-102-27 17z"/>
<path fill="#ff0" class="c" d="M2265 5696l14-7-11-51-14 9z"/>
<path fill="#ffff10" class="c" d="M2251 5703l14-7-11-49-13 8zM2275 5745l14-5-10-51-14 7z"/>
<path fill="#ffff20" class="c" d="M2262 5751l13-6-10-49-14 7z"/>
<path fill="#ffff40" d="M2234 5776l28-25-21-96-28 42z"/>
<path fill="#ffff10" class="c" d="M2232 5698l14-19-5-24-14 21z"/>
<path fill="#ffff20" class="c" d="M2219 5717l13-19-5-22-14 21zM2244 5711l7-8-5-24-7 9z"/>
<path fill="#ffff30" class="c" d="M2231 5728l13-17-5-23-14 19z"/>
<path fill="#ffff40" class="c" d="M2224 5737l7-9-6-21-6 10z"/>
<path fill="#ffff30" class="c" d="M2249 5734l7-7-5-24-7 8z"/>
<path fill="#ffff40" class="c" d="M2243 5742l6-8-5-23-7 9z"/>
<path fill="#ffff50" class="c" d="M2236 5749l7-7-6-22-6 8z"/>
<path fill="#ffff60" class="c" d="M2229 5756l7-7-5-21-7 9z"/>
<path fill="#ffff40" class="c" d="M2255 5757l7-6-6-24-7 7z"/>
<path fill="#ffff50" class="c" d="M2248 5764l7-7-6-23-6 8z"/>
<path fill="#ffff60" class="c" d="M2241 5770l7-6-5-22-7 7z"/>
<path fill="#ffff80" class="c" d="M2234 5776l7-6-5-21-7 7z"/>
<path fill="#ffff50" d="M2207 5804l27-28-21-79-27 51z"/>
<path fill="#ffff20" class="c" d="M2212 5728l7-11-6-20-6 13z"/>
<path fill="#ffff10" class="c" d="M2205 5740l7-12-5-18-7 13z"/>
<path fill="#ff0" class="c" d="M2191 5762l14-22-5-17-14 25z"/>
<path fill="#ffff40" class="c" d="M2196 5776l28-39-5-20-28 45z"/>
<path fill="#ffff70" class="c" d="M2208 5782l21-26-5-19-21 29z"/>
<path fill="#ffff80" class="c" d="M2202 5790l6-8-5-16-7 10z"/>
<path fill="#ffff8f" class="c" d="M2227 5783l7-7-5-20-7 9z"/>
<path fill="#ffff9f" class="c" d="M2220 5790l7-7-5-18-7 8z"/>
<path fill="#ffffaf" class="c" d="M2207 5804l13-14-5-17-13 17z"/>
<path fill="#fff400" d="M2179 5818l28-14-21-56-27 45z"/>
<path fill="#fff400" class="c" d="M2184 5771l7-9-5-14-7 12z"/>
<path fill="#ffdf00" class="c" d="M2177 5781l7-10-5-11-7 11z"/>
<path fill="#ffca00" class="c" d="M2171 5790l6-9-5-10-7 11z"/>
<path fill="#ffb500" class="c" d="M2164 5799l7-9-6-8-6 11z"/>
<path fill="#ffff20" class="c" d="M2189 5783l7-7-5-14-7 9z"/>
<path fill="#fff400" class="c" d="M2183 5791l6-8-5-12-7 10z"/>
<path fill="#ffdf00" class="c" d="M2176 5798l7-7-6-10-6 9z"/>
<path fill="#ffbf00" class="c" d="M2169 5805l7-7-5-8-7 9z"/>
<path fill="#ffff60" class="c" d="M2195 5795l7-5-6-14-7 7z"/>
<path fill="#ffff20" class="c" d="M2188 5801l7-6-6-12-6 8z"/>
<path fill="#ffea00" class="c" d="M2181 5806l7-5-5-10-7 7z"/>
<path fill="#ffbf00" class="c" d="M2174 5811l7-5-5-8-7 7z"/>
<path fill="#ffff8f" class="c" d="M2200 5807l7-3-5-14-7 5z"/>
<path fill="#ffff40" class="c" d="M2193 5811l7-4-5-12-7 6z"/>
<path fill="#fff400" class="c" d="M2186 5814l7-3-5-10-7 5z"/>
<path fill="#ffbf00" class="c" d="M2179 5818l7-4-5-8-7 5z"/>
<path fill="#f50" d="M2152 5804l27 14-20-25-28 21z"/>
<path fill="#ff9500" class="c" d="M2157 5802l7-3-5-6-7 5z"/>
<path fill="#ff6a00" class="c" d="M2150 5805l7-3-5-4-7 5z"/>
<path fill="#ff4000" class="c" d="M2143 5808l7-3-5-2-7 5z"/>
<path fill="#ff0b00" class="c" d="M2136 5811l7-3-5 0-7 6z"/>
<path fill="#ff9500" class="c" d="M2162 5806l7-1-5-6-7 3z"/>
<path fill="#ff6a00" class="c" d="M2155 5807l7-1-5-4-7 3z"/>
<path fill="#ff4000" class="c" d="M2148 5808l7-1-5-2-7 3z"/>
<path fill="#ff0b00" class="c" d="M2141 5809l7-1-5 0-7 3z"/>
<path fill="#ff9500" class="c" d="M2167 5810l7 1-5-6-7 1z"/>
<path fill="#ff6a00" class="c" d="M2160 5809l7 1-5-4-7 1z"/>
<path fill="#ff4000" class="c" d="M2154 5808l6 1-5-2-7 1z"/>
<path fill="#ff0b00" class="c" d="M2147 5807l7 1-6 0-7 1z"/>
<path fill="#ff9500" class="c" d="M2172 5814l7 4-5-7-7-1z"/>
<path fill="#ff6a00" class="c" d="M2166 5811l6 3-5-4-7-1z"/>
<path fill="#ff3500" class="c" d="M2159 5808l7 3-6-2-6-1z"/>
<path fill="#ff0b00" class="c" d="M2152 5804l7 4-5 0-7-1z"/>
<path fill="#f40000" d="M2124 5771l28 33-21 10-27-4z"/>
<path fill="#f40000" d="M2097 5733l27 38-20 39-28-12z"/>
<path fill="#f40000" d="M2070 5712l27 21-21 65-27-3z"/>
<path fill="#f40000" d="M2042 5728l28-16-21 83-28 16z"/>
<path fill="#f40000" d="M2015 5780l27-52-21 83-27 36z"/>
<path fill="#f40000" d="M1987 5849l28-69-21 67-27 49z"/>
<path fill="#f40000" d="M1960 5919l27-70-20 47-28 55z"/>
<path fill="#f40000" d="M1933 5984l27-65-21 32-27 54z"/>
<path fill="#f40000" d="M1905 6044l28-60-21 21-28 53z"/>
<path fill="#f40000" d="M1878 6098l27-54-21 14-27 49z"/>
<path fill="#f40000" d="M1850 6147l28-49-21 9-27 46z"/>
<path fill="#f40000" d="M1823 6192l27-45-20 6-28 43z"/>
<path fill="#f40000" d="M1795 6234l28-42-21 4-27 40z"/>
<path fill="#f40000" d="M1768 6273l27-39-20 2-28 38z"/>
<path fill="#f40000" d="M1741 6310l27-37-21 1-27 35z"/>
<path fill="#f40000" d="M1713 6345l28-35-21-1-28 34z"/>
<path fill="#f00" d="M1686 6378l27-33-21-2-27 33z"/>
<path fill="#f00" d="M1658 6410l28-32-21-2-27 31z"/>
<path fill="#ff0b00" d="M1631 6441l27-31-20-3-28 30z"/>
<path fill="#ff1500" d="M1604 6471l27-30-21-4-27 30z"/>
<path fill="#ff1500" d="M1576 6500l28-29-21-4-28 28z"/>
<path fill="#ff2000" d="M1549 6529l27-29-21-5-27 28z"/>
<path class="m" d="M3166 5959l-20-23M3118 5933l28 3M3091 5931l27 2M3063 5929l28 2M3036 5927l27 2M3057 5954l-21-27M3008 5925l28 2M2981 5923l27 2M2954 5921l27 2M2926 5920l28 1M2899 5919l27 1M2920 5950l-21-31M2871 5919l28 0M2844 5919l27 0M2817 5920l27-1M2789 5922l28-2M2762 5924l27-2M2782 5957l-20-33M2734 5927l28-3M2707 5929l27-2M2679 5931l28-2M2652 5931l27 0M2625 5930l27 1M2645 5959l-20-29M2597 5927l28 3M2570 5920l27 7M2542 5911l28 9M2515 5897l27 14M2488 5880l27 17M2508 5911l-20-31M2460 5859l28 21M2433 5834l27 25M2405 5803l28 31M2378 5768l27 35M2350 5728l28 40M2371 5790l-21-62M2323 5687l27 41M2296 5653l27 34M2268 5638l28 15M2241 5655l27-17M2213 5697l28-42M2234 5776l-21-79M2186 5748l27-51M2159 5793l27-45M2131 5814l28-21M2104 5810l27 4M2076 5798l28 12M2097 5733l-21 65M2049 5795l27 3M2021 5811l28-16M1994 5847l27-36M1967 5896l27-49M1939 5951l28-55M1960 5919l-21 32M1912 6005l27-54M1884 6058l28-53M1857 6107l27-49M1830 6153l27-46M1802 6196l28-43M1823 6192l-21 4M1775 6236l27-40M1747 6274l28-38M1720 6309l27-35M1692 6343l28-34M1665 6376l27-33M1686 6378l-21-2M1638 6407l27-31M1610 6437l28-30M1583 6467l27-30M1555 6495l28-28M1528 6523l27-28M1549 6529l-21-6"/>
<path fill="#ffca00" d="M3160 5983l27 0-21-24-27-1z"/>
<path fill="#ffca00" d="M3132 5982l28 1-21-25-28-1z"/>
<path fill="#ffca00" d="M3105 5981l27 1-21-25-27-2z"/>
<path fill="#ffd400" d="M3077 5980l28 1-21-26-27-1z"/>
<path fill="#ffd400" d="M3050 5980l27 0-20-26-28-2z"/>
<path fill="#ffd400" d="M3023 5980l27 0-21-28-27-1z"/>
<path fill="#ffd400" d="M2995 5980l28 0-21-29-28 0z"/>
<path fill="#ffdf00" d="M2968 5980l27 0-21-29-27-1z"/>
<path fill="#ffdf00" d="M2940 5980l28 0-21-30-27 0z"/>
<path fill="#ffdf00" d="M2913 5981l27-1-20-30-28 1z"/>
<path fill="#ffdf00" d="M2885 5983l28-2-21-30-27 1z"/>
<path fill="#ffdf00" d="M2858 5984l27-1-20-31-28 1z"/>
<path fill="#ffea00" d="M2831 5986l27-2-21-31-27 2z"/>
<path fill="#ffea00" d="M2803 5988l28-2-21-31-28 2z"/>
<path fill="#ffdf00" d="M2776 5990l27-2-21-31-27 2z"/>
<path fill="#ffdf00" d="M2748 5991l28-1-21-31-27 2z"/>
<path fill="#ffdf00" d="M2721 5991l27 0-20-30-28 0z"/>
<path fill="#ffdf00" d="M2694 5990l27 1-21-30-27 0z"/>
<path fill="#ffd400" d="M2666 5988l28 2-21-29-28-2z"/>
<path fill="#ffd400" d="M2639 5984l27 4-21-29-27-4z"/>
<path fill="#ffd400" d="M2611 5977l28 7-21-29-27-7z"/>
<path fill="#ffd400" d="M2584 5968l27 9-20-29-28-9z"/>
<path fill="#ffca00" d="M2556 5957l28 11-21-29-27-12z"/>
<path fill="#ffca00" d="M2529 5944l27 13-20-30-28-16z"/>
<path fill="#ffd400" d="M2502 5928l27 16-21-33-27-18z"/>
<path fill="#ffd400" d="M2474 5910l28 18-21-35-28-22z"/>
<path fill="#ffd400" d="M2447 5890l27 20-21-39-27-25z"/>
<path fill="#ffdf00" d="M2419 5870l28 20-21-44-27-27z"/>
<path fill="#ffea00" d="M2392 5850l27 20-20-51-28-29z"/>
<path fill="#fff400" d="M2364 5834l28 16-21-60-27-26z"/>
<path fill="#fff400" d="M2337 5823l27 11-20-70-28-19z"/>
<path fill="#ff0" d="M2310 5821l27 2-21-78-27-5z"/>
<path fill="#ffff20" d="M2282 5828l28-7-21-81-27 11z"/>
<path fill="#ffff10" class="c" d="M2286 5785l13-5-10-40-14 5z"/>
<path fill="#ffff20" class="c" d="M2272 5790l14-5-11-40-13 6z"/>
<path fill="#ffff10" class="c" d="M2296 5824l14-3-11-41-13 5z"/>
<path fill="#ffff30" class="c" d="M2282 5828l14-4-10-39-14 5z"/>
<path fill="#ffff50" d="M2255 5840l27-12-20-77-28 25z"/>
<path fill="#ffff40" class="c" d="M2260 5776l7-6-5-19-7 6z"/>
<path fill="#ffff50" class="c" d="M2253 5781l7-5-5-19-7 7z"/>
<path fill="#ffff70" class="c" d="M2246 5787l7-6-5-17-7 6z"/>
<path fill="#ffff80" class="c" d="M2239 5792l7-5-5-17-7 6z"/>
<path fill="#ffff40" class="c" d="M2265 5794l7-4-5-20-7 6z"/>
<path fill="#ffff50" class="c" d="M2258 5799l7-5-5-18-7 5z"/>
<path fill="#ffff60" class="c" d="M2251 5804l7-5-5-18-7 6z"/>
<path fill="#ffff70" class="c" d="M2244 5808l7-4-5-17-7 5z"/>
<path fill="#ffff40" class="c" d="M2263 5817l14-8-5-19-14 9z"/>
<path fill="#ffff50" class="c" d="M2257 5820l6-3-5-18-7 5z"/>
<path fill="#ffff60" class="c" d="M2250 5824l7-4-6-16-7 4z"/>
<path fill="#ffff40" class="c" d="M2269 5834l13-6-5-19-14 8z"/>
<path fill="#ffff50" class="c" d="M2255 5840l14-6-6-17-13 7z"/>
<path fill="#ffff70" d="M2227 5846l28-6-21-64-27 28z"/>
<path fill="#ffff8f" class="c" d="M2232 5798l7-6-5-16-7 7z"/>
<path fill="#ffff9f" class="c" d="M2226 5803l6-5-5-15-7 7z"/>
<path fill="#ffffaf" class="c" d="M2219 5809l7-6-6-13-6 7z"/>
<path fill="#ffffbf" class="c" d="M2212 5815l7-6-5-12-7 7z"/>
<path fill="#ffff80" class="c" d="M2217 5825l27-17-5-16-27 23z"/>
<path fill="#ffff60" class="c" d="M2236 5830l14-6-6-16-13 9z"/>
<path fill="#ffff50" class="c" d="M2229 5833l7-3-5-13-7 4z"/>
<path fill="#ffff40" class="c" d="M2222 5836l7-3-5-12-7 4z"/>
<path fill="#ffff50" class="c" d="M2248 5842l7-2-5-16-7 3z"/>
<path fill="#ffff30" class="c" d="M2241 5843l7-1-5-15-7 3z"/>
<path fill="#ffff20" class="c" d="M2234 5845l7-2-5-13-7 3z"/>
<path fill="#ffff10" class="c" d="M2227 5846l7-1-5-12-7 3z"/>
<path fill="#ffdf00" d="M2200 5830l27 16-20-42-28 14z"/>
<path fill="#ffff8f" class="c" d="M2205 5816l7-1-5-11-7 3z"/>
<path fill="#ffff40" class="c" d="M2198 5818l7-2-5-9-7 4z"/>
<path fill="#fff400" class="c" d="M2191 5819l7-1-5-7-7 3z"/>
<path fill="#ffb500" class="c" d="M2184 5821l7-2-5-5-7 4z"/>
<path fill="#ffff60" class="c" d="M2210 5825l7 0-5-10-7 1z"/>
<path fill="#ffff10" class="c" d="M2203 5825l7 0-5-9-7 2z"/>
<path fill="#ffd400" class="c" d="M2196 5824l7 1-5-7-7 1z"/>
<path fill="#ff9f00" class="c" d="M2190 5824l6 0-5-5-7 2z"/>
<path fill="#ffff20" class="c" d="M2215 5834l7 2-5-11-7 0z"/>
<path fill="#ffea00" class="c" d="M2209 5831l6 3-5-9-7 0z"/>
<path fill="#ffb500" class="c" d="M2202 5829l7 2-6-6-7-1z"/>
<path fill="#ff8a00" class="c" d="M2195 5827l7 2-6-5-6 0z"/>
<path fill="#ffea00" class="c" d="M2221 5842l6 4-5-10-7-2z"/>
<path fill="#ffbf00" class="c" d="M2214 5838l7 4-6-8-6-3z"/>
<path fill="#ff9f00" class="c" d="M2207 5834l7 4-5-7-7-2z"/>
<path fill="#ff7500" class="c" d="M2200 5830l7 4-5-5-7-2z"/>
<path fill="#ff4000" d="M2173 5788l27 42-21-12-27-14z"/>
<path fill="#ff8a00" class="c" d="M2178 5816l6 5-5-3-7-4z"/>
<path fill="#ff6000" class="c" d="M2171 5811l7 5-6-2-6-3z"/>
<path fill="#ff3500" class="c" d="M2164 5806l7 5-5 0-7-3z"/>
<path fill="#ff0b00" class="c" d="M2157 5800l7 6-5 2-7-4z"/>
<path fill="#ff7500" class="c" d="M2183 5817l7 7-6-3-6-5z"/>
<path fill="#f50" class="c" d="M2176 5810l7 7-5-1-7-5z"/>
<path fill="#ff2a00" class="c" d="M2169 5803l7 7-5 1-7-5z"/>
<path fill="#ff0b00" class="c" d="M2162 5796l7 7-5 3-7-6z"/>
<path fill="#ff6000" class="c" d="M2188 5819l7 8-5-3-7-7z"/>
<path fill="#ff4a00" class="c" d="M2181 5810l7 9-5-2-7-7z"/>
<path fill="#ff2a00" class="c" d="M2174 5801l7 9-5 0-7-7z"/>
<path fill="#ff0b00" class="c" d="M2167 5792l7 9-5 2-7-7z"/>
<path fill="#f50" class="c" d="M2193 5820l7 10-5-3-7-8z"/>
<path fill="#ff3500" class="c" d="M2186 5809l7 11-5-1-7-9z"/>
<path fill="#ff2000" class="c" d="M2179 5799l7 10-5 1-7-9z"/>
<path fill="#f00" class="c" d="M2173 5788l6 11-5 2-7-9z"/>
<path fill="#f40000" d="M2145 5725l28 63-21 16-28-33z"/>
<path fill="#f40000" d="M2118 5647l27 78-21 46-27-38z"/>
<path fill="#f40000" d="M2090 5586l28 61-21 86-27-21z"/>
<path fill="#f40000" d="M2063 5605l27-19-20 126-28 16z"/>
<path fill="#f40000" d="M2035 5698l28-93-21 123-27 52z"/>
<path fill="#f40000" d="M2008 5800l27-102-20 82-28 69z"/>
<path fill="#f40000" d="M1981 5891l27-91-21 49-27 70z"/>
<path fill="#f40000" d="M1953 5968l28-77-21 28-27 65z"/>
<path fill="#f40000" d="M1926 6034l27-66-20 16-28 60z"/>
<path fill="#f40000" d="M1898 6092l28-58-21 10-27 54z"/>
<path fill="#f40000" d="M1871 6143l27-51-20 6-28 49z"/>
<path fill="#f40000" d="M1844 6190l27-47-21 4-27 45z"/>
<path fill="#f40000" d="M1816 6232l28-42-21 2-28 42z"/>
<path fill="#f40000" d="M1789 6272l27-40-21 2-27 39z"/>
<path fill="#f40000" d="M1761 6310l28-38-21 1-27 37z"/>
<path fill="#f40000" d="M1734 6346l27-36-20 0-28 35z"/>
<path fill="#f00" d="M1706 6380l28-34-21-1-27 33z"/>
<path fill="#f00" d="M1679 6413l27-33-20-2-28 32z"/>
<path fill="#ff0b00" d="M1652 6445l27-32-21-3-27 31z"/>
<path fill="#ff1500" d="M1624 6476l28-31-21-4-27 30z"/>
<path fill="#ff1500" d="M1597 6506l27-30-20-5-28 29z"/>
<path fill="#ff2000" d="M1569 6535l28-29-21-6-27 29z"/>
<path class="m" d="M3187 5983l-21-24M3077 5980l-20-26M2940 5980l-20-30M2803 5988l-21-31M2666 5988l-21-29M2529 5944l-21-33M2392 5850l-21-60M2255 5840l-21-64M2118 5647l-21 86M1981 5891l-21 28M1844 6190l-21 2M1706 6380l-20-2M1569 6535l-20-6"/>
<path fill="#ffca00" d="M3180 6007l28 0-21-24-27 0z"/>
<path fill="#ffca00" d="M3153 6007l27 0-20-24-28-1z"/>
<path fill="#ffca00" d="M3125 6007l28 0-21-25-27-1z"/>
<path fill="#ffd400" d="M3098 6007l27 0-20-26-28-1z"/>
<path fill="#ffd400" d="M3071 6007l27 0-21-27-27 0z"/>
<path fill="#ffd400" d="M3043 6007l28 0-21-27-27 0z"/>
<path fill="#ffd400" d="M3016 6008l27-1-20-27-28 0z"/>
<path fill="#ffdf00" d="M2988 6009l28-1-21-28-27 0z"/>
<path fill="#ffdf00" d="M2961 6010l27-1-20-29-28 0z"/>
<path fill="#ffdf00" d="M2934 6011l27-1-21-30-27 1z"/>
<path fill="#ffdf00" d="M2906 6013l28-2-21-30-28 2z"/>
<path fill="#ffdf00" d="M2879 6015l27-2-21-30-27 1z"/>
<path fill="#ffdf00" d="M2851 6017l28-2-21-31-27 2z"/>
<path fill="#ffdf00" d="M2824 6018l27-1-20-31-28 2z"/>
<path fill="#ffdf00" d="M2796 6020l28-2-21-30-27 2z"/>
<path fill="#ffdf00" d="M2769 6021l27-1-20-30-28 1z"/>
<path fill="#ffdf00" d="M2742 6021l27 0-21-30-27 0z"/>
<path fill="#ffdf00" d="M2714 6019l28 2-21-30-27-1z"/>
<path fill="#ffd400" d="M2687 6017l27 2-20-29-28-2z"/>
<path fill="#ffd400" d="M2659 6012l28 5-21-29-27-4z"/>
<path fill="#ffd400" d="M2632 6006l27 6-20-28-28-7z"/>
<path fill="#ffd400" d="M2605 5998l27 8-21-29-27-9z"/>
<path fill="#ffd400" d="M2577 5989l28 9-21-30-28-11z"/>
<path fill="#ffd400" d="M2550 5977l27 12-21-32-27-13z"/>
<path fill="#ffd400" d="M2522 5964l28 13-21-33-27-16z"/>
<path fill="#ffdf00" d="M2495 5950l27 14-20-36-28-18z"/>
<path fill="#ffdf00" d="M2467 5935l28 15-21-40-27-20z"/>
<path fill="#ffea00" d="M2440 5920l27 15-20-45-28-20z"/>
<path fill="#fff400" d="M2413 5906l27 14-21-50-27-20z"/>
<path fill="#fff400" d="M2385 5895l28 11-21-56-28-16z"/>
<path fill="#ff0" d="M2358 5889l27 6-21-61-27-11z"/>
<path fill="#ff0" d="M2330 5888l28 1-21-66-27-2z"/>
<path fill="#ffff10" d="M2303 5891l27-3-20-67-28 7z"/>
<path fill="#ffff10" class="c" d="M2306 5857l14-3-10-33-14 3z"/>
<path fill="#ffff20" class="c" d="M2293 5859l13-2-10-33-14 4z"/>
<path fill="#ffff10" class="c" d="M2303 5891l27-3-10-34-27 5z"/>
<path fill="#ffff20" d="M2276 5891l27 0-21-63-27 12z"/>
<path fill="#ffff30" class="c" d="M2271 5854l18-5-7-21-18 8z"/>
<path fill="#ffff40" class="c" d="M2262 5857l9-3-7-18-9 4z"/>
<path fill="#ffff20" class="c" d="M2269 5874l27-4-7-21-27 8z"/>
<path fill="#ffff10" class="c" d="M2285 5891l18 0-7-21-18 3z"/>
<path fill="#ff0" class="c" d="M2276 5891l9 0-7-18-9 1z"/>
<path fill="#fff400" d="M2248 5877l28 14-21-51-28 6z"/>
<path fill="#ffff30" class="c" d="M2253 5853l7 0-5-13-7 2z"/>
<path fill="#ffff10" class="c" d="M2246 5853l7 0-5-11-7 1z"/>
<path fill="#ff0" class="c" d="M2239 5854l7-1-5-10-7 2z"/>
<path fill="#ffea00" class="c" d="M2233 5854l6 0-5-9-7 1z"/>
<path fill="#ffff20" class="c" d="M2258 5865l7 1-5-13-7 0z"/>
<path fill="#ff0" class="c" d="M2251 5864l7 1-5-12-7 0z"/>
<path fill="#ffea00" class="c" d="M2245 5863l6 1-5-11-7 1z"/>
<path fill="#ffdf00" class="c" d="M2238 5862l7 1-6-9-6 0z"/>
<path fill="#ff0" class="c" d="M2264 5876l6 2-5-12-7-1z"/>
<path fill="#fff400" class="c" d="M2257 5874l7 2-6-11-7-1z"/>
<path fill="#ffdf00" class="c" d="M2250 5871l7 3-6-10-6-1z"/>
<path fill="#ffca00" class="c" d="M2243 5869l7 2-5-8-7-1z"/>
<path fill="#fff400" class="c" d="M2269 5887l7 4-6-13-6-2z"/>
<path fill="#ffdf00" class="c" d="M2262 5884l7 3-5-11-7-2z"/>
<path fill="#ffd400" class="c" d="M2255 5880l7 4-5-10-7-3z"/>
<path fill="#ffbf00" class="c" d="M2248 5877l7 3-5-9-7-2z"/>
<path fill="#ff9500" d="M2221 5840l27 37-21-31-27-16z"/>
<path fill="#ffd400" class="c" d="M2226 5849l7 5-6-8-6-4z"/>
<path fill="#fa0" class="c" d="M2219 5843l7 6-5-7-7-4z"/>
<path fill="#ff8a00" class="c" d="M2212 5838l7 5-5-5-7-4z"/>
<path fill="#ff6a00" class="c" d="M2205 5833l7 5-5-4-7-4z"/>
<path fill="#ffbf00" class="c" d="M2231 5855l7 7-5-8-7-5z"/>
<path fill="#ff9f00" class="c" d="M2224 5848l7 7-5-6-7-6z"/>
<path fill="#ff8000" class="c" d="M2217 5842l7 6-5-5-7-5z"/>
<path fill="#ff6000" class="c" d="M2210 5835l7 7-5-4-7-5z"/>
<path fill="#ffb500" class="c" d="M2236 5861l7 8-5-7-7-7z"/>
<path fill="#ff9f00" class="c" d="M2229 5854l7 7-5-6-7-7z"/>
<path fill="#ff8000" class="c" d="M2222 5846l7 8-5-6-7-6z"/>
<path fill="#ff6000" class="c" d="M2216 5838l6 8-5-4-7-7z"/>
<path fill="#fa0" class="c" d="M2241 5868l7 9-5-8-7-8z"/>
<path fill="#ff9500" class="c" d="M2234 5859l7 9-5-7-7-7z"/>
<path fill="#ff7500" class="c" d="M2228 5849l6 10-5-5-7-8z"/>
<path fill="#ff6000" class="c" d="M2221 5840l7 9-6-3-6-8z"/>
<path fill="#ff2a00" d="M2193 5780l28 60-21-10-27-42z"/>
<path fill="#ff4a00" class="c" d="M2198 5821l7 12-5-3-7-10z"/>
<path fill="#ff3500" class="c" d="M2191 5810l7 11-5-1-7-11z"/>
<path fill="#ff2000" class="c" d="M2185 5798l6 12-5-1-7-10z"/>
<path fill="#ff0b00" class="c" d="M2178 5786l7 12-6 1-6-11z"/>
<path fill="#ff4a00" class="c" d="M2204 5823l6 12-5-2-7-12z"/>
<path fill="#ff3500" class="c" d="M2197 5810l7 13-6-2-7-11z"/>
<path fill="#ff2000" class="c" d="M2190 5797l7 13-6 0-6-12z"/>
<path fill="#ff0b00" class="c" d="M2183 5784l7 13-5 1-7-12z"/>
<path fill="#ff4a00" class="c" d="M2209 5824l7 14-6-3-6-12z"/>
<path fill="#ff3500" class="c" d="M2202 5810l7 14-5-1-7-13z"/>
<path fill="#ff2a00" class="c" d="M2195 5796l7 14-5 0-7-13z"/>
<path fill="#ff1500" class="c" d="M2188 5782l7 14-5 1-7-13z"/>
<path fill="#ff4a00" class="c" d="M2214 5825l7 15-5-2-7-14z"/>
<path fill="#ff4000" class="c" d="M2207 5810l7 15-5-1-7-14z"/>
<path fill="#ff2a00" class="c" d="M2200 5795l7 15-5 0-7-14z"/>
<path fill="#ff2000" class="c" d="M2193 5780l7 15-5 1-7-14z"/>
<path fill="#f00" d="M2166 5690l27 90-20 8-28-63z"/>
<path fill="#f00" class="c" d="M2169 5746l14 38-10 4-14-31z"/>
<path fill="#f40000" class="c" d="M2156 5707l13 39-10 11-14-32z"/>
<path fill="#ff0b00" class="c" d="M2180 5735l13 45-10 4-14-38z"/>
<path fill="#f00" class="c" d="M2166 5690l14 45-11 11-13-39z"/>
<path fill="#f40000" d="M2138 5554l28 136-21 35-27-78z"/>
<path fill="#f40000" d="M2111 5360l27 194-20 93-28-61z"/>
<path fill="#f40000" d="M2084 5403l27-43-21 226-27 19z"/>
<path fill="#f40000" d="M2056 5614l28-211-21 202-28 93z"/>
<path fill="#f40000" d="M2029 5764l27-150-21 84-27 102z"/>
<path fill="#f40000" d="M2001 5873l28-109-21 36-27 91z"/>
<path fill="#f40000" d="M1974 5958l27-85-20 18-28 77z"/>
<path fill="#f40000" d="M1947 6028l27-70-21 10-27 66z"/>
<path fill="#f40000" d="M1919 6087l28-59-21 6-28 58z"/>
<path fill="#f40000" d="M1892 6139l27-52-21 5-27 51z"/>
<path fill="#f40000" d="M1864 6186l28-47-21 4-27 47z"/>
<path fill="#f40000" d="M1837 6229l27-43-20 4-28 42z"/>
<path fill="#f40000" d="M1809 6270l28-41-21 3-27 40z"/>
<path fill="#f40000" d="M1782 6309l27-39-20 2-28 38z"/>
<path fill="#f40000" d="M1755 6346l27-37-21 1-27 36z"/>
<path fill="#f00" d="M1727 6382l28-36-21 0-28 34z"/>
<path fill="#f00" d="M1700 6416l27-34-21-2-27 33z"/>
<path fill="#ff0b00" d="M1672 6449l28-33-21-3-27 32z"/>
<path fill="#ff1500" d="M1645 6481l27-32-20-4-28 31z"/>
<path fill="#ff2000" d="M1618 6512l27-31-21-5-27 30z"/>
<path fill="#ff2000" d="M1590 6542l28-30-21-6-28 29z"/>
<path class="m" d="M3208 6007l-21-24M3098 6007l-21-27M2961 6010l-21-30M2824 6018l-21-30M2687 6017l-21-29M2550 5977l-21-33M2413 5906l-21-56M2276 5891l-21-51M2138 5554l-20 93M2001 5873l-20 18M1864 6186l-20 4M1727 6382l-21-2M1590 6542l-21-7"/>
<path fill="#ffca00" d="M3201 6031l27 0-20-24-28 0z"/>
<path fill="#ffca00" d="M3174 6032l27-1-21-24-27 0z"/>
<path fill="#ffca00" d="M3146 6032l28 0-21-25-28 0z"/>
<path fill="#ffca00" d="M3119 6033l27-1-21-25-27 0z"/>
<path fill="#ffd400" d="M3091 6034l28-1-21-26-27 0z"/>
<path fill="#ffd400" d="M3064 6035l27-1-20-27-28 0z"/>
<path fill="#ffd400" d="M3037 6036l27-1-21-28-27 1z"/>
<path fill="#ffd400" d="M3009 6037l28-1-21-28-28 1z"/>
<path fill="#ffdf00" d="M2982 6039l27-2-21-28-27 1z"/>
<path fill="#ffdf00" d="M2954 6040l28-1-21-29-27 1z"/>
<path fill="#ffdf00" d="M2927 6042l27-2-20-29-28 2z"/>
<path fill="#ffdf00" d="M2899 6044l28-2-21-29-27 2z"/>
<path fill="#ffdf00" d="M2872 6046l27-2-20-29-28 2z"/>
<path fill="#ffdf00" d="M2845 6048l27-2-21-29-27 1z"/>
<path fill="#ffdf00" d="M2817 6049l28-1-21-30-28 2z"/>
<path fill="#ffdf00" d="M2790 6049l27 0-21-29-27 1z"/>
<path fill="#ffdf00" d="M2762 6049l28 0-21-28-27 0z"/>
<path fill="#ffd400" d="M2735 6048l27 1-20-28-28-2z"/>
<path fill="#ffd400" d="M2708 6045l27 3-21-29-27-2z"/>
<path fill="#ffd400" d="M2680 6041l28 4-21-28-28-5z"/>
<path fill="#ffd400" d="M2653 6036l27 5-21-29-27-6z"/>
<path fill="#ffd400" d="M2625 6029l28 7-21-30-27-8z"/>
<path fill="#ffd400" d="M2598 6021l27 8-20-31-28-9z"/>
<path fill="#ffdf00" d="M2570 6011l28 10-21-32-27-12z"/>
<path fill="#ffdf00" d="M2543 6001l27 10-20-34-28-13z"/>
<path fill="#ffdf00" d="M2516 5990l27 11-21-37-27-14z"/>
<path fill="#ffea00" d="M2488 5978l28 12-21-40-28-15z"/>
<path fill="#ffea00" d="M2461 5968l27 10-21-43-27-15z"/>
<path fill="#fff400" d="M2433 5958l28 10-21-48-27-14z"/>
<path fill="#fff400" d="M2406 5951l27 7-20-52-28-11z"/>
<path fill="#ff0" d="M2379 5947l27 4-21-56-27-6z"/>
<path fill="#ff0" d="M2351 5945l28 2-21-58-28-1z"/>
<path fill="#ff0" d="M2324 5942l27 3-21-57-27 3z"/>
<path fill="#fff400" d="M2296 5931l28 11-21-51-27 0z"/>
<path fill="#ff0" class="c" d="M2292 5905l18 3-7-17-18 0z"/>
<path fill="#fff400" class="c" d="M2282 5904l10 1-7-14-9 0z"/>
<path fill="#ff0" class="c" d="M2308 5922l9 3-7-17-9-2z"/>
<path fill="#fff400" class="c" d="M2299 5920l9 2-7-16-9-1z"/>
<path fill="#ffea00" class="c" d="M2289 5917l10 3-7-15-10-1z"/>
<path fill="#fff400" class="c" d="M2315 5938l9 4-7-17-9-3z"/>
<path fill="#ffea00" class="c" d="M2305 5935l10 3-7-16-9-2z"/>
<path fill="#ffdf00" class="c" d="M2296 5931l9 4-6-15-10-3z"/>
<path fill="#ffca00" d="M2269 5904l27 27-20-40-28-14z"/>
<path fill="#ffea00" class="c" d="M2274 5896l7 5-5-10-7-4z"/>
<path fill="#ffd400" class="c" d="M2267 5892l7 4-5-9-7-3z"/>
<path fill="#ffca00" class="c" d="M2260 5888l7 4-5-8-7-4z"/>
<path fill="#ffb500" class="c" d="M2253 5884l7 4-5-8-7-3z"/>
<path fill="#ffdf00" class="c" d="M2279 5906l7 5-5-10-7-5z"/>
<path fill="#ffd400" class="c" d="M2272 5901l7 5-5-10-7-4z"/>
<path fill="#ffbf00" class="c" d="M2265 5895l7 6-5-9-7-4z"/>
<path fill="#ffb500" class="c" d="M2259 5890l6 5-5-7-7-4z"/>
<path fill="#ffdf00" class="c" d="M2284 5915l7 6-5-10-7-5z"/>
<path fill="#ffca00" class="c" d="M2277 5909l7 6-5-9-7-5z"/>
<path fill="#ffbf00" class="c" d="M2271 5903l6 6-5-8-7-6z"/>
<path fill="#fa0" class="c" d="M2264 5897l7 6-6-8-6-5z"/>
<path fill="#ffd400" class="c" d="M2289 5924l7 7-5-10-7-6z"/>
<path fill="#ffbf00" class="c" d="M2283 5917l6 7-5-9-7-6z"/>
<path fill="#ffb500" class="c" d="M2276 5911l7 6-6-8-6-6z"/>
<path fill="#fa0" class="c" d="M2269 5904l7 7-5-8-7-6z"/>
<path fill="#ff8000" d="M2241 5858l28 46-21-27-27-37z"/>
<path fill="#ff9f00" class="c" d="M2246 5874l7 10-5-7-7-9z"/>
<path fill="#ff8a00" class="c" d="M2240 5864l6 10-5-6-7-9z"/>
<path fill="#ff7500" class="c" d="M2233 5854l7 10-6-5-6-10z"/>
<path fill="#ff6000" class="c" d="M2226 5845l7 9-5-5-7-9z"/>
<path fill="#ff9f00" class="c" d="M2252 5880l7 10-6-6-7-10z"/>
<path fill="#ff8a00" class="c" d="M2245 5870l7 10-6-6-6-10z"/>
<path fill="#ff7500" class="c" d="M2238 5859l7 11-5-6-7-10z"/>
<path fill="#ff6a00" class="c" d="M2231 5849l7 10-5-5-7-9z"/>
<path fill="#ff9f00" class="c" d="M2257 5886l7 11-5-7-7-10z"/>
<path fill="#ff8a00" class="c" d="M2250 5875l7 11-5-6-7-10z"/>
<path fill="#ff8000" class="c" d="M2243 5864l7 11-5-5-7-11z"/>
<path fill="#ff6a00" class="c" d="M2236 5854l7 10-5-5-7-10z"/>
<path fill="#ff9500" class="c" d="M2262 5892l7 12-5-7-7-11z"/>
<path fill="#ff8a00" class="c" d="M2255 5881l7 11-5-6-7-11z"/>
<path fill="#ff8000" class="c" d="M2248 5869l7 12-5-6-7-11z"/>
<path fill="#ff7500" class="c" d="M2241 5858l7 11-5-5-7-10z"/>
<path fill="#ff4a00" d="M2214 5791l27 67-20-18-28-60z"/>
<path fill="#ff4a00" class="c" d="M2219 5829l7 16-5-5-7-15z"/>
<path fill="#ff4000" class="c" d="M2212 5814l7 15-5-4-7-15z"/>
<path fill="#ff3500" class="c" d="M2205 5798l7 16-5-4-7-15z"/>
<path fill="#ff2a00" class="c" d="M2198 5782l7 16-5-3-7-15z"/>
<path fill="#f50" class="c" d="M2224 5833l7 16-5-4-7-16z"/>
<path fill="#ff4a00" class="c" d="M2217 5817l7 16-5-4-7-15z"/>
<path fill="#ff4000" class="c" d="M2211 5801l6 16-5-3-7-16z"/>
<path fill="#ff3500" class="c" d="M2204 5785l7 16-6-3-7-16z"/>
<path fill="#ff6000" class="c" d="M2229 5837l7 17-5-5-7-16z"/>
<path fill="#f50" class="c" d="M2223 5821l6 16-5-4-7-16z"/>
<path fill="#ff4a00" class="c" d="M2209 5788l14 33-6-4-13-32z"/>
<path fill="#ff6a00" class="c" d="M2235 5841l6 17-5-4-7-17z"/>
<path fill="#ff6000" class="c" d="M2228 5824l7 17-6-4-6-16z"/>
<path fill="#f50" class="c" d="M2214 5791l14 33-5-3-14-33z"/>
<path fill="#ff2a00" d="M2187 5692l27 99-21-11-27-90z"/>
<path fill="#ff2000" class="c" d="M2192 5759l6 23-5-2-7-23z"/>
<path fill="#ff1500" class="c" d="M2185 5736l7 23-6-2-6-22z"/>
<path fill="#ff0b00" class="c" d="M2171 5690l14 46-5-1-14-45z"/>
<path fill="#ff2a00" class="c" d="M2190 5738l14 47-6-3-13-46z"/>
<path fill="#ff2000" class="c" d="M2183 5714l7 24-5-2-7-23z"/>
<path fill="#ff1500" class="c" d="M2176 5691l7 23-5-1-7-23z"/>
<path fill="#ff4000" class="c" d="M2202 5764l7 24-5-3-7-23z"/>
<path fill="#ff3500" class="c" d="M2188 5716l14 48-5-2-14-48z"/>
<path fill="#ff2a00" class="c" d="M2181 5691l7 25-5-2-7-23z"/>
<path fill="#ff4a00" class="c" d="M2193 5717l21 74-5-3-21-72z"/>
<path fill="#ff4000" class="c" d="M2187 5692l6 25-5-1-7-25z"/>
<path fill="#ff2000" d="M2159 5533l28 159-21-2-28-136z"/>
<path fill="#f00" class="c" d="M2144 5549l27 141-5 0-28-136z"/>
<path fill="#ff1500" class="c" d="M2149 5544l27 147-5-1-27-141z"/>
<path fill="#ff2a00" class="c" d="M2161 5577l20 114-5 0-20-111z"/>
<path fill="#ff2000" class="c" d="M2154 5538l7 39-5 3-7-36z"/>
<path fill="#ff4000" class="c" d="M2173 5613l14 79-6-1-13-76z"/>
<path fill="#ff3500" class="c" d="M2159 5533l14 80-5 2-14-77z"/>
<path fill="#ff3500" d="M2132 5189l27 344-21 21-27-194z"/>
<path fill="#f00" class="c" d="M2130 5433l14 116-6 5-13-97z"/>
<path fill="#ff0b00" class="c" d="M2116 5318l14 115-5 24-14-97z"/>
<path fill="#ff1500" class="c" d="M2142 5476l7 68-5 5-7-58z"/>
<path fill="#ff2000" class="c" d="M2135 5409l7 67-5 15-7-58z"/>
<path fill="#ff2a00" class="c" d="M2128 5342l7 67-5 24-7-58z"/>
<path fill="#ff3500" class="c" d="M2121 5275l7 67-5 33-7-57z"/>
<path fill="#ff2a00" class="c" d="M2147 5462l7 76-5 6-7-68z"/>
<path fill="#ff3500" class="c" d="M2140 5385l7 77-5 14-7-67z"/>
<path fill="#ff4a00" class="c" d="M2133 5309l7 76-5 24-7-67z"/>
<path fill="#f50" class="c" d="M2127 5232l6 77-5 33-7-67z"/>
<path fill="#ff4000" class="c" d="M2152 5447l7 86-5 5-7-76z"/>
<path fill="#f50" class="c" d="M2145 5361l7 86-5 15-7-77z"/>
<path fill="#ff6a00" class="c" d="M2139 5275l6 86-5 24-7-76z"/>
<path fill="#ff8000" class="c" d="M2132 5189l7 86-6 34-6-77z"/>
<path fill="#ff3500" d="M2104 5282l28-93-21 171-27 43z"/>
<path fill="#ff0b00" class="c" d="M2103 5345l13-27-5 42-14 22z"/>
<path fill="#f00" class="c" d="M2089 5373l14-28-6 37-13 21z"/>
<path fill="#ff3500" class="c" d="M2115 5292l6-17-5 43-7 13z"/>
<path fill="#ff2a00" class="c" d="M2108 5309l7-17-6 39-6 14z"/>
<path fill="#ff2000" class="c" d="M2101 5326l7-17-5 36-7 14z"/>
<path fill="#ff1500" class="c" d="M2094 5343l7-17-5 33-7 14z"/>
<path fill="#f50" class="c" d="M2120 5252l7-20-6 43-6 17z"/>
<path fill="#ff4a00" class="c" d="M2113 5272l7-20-5 40-7 17z"/>
<path fill="#ff3500" class="c" d="M2106 5292l7-20-5 37-7 17z"/>
<path fill="#ff2a00" class="c" d="M2099 5313l7-21-5 34-7 17z"/>
<path fill="#ff8000" class="c" d="M2125 5212l7-23-5 43-7 20z"/>
<path fill="#ff6a00" class="c" d="M2118 5236l7-24-5 40-7 20z"/>
<path fill="#f50" class="c" d="M2111 5259l7-23-5 36-7 20z"/>
<path fill="#ff4000" class="c" d="M2104 5282l7-23-5 33-7 21z"/>
<path fill="#ff0b00" d="M2077 5596l27-314-20 121-28 211z"/>
<path fill="#f00" class="c" d="M2068 5550l21-177-5 30-21 158z"/>
<path fill="#f40000" class="c" d="M2061 5610l7-60-5 11-7 53z"/>
<path fill="#ff0b00" class="c" d="M2080 5474l14-131-5 30-14 118z"/>
<path fill="#f00" class="c" d="M2067 5605l13-131-5 17-14 119z"/>
<path fill="#ff2000" class="c" d="M2092 5385l7-72-5 30-7 65z"/>
<path fill="#ff1500" class="c" d="M2085 5456l7-71-5 23-7 66z"/>
<path fill="#ff0b00" class="c" d="M2079 5528l6-72-5 18-7 65z"/>
<path fill="#f00" class="c" d="M2072 5600l7-72-6 11-6 66z"/>
<path fill="#ff2a00" class="c" d="M2098 5361l6-79-5 31-7 72z"/>
<path fill="#ff2000" class="c" d="M2091 5439l7-78-6 24-7 71z"/>
<path fill="#ff1500" class="c" d="M2084 5517l7-78-6 17-6 72z"/>
<path fill="#ff0b00" class="c" d="M2077 5596l7-79-5 11-7 72z"/>
<path fill="#f00" d="M2050 5761l27-165-21 18-27 150z"/>
<path fill="#f40000" d="M2022 5873l28-112-21 3-28 109z"/>
<path fill="#f40000" d="M1995 5957l27-84-21 0-27 85z"/>
<path fill="#f40000" d="M1967 6024l28-67-21 1-27 70z"/>
<path fill="#f40000" d="M1940 6081l27-57-20 4-28 59z"/>
<path fill="#f40000" d="M1912 6132l28-51-21 6-27 52z"/>
<path fill="#f40000" d="M1885 6179l27-47-20 7-28 47z"/>
<path fill="#f40000" d="M1858 6224l27-45-21 7-27 43z"/>
<path fill="#f40000" d="M1830 6267l28-43-21 5-28 41z"/>
<path fill="#f40000" d="M1803 6308l27-41-21 3-27 39z"/>
<path fill="#f40000" d="M1775 6347l28-39-21 1-27 37z"/>
<path fill="#f00" d="M1748 6384l27-37-20-1-28 36z"/>
<path fill="#f00" d="M1721 6420l27-36-21-2-27 34z"/>
<path fill="#ff0b00" d="M1693 6454l28-34-21-4-28 33z"/>
<path fill="#ff1500" d="M1666 6487l27-33-21-5-27 32z"/>
<path fill="#ff2000" d="M1638 6518l28-31-21-6-27 31z"/>
<path fill="#ff2a00" d="M1611 6549l27-31-20-6-28 30z"/>
<path class="m" d="M3228 6031l-20-24M3119 6033l-21-26M2982 6039l-21-29M2845 6048l-21-30M2708 6045l-21-28M2570 6011l-20-34M2433 5958l-20-52M2296 5931l-20-40M2159 5533l-21 21M2022 5873l-21 0M1885 6179l-21 7M1748 6384l-21-2M1611 6549l-21-7"/>
<path d="M2115 5692V5162" class="b"/>
<path fill="#ffca00" d="M3222 6055l27-1-21-23-27 0z"/>
<path fill="#ffca00" d="M3194 6056l28-1-21-24-27 1z"/>
<path fill="#ffca00" d="M3167 6057l27-1-20-24-28 0z"/>
<path fill="#ffca00" d="M3140 6059l27-2-21-25-27 1z"/>
<path fill="#ffd400" d="M3112 6060l28-1-21-26-28 1z"/>
<path fill="#ffd400" d="M3085 6061l27-1-21-26-27 1z"/>
<path fill="#ffd400" d="M3057 6063l28-2-21-26-27 1z"/>
<path fill="#ffd400" d="M3030 6065l27-2-20-27-28 1z"/>
<path fill="#ffd400" d="M3002 6066l28-1-21-28-27 2z"/>
<path fill="#ffd400" d="M2975 6068l27-2-20-27-28 1z"/>
<path fill="#ffdf00" d="M2948 6070l27-2-21-28-27 2z"/>
<path fill="#ffdf00" d="M2920 6072l28-2-21-28-28 2z"/>
<path fill="#ffdf00" d="M2893 6074l27-2-21-28-27 2z"/>
<path fill="#ffdf00" d="M2865 6076l28-2-21-28-27 2z"/>
<path fill="#ffdf00" d="M2838 6077l27-1-20-28-28 1z"/>
<path fill="#ffd400" d="M2811 6078l27-1-21-28-27 0z"/>
<path fill="#ffd400" d="M2783 6077l28 1-21-29-28 0z"/>
<path fill="#ffd400" d="M2756 6076l27 1-21-28-27-1z"/>
<path fill="#ffd400" d="M2728 6074l28 2-21-28-27-3z"/>
<path fill="#ffd400" d="M2701 6070l27 4-20-29-28-4z"/>
<path fill="#ffd400" d="M2673 6066l28 4-21-29-27-5z"/>
<path fill="#ffd400" d="M2646 6060l27 6-20-30-28-7z"/>
<path fill="#ffdf00" d="M2619 6053l27 7-21-31-27-8z"/>
<path fill="#ffdf00" d="M2591 6046l28 7-21-32-28-10z"/>
<path fill="#ffdf00" d="M2564 6037l27 9-21-35-27-10z"/>
<path fill="#ffea00" d="M2536 6029l28 8-21-36-27-11z"/>
<path fill="#ffea00" d="M2509 6021l27 8-20-39-28-12z"/>
<path fill="#fff400" d="M2482 6013l27 8-21-43-27-10z"/>
<path fill="#fff400" d="M2454 6007l28 6-21-45-28-10z"/>
<path fill="#fff400" d="M2427 6002l27 5-21-49-27-7z"/>
<path fill="#ff0" d="M2399 5998l28 4-21-51-27-4z"/>
<path fill="#ff0" d="M2372 5994l27 4-20-51-28-2z"/>
<path fill="#fff400" d="M2344 5985l28 9-21-49-27-3z"/>
<path fill="#ff0" class="c" d="M2348 5966l13 3-10-24-14-2z"/>
<path fill="#fff400" class="c" d="M2334 5964l14 2-11-23-13-1zM2358 5989l14 5-11-25-13-3z"/>
<path fill="#ffea00" class="c" d="M2344 5985l14 4-10-23-14-2z"/>
<path fill="#ffdf00" d="M2317 5966l27 19-20-43-28-11z"/>
<path fill="#ffea00" class="c" d="M2321 5952l10 4-7-14-9-4z"/>
<path fill="#ffdf00" class="c" d="M2312 5947l9 5-6-14-10-3z"/>
<path fill="#ffd400" class="c" d="M2303 5943l9 4-7-12-9-4z"/>
<path fill="#ffea00" class="c" d="M2328 5965l10 6-7-15-10-4z"/>
<path fill="#ffdf00" class="c" d="M2319 5960l9 5-7-13-9-5z"/>
<path fill="#ffd400" class="c" d="M2310 5954l9 6-7-13-9-4z"/>
<path fill="#ffdf00" class="c" d="M2335 5979l9 6-6-14-10-6z"/>
<path fill="#ffd400" class="c" d="M2326 5973l9 6-7-14-9-5z"/>
<path fill="#ffca00" class="c" d="M2317 5966l9 7-7-13-9-6z"/>
<path fill="#ffb500" d="M2290 5934l27 32-21-35-27-27z"/>
<path fill="#ffca00" class="c" d="M2294 5933l9 10-7-12-9-9z"/>
<path fill="#ffb500" class="c" d="M2285 5923l9 10-7-11-9-9z"/>
<path fill="#fa0" class="c" d="M2276 5914l9 9-7-10-9-9z"/>
<path fill="#ffca00" class="c" d="M2301 5944l9 10-7-11-9-10z"/>
<path fill="#ffb500" class="c" d="M2292 5934l9 10-7-11-9-10z"/>
<path fill="#fa0" class="c" d="M2283 5924l9 10-7-11-9-9z"/>
<path fill="#ffbf00" class="c" d="M2308 5956l9 10-7-12-9-10z"/>
<path fill="#ffb500" class="c" d="M2299 5945l9 11-7-12-9-10z"/>
<path fill="#fa0" class="c" d="M2290 5934l9 11-7-11-9-10z"/>
<path fill="#ff9500" d="M2262 5888l28 46-21-30-28-46z"/>
<path fill="#ff9500" class="c" d="M2267 5899l9 15-7-10-9-15z"/>
<path fill="#ff8a00" class="c" d="M2258 5883l9 16-7-10-9-16z"/>
<path fill="#ff8000" class="c" d="M2248 5868l10 15-7-10-10-15z"/>
<path fill="#ff9f00" class="c" d="M2274 5909l9 15-7-10-9-15z"/>
<path fill="#ff9500" class="c" d="M2264 5893l10 16-7-10-9-16z"/>
<path fill="#ff8a00" class="c" d="M2255 5878l9 15-6-10-10-15z"/>
<path fill="#ff9f00" class="c" d="M2280 5919l10 15-7-10-9-15z"/>
<path fill="#ff9500" class="c" d="M2262 5888l18 31-6-10-19-31z"/>
<path fill="#ff8000" d="M2235 5825l27 63-21-30-27-67z"/>
<path fill="#ff7500" class="c" d="M2239 5846l9 22-7-10-9-22z"/>
<path fill="#ff6a00" class="c" d="M2230 5824l9 22-7-10-9-23z"/>
<path fill="#ff6000" class="c" d="M2221 5802l9 22-7-11-9-22z"/>
<path fill="#ff8000" class="c" d="M2237 5835l18 43-7-10-18-44z"/>
<path fill="#ff7500" class="c" d="M2228 5814l9 21-7-11-9-22z"/>
<path fill="#ff8a00" class="c" d="M2235 5825l27 63-7-10-27-64z"/>
<path fill="#ff7500" d="M2207 5742l28 83-21-34-27-99z"/>
<path fill="#ff6000" class="c" d="M2206 5752l13 47-5-8-14-50z"/>
<path fill="#f50" class="c" d="M2192 5705l14 47-6-11-13-49z"/>
<path fill="#ff6a00" class="c" d="M2197 5717l27 91-5-9-27-94z"/>
<path fill="#ff8000" class="c" d="M2202 5729l28 88-6-9-27-91z"/>
<path fill="#ff8a00" class="c" d="M2214 5763l21 62-5-8-21-66z"/>
<path fill="#ff9500" class="c" d="M2207 5742l7 21-5-12-7-22z"/>
<path fill="#ff7500" d="M2180 5632l27 110-20-50-28-159z"/>
<path fill="#f50" class="c" d="M2164 5558l28 147-5-13-28-159z"/>
<path fill="#ff6a00" class="c" d="M2170 5583l27 134-5-12-28-147z"/>
<path fill="#ff8000" class="c" d="M2188 5668l14 61-5-12-14-67z"/>
<path fill="#ff8a00" class="c" d="M2175 5607l13 61-5-18-13-67z"/>
<path fill="#ff9500" class="c" d="M2200 5714l7 28-5-13-7-30z"/>
<path fill="#ff9f00" class="c" d="M2187 5660l13 54-5-15-13-61z"/>
<path fill="#fa0" class="c" d="M2180 5632l7 28-5-22-7-31z"/>
<path fill="#ff9f00" d="M2153 5521l27 111-21-99-27-344z"/>
<path fill="#f50" class="c" d="M2158 5486l6 72-5-25-7-86z"/>
<path fill="#ff7500" class="c" d="M2151 5415l7 71-6-39-7-86z"/>
<path fill="#ff8a00" class="c" d="M2144 5344l7 71-6-54-6-86z"/>
<path fill="#ff9f00" class="c" d="M2137 5272l7 72-5-69-7-86z"/>
<path fill="#ff7500" class="c" d="M2163 5526l7 57-6-25-6-72z"/>
<path fill="#ff8a00" class="c" d="M2156 5469l7 57-5-40-7-71z"/>
<path fill="#ff9f00" class="c" d="M2149 5412l7 57-5-54-7-71z"/>
<path fill="#ffb500" class="c" d="M2142 5355l7 57-5-68-7-72z"/>
<path fill="#ff9500" class="c" d="M2168 5565l7 42-5-24-7-57z"/>
<path fill="#fa0" class="c" d="M2161 5523l7 42-5-39-7-57z"/>
<path fill="#ffb500" class="c" d="M2154 5480l7 43-5-54-7-57z"/>
<path fill="#ffbf00" class="c" d="M2147 5438l7 42-5-68-7-57z"/>
<path fill="#ffb500" class="c" d="M2173 5604l7 28-5-25-7-42z"/>
<path fill="#ffbf00" class="c" d="M2166 5576l7 28-5-39-7-42z"/>
<path fill="#ffca00" class="c" d="M2159 5549l7 27-5-53-7-43z"/>
<path fill="#ffd400" class="c" d="M2153 5521l6 28-5-69-7-42z"/>
<path fill="#fa0" d="M2125 5543l28-22-21-332-28 93z"/>
<path fill="#ff9f00" class="c" d="M2130 5291l7-19-5-83-7 23z"/>
<path fill="#ff8a00" class="c" d="M2123 5310l7-19-5-79-7 24z"/>
<path fill="#ff7500" class="c" d="M2116 5329l7-19-5-74-7 23z"/>
<path fill="#f50" class="c" d="M2110 5348l6-19-5-70-7 23z"/>
<path fill="#ffb500" class="c" d="M2135 5369l7-14-5-83-7 19z"/>
<path fill="#ff9f00" class="c" d="M2128 5384l7-15-5-78-7 19z"/>
<path fill="#ff9500" class="c" d="M2122 5398l6-14-5-74-7 19z"/>
<path fill="#ff8000" class="c" d="M2115 5413l7-15-6-69-6 19z"/>
<path fill="#ffca00" class="c" d="M2140 5448l7-10-5-83-7 14z"/>
<path fill="#ffbf00" class="c" d="M2134 5458l6-10-5-79-7 15z"/>
<path fill="#ffb500" class="c" d="M2127 5468l7-10-6-74-6 14z"/>
<path fill="#fa0" class="c" d="M2120 5478l7-10-5-70-7 15z"/>
<path fill="#ffdf00" class="c" d="M2146 5526l7-5-6-83-7 10z"/>
<path fill="#ffd400" class="c" d="M2132 5537l14-11-6-78-13 20z"/>
<path fill="#ffca00" class="c" d="M2125 5543l7-6-5-69-7 10z"/>
<path fill="#ff6a00" d="M2098 5675l27-132-21-261-27 314z"/>
<path fill="#ff4a00" class="c" d="M2103 5415l7-67-6-66-6 79z"/>
<path fill="#ff3500" class="c" d="M2096 5482l7-67-5-54-7 78z"/>
<path fill="#ff2a00" class="c" d="M2089 5549l7-67-5-43-7 78z"/>
<path fill="#ff1500" class="c" d="M2082 5616l7-67-5-32-7 79z"/>
<path fill="#ff6a00" class="c" d="M2108 5468l7-55-5-65-7 67z"/>
<path fill="#ff6000" class="c" d="M2101 5524l7-56-5-53-7 67z"/>
<path fill="#ff4a00" class="c" d="M2094 5580l7-56-5-42-7 67z"/>
<path fill="#ff4000" class="c" d="M2087 5635l7-55-5-31-7 67z"/>
<path fill="#ff9500" class="c" d="M2113 5522l7-44-5-65-7 55z"/>
<path fill="#ff8000" class="c" d="M2106 5567l7-45-5-54-7 56z"/>
<path fill="#ff7500" class="c" d="M2099 5611l7-44-5-43-7 56z"/>
<path fill="#ff6000" class="c" d="M2093 5655l6-44-5-31-7 55z"/>
<path fill="#ffbf00" class="c" d="M2118 5576l7-33-5-65-7 44z"/>
<path fill="#fa0" class="c" d="M2111 5609l7-33-5-54-7 45z"/>
<path fill="#ff9500" class="c" d="M2105 5642l6-33-5-42-7 44z"/>
<path fill="#ff8000" class="c" d="M2098 5675l7-33-6-31-6 44z"/>
<path fill="#ff2a00" d="M2070 5794l28-119-21-79-27 165z"/>
<path fill="#ff0b00" class="c" d="M2055 5769l27-153-5-20-27 165z"/>
<path fill="#ff2a00" class="c" d="M2074 5706l13-71-5-19-14 76z"/>
<path fill="#ff2000" class="c" d="M2067 5742l7-36-6-14-6 39z"/>
<path fill="#ff1500" class="c" d="M2060 5777l7-35-5-11-7 38z"/>
<path fill="#ff4a00" class="c" d="M2086 5688l7-33-6-20-7 36z"/>
<path fill="#ff4000" class="c" d="M2079 5720l7-32-6-17-6 35z"/>
<path fill="#ff3500" class="c" d="M2072 5753l7-33-5-14-7 36z"/>
<path fill="#ff2a00" class="c" d="M2065 5786l7-33-5-11-7 35z"/>
<path fill="#ff6a00" class="c" d="M2091 5705l7-30-5-20-7 33z"/>
<path fill="#ff6000" class="c" d="M2084 5735l7-30-5-17-7 32z"/>
<path fill="#ff4a00" class="c" d="M2077 5764l7-29-5-15-7 33z"/>
<path fill="#ff4000" class="c" d="M2070 5794l7-30-5-11-7 33z"/>
<path fill="#ff0b00" d="M2043 5884l27-90-20-33-28 112z"/>
<path fill="#f00" class="c" d="M2034 5849l21-80-5-8-21 84z"/>
<path fill="#f40000" class="c" d="M2027 5875l7-26-5-4-7 28z"/>
<path fill="#ff1500" class="c" d="M2053 5802l7-25-5-8-7 27z"/>
<path fill="#ff0b00" class="c" d="M2046 5828l7-26-5-6-7 26z"/>
<path fill="#f00" class="c" d="M2032 5878l14-50-5-6-14 53z"/>
<path fill="#ff2000" class="c" d="M2058 5809l7-23-5-9-7 25z"/>
<path fill="#ff1500" class="c" d="M2051 5833l7-24-5-7-7 26z"/>
<path fill="#ff0b00" class="c" d="M2045 5857l6-24-5-5-7 25z"/>
<path fill="#f00" class="c" d="M2038 5881l7-24-6-4-7 25z"/>
<path fill="#ff2a00" class="c" d="M2063 5816l7-22-5-8-7 23z"/>
<path fill="#ff2000" class="c" d="M2057 5839l6-23-5-7-7 24z"/>
<path fill="#ff0b00" class="c" d="M2050 5861l7-22-6-6-6 24z"/>
<path fill="#f00" class="c" d="M2043 5884l7-23-5-4-7 24z"/>
<path fill="#f40000" d="M2015 5953l28-69-21-11-27 84z"/>
<path fill="#f40000" d="M1988 6012l27-59-20 4-28 67z"/>
<path fill="#f40000" d="M1961 6066l27-54-21 12-27 57z"/>
<path fill="#f40000" d="M1933 6119l28-53-21 15-28 51z"/>
<path fill="#f40000" d="M1906 6169l27-50-21 13-27 47z"/>
<path fill="#f40000" d="M1878 6218l28-49-21 10-27 45z"/>
<path fill="#f40000" d="M1851 6264l27-46-20 6-28 43z"/>
<path fill="#f40000" d="M1824 6307l27-43-21 3-27 41z"/>
<path fill="#f40000" d="M1796 6348l28-41-21 1-28 39z"/>
<path fill="#f00" d="M1769 6387l27-39-21-1-27 37z"/>
<path fill="#ff0b00" d="M1741 6424l28-37-21-3-27 36z"/>
<path fill="#ff1500" d="M1714 6459l27-35-20-4-28 34z"/>
<path fill="#ff2000" d="M1686 6493l28-34-21-5-27 33z"/>
<path fill="#ff2000" d="M1659 6526l27-33-20-6-28 31z"/>
<path fill="#ff2a00" d="M1632 6557l27-31-21-8-27 31z"/>
<path class="m" d="M3249 6054l-21-23M3140 6059l-21-26M3002 6066l-20-27M2865 6076l-20-28M2728 6074l-20-29M2591 6046l-21-35M2454 6007l-21-49M2317 5966l-21-35M2180 5632l-21-99M2043 5884l-21-11M1906 6169l-21 10M1769 6387l-21-3M1632 6557l-21-8"/>
<path fill="#ffca00" d="M3243 6079l27-1-21-24-27 1z"/>
<path fill="#ffca00" d="M3215 6081l28-2-21-24-28 1z"/>
<path fill="#ffca00" d="M3188 6082l27-1-21-25-27 1z"/>
<path fill="#ffca00" d="M3160 6084l28-2-21-25-27 2z"/>
<path fill="#ffca00" d="M3133 6086l27-2-20-25-28 1z"/>
<path fill="#ffd400" d="M3105 6087l28-1-21-26-27 1z"/>
<path fill="#ffd400" d="M3078 6089l27-2-20-26-28 2z"/>
<path fill="#ffd400" d="M3051 6091l27-2-21-26-27 2z"/>
<path fill="#ffd400" d="M3023 6094l28-3-21-26-28 1z"/>
<path fill="#ffd400" d="M2996 6096l27-2-21-28-27 2z"/>
<path fill="#ffd400" d="M2968 6098l28-2-21-28-27 2z"/>
<path fill="#ffd400" d="M2941 6100l27-2-20-28-28 2z"/>
<path fill="#ffd400" d="M2914 6102l27-2-21-28-27 2z"/>
<path fill="#ffd400" d="M2886 6104l28-2-21-28-28 2z"/>
<path fill="#ffd400" d="M2859 6105l27-1-21-28-27 1z"/>
<path fill="#ffd400" d="M2831 6105l28 0-21-28-27 1z"/>
<path fill="#ffd400" d="M2804 6105l27 0-20-27-28-1z"/>
<path fill="#ffd400" d="M2776 6104l28 1-21-28-27-1z"/>
<path fill="#ffd400" d="M2749 6102l27 2-20-28-28-2z"/>
<path fill="#ffd400" d="M2722 6099l27 3-21-28-27-4z"/>
<path fill="#ffd400" d="M2694 6096l28 3-21-29-28-4z"/>
<path fill="#ffdf00" d="M2667 6091l27 5-21-30-27-6z"/>
<path fill="#ffdf00" d="M2639 6086l28 5-21-31-27-7z"/>
<path fill="#ffdf00" d="M2612 6080l27 6-20-33-28-7z"/>
<path fill="#ffea00" d="M2585 6074l27 6-21-34-27-9z"/>
<path fill="#ffea00" d="M2557 6067l28 7-21-37-28-8z"/>
<path fill="#ffea00" d="M2530 6061l27 6-21-38-27-8z"/>
<path fill="#fff400" d="M2502 6056l28 5-21-40-27-8z"/>
<path fill="#fff400" d="M2475 6051l27 5-20-43-28-6z"/>
<path fill="#fff400" d="M2447 6047l28 4-21-44-27-5z"/>
<path fill="#fff400" d="M2420 6043l27 4-20-45-28-4z"/>
<path fill="#fff400" d="M2393 6037l27 6-21-45-27-4z"/>
<path fill="#ffea00" d="M2365 6024l28 13-21-43-28-9z"/>
<path fill="#fff400" class="c" d="M2369 6010l13 5-10-21-14-5z"/>
<path fill="#ffea00" class="c" d="M2355 6004l14 6-11-21-14-4zM2379 6030l14 7-11-22-13-5z"/>
<path fill="#ffdf00" class="c" d="M2365 6024l14 6-10-20-14-6z"/>
<path fill="#ffd400" d="M2338 6002l27 22-21-39-27-19z"/>
<path fill="#ffdf00" class="c" d="M2341 5994l14 10-11-19-13-9z"/>
<path fill="#ffca00" class="c" d="M2327 5984l14 10-10-18-14-10z"/>
<path fill="#ffd400" class="c" d="M2351 6013l14 11-10-20-14-10z"/>
<path fill="#ffca00" class="c" d="M2338 6002l13 11-10-19-14-10z"/>
<path fill="#ffb500" d="M2310 5970l28 32-21-36-27-32z"/>
<path fill="#ffbf00" class="c" d="M2314 5968l13 16-10-18-14-16z"/>
<path fill="#ffb500" class="c" d="M2300 5952l14 16-11-18-13-16z"/>
<path fill="#ffbf00" class="c" d="M2324 5986l14 16-11-18-13-16z"/>
<path fill="#ffb500" class="c" d="M2310 5970l14 16-10-18-14-16z"/>
<path fill="#fa0" d="M2283 5928l27 42-20-36-28-46z"/>
<path fill="#fa0" class="c" d="M2286 5930l14 22-10-18-14-23z"/>
<path fill="#ff9f00" class="c" d="M2273 5908l13 22-10-19-14-23z"/>
<path fill="#ffb500" class="c" d="M2297 5949l13 21-10-18-14-22z"/>
<path fill="#fa0" class="c" d="M2283 5928l14 21-11-19-13-22z"/>
<path fill="#fa0" d="M2256 5877l27 51-21-40-27-63z"/>
<path fill="#ff9500" class="c" d="M2242 5842l27 59-7-13-27-63z"/>
<path fill="#ff9f00" class="c" d="M2267 5896l9 19-7-14-9-19z"/>
<path fill="#fa0" class="c" d="M2249 5860l18 36-7-14-18-40z"/>
<path fill="#ffb500" class="c" d="M2256 5877l27 51-7-13-27-55z"/>
<path fill="#fa0" d="M2228 5816l28 61-21-52-28-83z"/>
<path fill="#ff9f00" class="c" d="M2214 5767l28 75-7-17-28-83z"/>
<path fill="#fa0" class="c" d="M2230 5814l19 46-7-18-19-50z"/>
<path fill="#ffb500" class="c" d="M2221 5791l9 23-7-22-9-25zM2246 5856l10 21-7-17-10-23z"/>
<path fill="#ffbf00" class="c" d="M2228 5816l18 40-7-19-18-46z"/>
<path fill="#ffbf00" d="M2201 5753l27 63-21-74-27-110z"/>
<path fill="#fa0" class="c" d="M2199 5711l14 49-6-18-13-55z"/>
<path fill="#ffb500" class="c" d="M2192 5687l7 24-5-24-7-27z"/>
<path fill="#ffbf00" class="c" d="M2185 5662l7 25-5-27-7-28z"/>
<path fill="#ffb500" class="c" d="M2211 5757l7 22-5-19-7-24z"/>
<path fill="#ffbf00" class="c" d="M2197 5714l14 43-5-21-14-49z"/>
<path fill="#ffca00" class="c" d="M2190 5692l7 22-5-27-7-25z"/>
<path fill="#ffbf00" class="c" d="M2216 5779l7 19-5-19-7-22z"/>
<path fill="#ffca00" class="c" d="M2202 5741l14 38-5-22-14-43z"/>
<path fill="#ffd400" class="c" d="M2195 5723l7 18-5-27-7-22z"/>
<path fill="#ffca00" class="c" d="M2221 5800l7 16-5-18-7-19z"/>
<path fill="#ffd400" class="c" d="M2208 5769l13 31-5-21-14-38z"/>
<path fill="#ffdf00" class="c" d="M2201 5753l7 16-6-28-7-18z"/>
<path fill="#ffdf00" d="M2173 5709l28 44-21-121-27-111z"/>
<path fill="#ffca00" class="c" d="M2178 5643l9 29-7-40-9-37z"/>
<path fill="#ffd400" class="c" d="M2169 5613l9 30-7-48-9-37z"/>
<path fill="#ffdf00" class="c" d="M2159 5583l10 30-7-55-9-37z"/>
<path fill="#ffd400" class="c" d="M2185 5690l9 22-7-40-9-29z"/>
<path fill="#ffdf00" class="c" d="M2175 5668l10 22-7-47-9-30z"/>
<path fill="#ffea00" class="c" d="M2166 5646l9 22-6-55-10-30z"/>
<path fill="#ffdf00" class="c" d="M2192 5738l9 15-7-41-9-22z"/>
<path fill="#ffea00" class="c" d="M2173 5709l19 29-7-48-19-44z"/>
<path fill="#ffea00" d="M2146 5717l27-8-20-188-28 22z"/>
<path fill="#ffea00" class="c" d="M2135 5630l28-15-10-94-28 22zM2146 5717l27-8-10-94-28 15z"/>
<path fill="#ffca00" d="M2118 5770l28-53-21-174-27 132z"/>
<path fill="#ffd400" class="c" d="M2123 5615l7-29-5-43-7 33z"/>
<path fill="#ffbf00" class="c" d="M2117 5643l6-28-5-39-7 33z"/>
<path fill="#fa0" class="c" d="M2110 5671l7-28-6-34-6 33z"/>
<path fill="#ff9500" class="c" d="M2103 5699l7-28-5-29-7 33z"/>
<path fill="#ffdf00" class="c" d="M2129 5653l6-23-5-44-7 29z"/>
<path fill="#ffca00" class="c" d="M2122 5676l7-23-6-38-6 28z"/>
<path fill="#ffbf00" class="c" d="M2115 5699l7-23-5-33-7 28z"/>
<path fill="#fa0" class="c" d="M2108 5722l7-23-5-28-7 28z"/>
<path fill="#ffea00" class="c" d="M2134 5692l7-19-6-43-6 23z"/>
<path fill="#ffd400" class="c" d="M2127 5710l7-18-5-39-7 23z"/>
<path fill="#ffca00" class="c" d="M2120 5728l7-18-5-34-7 23z"/>
<path fill="#ffbf00" class="c" d="M2113 5746l7-18-5-29-7 23z"/>
<path fill="#ffea00" class="c" d="M2139 5730l7-13-5-44-7 19z"/>
<path fill="#ffdf00" class="c" d="M2132 5743l7-13-5-38-7 18z"/>
<path fill="#ffd400" class="c" d="M2125 5756l7-13-5-33-7 18z"/>
<path fill="#ffca00" class="c" d="M2118 5770l7-14-5-28-7 18z"/>
<path fill="#ff6a00" d="M2091 5828l27-58-20-95-28 119z"/>
<path fill="#ff8000" class="c" d="M2096 5725l7-26-5-24-7 30z"/>
<path fill="#ff6a00" class="c" d="M2089 5751l7-26-5-20-7 30z"/>
<path fill="#f50" class="c" d="M2082 5777l7-26-5-16-7 29z"/>
<path fill="#ff4000" class="c" d="M2075 5802l7-25-5-13-7 30z"/>
<path fill="#ff9500" class="c" d="M2101 5745l7-23-5-23-7 26z"/>
<path fill="#ff7500" class="c" d="M2094 5767l7-22-5-20-7 26z"/>
<path fill="#f50" class="c" d="M2087 5789l7-22-5-16-7 26z"/>
<path fill="#ff3500" class="c" d="M2081 5811l6-22-5-12-7 25z"/>
<path fill="#ff9f00" class="c" d="M2106 5764l7-18-5-24-7 23z"/>
<path fill="#ff8000" class="c" d="M2100 5783l6-19-5-19-7 22z"/>
<path fill="#f50" class="c" d="M2093 5801l7-18-6-16-7 22z"/>
<path fill="#ff2a00" class="c" d="M2086 5820l7-19-6-12-6 22z"/>
<path fill="#ffb500" class="c" d="M2112 5784l6-14-5-24-7 18z"/>
<path fill="#ff8000" class="c" d="M2105 5799l7-15-6-20-6 19z"/>
<path fill="#f50" class="c" d="M2098 5814l7-15-5-16-7 18z"/>
<path fill="#ff2000" class="c" d="M2091 5828l7-14-5-13-7 19z"/>
<path fill="#ff0b00" d="M2064 5877l27-49-21-34-27 90z"/>
<path fill="#ff2a00" class="c" d="M2069 5822l6-20-5-8-7 22z"/>
<path fill="#ff2000" class="c" d="M2062 5842l7-20-6-6-6 23z"/>
<path fill="#ff0b00" class="c" d="M2055 5862l7-20-5-3-7 22z"/>
<path fill="#f00" class="c" d="M2048 5882l7-20-5-1-7 23z"/>
<path fill="#ff2000" class="c" d="M2074 5828l7-17-6-9-6 20z"/>
<path fill="#ff1500" class="c" d="M2067 5846l7-18-5-6-7 20z"/>
<path fill="#ff0b00" class="c" d="M2060 5863l7-17-5-4-7 20z"/>
<path fill="#f00" class="c" d="M2053 5881l7-18-5-1-7 20z"/>
<path fill="#ff1500" class="c" d="M2079 5834l7-14-5-9-7 17z"/>
<path fill="#ff0b00" class="c" d="M2072 5849l7-15-5-6-7 18z"/>
<path fill="#f00" class="c" d="M2058 5879l14-30-5-3-14 35z"/>
<path fill="#ff0b00" class="c" d="M2084 5841l7-13-5-8-7 14z"/>
<path fill="#f00" class="c" d="M2070 5865l14-24-5-7-14 30z"/>
<path fill="#f40000" class="c" d="M2064 5877l6-12-5-1-7 15z"/>
<path fill="#f40000" d="M2036 5927l28-50-21 7-28 69z"/>
<path fill="#f40000" d="M2009 5983l27-56-21 26-27 59z"/>
<path fill="#f40000" d="M1981 6042l28-59-21 29-27 54z"/>
<path fill="#f40000" d="M1954 6102l27-60-20 24-28 53z"/>
<path fill="#f40000" d="M1926 6158l28-56-21 17-27 50z"/>
<path fill="#f40000" d="M1899 6211l27-53-20 11-28 49z"/>
<path fill="#f40000" d="M1872 6261l27-50-21 7-27 46z"/>
<path fill="#f40000" d="M1844 6307l28-46-21 3-27 43z"/>
<path fill="#f40000" d="M1817 6350l27-43-20 0-28 41z"/>
<path fill="#f00" d="M1789 6391l28-41-21-2-27 39z"/>
<path fill="#ff0b00" d="M1762 6430l27-39-20-4-28 37z"/>
<path fill="#ff1500" d="M1735 6466l27-36-21-6-27 35z"/>
<path fill="#ff2000" d="M1707 6501l28-35-21-7-28 34z"/>
<path fill="#ff2a00" d="M1680 6534l27-33-21-8-27 33z"/>
<path fill="#ff3500" d="M1652 6566l28-32-21-8-27 31z"/>
<path class="m" d="M3270 6078l-21-24M3222 6055l27-1M3194 6056l28-1M3167 6057l27-1M3140 6059l27-2M3160 6084l-20-25M3112 6060l28-1M3085 6061l27-1M3057 6063l28-2M3030 6065l27-2M3002 6066l28-1M3023 6094l-21-28M2975 6068l27-2M2948 6070l27-2M2920 6072l28-2M2893 6074l27-2M2865 6076l28-2M2886 6104l-21-28M2838 6077l27-1M2811 6078l27-1M2783 6077l28 1M2756 6076l27 1M2728 6074l28 2M2749 6102l-21-28M2701 6070l27 4M2673 6066l28 4M2646 6060l27 6M2619 6053l27 7M2591 6046l28 7M2612 6080l-21-34M2564 6037l27 9M2536 6029l28 8M2509 6021l27 8M2482 6013l27 8M2454 6007l28 6M2475 6051l-21-44M2427 6002l27 5M2399 5998l28 4M2372 5994l27 4M2344 5985l28 9M2317 5966l27 19M2338 6002l-21-36M2290 5934l27 32M2262 5888l28 46M2235 5825l27 63M2207 5742l28 83M2180 5632l27 110M2201 5753l-21-121M2153 5521l27 111M2125 5543l28-22M2098 5675l27-132M2070 5794l28-119M2043 5884l27-90M2064 5877l-21 7M2015 5953l28-69M1988 6012l27-59M1961 6066l27-54M1933 6119l28-53M1906 6169l27-50M1926 6158l-20 11M1878 6218l28-49M1851 6264l27-46M1824 6307l27-43M1796 6348l28-41M1769 6387l27-39M1789 6391l-20-4M1741 6424l28-37M1714 6459l27-35M1686 6493l28-34M1659 6526l27-33M1632 6557l27-31M1652 6566l-20-9"/>
<path fill="#ffbf00" d="M3263 6103l28-2-21-23-27 1z"/>
<path fill="#ffca00" d="M3236 6105l27-2-20-24-28 2z"/>
<path fill="#ffca00" d="M3208 6107l28-2-21-24-27 1z"/>
<path fill="#ffca00" d="M3181 6109l27-2-20-25-28 2z"/>
<path fill="#ffca00" d="M3154 6111l27-2-21-25-27 2z"/>
<path fill="#ffca00" d="M3126 6113l28-2-21-25-28 1z"/>
<path fill="#ffd400" d="M3099 6115l27-2-21-26-27 2z"/>
<path fill="#ffd400" d="M3071 6118l28-3-21-26-27 2z"/>
<path fill="#ffd400" d="M3044 6120l27-2-20-27-28 3z"/>
<path fill="#ffd400" d="M3016 6123l28-3-21-26-27 2z"/>
<path fill="#ffd400" d="M2989 6125l27-2-20-27-28 2z"/>
<path fill="#ffd400" d="M2962 6127l27-2-21-27-27 2z"/>
<path fill="#ffd400" d="M2934 6129l28-2-21-27-27 2z"/>
<path fill="#ffd400" d="M2907 6131l27-2-20-27-28 2z"/>
<path fill="#ffd400" d="M2879 6132l28-1-21-27-27 1z"/>
<path fill="#ffd400" d="M2852 6133l27-1-20-27-28 0z"/>
<path fill="#ffd400" d="M2825 6133l27 0-21-28-27 0z"/>
<path fill="#ffd400" d="M2797 6132l28 1-21-28-28-1z"/>
<path fill="#ffd400" d="M2770 6130l27 2-21-28-27-2z"/>
<path fill="#ffd400" d="M2742 6128l28 2-21-28-27-3z"/>
<path fill="#ffd400" d="M2715 6125l27 3-20-29-28-3z"/>
<path fill="#ffdf00" d="M2687 6122l28 3-21-29-27-5z"/>
<path fill="#ffdf00" d="M2660 6118l27 4-20-31-28-5z"/>
<path fill="#ffdf00" d="M2633 6113l27 5-21-32-27-6z"/>
<path fill="#ffea00" d="M2605 6109l28 4-21-33-27-6z"/>
<path fill="#ffea00" d="M2578 6104l27 5-20-35-28-7z"/>
<path fill="#ffea00" d="M2550 6100l28 4-21-37-27-6z"/>
<path fill="#fff400" d="M2523 6097l27 3-20-39-28-5z"/>
<path fill="#fff400" d="M2496 6093l27 4-21-41-27-5z"/>
<path fill="#fff400" d="M2468 6090l28 3-21-42-28-4z"/>
<path fill="#fff400" d="M2441 6085l27 5-21-43-27-4z"/>
<path fill="#ffea00" d="M2413 6076l28 9-21-42-27-6z"/>
<path fill="#ffdf00" d="M2386 6061l27 15-20-39-28-13z"/>
<path fill="#ffea00" class="c" d="M2389 6049l14 7-10-19-14-7z"/>
<path fill="#ffdf00" class="c" d="M2376 6042l13 7-10-19-14-6zM2386 6061l27 15-10-20-27-14z"/>
<path fill="#ffca00" d="M2358 6038l28 23-21-37-27-22z"/>
<path fill="#ffd400" class="c" d="M2362 6031l14 11-11-18-14-11z"/>
<path fill="#ffca00" class="c" d="M2348 6020l14 11-11-18-13-11z"/>
<path fill="#ffd400" class="c" d="M2372 6049l14 12-10-19-14-11z"/>
<path fill="#ffca00" class="c" d="M2358 6038l14 11-10-18-14-11z"/>
<path fill="#ffbf00" d="M2331 6009l27 29-20-36-28-32z"/>
<path fill="#ffbf00" d="M2304 5975l27 34-21-39-27-42z"/>
<path fill="#ffbf00" class="c" d="M2293 5951l28 39-11-20-27-42zM2304 5975l27 34-10-19-28-39z"/>
<path fill="#ffbf00" d="M2276 5935l28 40-21-47-27-51z"/>
<path fill="#ffbf00" class="c" d="M2266 5906l27 45-10-23-27-51z"/>
<path fill="#ffca00" class="c" d="M2276 5935l28 40-11-24-27-45z"/>
<path fill="#ffd400" d="M2249 5892l27 43-20-58-28-61z"/>
<path fill="#ffca00" class="c" d="M2238 5854l28 52-10-29-28-61z"/>
<path fill="#ffd400" class="c" d="M2249 5892l27 43-10-29-28-52z"/>
<path fill="#ffdf00" d="M2221 5853l28 39-21-76-27-63z"/>
<path fill="#ffd400" class="c" d="M2225 5829l13 25-10-38-14-32z"/>
<path fill="#ffdf00" class="c" d="M2211 5803l14 26-11-45-13-31zM2235 5873l14 19-11-38-13-25z"/>
<path fill="#ffea00" class="c" d="M2221 5853l14 20-10-44-14-26z"/>
<path fill="#ffea00" d="M2194 5826l27 27-20-100-28-44z"/>
<path fill="#fff400" d="M2167 5817l27 9-21-117-27 8z"/>
<path fill="#ffbf00" d="M2139 5811l28 6-21-100-28 53z"/>
<path fill="#fff400" class="c" d="M2144 5751l7-9-5-25-7 13z"/>
<path fill="#ffdf00" class="c" d="M2137 5761l7-10-5-21-7 13z"/>
<path fill="#ffd400" class="c" d="M2130 5771l7-10-5-18-7 13z"/>
<path fill="#ffca00" class="c" d="M2124 5780l6-9-5-15-7 14z"/>
<path fill="#ffea00" class="c" d="M2149 5773l7-6-5-25-7 9z"/>
<path fill="#ffd400" class="c" d="M2142 5779l7-6-5-22-7 10z"/>
<path fill="#ffb500" class="c" d="M2136 5785l6-6-5-18-7 10z"/>
<path fill="#ff9f00" class="c" d="M2129 5791l7-6-6-14-6 9z"/>
<path fill="#ffea00" class="c" d="M2155 5794l6-2-5-25-7 6z"/>
<path fill="#ffbf00" class="c" d="M2148 5796l7-2-6-21-7 6z"/>
<path fill="#ff9f00" class="c" d="M2141 5799l7-3-6-17-6 6z"/>
<path fill="#ff8000" class="c" d="M2134 5801l7-2-5-14-7 6z"/>
<path fill="#ffdf00" class="c" d="M2160 5815l7 2-6-25-6 2z"/>
<path fill="#ffb500" class="c" d="M2153 5814l7 1-5-21-7 2z"/>
<path fill="#ff8a00" class="c" d="M2146 5813l7 1-5-18-7 3z"/>
<path fill="#f50" class="c" d="M2139 5811l7 2-5-14-7 2z"/>
<path fill="#ff4000" d="M2112 5804l27 7-21-41-27 58z"/>
<path fill="#fa0" class="c" d="M2117 5791l7-11-6-10-6 14z"/>
<path fill="#ff7500" class="c" d="M2110 5801l7-10-5-7-7 15z"/>
<path fill="#ff4a00" class="c" d="M2103 5812l7-11-5-2-7 15z"/>
<path fill="#ff1500" class="c" d="M2096 5822l7-10-5 2-7 14z"/>
<path fill="#ff8000" class="c" d="M2122 5797l7-6-5-11-7 11z"/>
<path fill="#ff6000" class="c" d="M2115 5803l7-6-5-6-7 10z"/>
<path fill="#ff3500" class="c" d="M2108 5810l7-7-5-2-7 11z"/>
<path fill="#ff1500" class="c" d="M2101 5816l7-6-5 2-7 10z"/>
<path fill="#ff6000" class="c" d="M2127 5803l7-2-5-10-7 6z"/>
<path fill="#ff4000" class="c" d="M2120 5806l7-3-5-6-7 6z"/>
<path fill="#ff2000" class="c" d="M2113 5808l7-2-5-3-7 7z"/>
<path fill="#ff0b00" class="c" d="M2107 5810l6-2-5 2-7 6z"/>
<path fill="#ff3500" class="c" d="M2132 5810l7 1-5-10-7 2z"/>
<path fill="#ff2a00" class="c" d="M2125 5808l7 2-5-7-7 3z"/>
<path fill="#ff1500" class="c" d="M2119 5806l6 2-5-2-7 2z"/>
<path fill="#f00" class="c" d="M2112 5804l7 2-6 2-6 2z"/>
<path fill="#f40000" d="M2084 5818l28-14-21 24-27 49z"/>
<path fill="#f40000" d="M2057 5868l27-50-20 59-28 50z"/>
<path fill="#f40000" d="M2029 5938l28-70-21 59-27 56z"/>
<path fill="#f40000" d="M2002 6013l27-75-20 45-28 59z"/>
<path fill="#f40000" d="M1975 6083l27-70-21 29-27 60z"/>
<path fill="#f40000" d="M1947 6148l28-65-21 19-28 56z"/>
<path fill="#f40000" d="M1920 6207l27-59-21 10-27 53z"/>
<path fill="#f40000" d="M1892 6260l28-53-21 4-27 50z"/>
<path fill="#f40000" d="M1865 6309l27-49-20 1-28 46z"/>
<path fill="#f00" d="M1838 6355l27-46-21-2-27 43z"/>
<path fill="#f00" class="c" d="M1827 6352l28-44-11-1-27 43zM1851 6332l14-23-10-1-14 22z"/>
<path fill="#ff0b00" class="c" d="M1838 6355l13-23-10-2-14 22z"/>
<path fill="#ff0b00" d="M1810 6397l28-42-21-5-28 41z"/>
<path fill="#ff0b00" class="c" d="M1800 6394l27-42-10-2-28 41zM1824 6376l14-21-11-3-14 21z"/>
<path fill="#ff1500" class="c" d="M1810 6397l14-21-11-3-13 21z"/>
<path fill="#ff1500" d="M1783 6437l27-40-21-6-27 39z"/>
<path fill="#ff2000" d="M1755 6474l28-37-21-7-27 36z"/>
<path fill="#ff2a00" d="M1728 6510l27-36-20-8-28 35z"/>
<path fill="#ff3500" d="M1700 6543l28-33-21-9-27 33z"/>
<path fill="#ff3500" d="M1673 6576l27-33-20-9-28 32z"/>
<path class="m" d="M3291 6101l-21-23M3181 6109l-21-25M3044 6120l-21-26M2907 6131l-21-27M2770 6130l-21-28M2633 6113l-21-33M2496 6093l-21-42M2358 6038l-20-36M2221 5853l-20-100M2084 5818l-20 59M1947 6148l-21 10M1810 6397l-21-6M1673 6576l-21-10"/>
<path fill="#ffbf00" d="M3284 6126l27-2-20-23-28 2z"/>
<path fill="#ffca00" d="M3257 6129l27-3-21-23-27 2z"/>
<path fill="#ffca00" d="M3229 6131l28-2-21-24-28 2z"/>
<path fill="#ffca00" d="M3202 6133l27-2-21-24-27 2z"/>
<path fill="#ffca00" d="M3174 6136l28-3-21-24-27 2z"/>
<path fill="#ffca00" d="M3147 6138l27-2-20-25-28 2z"/>
<path fill="#ffca00" d="M3119 6141l28-3-21-25-27 2z"/>
<path fill="#ffd400" d="M3092 6144l27-3-20-26-28 3z"/>
<path fill="#ffd400" d="M3065 6146l27-2-21-26-27 2z"/>
<path fill="#ffd400" d="M3037 6149l28-3-21-26-28 3z"/>
<path fill="#ffd400" d="M3010 6151l27-2-21-26-27 2z"/>
<path fill="#ffd400" d="M2982 6154l28-3-21-26-27 2z"/>
<path fill="#ffd400" d="M2955 6156l27-2-20-27-28 2z"/>
<path fill="#ffd400" d="M2928 6158l27-2-21-27-27 2z"/>
<path fill="#ffd400" d="M2900 6159l28-1-21-27-28 1z"/>
<path fill="#ffd400" d="M2873 6160l27-1-21-27-27 1z"/>
<path fill="#ffd400" d="M2845 6160l28 0-21-27-27 0z"/>
<path fill="#ffd400" d="M2818 6160l27 0-20-27-28-1z"/>
<path fill="#ffd400" d="M2790 6159l28 1-21-28-27-2z"/>
<path fill="#ffd400" d="M2763 6157l27 2-20-29-28-2z"/>
<path fill="#ffd400" d="M2736 6155l27 2-21-29-27-3z"/>
<path fill="#ffdf00" d="M2708 6152l28 3-21-30-28-3z"/>
<path fill="#ffdf00" d="M2681 6150l27 2-21-30-27-4z"/>
<path fill="#ffdf00" d="M2653 6147l28 3-21-32-27-5z"/>
<path fill="#ffea00" d="M2626 6143l27 4-20-34-28-4z"/>
<path fill="#ffea00" d="M2599 6140l27 3-21-34-27-5z"/>
<path fill="#ffea00" d="M2571 6138l28 2-21-36-28-4z"/>
<path fill="#fff400" d="M2544 6135l27 3-21-38-27-3z"/>
<path fill="#fff400" d="M2516 6132l28 3-21-38-27-4z"/>
<path fill="#fff400" d="M2489 6129l27 3-20-39-28-3z"/>
<path fill="#ffea00" d="M2461 6123l28 6-21-39-27-5z"/>
<path fill="#ffea00" d="M2434 6112l27 11-20-38-28-9z"/>
<path fill="#ffdf00" d="M2407 6097l27 15-21-36-27-15z"/>
<path fill="#ffd400" d="M2379 6076l28 21-21-36-28-23z"/>
<path fill="#ffca00" d="M2352 6051l27 25-21-38-27-29z"/>
<path fill="#ffca00" d="M2324 6023l28 28-21-42-27-34z"/>
<path fill="#ffd400" d="M2297 5992l27 31-20-48-28-40z"/>
<path fill="#ffdf00" d="M2270 5959l27 33-21-57-27-43z"/>
<path fill="#ffdf00" d="M2242 5927l28 32-21-67-28-39z"/>
<path fill="#ffdf00" d="M2215 5892l27 35-21-74-27-27z"/>
<path fill="#ffea00" class="c" d="M2201 5848l27 30-7-25-27-27zM2226 5892l9 10-7-24-9-10z"/>
<path fill="#ffdf00" class="c" d="M2208 5870l18 22-7-24-18-20zM2233 5915l9 12-7-25-9-10z"/>
<path fill="#ffd400" class="c" d="M2224 5904l9 11-7-23-9-11z"/>
<path fill="#ffca00" class="c" d="M2215 5892l9 12-7-23-9-11z"/>
<path fill="#ffbf00" d="M2187 5844l28 48-21-66-27-9z"/>
<path fill="#ffea00" class="c" d="M2172 5823l27 20-5-17-27-9z"/>
<path fill="#ffdf00" class="c" d="M2197 5852l7 7-5-16-7-5z"/>
<path fill="#ffd400" class="c" d="M2191 5845l6 7-5-14-7-5z"/>
<path fill="#ffca00" class="c" d="M2184 5838l7 7-6-12-6-5z"/>
<path fill="#ffbf00" class="c" d="M2177 5830l7 8-5-10-7-5z"/>
<path fill="#ffca00" class="c" d="M2203 5866l7 10-6-17-7-7z"/>
<path fill="#ffb500" class="c" d="M2196 5856l7 10-6-14-6-7z"/>
<path fill="#fa0" class="c" d="M2189 5847l7 9-5-11-7-7z"/>
<path fill="#ff9500" class="c" d="M2182 5837l7 10-5-9-7-8z"/>
<path fill="#ffbf00" class="c" d="M2208 5880l7 12-5-16-7-10z"/>
<path fill="#ff9f00" class="c" d="M2201 5868l7 12-5-14-7-10z"/>
<path fill="#ff8000" class="c" d="M2194 5856l7 12-5-12-7-9z"/>
<path fill="#ff6a00" class="c" d="M2187 5844l7 12-5-9-7-10z"/>
<path fill="#f50" d="M2160 5777l27 67-20-27-28-6z"/>
<path fill="#ffca00" class="c" d="M2165 5818l7 5-5-6-7-2z"/>
<path fill="#ff9f00" class="c" d="M2158 5813l7 5-5-3-7-1z"/>
<path fill="#ff6a00" class="c" d="M2151 5808l7 5-5 1-7-1z"/>
<path fill="#ff4000" class="c" d="M2144 5803l7 5-5 5-7-2z"/>
<path fill="#ff9f00" class="c" d="M2170 5821l7 9-5-7-7-5z"/>
<path fill="#ff8000" class="c" d="M2163 5812l7 9-5-3-7-5z"/>
<path fill="#f50" class="c" d="M2156 5803l7 9-5 1-7-5z"/>
<path fill="#ff2a00" class="c" d="M2150 5794l6 9-5 5-7-5z"/>
<path fill="#ff7500" class="c" d="M2175 5824l7 13-5-7-7-9z"/>
<path fill="#f50" class="c" d="M2168 5811l7 13-5-3-7-9z"/>
<path fill="#ff3500" class="c" d="M2162 5798l6 13-5 1-7-9z"/>
<path fill="#ff1500" class="c" d="M2155 5785l7 13-6 5-6-9z"/>
<path fill="#ff4a00" class="c" d="M2180 5827l7 17-5-7-7-13z"/>
<path fill="#ff3500" class="c" d="M2174 5811l6 16-5-3-7-13z"/>
<path fill="#ff2000" class="c" d="M2167 5794l7 17-6 0-6-13z"/>
<path fill="#ff0b00" class="c" d="M2160 5777l7 17-5 4-7-13z"/>
<path fill="#f00" d="M2132 5706l28 71-21 34-27-7z"/>
<path fill="#ff2000" class="c" d="M2137 5790l9 10-7 11-9-2z"/>
<path fill="#ff0b00" class="c" d="M2128 5781l9 9-7 19-9-2z"/>
<path fill="#f00" class="c" d="M2119 5772l9 9-7 26-9-3z"/>
<path fill="#ff0b00" class="c" d="M2144 5772l9 16-7 12-9-10z"/>
<path fill="#f00" class="c" d="M2126 5739l18 33-7 18-18-18zM2142 5730l18 47-7 11-18-33z"/>
<path fill="#f40000" class="c" d="M2132 5706l10 24-7 25-9-16z"/>
<path fill="#f40000" d="M2105 5696l27 10-20 98-28 14z"/>
<path fill="#f40000" d="M2078 5778l27-82-21 122-27 50z"/>
<path fill="#f40000" d="M2050 5886l28-108-21 90-28 70z"/>
<path fill="#f40000" d="M2023 5985l27-99-21 52-27 75z"/>
<path fill="#f40000" d="M1995 6069l28-84-21 28-27 70z"/>
<path fill="#f40000" d="M1968 6142l27-73-20 14-28 65z"/>
<path fill="#f40000" d="M1941 6206l27-64-21 6-27 59z"/>
<path fill="#f40000" d="M1913 6263l28-57-21 1-28 53z"/>
<path fill="#f00" d="M1886 6314l27-51-21-3-27 49z"/>
<path fill="#f00" class="c" d="M1875 6312l28-50-11-2-27 49zM1899 6289l14-26-10-1-14 25z"/>
<path fill="#ff0b00" class="c" d="M1886 6314l13-25-10-2-14 25z"/>
<path fill="#ff0b00" d="M1858 6362l28-48-21-5-27 46z"/>
<path fill="#ff0b00" class="c" d="M1848 6358l27-46-10-3-27 46zM1872 6338l14-24-11-2-13 23z"/>
<path fill="#ff1500" class="c" d="M1858 6362l14-24-10-3-14 23z"/>
<path fill="#ff1500" d="M1831 6405l27-43-20-7-28 42z"/>
<path fill="#ff1500" class="c" d="M1821 6401l27-43-10-3-28 42z"/>
<path fill="#ff2000" class="c" d="M1831 6405l27-43-10-4-27 43z"/>
<path fill="#ff2000" d="M1803 6446l28-41-21-8-27 40z"/>
<path fill="#ff2000" class="c" d="M1793 6441l28-40-11-4-27 40z"/>
<path fill="#ff2a00" class="c" d="M1803 6446l28-41-10-4-28 40z"/>
<path fill="#ff2a00" d="M1776 6484l27-38-20-9-28 37z"/>
<path fill="#ff3500" d="M1749 6520l27-36-21-10-27 36z"/>
<path fill="#ff4000" d="M1721 6554l28-34-21-10-28 33z"/>
<path fill="#ff4000" d="M1694 6587l27-33-21-11-27 33z"/>
<path class="m" d="M3311 6124l-20-23M3202 6133l-21-24M3065 6146l-21-26M2928 6158l-21-27M2790 6159l-20-29M2653 6147l-20-34M2516 6132l-20-39M2379 6076l-21-38M2242 5927l-21-74M2105 5696l-21 122M1968 6142l-21 6M1831 6405l-21-8M1694 6587l-21-11"/>
<path fill="#ffbf00" d="M3305 6150l27-3-21-23-27 2z"/>
<path fill="#ffbf00" d="M3277 6152l28-2-21-24-27 3z"/>
<path fill="#ffca00" d="M3250 6155l27-3-20-23-28 2z"/>
<path fill="#ffca00" d="M3222 6158l28-3-21-24-27 2z"/>
<path fill="#ffca00" d="M3195 6160l27-2-20-25-28 3z"/>
<path fill="#ffca00" d="M3168 6163l27-3-21-24-27 2z"/>
<path fill="#ffca00" d="M3140 6166l28-3-21-25-28 3z"/>
<path fill="#ffca00" d="M3113 6169l27-3-21-25-27 3z"/>
<path fill="#ffca00" d="M3085 6172l28-3-21-25-27 2z"/>
<path fill="#ffd400" d="M3058 6175l27-3-20-26-28 3z"/>
<path fill="#ffd400" d="M3031 6177l27-2-21-26-27 2z"/>
<path fill="#ffd400" d="M3003 6180l28-3-21-26-28 3z"/>
<path fill="#ffd400" d="M2976 6182l27-2-21-26-27 2z"/>
<path fill="#ffd400" d="M2948 6184l28-2-21-26-27 2z"/>
<path fill="#ffd400" d="M2921 6185l27-1-20-26-28 1z"/>
<path fill="#ffd400" d="M2893 6186l28-1-21-26-27 1z"/>
<path fill="#ffd400" d="M2866 6187l27-1-20-26-28 0z"/>
<path fill="#ffd400" d="M2839 6187l27 0-21-27-27 0z"/>
<path fill="#ffd400" d="M2811 6187l28 0-21-27-28-1z"/>
<path fill="#ffd400" d="M2784 6186l27 1-21-28-27-2z"/>
<path fill="#ffd400" d="M2756 6184l28 2-21-29-27-2z"/>
<path fill="#ffdf00" d="M2729 6183l27 1-20-29-28-3z"/>
<path fill="#ffdf00" d="M2702 6181l27 2-21-31-27-2z"/>
<path fill="#ffdf00" d="M2674 6179l28 2-21-31-28-3z"/>
<path fill="#ffea00" d="M2647 6177l27 2-21-32-27-4z"/>
<path fill="#ffea00" d="M2619 6175l28 2-21-34-27-3z"/>
<path fill="#ffea00" d="M2592 6173l27 2-20-35-28-2z"/>
<path fill="#ffea00" d="M2564 6172l28 1-21-35-27-3z"/>
<path fill="#ffea00" d="M2537 6169l27 3-20-37-28-3z"/>
<path fill="#ffea00" d="M2510 6165l27 4-21-37-27-3z"/>
<path fill="#ffea00" d="M2482 6159l28 6-21-36-28-6z"/>
<path fill="#ffdf00" d="M2455 6148l27 11-21-36-27-11z"/>
<path fill="#ffdf00" d="M2427 6133l28 15-21-36-27-15z"/>
<path fill="#ffd400" d="M2400 6115l27 18-20-36-28-21z"/>
<path fill="#ffd400" d="M2373 6093l27 22-21-39-27-25z"/>
<path fill="#ffd400" d="M2345 6069l28 24-21-42-28-28z"/>
<path fill="#ffd400" d="M2318 6042l27 27-21-46-27-31z"/>
<path fill="#ffd400" d="M2290 6011l28 31-21-50-27-33z"/>
<path fill="#ffdf00" class="c" d="M2280 5985l27 32-10-25-27-33z"/>
<path fill="#ffd400" class="c" d="M2290 6011l28 31-11-25-27-32z"/>
<path fill="#ffca00" d="M2263 5972l27 39-20-52-28-32z"/>
<path fill="#ffdf00" class="c" d="M2258 5953l18 23-6-17-19-21z"/>
<path fill="#ffd400" class="c" d="M2249 5942l9 11-7-15-9-11zM2274 5981l9 13-7-18-9-11z"/>
<path fill="#ffca00" class="c" d="M2256 5957l18 24-7-16-18-23zM2281 5998l9 13-7-17-9-13z"/>
<path fill="#ffbf00" class="c" d="M2272 5985l9 13-7-17-9-12z"/>
<path fill="#ffb500" class="c" d="M2263 5972l9 13-7-16-9-12z"/>
<path fill="#fa0" d="M2235 5918l28 54-21-45-27-35z"/>
<path fill="#ffd400" class="c" d="M2240 5928l7 10-5-11-7-9z"/>
<path fill="#ffca00" class="c" d="M2234 5918l6 10-5-10-7-9z"/>
<path fill="#ffbf00" class="c" d="M2220 5898l14 20-6-9-13-17z"/>
<path fill="#ffca00" class="c" d="M2246 5938l6 11-5-11-7-10z"/>
<path fill="#ffb500" class="c" d="M2239 5927l7 11-6-10-6-10z"/>
<path fill="#fa0" class="c" d="M2232 5916l7 11-5-9-7-10z"/>
<path fill="#ff9f00" class="c" d="M2225 5905l7 11-5-8-7-10z"/>
<path fill="#ffb500" class="c" d="M2251 5948l7 13-6-12-6-11z"/>
<path fill="#fa0" class="c" d="M2244 5936l7 12-5-10-7-11z"/>
<path fill="#ff9f00" class="c" d="M2237 5924l7 12-5-9-7-11z"/>
<path fill="#ff8a00" class="c" d="M2230 5911l7 13-5-8-7-11z"/>
<path fill="#fa0" class="c" d="M2256 5958l7 14-5-11-7-13z"/>
<path fill="#ff9500" class="c" d="M2249 5945l7 13-5-10-7-12z"/>
<path fill="#ff8a00" class="c" d="M2242 5931l7 14-5-9-7-12z"/>
<path fill="#ff7500" class="c" d="M2235 5918l7 13-5-7-7-13z"/>
<path fill="#ff6000" d="M2208 5839l27 79-20-26-28-48z"/>
<path fill="#fa0" class="c" d="M2213 5885l7 13-5-6-7-12z"/>
<path fill="#ff8a00" class="c" d="M2206 5871l7 14-5-5-7-12z"/>
<path fill="#ff6a00" class="c" d="M2199 5857l7 14-5-3-7-12z"/>
<path fill="#ff4a00" class="c" d="M2192 5843l7 14-5-1-7-12z"/>
<path fill="#ff9500" class="c" d="M2218 5889l7 16-5-7-7-13z"/>
<path fill="#ff7500" class="c" d="M2211 5873l7 16-5-4-7-14z"/>
<path fill="#ff6000" class="c" d="M2205 5857l6 16-5-2-7-14z"/>
<path fill="#ff4000" class="c" d="M2198 5842l7 15-6 0-7-14z"/>
<path fill="#ff8000" class="c" d="M2223 5893l7 18-5-6-7-16z"/>
<path fill="#ff6a00" class="c" d="M2217 5876l6 17-5-4-7-16z"/>
<path fill="#f50" class="c" d="M2210 5858l7 18-6-3-6-16z"/>
<path fill="#ff3500" class="c" d="M2203 5840l7 18-5-1-7-15z"/>
<path fill="#ff6a00" class="c" d="M2229 5898l6 20-5-7-7-18z"/>
<path fill="#f50" class="c" d="M2222 5878l7 20-6-5-6-17z"/>
<path fill="#ff4000" class="c" d="M2215 5859l7 19-5-2-7-18z"/>
<path fill="#ff3500" class="c" d="M2208 5839l7 20-5-1-7-18z"/>
<path fill="#ff1500" d="M2181 5721l27 118-21 5-27-67z"/>
<path fill="#ff3500" class="c" d="M2186 5823l6 20-5 1-7-17z"/>
<path fill="#ff2000" class="c" d="M2179 5803l7 20-6 4-6-16z"/>
<path fill="#ff1500" class="c" d="M2172 5783l7 20-5 8-7-17z"/>
<path fill="#f00" class="c" d="M2165 5763l7 20-5 11-7-17z"/>
<path fill="#ff2a00" class="c" d="M2191 5819l7 23-6 1-6-20z"/>
<path fill="#ff2000" class="c" d="M2184 5795l7 24-5 4-7-20z"/>
<path fill="#ff0b00" class="c" d="M2177 5772l7 23-5 8-7-20z"/>
<path fill="#f00" class="c" d="M2170 5749l7 23-5 11-7-20z"/>
<path fill="#ff2a00" class="c" d="M2196 5814l7 26-5 2-7-23z"/>
<path fill="#ff1500" class="c" d="M2189 5788l7 26-5 5-7-24z"/>
<path fill="#ff0b00" class="c" d="M2182 5762l7 26-5 7-7-23z"/>
<path fill="#f00" class="c" d="M2175 5735l7 27-5 10-7-23z"/>
<path fill="#ff2000" class="c" d="M2201 5810l7 29-5 1-7-26z"/>
<path fill="#ff1500" class="c" d="M2194 5780l7 30-5 4-7-26z"/>
<path fill="#ff0b00" class="c" d="M2187 5751l7 29-5 8-7-26z"/>
<path fill="#f00" class="c" d="M2181 5721l6 30-5 11-7-27z"/>
<path fill="#f40000" d="M2153 5538l28 183-21 56-28-71z"/>
<path fill="#f40000" d="M2126 5445l27 93-21 168-27-10z"/>
<path fill="#f40000" d="M2098 5671l28-226-21 251-27 82z"/>
<path fill="#f40000" d="M2071 5845l27-174-20 107-28 108z"/>
<path fill="#f40000" d="M2044 5970l27-125-21 41-27 99z"/>
<path fill="#f40000" d="M2016 6066l28-96-21 15-28 84z"/>
<path fill="#f40000" d="M1989 6144l27-78-21 3-27 73z"/>
<path fill="#f00" d="M1961 6212l28-68-21-2-27 64z"/>
<path fill="#f40000" class="c" d="M1965 6176l13-33-10-1-14 32z"/>
<path fill="#f00" class="c" d="M1951 6209l14-33-11-2-13 32zM1975 6178l14-34-11-1-13 33z"/>
<path fill="#ff0b00" class="c" d="M1961 6212l14-34-10-2-14 33z"/>
<path fill="#ff0b00" d="M1934 6271l27-59-20-6-28 57z"/>
<path fill="#f00" class="c" d="M1937 6238l14-29-10-3-14 29z"/>
<path fill="#ff0b00" class="c" d="M1923 6267l14-29-10-3-14 28zM1948 6241l13-29-10-3-14 29z"/>
<path fill="#ff1500" class="c" d="M1934 6271l14-30-11-3-14 29z"/>
<path fill="#ff1500" d="M1906 6323l28-52-21-8-27 51z"/>
<path fill="#ff0b00" class="c" d="M1910 6293l13-26-10-4-14 26z"/>
<path fill="#ff1500" class="c" d="M1896 6319l14-26-11-4-13 25zM1920 6297l14-26-11-4-13 26z"/>
<path fill="#ff2000" class="c" d="M1906 6323l14-26-10-4-14 26z"/>
<path fill="#ff2000" d="M1879 6372l27-49-20-9-28 48z"/>
<path fill="#ff1500" class="c" d="M1882 6343l14-24-10-5-14 24z"/>
<path fill="#ff2000" class="c" d="M1869 6367l13-24-10-5-14 24zM1893 6347l13-24-10-4-14 24z"/>
<path fill="#ff2a00" class="c" d="M1879 6372l14-25-11-4-13 24z"/>
<path fill="#ff2a00" d="M1852 6416l27-44-21-10-27 43z"/>
<path fill="#ff2000" class="c" d="M1855 6388l14-21-11-5-13 21z"/>
<path fill="#ff2a00" class="c" d="M1841 6410l14-22-10-5-14 22zM1865 6394l14-22-10-5-14 21z"/>
<path fill="#ff3500" class="c" d="M1852 6416l13-22-10-6-14 22z"/>
<path fill="#ff3500" d="M1824 6457l28-41-21-11-28 41z"/>
<path fill="#ff2a00" class="c" d="M1828 6431l13-21-10-5-14 20z"/>
<path fill="#ff3500" class="c" d="M1814 6451l14-20-11-6-14 21zM1824 6457l28-41-11-6-27 41z"/>
<path fill="#ff3500" d="M1797 6495l27-38-21-11-27 38z"/>
<path fill="#ff4000" d="M1769 6532l28-37-21-11-27 36z"/>
<path fill="#ff4000" d="M1742 6566l27-34-20-12-28 34z"/>
<path fill="#ff4a00" d="M1715 6599l27-33-21-12-27 33z"/>
<path class="m" d="M3332 6147l-21-23M3222 6158l-20-25M3085 6172l-20-26M2948 6184l-20-26M2811 6187l-21-28M2674 6179l-21-32M2537 6169l-21-37M2400 6115l-21-39M2263 5972l-21-45M2126 5445l-21 251M1989 6144l-21-2M1852 6416l-21-11M1715 6599l-21-12"/>
<path fill="#ffbf00" d="M3325 6173l28-3-21-23-27 3z"/>
<path fill="#ffbf00" d="M3298 6176l27-3-20-23-28 2z"/>
<path fill="#ffca00" d="M3271 6179l27-3-21-24-27 3z"/>
<path fill="#ffca00" d="M3243 6182l28-3-21-24-28 3z"/>
<path fill="#ffca00" d="M3216 6185l27-3-21-24-27 2z"/>
<path fill="#ffca00" d="M3188 6188l28-3-21-25-27 3z"/>
<path fill="#ffca00" d="M3161 6191l27-3-20-25-28 3z"/>
<path fill="#ffca00" d="M3134 6194l27-3-21-25-27 3z"/>
<path fill="#ffca00" d="M3106 6197l28-3-21-25-28 3z"/>
<path fill="#ffca00" d="M3079 6200l27-3-21-25-27 3z"/>
<path fill="#ffca00" d="M3051 6203l28-3-21-25-27 2z"/>
<path fill="#ffca00" d="M3024 6205l27-2-20-26-28 3z"/>
<path fill="#ffd400" d="M2996 6208l28-3-21-25-27 2z"/>
<path fill="#ffd400" d="M2969 6210l27-2-20-26-28 2z"/>
<path fill="#ffd400" d="M2942 6211l27-1-21-26-27 1z"/>
<path fill="#ffd400" d="M2914 6213l28-2-21-26-28 1z"/>
<path fill="#ffd400" d="M2887 6214l27-1-21-27-27 1z"/>
<path fill="#ffd400" d="M2859 6214l28 0-21-27-27 0z"/>
<path fill="#ffd400" d="M2832 6214l27 0-20-27-28 0z"/>
<path fill="#ffd400" d="M2805 6214l27 0-21-27-27-1z"/>
<path fill="#ffd400" d="M2777 6213l28 1-21-28-28-2z"/>
<path fill="#ffdf00" d="M2750 6213l27 0-21-29-27-1z"/>
<path fill="#ffdf00" d="M2722 6212l28 1-21-30-27-2z"/>
<path fill="#ffdf00" d="M2695 6211l27 1-20-31-28-2z"/>
<path fill="#ffea00" d="M2667 6210l28 1-21-32-27-2z"/>
<path fill="#ffea00" d="M2640 6209l27 1-20-33-28-2z"/>
<path fill="#ffea00" d="M2613 6208l27 1-21-34-27-2z"/>
<path fill="#ffea00" d="M2585 6206l28 2-21-35-28-1z"/>
<path fill="#ffea00" d="M2558 6204l27 2-21-34-27-3z"/>
<path fill="#ffea00" d="M2530 6200l28 4-21-35-27-4z"/>
<path fill="#ffdf00" d="M2503 6193l27 7-20-35-28-6z"/>
<path fill="#ffdf00" d="M2476 6183l27 10-21-34-27-11z"/>
<path fill="#ffd400" d="M2448 6169l28 14-21-35-28-15z"/>
<path fill="#ffd400" d="M2421 6153l27 16-21-36-27-18z"/>
<path fill="#ffd400" d="M2393 6133l28 20-21-38-27-22z"/>
<path fill="#ffd400" d="M2366 6110l27 23-20-40-28-24z"/>
<path fill="#ffca00" d="M2338 6082l28 28-21-41-27-27z"/>
<path fill="#ffd400" class="c" d="M2328 6062l27 28-10-21-27-27z"/>
<path fill="#ffca00" class="c" d="M2338 6082l28 28-11-20-27-28z"/>
<path fill="#ffbf00" d="M2311 6047l27 35-20-40-28-31z"/>
<path fill="#ffca00" class="c" d="M2297 6023l28 32-7-13-28-31zM2322 6058l10 11-7-14-10-10z"/>
<path fill="#ffbf00" class="c" d="M2304 6035l18 23-7-13-18-22zM2329 6071l9 11-6-13-10-11z"/>
<path fill="#ffb500" class="c" d="M2311 6047l18 24-7-13-18-23z"/>
<path fill="#fa0" d="M2284 6001l27 46-21-36-27-39z"/>
<path fill="#ffbf00" class="c" d="M2288 6009l9 14-7-12-9-13z"/>
<path fill="#ffb500" class="c" d="M2279 5995l9 14-7-11-9-13z"/>
<path fill="#fa0" class="c" d="M2270 5982l9 13-7-10-9-13z"/>
<path fill="#ffb500" class="c" d="M2295 6021l9 14-7-12-9-14z"/>
<path fill="#fa0" class="c" d="M2286 6006l9 15-7-12-9-14z"/>
<path fill="#ff9f00" class="c" d="M2277 5992l9 14-7-11-9-13z"/>
<path fill="#fa0" class="c" d="M2302 6032l9 15-7-12-9-14z"/>
<path fill="#ff9f00" class="c" d="M2293 6017l9 15-7-11-9-15z"/>
<path fill="#ff9500" class="c" d="M2284 6001l9 16-7-11-9-14z"/>
<path fill="#ff8000" d="M2256 5939l28 62-21-29-28-54z"/>
<path fill="#ff9500" class="c" d="M2261 5963l9 19-7-10-9-18z"/>
<path fill="#ff8000" class="c" d="M2251 5944l10 19-7-9-9-18z"/>
<path fill="#ff7500" class="c" d="M2242 5925l9 19-6-8-10-18z"/>
<path fill="#ff9500" class="c" d="M2268 5972l9 20-7-10-9-19z"/>
<path fill="#ff8000" class="c" d="M2258 5952l10 20-7-9-10-19z"/>
<path fill="#ff7500" class="c" d="M2249 5932l9 20-7-8-9-19z"/>
<path fill="#ff8a00" class="c" d="M2274 5981l10 20-7-9-9-20z"/>
<path fill="#ff8000" class="c" d="M2265 5960l9 21-6-9-10-20z"/>
<path fill="#ff7500" class="c" d="M2256 5939l9 21-7-8-9-20z"/>
<path fill="#f50" d="M2229 5853l27 86-21-21-27-79z"/>
<path fill="#ff6000" class="c" d="M2234 5903l7 20-6-5-6-20z"/>
<path fill="#f50" class="c" d="M2227 5883l7 20-5-5-7-20z"/>
<path fill="#ff4000" class="c" d="M2220 5863l7 20-5-5-7-19z"/>
<path fill="#ff3500" class="c" d="M2213 5843l7 20-5-4-7-20z"/>
<path fill="#ff6000" class="c" d="M2239 5908l7 21-5-6-7-20z"/>
<path fill="#f50" class="c" d="M2232 5887l7 21-5-5-7-20z"/>
<path fill="#ff4a00" class="c" d="M2225 5867l7 20-5-4-7-20z"/>
<path fill="#ff4000" class="c" d="M2218 5846l7 21-5-4-7-20z"/>
<path fill="#ff6a00" class="c" d="M2244 5913l7 21-5-5-7-21z"/>
<path fill="#ff6000" class="c" d="M2237 5892l7 21-5-5-7-21z"/>
<path fill="#f50" class="c" d="M2230 5871l7 21-5-5-7-20z"/>
<path fill="#ff4a00" class="c" d="M2224 5850l6 21-5-4-7-21z"/>
<path fill="#ff6a00" class="c" d="M2249 5918l7 21-5-5-7-21z"/>
<path fill="#ff6000" class="c" d="M2236 5875l13 43-5-5-14-42z"/>
<path fill="#f50" class="c" d="M2229 5853l7 22-6-4-6-21z"/>
<path fill="#ff3500" d="M2201 5721l28 132-21-14-27-118z"/>
<path fill="#ff2000" class="c" d="M2199 5782l14 61-5-4-14-59z"/>
<path fill="#ff1500" class="c" d="M2193 5752l6 30-5-2-7-29z"/>
<path fill="#ff0b00" class="c" d="M2186 5721l7 31-6-1-6-30z"/>
<path fill="#ff3500" class="c" d="M2212 5815l6 31-5-3-7-31z"/>
<path fill="#ff2a00" class="c" d="M2205 5784l7 31-6-3-7-30z"/>
<path fill="#ff2000" class="c" d="M2191 5721l14 63-6-2-13-61z"/>
<path fill="#ff4000" class="c" d="M2210 5785l14 65-6-4-13-62z"/>
<path fill="#ff3500" class="c" d="M2196 5721l14 64-5-1-14-63z"/>
<path fill="#f50" class="c" d="M2222 5820l7 33-5-3-7-33z"/>
<path fill="#ff4a00" class="c" d="M2208 5754l14 66-5-3-14-64z"/>
<path fill="#ff4000" class="c" d="M2201 5721l7 33-5-1-7-32z"/>
<path fill="#ff2a00" d="M2174 5476l27 245-20 0-28-183z"/>
<path fill="#f00" class="c" d="M2158 5522l28 199-5 0-28-183z"/>
<path fill="#ff1500" class="c" d="M2184 5668l7 53-5 0-7-49z"/>
<path fill="#ff2000" class="c" d="M2164 5507l20 161-5 4-21-150z"/>
<path fill="#ff2a00" class="c" d="M2189 5664l7 57-5 0-7-53z"/>
<path fill="#ff3500" class="c" d="M2169 5491l20 173-5 4-20-161z"/>
<path fill="#ff4a00" class="c" d="M2181 5537l20 184-5 0-20-172z"/>
<path fill="#f50" class="c" d="M2174 5476l7 61-5 12-7-58z"/>
<path fill="#ff4000" d="M2147 5241l27 235-21 62-27-93z"/>
<path fill="#ff0b00" class="c" d="M2131 5394l27 128-5 16-27-93z"/>
<path fill="#ff2000" class="c" d="M2157 5466l7 41-6 15-6-32z"/>
<path fill="#ff2a00" class="c" d="M2150 5425l7 41-5 24-7-32z"/>
<path fill="#ff3500" class="c" d="M2143 5384l7 41-5 33-7-32z"/>
<path fill="#ff4000" class="c" d="M2136 5343l7 41-5 42-7-32zM2162 5441l7 50-5 16-7-41z"/>
<path fill="#f50" class="c" d="M2155 5391l7 50-5 25-7-41z"/>
<path fill="#ff6000" class="c" d="M2148 5342l7 49-5 34-7-41z"/>
<path fill="#ff6a00" class="c" d="M2141 5292l7 50-5 42-7-41z"/>
<path fill="#ff6000" class="c" d="M2167 5417l7 59-5 15-7-50z"/>
<path fill="#ff7500" class="c" d="M2160 5358l7 59-5 24-7-50z"/>
<path fill="#ff8a00" class="c" d="M2153 5300l7 58-5 33-7-49z"/>
<path fill="#ff9f00" class="c" d="M2147 5241l6 59-5 42-7-50z"/>
<path fill="#ff2a00" d="M2119 5651l28-410-21 204-28 226z"/>
<path fill="#ff0b00" class="c" d="M2117 5530l14-136-5 51-14 113z"/>
<path fill="#f00" class="c" d="M2104 5666l13-136-5 28-14 113z"/>
<path fill="#ff3500" class="c" d="M2129 5422l7-79-5 51-7 68z"/>
<path fill="#ff2a00" class="c" d="M2122 5502l7-80-5 40-7 68z"/>
<path fill="#ff1500" class="c" d="M2116 5581l6-79-5 28-7 68z"/>
<path fill="#ff0b00" class="c" d="M2109 5661l7-80-6 17-6 68z"/>
<path fill="#ff6a00" class="c" d="M2134 5383l7-91-5 51-7 79z"/>
<path fill="#ff4a00" class="c" d="M2128 5474l6-91-5 39-7 80z"/>
<path fill="#ff2a00" class="c" d="M2121 5565l7-91-6 28-6 79z"/>
<path fill="#ff1500" class="c" d="M2114 5656l7-91-5 16-7 80z"/>
<path fill="#ff9500" class="c" d="M2140 5343l7-102-6 51-7 91z"/>
<path fill="#ff6a00" class="c" d="M2133 5446l7-103-6 40-6 91z"/>
<path fill="#ff4000" class="c" d="M2126 5548l7-102-5 28-7 91z"/>
<path fill="#ff2000" class="c" d="M2119 5651l7-103-5 17-7 91z"/>
<path fill="#f00" d="M2092 5849l27-198-21 20-27 174z"/>
<path fill="#f00" class="c" d="M2081 5847l28-186-11 10-27 174z"/>
<path fill="#ff0b00" class="c" d="M2092 5849l27-198-10 10-28 186z"/>
<path fill="#ff0b00" d="M2064 5979l28-130-21-4-27 125z"/>
<path fill="#f00" class="c" d="M2054 5974l27-127-10-2-27 125z"/>
<path fill="#ff0b00" class="c" d="M2064 5979l28-130-11-2-27 127z"/>
<path fill="#ff0b00" d="M2037 6077l27-98-20-9-28 96z"/>
<path fill="#f00" class="c" d="M2026 6071l28-97-10-4-28 96z"/>
<path fill="#ff1500" class="c" d="M2037 6077l27-98-10-5-28 97z"/>
<path fill="#ff1500" d="M2009 6157l28-80-21-11-27 78z"/>
<path fill="#f00" class="c" d="M2005 6122l18-53-7-3-18 52z"/>
<path fill="#ff0b00" class="c" d="M1996 6148l9-26-7-4-9 26zM2021 6100l9-27-7-4-9 27z"/>
<path fill="#ff1500" class="c" d="M2003 6153l18-53-7-4-18 52z"/>
<path fill="#ff2000" class="c" d="M2009 6157l28-80-7-4-27 80z"/>
<path fill="#ff1500" d="M1982 6224l27-67-20-13-28 68z"/>
<path fill="#ff0b00" class="c" d="M1977 6193l19-45-7-4-19 45z"/>
<path fill="#ff1500" class="c" d="M1968 6216l9-23-7-4-9 23zM1984 6198l19-45-7-5-19 45z"/>
<path fill="#ff2000" class="c" d="M1975 6220l9-22-7-5-9 23zM2000 6179l9-22-6-4-10 22z"/>
<path fill="#ff2a00" class="c" d="M1982 6224l18-45-7-4-18 45z"/>
<path fill="#ff2000" d="M1955 6284l27-60-21-12-27 59z"/>
<path fill="#ff1500" class="c" d="M1958 6248l14-30-11-6-13 29z"/>
<path fill="#ff2000" class="c" d="M1944 6277l14-29-10-7-14 30z"/>
<path fill="#ff2a00" class="c" d="M1955 6284l27-60-10-6-28 59z"/>
<path fill="#ff2a00" d="M1927 6337l28-53-21-13-28 52z"/>
<path fill="#ff2000" class="c" d="M1931 6304l13-27-10-6-14 26z"/>
<path fill="#ff2a00" class="c" d="M1917 6330l14-26-11-7-14 26z"/>
<path fill="#ff3500" class="c" d="M1927 6337l28-53-11-7-27 53z"/>
<path fill="#ff3500" d="M1900 6385l27-48-21-14-27 49z"/>
<path fill="#ff2a00" class="c" d="M1903 6354l14-24-11-7-13 24z"/>
<path fill="#ff3500" class="c" d="M1889 6378l14-24-10-7-14 25zM1913 6361l14-24-10-7-14 24z"/>
<path fill="#ff4000" class="c" d="M1900 6385l13-24-10-7-14 24z"/>
<path fill="#ff4000" d="M1872 6429l28-44-21-13-27 44z"/>
<path fill="#ff3500" class="c" d="M1862 6423l27-45-10-6-27 44z"/>
<path fill="#ff4000" class="c" d="M1872 6429l28-44-11-7-27 45z"/>
<path fill="#ff4000" d="M1845 6470l27-41-20-13-28 41z"/>
<path fill="#ff4000" class="c" d="M1835 6464l27-41-10-7-28 41zM1859 6450l13-21-10-6-14 20z"/>
<path fill="#ff4a00" class="c" d="M1845 6470l14-20-11-7-13 21z"/>
<path fill="#ff4a00" d="M1817 6509l28-39-21-13-27 38z"/>
<path fill="#ff4a00" d="M1790 6545l27-36-20-14-28 37z"/>
<path fill="#ff4a00" d="M1763 6580l27-35-21-13-27 34z"/>
<path fill="#f50" d="M1735 6613l28-33-21-14-27 33z"/>
<path class="m" d="M3353 6170l-21-23M3243 6182l-21-24M3106 6197l-21-25M2969 6210l-21-26M2832 6214l-21-27M2695 6211l-21-32M2558 6204l-21-35M2421 6153l-21-38M2284 6001l-21-29M2147 5241l-21 204M2009 6157l-20-13M1872 6429l-20-13M1735 6613l-20-14"/>
<path d="M2147 5807V5226" class="b"/>
<path fill="#ffbf00" d="M3346 6195l28-3-21-22-28 3z"/>
<path fill="#ffbf00" d="M3319 6199l27-4-21-22-27 3z"/>
<path fill="#ffbf00" d="M3291 6202l28-3-21-23-27 3z"/>
<path fill="#ffca00" d="M3264 6205l27-3-20-23-28 3z"/>
<path fill="#ffca00" d="M3236 6209l28-4-21-23-27 3z"/>
<path fill="#ffca00" d="M3209 6212l27-3-20-24-28 3z"/>
<path fill="#ffca00" d="M3182 6215l27-3-21-24-27 3z"/>
<path fill="#ffca00" d="M3154 6219l28-4-21-24-27 3z"/>
<path fill="#ffca00" d="M3127 6222l27-3-20-25-28 3z"/>
<path fill="#ffca00" d="M3099 6225l28-3-21-25-27 3z"/>
<path fill="#ffca00" d="M3072 6228l27-3-20-25-28 3z"/>
<path fill="#ffca00" d="M3045 6231l27-3-21-25-27 2z"/>
<path fill="#ffca00" d="M3017 6233l28-2-21-26-28 3z"/>
<path fill="#ffca00" d="M2990 6235l27-2-21-25-27 2z"/>
<path fill="#ffca00" d="M2962 6237l28-2-21-25-27 1z"/>
<path fill="#ffd400" d="M2935 6239l27-2-20-26-28 2z"/>
<path fill="#ffd400" d="M2907 6240l28-1-21-26-27 1z"/>
<path fill="#ffd400" d="M2880 6241l27-1-20-26-28 0z"/>
<path fill="#ffd400" d="M2853 6242l27-1-21-27-27 0z"/>
<path fill="#ffd400" d="M2825 6242l28 0-21-28-27 0z"/>
<path fill="#ffd400" d="M2798 6242l27 0-20-28-28-1z"/>
<path fill="#ffdf00" d="M2770 6242l28 0-21-29-27 0z"/>
<path fill="#ffdf00" d="M2743 6242l27 0-20-29-28-1z"/>
<path fill="#ffdf00" d="M2716 6242l27 0-21-30-27-1z"/>
<path fill="#ffdf00" d="M2688 6242l28 0-21-31-28-1z"/>
<path fill="#ffea00" d="M2661 6241l27 1-21-32-27-1z"/>
<path fill="#ffea00" d="M2633 6241l28 0-21-32-27-1z"/>
<path fill="#ffea00" d="M2606 6240l27 1-20-33-28-2z"/>
<path fill="#ffea00" d="M2578 6238l28 2-21-34-27-2z"/>
<path fill="#ffea00" d="M2551 6234l27 4-20-34-28-4z"/>
<path fill="#ffdf00" d="M2524 6227l27 7-21-34-27-7z"/>
<path fill="#ffdf00" d="M2496 6217l28 10-21-34-27-10z"/>
<path fill="#ffd400" d="M2469 6204l27 13-20-34-28-14z"/>
<path fill="#ffd400" d="M2441 6188l28 16-21-35-27-16z"/>
<path fill="#ffd400" d="M2414 6168l27 20-20-35-28-20z"/>
<path fill="#ffca00" d="M2387 6145l27 23-21-35-27-23z"/>
<path fill="#ffca00" class="c" d="M2376 6127l28 24-11-18-27-23zM2400 6157l14 11-10-17-14-12z"/>
<path fill="#ffbf00" class="c" d="M2387 6145l13 12-10-18-14-12z"/>
<path fill="#ffbf00" d="M2359 6116l28 29-21-35-28-28z"/>
<path fill="#ffbf00" class="c" d="M2349 6099l27 28-10-17-28-28zM2373 6130l14 15-11-18-14-14z"/>
<path fill="#ffb500" class="c" d="M2359 6116l14 14-11-17-13-14z"/>
<path fill="#fa0" d="M2332 6079l27 37-21-34-27-35z"/>
<path fill="#ffb500" class="c" d="M2335 6081l14 18-11-17-13-17z"/>
<path fill="#fa0" class="c" d="M2321 6063l14 18-10-16-14-18zM2332 6079l27 37-10-17-28-36z"/>
<path fill="#ff9f00" d="M2304 6034l28 45-21-32-27-46z"/>
<path fill="#ff9f00" class="c" d="M2308 6040l13 23-10-16-14-23z"/>
<path fill="#ff9500" class="c" d="M2294 6018l14 22-11-16-13-23z"/>
<path fill="#ff9f00" class="c" d="M2318 6056l14 23-11-16-13-23z"/>
<path fill="#ff9500" class="c" d="M2304 6034l14 22-10-16-14-22z"/>
<path fill="#ff8a00" d="M2277 5976l27 58-20-33-28-62z"/>
<path fill="#ff8a00" class="c" d="M2281 5992l9 20-6-11-10-20z"/>
<path fill="#ff8000" class="c" d="M2272 5972l9 20-7-11-9-21z"/>
<path fill="#ff7500" class="c" d="M2263 5952l9 20-7-12-9-21z"/>
<path fill="#ff8a00" class="c" d="M2270 5964l27 59-7-11-27-60z"/>
<path fill="#ff9500" class="c" d="M2277 5976l27 58-7-11-27-59z"/>
<path fill="#ff8000" d="M2249 5901l28 75-21-37-27-86z"/>
<path fill="#ff7500" class="c" d="M2254 5928l7 21-5-10-7-21z"/>
<path fill="#ff6a00" class="c" d="M2234 5865l20 63-5-10-20-65z"/>
<path fill="#ff8000" class="c" d="M2253 5917l14 41-6-9-13-42z"/>
<path fill="#ff7500" class="c" d="M2239 5877l14 40-5-10-14-42z"/>
<path fill="#ff8a00" class="c" d="M2244 5889l28 78-5-9-28-81z"/>
<path fill="#ff9500" class="c" d="M2249 5901l28 75-5-9-28-78z"/>
<path fill="#ff8000" d="M2222 5803l27 98-20-48-28-132z"/>
<path fill="#ff6000" class="c" d="M2207 5742l27 123-5-12-28-132z"/>
<path fill="#ff7500" class="c" d="M2212 5762l27 115-5-12-27-123z"/>
<path fill="#ff8a00" class="c" d="M2217 5782l27 107-5-12-27-115z"/>
<path fill="#ff9500" class="c" d="M2243 5876l6 25-5-12-7-27z"/>
<path fill="#ff9f00" class="c" d="M2229 5827l14 49-6-14-13-53z"/>
<path fill="#fa0" class="c" d="M2222 5803l7 24-5-18-7-27z"/>
<path fill="#ff9500" d="M2195 5690l27 113-21-82-27-245z"/>
<path fill="#ff6000" class="c" d="M2193 5635l14 107-6-21-13-123z"/>
<path fill="#ff6a00" class="c" d="M2186 5582l7 53-5-37-7-61z"/>
<path fill="#ff7500" class="c" d="M2179 5529l7 53-5-45-7-61zM2205 5717l7 45-5-20-7-54z"/>
<path fill="#ff8000" class="c" d="M2198 5672l7 45-5-29-7-53z"/>
<path fill="#ff8a00" class="c" d="M2191 5627l7 45-5-37-7-53z"/>
<path fill="#ff9500" class="c" d="M2184 5583l7 44-5-45-7-53zM2210 5746l7 36-5-20-7-45z"/>
<path fill="#ff9f00" class="c" d="M2203 5709l7 37-5-29-7-45z"/>
<path fill="#fa0" class="c" d="M2196 5673l7 36-5-37-7-45z"/>
<path fill="#ffb500" class="c" d="M2189 5636l7 37-5-46-7-44zM2215 5774l7 29-5-21-7-36z"/>
<path fill="#ffbf00" class="c" d="M2208 5746l7 28-5-28-7-37z"/>
<path fill="#ffca00" class="c" d="M2202 5718l6 28-5-37-7-36z"/>
<path fill="#ffd400" class="c" d="M2195 5690l7 28-6-45-7-37z"/>
<path fill="#ffbf00" d="M2167 5658l28 32-21-214-27-235z"/>
<path fill="#ff8000" class="c" d="M2172 5483l7 46-5-53-7-59z"/>
<path fill="#ff9500" class="c" d="M2165 5437l7 46-5-66-7-59z"/>
<path fill="#fa0" class="c" d="M2159 5391l6 46-5-79-7-58z"/>
<path fill="#ffb500" class="c" d="M2152 5345l7 46-6-91-6-59z"/>
<path fill="#ff9f00" class="c" d="M2177 5549l7 34-5-54-7-46z"/>
<path fill="#fa0" class="c" d="M2171 5516l6 33-5-66-7-46z"/>
<path fill="#ffb500" class="c" d="M2164 5483l7 33-6-79-6-46z"/>
<path fill="#ffbf00" class="c" d="M2157 5450l7 33-5-92-7-46z"/>
<path fill="#ffb500" class="c" d="M2183 5616l6 20-5-53-7-34z"/>
<path fill="#ffbf00" class="c" d="M2176 5595l7 21-6-67-6-33z"/>
<path fill="#ffca00" class="c" d="M2169 5574l7 21-5-79-7-33z"/>
<path fill="#ffd400" class="c" d="M2162 5554l7 20-5-91-7-33zM2181 5674l14 16-6-54-13-41z"/>
<path fill="#ffdf00" class="c" d="M2167 5658l14 16-5-79-14-41z"/>
<path fill="#ff9500" d="M2140 5774l27-116-20-417-28 410z"/>
<path fill="#fa0" class="c" d="M2145 5429l7-84-5-104-7 102z"/>
<path fill="#ff8000" class="c" d="M2138 5513l7-84-5-86-7 103z"/>
<path fill="#ff6000" class="c" d="M2131 5598l7-85-5-67-7 102z"/>
<path fill="#ff3500" class="c" d="M2124 5682l7-84-5-50-7 103z"/>
<path fill="#ffbf00" class="c" d="M2150 5515l7-65-5-105-7 84z"/>
<path fill="#ff9500" class="c" d="M2143 5581l7-66-5-86-7 84z"/>
<path fill="#ff7500" class="c" d="M2136 5647l7-66-5-68-7 85z"/>
<path fill="#f50" class="c" d="M2129 5712l7-65-5-49-7 84z"/>
<path fill="#ffca00" class="c" d="M2155 5601l7-47-5-104-7 65z"/>
<path fill="#fa0" class="c" d="M2148 5648l7-47-5-86-7 66z"/>
<path fill="#ff9500" class="c" d="M2141 5696l7-48-5-67-7 66z"/>
<path fill="#ff8000" class="c" d="M2135 5743l6-47-5-49-7 65z"/>
<path fill="#ffd400" class="c" d="M2160 5687l7-29-5-104-7 47z"/>
<path fill="#ffbf00" class="c" d="M2154 5716l6-29-5-86-7 47z"/>
<path fill="#ffb500" class="c" d="M2147 5745l7-29-6-68-7 48z"/>
<path fill="#ff9f00" class="c" d="M2140 5774l7-29-6-49-6 47z"/>
<path fill="#ff4a00" d="M2112 5906l28-132-21-123-27 198z"/>
<path fill="#ff2000" class="c" d="M2097 5863l27-181-5-31-27 198z"/>
<path fill="#ff4000" class="c" d="M2109 5836l20-124-5-30-20 136z"/>
<path fill="#ff3500" class="c" d="M2102 5877l7-41-5-18-7 45z"/>
<path fill="#ff6a00" class="c" d="M2128 5780l7-37-6-31-6 42z"/>
<path fill="#ff6000" class="c" d="M2114 5855l14-75-5-26-14 82z"/>
<path fill="#f50" class="c" d="M2107 5892l7-37-5-19-7 41z"/>
<path fill="#ff9500" class="c" d="M2133 5807l7-33-5-31-7 37z"/>
<path fill="#ff8000" class="c" d="M2126 5840l7-33-5-27-7 37z"/>
<path fill="#ff7500" class="c" d="M2119 5873l7-33-5-23-7 38z"/>
<path fill="#ff6a00" class="c" d="M2112 5906l7-33-5-18-7 37z"/>
<path fill="#ff4000" d="M2085 6015l27-109-20-57-28 130z"/>
<path fill="#ff2000" class="c" d="M2069 5988l28-125-5-14-28 130z"/>
<path fill="#ff3500" class="c" d="M2075 5997l27-120-5-14-28 125z"/>
<path fill="#ff4a00" class="c" d="M2080 6006l27-114-5-15-27 120z"/>
<path fill="#ff6000" class="c" d="M2092 5988l20-82-5-14-20 86z"/>
<path fill="#f50" class="c" d="M2085 6015l7-27-5-10-7 28z"/>
<path fill="#ff4000" d="M2058 6105l27-90-21-36-27 98z"/>
<path fill="#ff2000" class="c" d="M2056 6036l13-48-5-9-13 49z"/>
<path fill="#ff2a00" class="c" d="M2042 6084l14-48-5-8-14 49z"/>
<path fill="#ff3500" class="c" d="M2047 6091l28-94-6-9-27 96z"/>
<path fill="#ff4000" class="c" d="M2052 6098l28-92-5-9-28 94z"/>
<path fill="#f50" class="c" d="M2058 6105l27-90-5-9-28 92z"/>
<path fill="#ff4000" d="M2030 6180l28-75-21-28-28 80z"/>
<path fill="#ff2a00" class="c" d="M2016 6164l28-78-7-9-28 80z"/>
<path fill="#ff4000" class="c" d="M2023 6172l28-77-7-9-28 78z"/>
<path fill="#ff4a00" class="c" d="M2030 6180l28-75-7-10-28 77z"/>
<path fill="#ff4000" d="M2003 6245l27-65-21-23-27 67z"/>
<path fill="#ff3500" class="c" d="M1992 6235l28-67-11-11-27 67z"/>
<path fill="#ff4a00" class="c" d="M2003 6245l27-65-10-12-28 67z"/>
<path fill="#ff4000" d="M1975 6303l28-58-21-21-27 60z"/>
<path fill="#ff3500" class="c" d="M1979 6264l13-29-10-11-14 30z"/>
<path fill="#ff4000" class="c" d="M1965 6293l14-29-11-10-13 30z"/>
<path fill="#ff4a00" class="c" d="M1975 6303l28-58-11-10-27 58z"/>
<path fill="#ff4a00" d="M1948 6355l27-52-20-19-28 53z"/>
<path fill="#ff4000" class="c" d="M1938 6346l27-53-10-9-28 53z"/>
<path fill="#ff4a00" class="c" d="M1948 6355l27-52-10-10-27 53z"/>
<path fill="#ff4a00" d="M1920 6402l28-47-21-18-27 48z"/>
<path fill="#ff4000" class="c" d="M1924 6370l14-24-11-9-14 24z"/>
<path fill="#ff4a00" class="c" d="M1910 6393l14-23-11-9-13 24z"/>
<path fill="#f50" class="c" d="M1920 6402l28-47-10-9-28 47z"/>
<path fill="#ff4a00" d="M1893 6446l27-44-20-17-28 44z"/>
<path fill="#ff4a00" class="c" d="M1883 6437l27-44-10-8-28 44z"/>
<path fill="#f50" class="c" d="M1893 6446l27-44-10-9-27 44z"/>
<path fill="#f50" d="M1866 6486l27-40-21-17-27 41z"/>
<path fill="#f50" d="M1838 6525l28-39-21-16-28 39z"/>
<path fill="#f50" d="M1811 6561l27-36-21-16-27 36z"/>
<path fill="#ff6000" d="M1783 6595l28-34-21-16-27 35z"/>
<path fill="#ff6000" d="M1756 6628l27-33-20-15-28 33z"/>
<path class="m" d="M3374 6192l-21-22M3325 6173l28-3M3298 6176l27-3M3271 6179l27-3M3243 6182l28-3M3264 6205l-21-23M3216 6185l27-3M3188 6188l28-3M3161 6191l27-3M3134 6194l27-3M3106 6197l28-3M3127 6222l-21-25M3079 6200l27-3M3051 6203l28-3M3024 6205l27-2M2996 6208l28-3M2969 6210l27-2M2990 6235l-21-25M2942 6211l27-1M2914 6213l28-2M2887 6214l27-1M2859 6214l28 0M2832 6214l27 0M2853 6242l-21-28M2805 6214l27 0M2777 6213l28 1M2750 6213l27 0M2722 6212l28 1M2695 6211l27 1M2716 6242l-21-31M2667 6210l28 1M2640 6209l27 1M2613 6208l27 1M2585 6206l28 2M2558 6204l27 2M2578 6238l-20-34M2530 6200l28 4M2503 6193l27 7M2476 6183l27 10M2448 6169l28 14M2421 6153l27 16M2441 6188l-20-35M2393 6133l28 20M2366 6110l27 23M2338 6082l28 28M2311 6047l27 35M2284 6001l27 46M2304 6034l-20-33M2256 5939l28 62M2229 5853l27 86M2201 5721l28 132M2174 5476l27 245M2147 5241l27 235M2167 5658l-20-417M2119 5651l28-410M2092 5849l27-198M2064 5979l28-130M2037 6077l27-98M2009 6157l28-80M2030 6180l-21-23M1982 6224l27-67M1955 6284l27-60M1927 6337l28-53M1900 6385l27-48M1872 6429l28-44M1893 6446l-21-17M1845 6470l27-41M1817 6509l28-39M1790 6545l27-36M1763 6580l27-35M1735 6613l28-33M1756 6628l-21-15"/>
<path fill="#ffbf00" d="M3367 6218l27-3-20-23-28 3z"/>
<path fill="#ffbf00" d="M3339 6222l28-4-21-23-27 4z"/>
<path fill="#ffbf00" d="M3312 6225l27-3-20-23-28 3z"/>
<path fill="#ffbf00" d="M3285 6229l27-4-21-23-27 3z"/>
<path fill="#ffca00" d="M3257 6232l28-3-21-24-28 4z"/>
<path fill="#ffca00" d="M3230 6236l27-4-21-23-27 3z"/>
<path fill="#ffca00" d="M3202 6239l28-3-21-24-27 3z"/>
<path fill="#ffca00" d="M3175 6243l27-4-20-24-28 4z"/>
<path fill="#ffca00" d="M3148 6246l27-3-21-24-27 3z"/>
<path fill="#ffca00" d="M3120 6249l28-3-21-24-28 3z"/>
<path fill="#ffca00" d="M3093 6252l27-3-21-24-27 3z"/>
<path fill="#ffca00" d="M3065 6255l28-3-21-24-27 3z"/>
<path fill="#ffca00" d="M3038 6258l27-3-20-24-28 2z"/>
<path fill="#ffca00" d="M3010 6261l28-3-21-25-27 2z"/>
<path fill="#ffca00" d="M2983 6263l27-2-20-26-28 2z"/>
<path fill="#ffca00" d="M2956 6265l27-2-21-26-27 2z"/>
<path fill="#ffd400" d="M2928 6266l28-1-21-26-28 1z"/>
<path fill="#ffd400" d="M2901 6268l27-2-21-26-27 1z"/>
<path fill="#ffd400" d="M2873 6269l28-1-21-27-27 1z"/>
<path fill="#ffd400" d="M2846 6270l27-1-20-27-28 0z"/>
<path fill="#ffd400" d="M2819 6270l27 0-21-28-27 0z"/>
<path fill="#ffdf00" d="M2791 6271l28-1-21-28-28 0z"/>
<path fill="#ffdf00" d="M2764 6272l27-1-21-29-27 0z"/>
<path fill="#ffdf00" d="M2736 6272l28 0-21-30-27 0z"/>
<path fill="#ffdf00" d="M2709 6273l27-1-20-30-28 0z"/>
<path fill="#ffdf00" d="M2681 6273l28 0-21-31-27-1z"/>
<path fill="#ffdf00" d="M2654 6273l27 0-20-32-28 0z"/>
<path fill="#ffea00" d="M2627 6272l27 1-21-32-27-1z"/>
<path fill="#ffdf00" d="M2599 6270l28 2-21-32-28-2z"/>
<path fill="#ffdf00" d="M2572 6266l27 4-21-32-27-4z"/>
<path fill="#ffdf00" d="M2544 6259l28 7-21-32-27-7z"/>
<path fill="#ffd400" d="M2517 6249l27 10-20-32-28-10z"/>
<path fill="#ffd400" d="M2490 6236l27 13-21-32-27-13z"/>
<path fill="#ffca00" d="M2462 6219l28 17-21-32-28-16z"/>
<path fill="#ffca00" d="M2435 6200l27 19-21-31-27-20z"/>
<path fill="#ffbf00" d="M2407 6176l28 24-21-32-27-23z"/>
<path fill="#ffb500" d="M2380 6148l27 28-20-31-28-29z"/>
<path fill="#fa0" d="M2352 6114l28 34-21-32-27-37z"/>
<path fill="#fa0" d="M2325 6073l27 41-20-35-28-45z"/>
<path fill="#fa0" class="c" d="M2328 6075l14 21-10-17-14-23z"/>
<path fill="#ff9f00" class="c" d="M2315 6053l13 22-10-19-14-22z"/>
<path fill="#fa0" class="c" d="M2325 6073l27 41-10-18-27-43z"/>
<path fill="#fa0" d="M2298 6025l27 48-21-39-27-58z"/>
<path fill="#ff9f00" class="c" d="M2287 6000l28 53-11-19-27-58z"/>
<path fill="#ffb500" class="c" d="M2298 6025l27 48-10-20-28-53z"/>
<path fill="#ffb500" d="M2270 5969l28 56-21-49-28-75z"/>
<path fill="#ff9f00" class="c" d="M2266 5946l18 46-7-16-18-50z"/>
<path fill="#fa0" class="c" d="M2256 5924l10 22-7-20-10-25zM2282 5988l9 21-7-17-9-23z"/>
<path fill="#ffb500" class="c" d="M2263 5946l19 42-7-19-19-45z"/>
<path fill="#ffbf00" class="c" d="M2270 5969l28 56-7-16-28-63z"/>
<path fill="#ffbf00" d="M2243 5909l27 60-21-68-27-98z"/>
<path fill="#fa0" class="c" d="M2241 5874l14 44-6-17-13-49z"/>
<path fill="#ffb500" class="c" d="M2227 5829l14 45-5-22-14-49zM2246 5895l14 40-5-17-14-44z"/>
<path fill="#ffbf00" class="c" d="M2239 5876l7 19-5-21-7-23z"/>
<path fill="#ffca00" class="c" d="M2232 5856l7 20-5-25-7-22z"/>
<path fill="#ffbf00" class="c" d="M2251 5917l14 35-5-17-14-40z"/>
<path fill="#ffca00" class="c" d="M2244 5900l7 17-5-22-7-19z"/>
<path fill="#ffd400" class="c" d="M2238 5882l6 18-5-24-7-20z"/>
<path fill="#ffca00" class="c" d="M2263 5954l7 15-5-17-7-17z"/>
<path fill="#ffd400" class="c" d="M2250 5924l13 30-5-19-14-35z"/>
<path fill="#ffdf00" class="c" d="M2243 5909l7 15-6-24-6-18z"/>
<path fill="#ffdf00" d="M2215 5860l28 49-21-106-27-113z"/>
<path fill="#ffca00" class="c" d="M2220 5808l9 30-7-35-9-38z"/>
<path fill="#ffd400" class="c" d="M2211 5777l9 31-7-43-9-38z"/>
<path fill="#ffdf00" class="c" d="M2202 5747l9 30-7-50-9-37z"/>
<path fill="#ffd400" class="c" d="M2227 5850l9 24-7-36-9-30z"/>
<path fill="#ffdf00" class="c" d="M2218 5827l9 23-7-42-9-31z"/>
<path fill="#ffea00" class="c" d="M2208 5803l10 24-7-50-9-30z"/>
<path fill="#ffdf00" class="c" d="M2225 5877l18 32-7-35-18-47z"/>
<path fill="#ffea00" class="c" d="M2215 5860l10 17-7-50-10-24z"/>
<path fill="#ffea00" d="M2188 5856l27 4-20-170-28-32z"/>
<path fill="#ffd400" d="M2161 5909l27-53-21-198-27 116z"/>
<path fill="#ffdf00" class="c" d="M2166 5733l6-25-5-50-7 29z"/>
<path fill="#ffd400" class="c" d="M2159 5758l7-25-6-46-6 29z"/>
<path fill="#ffbf00" class="c" d="M2152 5783l7-25-5-42-7 29z"/>
<path fill="#ffb500" class="c" d="M2145 5808l7-25-5-38-7 29z"/>
<path fill="#ffdf00" class="c" d="M2171 5778l7-21-6-49-6 25z"/>
<path fill="#ffd400" class="c" d="M2164 5799l7-21-5-45-7 25z"/>
<path fill="#ffca00" class="c" d="M2157 5820l7-21-5-41-7 25z"/>
<path fill="#ffbf00" class="c" d="M2150 5841l7-21-5-37-7 25z"/>
<path fill="#ffea00" class="c" d="M2176 5824l7-17-5-50-7 21z"/>
<path fill="#ffdf00" class="c" d="M2169 5841l7-17-5-46-7 21z"/>
<path fill="#ffd400" class="c" d="M2155 5875l14-34-5-42-14 42z"/>
<path fill="#ffea00" class="c" d="M2174 5883l14-27-5-49-14 34z"/>
<path fill="#ffdf00" class="c" d="M2161 5909l13-26-5-42-14 34z"/>
<path fill="#fa0" d="M2133 5989l28-80-21-135-28 132z"/>
<path fill="#fa0" class="c" d="M2138 5837l7-29-5-34-7 33z"/>
<path fill="#ff9f00" class="c" d="M2131 5867l7-30-5-30-7 33z"/>
<path fill="#ff8a00" class="c" d="M2124 5897l7-30-5-27-7 33z"/>
<path fill="#ff8000" class="c" d="M2118 5927l6-30-5-24-7 33z"/>
<path fill="#ffb500" class="c" d="M2143 5868l7-27-5-33-7 29z"/>
<path fill="#fa0" class="c" d="M2136 5895l7-27-5-31-7 30z"/>
<path fill="#ff9f00" class="c" d="M2130 5921l6-26-5-28-7 30z"/>
<path fill="#ff9500" class="c" d="M2123 5948l7-27-6-24-6 30z"/>
<path fill="#ffca00" class="c" d="M2149 5899l6-24-5-34-7 27z"/>
<path fill="#ffb500" class="c" d="M2142 5922l7-23-6-31-7 27z"/>
<path fill="#fa0" class="c" d="M2135 5945l7-23-6-27-6 26z"/>
<path fill="#ff9f00" class="c" d="M2128 5968l7-23-5-24-7 27z"/>
<path fill="#ffd400" class="c" d="M2154 5929l7-20-6-34-6 24z"/>
<path fill="#ffca00" class="c" d="M2147 5949l7-20-5-30-7 23z"/>
<path fill="#ffbf00" class="c" d="M2140 5969l7-20-5-27-7 23z"/>
<path fill="#ffb500" class="c" d="M2133 5989l7-20-5-24-7 23z"/>
<path fill="#ff8a00" d="M2106 6071l27-82-21-83-27 109z"/>
<path fill="#ff7500" class="c" d="M2104 5978l14-51-6-21-13 55z"/>
<path fill="#ff6a00" class="c" d="M2090 6029l14-51-5-17-14 54z"/>
<path fill="#ff8a00" class="c" d="M2116 5971l7-23-5-21-7 25z"/>
<path fill="#ff8000" class="c" d="M2102 6019l14-48-5-19-14 52z"/>
<path fill="#ff7500" class="c" d="M2095 6043l7-24-5-15-7 25z"/>
<path fill="#ff9500" class="c" d="M2114 6013l14-45-5-20-14 47z"/>
<path fill="#ff8a00" class="c" d="M2107 6035l7-22-5-18-7 24z"/>
<path fill="#ff8000" class="c" d="M2101 6057l6-22-5-16-7 24z"/>
<path fill="#fa0" class="c" d="M2126 6010l7-21-5-21-7 23z"/>
<path fill="#ff9f00" class="c" d="M2119 6030l7-20-5-19-7 22z"/>
<path fill="#ff9500" class="c" d="M2106 6071l13-41-5-17-13 44z"/>
<path fill="#ff7500" d="M2078 6146l28-75-21-56-27 90z"/>
<path fill="#ff6a00" class="c" d="M2083 6062l9-28-7-19-9 30z"/>
<path fill="#ff6000" class="c" d="M2064 6118l19-56-7-17-18 60z"/>
<path fill="#ff7500" class="c" d="M2081 6105l18-53-7-18-18 56z"/>
<path fill="#ff6a00" class="c" d="M2071 6132l10-27-7-15-10 28z"/>
<path fill="#ff8a00" class="c" d="M2097 6096l9-25-7-19-9 27z"/>
<path fill="#ff8000" class="c" d="M2078 6146l19-50-7-17-19 53z"/>
<path fill="#ff6a00" d="M2051 6213l27-67-20-41-28 75z"/>
<path fill="#ff6000" class="c" d="M2046 6167l18-49-6-13-19 50z"/>
<path fill="#f50" class="c" d="M2037 6191l9-24-7-12-9 25z"/>
<path fill="#ff6a00" class="c" d="M2044 6202l27-70-7-14-27 73z"/>
<path fill="#ff8000" class="c" d="M2069 6168l9-22-7-14-9 23z"/>
<path fill="#ff7500" class="c" d="M2051 6213l18-45-7-13-18 47z"/>
<path fill="#ff6000" d="M2023 6273l28-60-21-33-27 65z"/>
<path fill="#ff6000" class="c" d="M2013 6259l28-63-11-16-27 65z"/>
<path fill="#ff6a00" class="c" d="M2023 6273l28-60-10-17-28 63z"/>
<path fill="#ff6000" d="M1996 6327l27-54-20-28-28 58z"/>
<path fill="#ff6000" class="c" d="M1986 6315l27-56-10-14-28 58z"/>
<path fill="#ff6a00" class="c" d="M1996 6327l27-54-10-14-27 56z"/>
<path fill="#ff6000" d="M1969 6377l27-50-21-24-27 52z"/>
<path fill="#ff6000" class="c" d="M1958 6366l28-51-11-12-27 52z"/>
<path fill="#ff6a00" class="c" d="M1969 6377l27-50-10-12-28 51z"/>
<path fill="#ff6000" d="M1941 6422l28-45-21-22-28 47z"/>
<path fill="#ff6000" class="c" d="M1931 6412l27-46-10-11-28 47z"/>
<path fill="#ff6a00" class="c" d="M1941 6422l28-45-11-11-27 46z"/>
<path fill="#ff6000" d="M1914 6465l27-43-21-20-27 44z"/>
<path fill="#ff6000" d="M1886 6505l28-40-21-19-27 40z"/>
<path fill="#ff6000" d="M1859 6542l27-37-20-19-28 39z"/>
<path fill="#ff6000" d="M1832 6578l27-36-21-17-27 36z"/>
<path fill="#ff6a00" d="M1804 6612l28-34-21-17-28 34z"/>
<path fill="#ff6a00" d="M1777 6644l27-32-21-17-27 33z"/>
<path class="m" d="M3394 6215l-20-23M3285 6229l-21-24M3148 6246l-21-24M3010 6261l-20-26M2873 6269l-20-27M2736 6272l-20-30M2599 6270l-21-32M2462 6219l-21-31M2325 6073l-21-39M2188 5856l-21-198M2051 6213l-21-33M1914 6465l-21-19M1777 6644l-21-16"/>
<path fill="#ffbf00" d="M3388 6240l27-3-21-22-27 3z"/>
<path fill="#ffbf00" d="M3360 6244l28-4-21-22-28 4z"/>
<path fill="#ffbf00" d="M3333 6248l27-4-21-22-27 3z"/>
<path fill="#ffbf00" d="M3305 6252l28-4-21-23-27 4z"/>
<path fill="#ffbf00" d="M3278 6255l27-3-20-23-28 3z"/>
<path fill="#ffca00" d="M3251 6259l27-4-21-23-27 4z"/>
<path fill="#ffca00" d="M3223 6263l28-4-21-23-28 3z"/>
<path fill="#ffca00" d="M3196 6267l27-4-21-24-27 4z"/>
<path fill="#ffca00" d="M3168 6270l28-3-21-24-27 3z"/>
<path fill="#ffca00" d="M3141 6274l27-4-20-24-28 3z"/>
<path fill="#ffca00" d="M3113 6277l28-3-21-25-27 3z"/>
<path fill="#ffca00" d="M3086 6280l27-3-20-25-28 3z"/>
<path fill="#ffca00" d="M3059 6283l27-3-21-25-27 3z"/>
<path fill="#ffca00" d="M3031 6285l28-2-21-25-28 3z"/>
<path fill="#ffca00" d="M3004 6288l27-3-21-24-27 2z"/>
<path fill="#ffca00" d="M2976 6290l28-2-21-25-27 2z"/>
<path fill="#ffd400" d="M2949 6292l27-2-20-25-28 1z"/>
<path fill="#ffd400" d="M2922 6294l27-2-21-26-27 2z"/>
<path fill="#ffd400" d="M2894 6296l28-2-21-26-28 1z"/>
<path fill="#ffd400" d="M2867 6297l27-1-21-27-27 1z"/>
<path fill="#ffd400" d="M2839 6298l28-1-21-27-27 0z"/>
<path fill="#ffd400" d="M2812 6300l27-2-20-28-28 1z"/>
<path fill="#ffdf00" d="M2784 6301l28-1-21-29-27 1z"/>
<path fill="#ffdf00" d="M2757 6302l27-1-20-29-28 0z"/>
<path fill="#ffdf00" d="M2730 6303l27-1-21-30-27 1z"/>
<path fill="#ffdf00" d="M2702 6304l28-1-21-30-28 0z"/>
<path fill="#ffdf00" d="M2675 6304l27 0-21-31-27 0z"/>
<path fill="#ffdf00" d="M2647 6303l28 1-21-31-27-1z"/>
<path fill="#ffdf00" d="M2620 6301l27 2-20-31-28-2z"/>
<path fill="#ffdf00" d="M2593 6297l27 4-21-31-27-4z"/>
<path fill="#ffd400" d="M2565 6289l28 8-21-31-28-7z"/>
<path fill="#ffd400" d="M2538 6279l27 10-21-30-27-10z"/>
<path fill="#ffca00" d="M2510 6265l28 14-21-30-27-13z"/>
<path fill="#ffbf00" d="M2483 6249l27 16-20-29-28-17z"/>
<path fill="#ffbf00" d="M2455 6229l28 20-21-30-27-19z"/>
<path fill="#ffbf00" d="M2428 6207l27 22-20-29-28-24z"/>
<path fill="#ffb500" d="M2401 6181l27 26-21-31-27-28z"/>
<path fill="#ffbf00" d="M2373 6152l28 29-21-33-28-34z"/>
<path fill="#ffbf00" d="M2346 6118l27 34-21-38-27-41z"/>
<path fill="#ffb500" class="c" d="M2349 6114l14 19-11-19-13-21z"/>
<path fill="#ffbf00" class="c" d="M2335 6096l14 18-10-21-14-20zM2359 6135l14 17-10-19-14-19z"/>
<path fill="#ffca00" class="c" d="M2346 6118l13 17-10-21-14-18z"/>
<path fill="#ffca00" d="M2318 6081l28 37-21-45-27-48z"/>
<path fill="#ffbf00" class="c" d="M2308 6053l27 43-10-23-27-48z"/>
<path fill="#ffca00" class="c" d="M2318 6081l28 37-11-22-27-43z"/>
<path fill="#ffd400" d="M2291 6042l27 39-20-56-28-56z"/>
<path fill="#ffca00" class="c" d="M2294 6030l14 23-10-28-14-28z"/>
<path fill="#ffd400" class="c" d="M2281 6006l13 24-10-33-14-28zM2305 6062l13 19-10-28-14-23z"/>
<path fill="#ffdf00" class="c" d="M2291 6042l14 20-11-32-13-24z"/>
<path fill="#ffdf00" d="M2264 6007l27 35-21-73-27-60z"/>
<path fill="#ffd400" class="c" d="M2267 5982l14 24-11-37-13-30z"/>
<path fill="#ffdf00" class="c" d="M2253 5958l14 24-10-43-14-30zM2277 6025l14 17-10-36-14-24z"/>
<path fill="#ffea00" class="c" d="M2264 6007l13 18-10-43-14-24z"/>
<path fill="#ffea00" d="M2236 5985l28 22-21-98-28-49z"/>
<path fill="#fff400" d="M2209 5988l27-3-21-125-27-4z"/>
<path fill="#fff400" d="M2181 6021l28-33-21-132-27 53z"/>
<path fill="#fff400" class="c" d="M2185 5944l13-22-10-66-14 27z"/>
<path fill="#ffea00" class="c" d="M2171 5965l14-21-11-61-13 26z"/>
<path fill="#ff0" class="c" d="M2181 6021l28-33-11-66-27 43z"/>
<path fill="#ffdf00" d="M2154 6073l27-52-20-112-28 80z"/>
<path fill="#ffdf00" class="c" d="M2159 5955l7-18-5-28-7 20z"/>
<path fill="#ffd400" class="c" d="M2152 5974l7-19-5-26-7 20z"/>
<path fill="#ffca00" class="c" d="M2145 5992l7-18-5-25-7 20z"/>
<path fill="#ffbf00" class="c" d="M2138 6010l7-18-5-23-7 20z"/>
<path fill="#ffea00" class="c" d="M2164 5981l7-16-5-28-7 18z"/>
<path fill="#ffdf00" class="c" d="M2157 5998l7-17-5-26-7 19z"/>
<path fill="#ffd400" class="c" d="M2150 6015l7-17-5-24-7 18z"/>
<path fill="#ffca00" class="c" d="M2143 6031l7-16-5-23-7 18z"/>
<path fill="#fff400" class="c" d="M2169 6008l7-15-5-28-7 16z"/>
<path fill="#ffea00" class="c" d="M2162 6023l7-15-5-27-7 17z"/>
<path fill="#ffdf00" class="c" d="M2156 6037l6-14-5-25-7 17z"/>
<path fill="#ffd400" class="c" d="M2149 6052l7-15-6-22-7 16z"/>
<path fill="#ff0" class="c" d="M2174 6034l7-13-5-28-7 15z"/>
<path fill="#fff400" class="c" d="M2168 6047l6-13-5-26-7 15z"/>
<path fill="#ffea00" class="c" d="M2161 6060l7-13-6-24-6 14z"/>
<path fill="#ffdf00" class="c" d="M2154 6073l7-13-5-23-7 15z"/>
<path fill="#ffbf00" d="M2126 6133l28-60-21-84-27 82z"/>
<path fill="#ffb500" class="c" d="M2131 6029l7-19-5-21-7 21z"/>
<path fill="#fa0" class="c" d="M2118 6067l13-38-5-19-13 40z"/>
<path fill="#ff9f00" class="c" d="M2111 6086l7-19-5-17-7 21z"/>
<path fill="#ffbf00" class="c" d="M2137 6049l6-18-5-21-7 19z"/>
<path fill="#ffb500" class="c" d="M2123 6084l14-35-6-20-13 38z"/>
<path fill="#fa0" class="c" d="M2116 6102l7-18-5-17-7 19z"/>
<path fill="#ffca00" class="c" d="M2142 6069l7-17-6-21-6 18z"/>
<path fill="#ffbf00" class="c" d="M2128 6101l14-32-5-20-14 35z"/>
<path fill="#ffb500" class="c" d="M2121 6118l7-17-5-17-7 18z"/>
<path fill="#ffd400" class="c" d="M2140 6103l14-30-5-21-14 33z"/>
<path fill="#ffca00" class="c" d="M2133 6118l7-15-5-18-7 16z"/>
<path fill="#ffbf00" class="c" d="M2126 6133l7-15-5-17-7 17z"/>
<path fill="#ff9f00" d="M2099 6194l27-61-20-62-28 75z"/>
<path fill="#ff9500" class="c" d="M2094 6138l19-46-7-21-19 50z"/>
<path fill="#ff8a00" class="c" d="M2085 6162l9-24-7-17-9 25z"/>
<path fill="#fa0" class="c" d="M2110 6134l10-21-7-21-10 23z"/>
<path fill="#ff9f00" class="c" d="M2101 6156l9-22-7-19-9 23z"/>
<path fill="#ff9500" class="c" d="M2092 6178l9-22-7-18-9 24z"/>
<path fill="#ffb500" class="c" d="M2117 6154l9-21-6-20-10 21z"/>
<path fill="#fa0" class="c" d="M2108 6174l9-20-7-20-9 22z"/>
<path fill="#ff9f00" class="c" d="M2099 6194l9-20-7-18-9 22z"/>
<path fill="#ff8a00" d="M2072 6252l27-58-21-48-27 67z"/>
<path fill="#ff8a00" class="c" d="M2076 6183l9-21-7-16-9 22z"/>
<path fill="#ff8000" class="c" d="M2058 6226l18-43-7-15-18 45z"/>
<path fill="#ff9500" class="c" d="M2083 6198l9-20-7-16-9 21z"/>
<path fill="#ff8a00" class="c" d="M2065 6239l18-41-7-15-18 43z"/>
<path fill="#ff9f00" class="c" d="M2081 6232l18-38-7-16-18 40z"/>
<path fill="#ff9500" class="c" d="M2072 6252l9-20-7-14-9 21z"/>
<path fill="#ff8a00" d="M2044 6306l28-54-21-39-28 60z"/>
<path fill="#ff8000" class="c" d="M2034 6289l27-57-10-19-28 60z"/>
<path fill="#ff8a00" class="c" d="M2044 6306l28-54-11-20-27 57z"/>
<path fill="#ff8000" d="M2017 6356l27-50-21-33-27 54z"/>
<path fill="#ff7500" class="c" d="M2006 6341l28-52-11-16-27 54z"/>
<path fill="#ff8a00" class="c" d="M2030 6331l14-25-10-17-14 26z"/>
<path fill="#ff8000" class="c" d="M2017 6356l13-25-10-16-14 26z"/>
<path fill="#ff7500" d="M1989 6402l28-46-21-29-27 50z"/>
<path fill="#ff7500" class="c" d="M1979 6389l27-48-10-14-27 50z"/>
<path fill="#ff8000" class="c" d="M1989 6402l28-46-11-15-27 48z"/>
<path fill="#ff7500" d="M1962 6446l27-44-20-25-28 45z"/>
<path fill="#ff7500" class="c" d="M1952 6434l27-45-10-12-28 45z"/>
<path fill="#ff8000" class="c" d="M1962 6446l27-44-10-13-27 45z"/>
<path fill="#ff7500" d="M1935 6487l27-41-21-24-27 43z"/>
<path fill="#ff7500" d="M1907 6525l28-38-21-22-28 40z"/>
<path fill="#ff7500" d="M1880 6562l27-37-21-20-27 37z"/>
<path fill="#ff7500" d="M1852 6596l28-34-21-20-27 36z"/>
<path fill="#ff7500" d="M1825 6630l27-34-20-18-28 34z"/>
<path fill="#ff7500" d="M1797 6661l28-31-21-18-27 32z"/>
<path class="m" d="M3415 6237l-21-22M3305 6252l-20-23M3168 6270l-20-24M3031 6285l-21-24M2894 6296l-21-27M2757 6302l-21-30M2620 6301l-21-31M2483 6249l-21-30M2346 6118l-21-45M2209 5988l-21-132M2072 6252l-21-39M1935 6487l-21-22M1797 6661l-20-17"/>
<path fill="#ffbf00" d="M3408 6263l28-4-21-22-27 3z"/>
<path fill="#ffbf00" d="M3381 6267l27-4-20-23-28 4z"/>
<path fill="#ffbf00" d="M3354 6271l27-4-21-23-27 4z"/>
<path fill="#ffbf00" d="M3326 6275l28-4-21-23-28 4z"/>
<path fill="#ffbf00" d="M3299 6279l27-4-21-23-27 3z"/>
<path fill="#ffbf00" d="M3271 6282l28-3-21-24-27 4z"/>
<path fill="#ffbf00" d="M3244 6286l27-4-20-23-28 4z"/>
<path fill="#ffca00" d="M3216 6290l28-4-21-23-27 4z"/>
<path fill="#ffca00" d="M3189 6294l27-4-20-23-28 3z"/>
<path fill="#ffca00" d="M3162 6297l27-3-21-24-27 4z"/>
<path fill="#ffca00" d="M3134 6301l28-4-21-23-28 3z"/>
<path fill="#ffca00" d="M3107 6304l27-3-21-24-27 3z"/>
<path fill="#ffca00" d="M3079 6307l28-3-21-24-27 3z"/>
<path fill="#ffca00" d="M3052 6310l27-3-20-24-28 2z"/>
<path fill="#ffca00" d="M3025 6313l27-3-21-25-27 3z"/>
<path fill="#ffca00" d="M2997 6315l28-2-21-25-28 2z"/>
<path fill="#ffca00" d="M2970 6318l27-3-21-25-27 2z"/>
<path fill="#ffd400" d="M2942 6320l28-2-21-26-27 2z"/>
<path fill="#ffd400" d="M2915 6322l27-2-20-26-28 2z"/>
<path fill="#ffd400" d="M2887 6324l28-2-21-26-27 1z"/>
<path fill="#ffd400" d="M2860 6326l27-2-20-27-28 1z"/>
<path fill="#ffd400" d="M2833 6328l27-2-21-28-27 2z"/>
<path fill="#ffd400" d="M2805 6329l28-1-21-28-28 1z"/>
<path fill="#ffdf00" d="M2778 6331l27-2-21-28-27 1z"/>
<path fill="#ffdf00" d="M2750 6332l28-1-21-29-27 1z"/>
<path fill="#ffdf00" d="M2723 6333l27-1-20-29-28 1z"/>
<path fill="#ffdf00" d="M2696 6334l27-1-21-29-27 0z"/>
<path fill="#ffdf00" d="M2668 6334l28 0-21-30-28-1z"/>
<path fill="#ffdf00" d="M2641 6332l27 2-21-31-27-2z"/>
<path fill="#ffd400" d="M2613 6326l28 6-21-31-27-4z"/>
<path fill="#ffca00" d="M2586 6317l27 9-20-29-28-8z"/>
<path fill="#ffca00" d="M2558 6306l28 11-21-28-27-10z"/>
<path fill="#ffbf00" d="M2531 6293l27 13-20-27-28-14z"/>
<path fill="#ffbf00" d="M2504 6277l27 16-21-28-27-16z"/>
<path fill="#ffbf00" d="M2476 6259l28 18-21-28-28-20z"/>
<path fill="#ffbf00" d="M2449 6240l27 19-21-30-27-22z"/>
<path fill="#ffbf00" d="M2421 6217l28 23-21-33-27-26z"/>
<path fill="#ffca00" d="M2394 6193l27 24-20-36-28-29z"/>
<path fill="#ffd400" d="M2367 6166l27 27-21-41-27-34z"/>
<path fill="#ffca00" class="c" d="M2356 6142l28 30-11-20-27-34z"/>
<path fill="#ffd400" class="c" d="M2367 6166l27 27-10-21-28-30z"/>
<path fill="#ffdf00" d="M2339 6139l28 27-21-48-28-37z"/>
<path fill="#ffd400" class="c" d="M2329 6110l27 32-10-24-28-37z"/>
<path fill="#ffdf00" class="c" d="M2339 6139l28 27-11-24-27-32z"/>
<path fill="#ffea00" d="M2312 6113l27 26-21-58-27-39z"/>
<path fill="#ffdf00" class="c" d="M2315 6094l14 16-11-29-13-19z"/>
<path fill="#ffea00" class="c" d="M2301 6078l14 16-10-32-14-20zM2312 6113l27 26-10-29-28-32z"/>
<path fill="#fff400" d="M2284 6092l28 21-21-71-27-35z"/>
<path fill="#fff400" d="M2257 6082l27 10-20-85-28-22z"/>
<path fill="#ff0" d="M2229 6089l28-7-21-97-27 3z"/>
<path fill="#ff0" class="c" d="M2219 6038l27-4-10-49-27 3zM2243 6086l14-4-11-48-13 2z"/>
<path fill="#ffff10" class="c" d="M2229 6089l14-3-10-50-14 2z"/>
<path fill="#ffff20" d="M2202 6113l27-24-20-101-28 33z"/>
<path fill="#ff0" class="c" d="M2206 6032l10-10-7-34-9 11z"/>
<path fill="#ffff10" class="c" d="M2197 6042l9-10-6-33-10 11z"/>
<path fill="#ffff20" class="c" d="M2188 6051l9-9-7-32-9 11z"/>
<path fill="#ffff10" class="c" d="M2213 6064l10-9-7-33-10 10z"/>
<path fill="#ffff20" class="c" d="M2204 6073l9-9-7-32-9 10z"/>
<path fill="#ffff30" class="c" d="M2195 6082l9-9-7-31-9 9z"/>
<path fill="#ffff20" class="c" d="M2220 6097l9-8-6-34-10 9z"/>
<path fill="#ffff30" class="c" d="M2211 6105l9-8-7-33-9 9z"/>
<path fill="#ffff40" class="c" d="M2202 6113l9-8-7-32-9 9z"/>
<path fill="#ffff20" d="M2175 6151l27-38-21-92-27 52z"/>
<path fill="#ffff10" class="c" d="M2180 6056l6-12-5-23-7 13z"/>
<path fill="#ff0" class="c" d="M2173 6068l7-12-6-22-6 13z"/>
<path fill="#fff400" class="c" d="M2159 6093l14-25-5-21-14 26z"/>
<path fill="#ffff20" class="c" d="M2178 6089l14-22-6-23-13 24z"/>
<path fill="#ffff10" class="c" d="M2171 6101l7-12-5-21-7 12z"/>
<path fill="#ff0" class="c" d="M2164 6112l7-11-5-21-7 13z"/>
<path fill="#ffff30" class="c" d="M2183 6110l14-20-5-23-14 22z"/>
<path fill="#ffff20" class="c" d="M2169 6131l14-21-5-21-14 23z"/>
<path fill="#ffff40" class="c" d="M2188 6132l14-19-5-23-14 20z"/>
<path fill="#ffff30" class="c" d="M2175 6151l13-19-5-22-14 21z"/>
<path fill="#ffea00" d="M2147 6196l28-45-21-78-28 60z"/>
<path fill="#ffea00" class="c" d="M2152 6107l7-14-5-20-7 15z"/>
<path fill="#ffdf00" class="c" d="M2145 6121l7-14-5-19-7 15z"/>
<path fill="#ffd400" class="c" d="M2138 6135l7-14-5-18-7 15z"/>
<path fill="#ffca00" class="c" d="M2132 6149l6-14-5-17-7 15z"/>
<path fill="#fff400" class="c" d="M2157 6125l7-13-5-19-7 14z"/>
<path fill="#ffea00" class="c" d="M2151 6138l6-13-5-18-7 14z"/>
<path fill="#ffdf00" class="c" d="M2144 6152l7-14-6-17-7 14z"/>
<path fill="#ffd400" class="c" d="M2137 6165l7-13-6-17-6 14z"/>
<path fill="#ffff10" class="c" d="M2163 6144l6-13-5-19-7 13z"/>
<path fill="#fff400" class="c" d="M2156 6156l7-12-6-19-6 13z"/>
<path fill="#ffea00" class="c" d="M2149 6168l7-12-5-18-7 14z"/>
<path fill="#ffdf00" class="c" d="M2142 6181l7-13-5-16-7 13z"/>
<path fill="#ffff20" class="c" d="M2168 6162l7-11-6-20-6 13z"/>
<path fill="#ffff10" class="c" d="M2161 6174l7-12-5-18-7 12z"/>
<path fill="#fff400" class="c" d="M2154 6185l7-11-5-18-7 12z"/>
<path fill="#ffea00" class="c" d="M2147 6196l7-11-5-17-7 13z"/>
<path fill="#ffca00" d="M2120 6245l27-49-21-63-27 61z"/>
<path fill="#ffbf00" class="c" d="M2125 6164l7-15-6-16-6 16z"/>
<path fill="#ffb500" class="c" d="M2111 6192l14-28-5-15-14 30z"/>
<path fill="#fa0" class="c" d="M2104 6207l7-15-5-13-7 15z"/>
<path fill="#ffca00" class="c" d="M2130 6179l7-14-5-16-7 15z"/>
<path fill="#ffbf00" class="c" d="M2116 6206l14-27-5-15-14 28z"/>
<path fill="#ffb500" class="c" d="M2109 6220l7-14-5-14-7 15z"/>
<path fill="#ffd400" class="c" d="M2135 6194l7-13-5-16-7 14z"/>
<path fill="#ffca00" class="c" d="M2121 6220l14-26-5-15-14 27z"/>
<path fill="#ffbf00" class="c" d="M2115 6233l6-13-5-14-7 14z"/>
<path fill="#ffdf00" class="c" d="M2140 6209l7-13-5-15-7 13z"/>
<path fill="#ffd400" class="c" d="M2133 6221l7-12-5-15-7 13z"/>
<path fill="#ffca00" class="c" d="M2120 6245l13-24-5-14-13 26z"/>
<path fill="#fa0" d="M2092 6295l28-50-21-51-27 58z"/>
<path fill="#fa0" class="c" d="M2097 6229l9-18-7-17-9 19z"/>
<path fill="#ff9f00" class="c" d="M2079 6266l18-37-7-16-18 39z"/>
<path fill="#ffb500" class="c" d="M2104 6246l9-18-7-17-9 18z"/>
<path fill="#fa0" class="c" d="M2085 6280l19-34-7-17-18 37z"/>
<path fill="#ffbf00" class="c" d="M2111 6262l9-17-7-17-9 18z"/>
<path fill="#ffb500" class="c" d="M2092 6295l19-33-7-16-19 34z"/>
<path fill="#ff9f00" d="M2065 6342l27-47-20-43-28 54z"/>
<path fill="#ff9f00" class="c" d="M2068 6298l14-25-10-21-14 27z"/>
<path fill="#ff9500" class="c" d="M2055 6324l13-26-10-19-14 27z"/>
<path fill="#fa0" class="c" d="M2079 6318l13-23-10-22-14 25z"/>
<path fill="#ff9f00" class="c" d="M2065 6342l14-24-11-20-13 26z"/>
<path fill="#ff9500" d="M2038 6388l27-46-21-36-27 50z"/>
<path fill="#ff9500" class="c" d="M2041 6348l14-24-11-18-14 25z"/>
<path fill="#ff8a00" class="c" d="M2027 6372l14-24-11-17-13 25z"/>
<path fill="#ff9f00" class="c" d="M2051 6365l14-23-10-18-14 24z"/>
<path fill="#ff9500" class="c" d="M2038 6388l13-23-10-17-14 24z"/>
<path fill="#ff8a00" d="M2010 6431l28-43-21-32-28 46z"/>
<path fill="#ff8a00" class="c" d="M2000 6416l27-44-10-16-28 46z"/>
<path fill="#ff9500" class="c" d="M2010 6431l28-43-11-16-27 44z"/>
<path fill="#ff8a00" d="M1983 6472l27-41-21-29-27 44z"/>
<path fill="#ff8a00" class="c" d="M1986 6438l14-22-11-14-13 22z"/>
<path fill="#ff8000" class="c" d="M1972 6459l14-21-10-14-14 22z"/>
<path fill="#ff8a00" class="c" d="M1983 6472l27-41-10-15-28 43z"/>
<path fill="#ff8000" d="M1955 6511l28-39-21-26-27 41z"/>
<path fill="#ff8000" d="M1928 6547l27-36-20-24-28 38z"/>
<path fill="#ff8000" d="M1900 6583l28-36-21-22-27 37z"/>
<path fill="#ff8000" d="M1873 6616l27-33-20-21-28 34z"/>
<path fill="#ff8000" d="M1846 6649l27-33-21-20-27 34z"/>
<path fill="#ff7500" d="M1818 6680l28-31-21-19-28 31z"/>
<path class="m" d="M3436 6259l-21-22M3326 6275l-21-23M3189 6294l-21-24M3052 6310l-21-25M2915 6322l-21-26M2778 6331l-21-29M2641 6332l-21-31M2504 6277l-21-28M2367 6166l-21-48M2229 6089l-20-101M2092 6295l-20-43M1955 6511l-20-24M1818 6680l-21-19"/>
<path fill="#ffbf00" d="M3429 6285l27-5-20-21-28 4z"/>
<path fill="#ffbf00" d="M3402 6289l27-4-21-22-27 4z"/>
<path fill="#ffbf00" d="M3374 6293l28-4-21-22-27 4z"/>
<path fill="#ffbf00" d="M3347 6297l27-4-20-22-28 4z"/>
<path fill="#ffbf00" d="M3319 6301l28-4-21-22-27 4z"/>
<path fill="#ffbf00" d="M3292 6305l27-4-20-22-28 3z"/>
<path fill="#ffbf00" d="M3265 6309l27-4-21-23-27 4z"/>
<path fill="#ffbf00" d="M3237 6313l28-4-21-23-28 4z"/>
<path fill="#ffbf00" d="M3210 6317l27-4-21-23-27 4z"/>
<path fill="#ffca00" d="M3182 6321l28-4-21-23-27 3z"/>
<path fill="#ffca00" d="M3155 6325l27-4-20-24-28 4z"/>
<path fill="#ffca00" d="M3127 6328l28-3-21-24-27 3z"/>
<path fill="#ffca00" d="M3100 6331l27-3-20-24-28 3z"/>
<path fill="#ffca00" d="M3073 6335l27-4-21-24-27 3z"/>
<path fill="#ffca00" d="M3045 6338l28-3-21-25-27 3z"/>
<path fill="#ffca00" d="M3018 6340l27-2-20-25-28 2z"/>
<path fill="#ffca00" d="M2990 6343l28-3-21-25-27 3z"/>
<path fill="#ffca00" d="M2963 6346l27-3-20-25-28 2z"/>
<path fill="#ffd400" d="M2936 6348l27-2-21-26-27 2z"/>
<path fill="#ffd400" d="M2908 6351l28-3-21-26-28 2z"/>
<path fill="#ffd400" d="M2881 6353l27-2-21-27-27 2z"/>
<path fill="#ffd400" d="M2853 6355l28-2-21-27-27 2z"/>
<path fill="#ffd400" d="M2826 6357l27-2-20-27-28 1z"/>
<path fill="#ffd400" d="M2798 6359l28-2-21-28-27 2z"/>
<path fill="#ffdf00" d="M2771 6361l27-2-20-28-28 1z"/>
<path fill="#ffdf00" d="M2744 6363l27-2-21-29-27 1z"/>
<path fill="#ffdf00" d="M2716 6364l28-1-21-30-27 1z"/>
<path fill="#ffdf00" d="M2689 6363l27 1-20-30-28 0z"/>
<path fill="#ffd400" d="M2661 6360l28 3-21-29-27-2z"/>
<path fill="#ffca00" d="M2634 6353l27 7-20-28-28-6z"/>
<path fill="#ffd400" class="c" d="M2637 6343l14 3-10-14-14-3z"/>
<path fill="#ffca00" class="c" d="M2624 6340l13 3-10-14-14-3zM2634 6353l27 7-10-14-27-6z"/>
<path fill="#ffca00" d="M2607 6343l27 10-21-27-27-9z"/>
<path fill="#ffbf00" d="M2579 6332l28 11-21-26-28-11z"/>
<path fill="#ffbf00" d="M2552 6320l27 12-21-26-27-13z"/>
<path fill="#ffbf00" d="M2524 6306l28 14-21-27-27-16z"/>
<path fill="#ffca00" d="M2497 6290l27 16-20-29-28-18z"/>
<path fill="#ffca00" d="M2469 6273l28 17-21-31-27-19z"/>
<path fill="#ffca00" d="M2442 6255l27 18-20-33-28-23z"/>
<path fill="#ffd400" d="M2415 6235l27 20-21-38-27-24z"/>
<path fill="#ffdf00" d="M2387 6215l28 20-21-42-27-27z"/>
<path fill="#ffea00" d="M2360 6195l27 20-20-49-28-27z"/>
<path fill="#fff400" d="M2332 6178l28 17-21-56-27-26z"/>
<path fill="#fff400" d="M2305 6166l27 12-20-65-28-21z"/>
<path fill="#ff0" d="M2278 6163l27 3-21-74-27-10z"/>
<path fill="#ffff20" d="M2250 6171l28-8-21-81-28 7z"/>
<path fill="#ff0" class="c" d="M2255 6112l9-3-7-27-9 2z"/>
<path fill="#ffff10" class="c" d="M2245 6114l10-2-7-28-9 3z"/>
<path fill="#ffff20" class="c" d="M2236 6116l9-2-6-27-10 2z"/>
<path fill="#ffff10" class="c" d="M2262 6139l9-3-7-27-9 3z"/>
<path fill="#ffff20" class="c" d="M2243 6144l19-5-7-27-19 4z"/>
<path fill="#ffff10" class="c" d="M2268 6166l10-3-7-27-9 3z"/>
<path fill="#ffff20" class="c" d="M2259 6168l9-2-6-27-10 2z"/>
<path fill="#ffff30" class="c" d="M2250 6171l9-3-7-27-9 3z"/>
<path fill="#ffff50" d="M2223 6191l27-20-21-82-27 24z"/>
<path fill="#ffff20" class="c" d="M2228 6115l7-6-6-20-6 6z"/>
<path fill="#ffff30" class="c" d="M2221 6121l7-6-5-20-7 6z"/>
<path fill="#ffff40" class="c" d="M2214 6126l7-5-5-20-7 6z"/>
<path fill="#ffff50" class="c" d="M2207 6132l7-6-5-19-7 6z"/>
<path fill="#ffff30" class="c" d="M2233 6135l7-5-5-21-7 6z"/>
<path fill="#ffff40" class="c" d="M2226 6141l7-6-5-20-7 6z"/>
<path fill="#ffff50" class="c" d="M2219 6146l7-5-5-20-7 5z"/>
<path fill="#ffff60" class="c" d="M2212 6152l7-6-5-20-7 6z"/>
<path fill="#ffff40" class="c" d="M2238 6156l7-6-5-20-7 5z"/>
<path fill="#ffff50" class="c" d="M2231 6161l7-5-5-21-7 6z"/>
<path fill="#ffff60" class="c" d="M2224 6166l7-5-5-20-7 5z"/>
<path fill="#ffff70" class="c" d="M2218 6171l6-5-5-20-7 6z"/>
<path fill="#ffff40" class="c" d="M2243 6176l7-5-5-21-7 6z"/>
<path fill="#ffff50" class="c" d="M2236 6181l7-5-5-20-7 5z"/>
<path fill="#ffff70" class="c" d="M2230 6186l6-5-5-20-7 5z"/>
<path fill="#ffff80" class="c" d="M2223 6191l7-5-6-20-6 5z"/>
<path fill="#ffff70" d="M2195 6220l28-29-21-78-27 38z"/>
<path fill="#ffff60" class="c" d="M2200 6150l9-11-7-26-9 12z"/>
<path fill="#ffff50" class="c" d="M2181 6174l19-24-7-25-18 26z"/>
<path fill="#ffff70" class="c" d="M2188 6197l28-32-7-26-28 35z"/>
<path fill="#ffff80" class="c" d="M2195 6220l28-29-7-26-28 32z"/>
<path fill="#ffff40" d="M2168 6257l27-37-20-69-28 45z"/>
<path fill="#ffff40" class="c" d="M2173 6179l7-11-5-17-7 11z"/>
<path fill="#ffff20" class="c" d="M2166 6190l7-11-5-17-7 12z"/>
<path fill="#ffff10" class="c" d="M2159 6201l7-11-5-16-7 11z"/>
<path fill="#ff0" class="c" d="M2152 6212l7-11-5-16-7 11z"/>
<path fill="#ffff50" class="c" d="M2178 6196l7-11-5-17-7 11z"/>
<path fill="#ffff40" class="c" d="M2171 6206l7-10-5-17-7 11z"/>
<path fill="#ffff20" class="c" d="M2164 6216l7-10-5-16-7 11z"/>
<path fill="#ffff10" class="c" d="M2158 6227l6-11-5-15-7 11z"/>
<path fill="#ffff70" class="c" d="M2183 6212l7-9-5-18-7 11z"/>
<path fill="#ffff50" class="c" d="M2176 6222l7-10-5-16-7 10z"/>
<path fill="#ffff40" class="c" d="M2170 6232l6-10-5-16-7 10z"/>
<path fill="#ffff20" class="c" d="M2163 6242l7-10-6-16-6 11z"/>
<path fill="#ffff80" class="c" d="M2188 6229l7-9-5-17-7 9z"/>
<path fill="#ffff70" class="c" d="M2182 6238l6-9-5-17-7 10z"/>
<path fill="#ffff50" class="c" d="M2175 6248l7-10-6-16-6 10z"/>
<path fill="#ffff40" class="c" d="M2168 6257l7-9-5-16-7 10z"/>
<path fill="#fff400" d="M2140 6297l28-40-21-61-27 49z"/>
<path fill="#ffea00" class="c" d="M2146 6223l6-11-5-16-7 13z"/>
<path fill="#ffdf00" class="c" d="M2139 6235l7-12-6-14-7 12z"/>
<path fill="#ffd400" class="c" d="M2132 6247l7-12-6-14-6 12z"/>
<path fill="#ffca00" class="c" d="M2125 6258l7-11-5-14-7 12z"/>
<path fill="#ff0" class="c" d="M2151 6238l7-11-6-15-6 11z"/>
<path fill="#fff400" class="c" d="M2144 6249l7-11-5-15-7 12z"/>
<path fill="#ffea00" class="c" d="M2137 6260l7-11-5-14-7 12z"/>
<path fill="#ffd400" class="c" d="M2130 6271l7-11-5-13-7 11z"/>
<path fill="#ffff10" class="c" d="M2156 6252l7-10-5-15-7 11z"/>
<path fill="#ff0" class="c" d="M2149 6263l7-11-5-14-7 11z"/>
<path fill="#fff400" class="c" d="M2142 6273l7-10-5-14-7 11z"/>
<path fill="#ffea00" class="c" d="M2135 6284l7-11-5-13-7 11z"/>
<path fill="#ffff30" class="c" d="M2161 6267l7-10-5-15-7 10z"/>
<path fill="#ffff10" class="c" d="M2154 6277l7-10-5-15-7 11z"/>
<path fill="#ff0" class="c" d="M2147 6287l7-10-5-14-7 10z"/>
<path fill="#fff400" class="c" d="M2140 6297l7-10-5-14-7 11z"/>
<path fill="#ffca00" d="M2113 6339l27-42-20-52-28 50z"/>
<path fill="#ffca00" class="c" d="M2118 6278l9-15-7-18-9 17z"/>
<path fill="#ffbf00" class="c" d="M2108 6294l10-16-7-16-10 16z"/>
<path fill="#ffb500" class="c" d="M2099 6309l9-15-7-16-9 17z"/>
<path fill="#ffd400" class="c" d="M2124 6295l10-15-7-17-9 15z"/>
<path fill="#ffca00" class="c" d="M2115 6309l9-14-6-17-10 16z"/>
<path fill="#ffbf00" class="c" d="M2106 6324l9-15-7-15-9 15z"/>
<path fill="#ffdf00" class="c" d="M2131 6311l9-14-6-17-10 15z"/>
<path fill="#ffd400" class="c" d="M2122 6325l9-14-7-16-9 14z"/>
<path fill="#ffca00" class="c" d="M2113 6339l9-14-7-16-9 15z"/>
<path fill="#ffb500" d="M2086 6381l27-42-21-44-27 47z"/>
<path fill="#ffb500" class="c" d="M2089 6339l14-22-11-22-13 23z"/>
<path fill="#fa0" class="c" d="M2075 6361l14-22-10-21-14 24z"/>
<path fill="#ffbf00" class="c" d="M2099 6360l14-21-10-22-14 22z"/>
<path fill="#ffb500" class="c" d="M2086 6381l13-21-10-21-14 22z"/>
<path fill="#fa0" d="M2058 6422l28-41-21-39-27 46z"/>
<path fill="#fa0" class="c" d="M2062 6383l13-22-10-19-14 23z"/>
<path fill="#ff9f00" class="c" d="M2048 6405l14-22-11-18-13 23z"/>
<path fill="#ffb500" class="c" d="M2072 6401l14-20-11-20-13 22z"/>
<path fill="#fa0" class="c" d="M2058 6422l14-21-10-18-14 22z"/>
<path fill="#ff9f00" d="M2031 6461l27-39-20-34-28 43z"/>
<path fill="#ff9f00" class="c" d="M2020 6446l28-41-10-17-28 43z"/>
<path fill="#fa0" class="c" d="M2045 6441l13-19-10-17-14 20z"/>
<path fill="#ff9f00" class="c" d="M2031 6461l14-20-11-16-14 21z"/>
<path fill="#ff9500" d="M2003 6500l28-39-21-30-27 41z"/>
<path fill="#ff9500" d="M1976 6536l27-36-20-28-28 39z"/>
<path fill="#ff8a00" d="M1949 6571l27-35-21-25-27 36z"/>
<path fill="#ff8a00" d="M1921 6605l28-34-21-24-28 36z"/>
<path fill="#ff8a00" d="M1894 6638l27-33-21-22-27 33z"/>
<path fill="#ff8a00" d="M1866 6669l28-31-21-22-27 33z"/>
<path fill="#ff8000" d="M1839 6700l27-31-20-20-28 31z"/>
<path class="m" d="M3456 6280l-20-21M3347 6297l-21-22M3210 6317l-21-23M3073 6335l-21-25M2936 6348l-21-26M2798 6359l-20-28M2661 6360l-20-28M2524 6306l-20-29M2387 6215l-20-49M2250 6171l-21-82M2113 6339l-21-44M1976 6536l-21-25M1839 6700l-21-20"/>
<path fill="#ffbf00" d="M3450 6306l27-4-21-22-27 5z"/>
<path fill="#ffbf00" d="M3422 6311l28-5-21-21-27 4z"/>
<path fill="#ffbf00" d="M3395 6315l27-4-20-22-28 4z"/>
<path fill="#ffbf00" d="M3368 6320l27-5-21-22-27 4z"/>
<path fill="#ffbf00" d="M3340 6324l28-4-21-23-28 4z"/>
<path fill="#ffbf00" d="M3313 6328l27-4-21-23-27 4z"/>
<path fill="#ffbf00" d="M3285 6332l28-4-21-23-27 4z"/>
<path fill="#ffbf00" d="M3258 6336l27-4-20-23-28 4z"/>
<path fill="#ffbf00" d="M3230 6340l28-4-21-23-27 4z"/>
<path fill="#ffbf00" d="M3203 6344l27-4-20-23-28 4z"/>
<path fill="#ffca00" d="M3176 6348l27-4-21-23-27 4z"/>
<path fill="#ffca00" d="M3148 6352l28-4-21-23-28 3z"/>
<path fill="#ffca00" d="M3121 6355l27-3-21-24-27 3z"/>
<path fill="#ffca00" d="M3093 6359l28-4-21-24-27 4z"/>
<path fill="#ffca00" d="M3066 6362l27-3-20-24-28 3z"/>
<path fill="#ffca00" d="M3039 6365l27-3-21-24-27 2z"/>
<path fill="#ffca00" d="M3011 6368l28-3-21-25-28 3z"/>
<path fill="#ffca00" d="M2984 6371l27-3-21-25-27 3z"/>
<path fill="#ffd400" d="M2956 6374l28-3-21-25-27 2z"/>
<path fill="#ffd400" d="M2929 6377l27-3-20-26-28 3z"/>
<path fill="#ffd400" d="M2901 6379l28-2-21-26-27 2z"/>
<path fill="#ffd400" d="M2874 6382l27-3-20-26-28 2z"/>
<path fill="#ffd400" d="M2847 6385l27-3-21-27-27 2z"/>
<path fill="#ffd400" d="M2819 6387l28-2-21-28-28 2z"/>
<path fill="#ffd400" d="M2792 6389l27-2-21-28-27 2z"/>
<path fill="#ffdf00" d="M2764 6391l28-2-21-28-27 2z"/>
<path fill="#ffdf00" d="M2737 6392l27-1-20-28-28 1z"/>
<path fill="#ffd400" d="M2710 6391l27 1-21-28-27-1z"/>
<path fill="#ffca00" d="M2682 6386l28 5-21-28-28-3z"/>
<path fill="#ffd400" class="c" d="M2685 6375l14 2-10-14-14-1z"/>
<path fill="#ffca00" class="c" d="M2672 6373l13 2-10-13-14-2zM2682 6386l28 5-11-14-27-4z"/>
<path fill="#ffbf00" d="M2655 6378l27 8-21-26-27-7z"/>
<path fill="#ffbf00" d="M2627 6369l28 9-21-25-27-10z"/>
<path fill="#ffbf00" d="M2600 6359l27 10-20-26-28-11z"/>
<path fill="#ffbf00" d="M2572 6348l28 11-21-27-27-12z"/>
<path fill="#ffca00" d="M2545 6335l27 13-20-28-28-14z"/>
<path fill="#ffca00" d="M2518 6322l27 13-21-29-27-16z"/>
<path fill="#ffd400" d="M2490 6308l28 14-21-32-28-17z"/>
<path fill="#ffd400" d="M2463 6293l27 15-21-35-27-18z"/>
<path fill="#ffdf00" d="M2435 6278l28 15-21-38-27-20z"/>
<path fill="#ffea00" d="M2408 6263l27 15-20-43-28-20z"/>
<path fill="#ffea00" d="M2381 6249l27 14-21-48-27-20z"/>
<path fill="#fff400" d="M2353 6238l28 11-21-54-28-17z"/>
<path fill="#ff0" d="M2326 6232l27 6-21-60-27-12z"/>
<path fill="#ffff10" d="M2298 6233l28-1-21-66-27-3z"/>
<path fill="#ffff30" d="M2271 6242l27-9-20-70-28 8z"/>
<path fill="#ffff10" class="c" d="M2275 6189l9-3-6-23-10 3z"/>
<path fill="#ffff30" class="c" d="M2266 6192l9-3-7-23-9 2z"/>
<path fill="#ffff40" class="c" d="M2257 6195l9-3-7-24-9 3z"/>
<path fill="#ffff20" class="c" d="M2282 6212l9-2-7-24-9 3z"/>
<path fill="#ffff30" class="c" d="M2273 6215l9-3-7-23-9 3z"/>
<path fill="#ffff40" class="c" d="M2264 6218l9-3-7-23-9 3z"/>
<path fill="#ffff20" class="c" d="M2289 6236l9-3-7-23-9 2z"/>
<path fill="#ffff40" class="c" d="M2280 6239l9-3-7-24-9 3z"/>
<path fill="#ffff50" class="c" d="M2271 6242l9-3-7-24-9 3z"/>
<path fill="#ffff80" d="M2243 6259l28-17-21-71-27 20z"/>
<path fill="#ffff50" class="c" d="M2248 6193l7-4-5-18-7 5z"/>
<path fill="#ffff60" class="c" d="M2242 6198l6-5-5-17-7 5z"/>
<path fill="#ffff70" class="c" d="M2235 6203l7-5-6-17-6 5z"/>
<path fill="#ffff8f" class="c" d="M2228 6208l7-5-5-17-7 5z"/>
<path fill="#ffff50" class="c" d="M2254 6211l7-5-6-17-7 4z"/>
<path fill="#ffff70" class="c" d="M2247 6215l7-4-6-18-6 5z"/>
<path fill="#ffff80" class="c" d="M2240 6220l7-5-5-17-7 5z"/>
<path fill="#ffff8f" class="c" d="M2233 6225l7-5-5-17-7 5z"/>
<path fill="#ffff60" class="c" d="M2259 6228l7-4-5-18-7 5z"/>
<path fill="#ffff70" class="c" d="M2252 6233l7-5-5-17-7 4z"/>
<path fill="#ffff80" class="c" d="M2245 6237l7-4-5-18-7 5z"/>
<path fill="#ffff9f" class="c" d="M2238 6242l7-5-5-17-7 5z"/>
<path fill="#ffff60" class="c" d="M2264 6246l7-4-5-18-7 4z"/>
<path fill="#ffff80" class="c" d="M2257 6250l7-4-5-18-7 5z"/>
<path fill="#ffff8f" class="c" d="M2250 6254l7-4-5-17-7 4z"/>
<path fill="#ffff9f" class="c" d="M2243 6259l7-5-5-17-7 5z"/>
<path fill="#ffffaf" d="M2216 6283l27-24-20-68-28 29z"/>
<path fill="#ffff8f" class="c" d="M2221 6223l9-10-7-22-9 9z"/>
<path fill="#ffff9f" class="c" d="M2202 6241l19-18-7-23-19 20zM2227 6245l10-9-7-23-9 10z"/>
<path fill="#ffffaf" class="c" d="M2209 6262l18-17-6-22-19 18zM2234 6267l9-8-6-23-10 9z"/>
<path fill="#ffffbf" class="c" d="M2225 6275l9-8-7-22-9 8z"/>
<path fill="#ffffcf" class="c" d="M2216 6283l9-8-7-22-9 9z"/>
<path fill="#ffff8f" d="M2189 6313l27-30-21-63-27 37z"/>
<path fill="#ffff8f" class="c" d="M2194 6245l7-9-6-16-7 9z"/>
<path fill="#ffff80" class="c" d="M2187 6253l7-8-6-16-6 9z"/>
<path fill="#ffff70" class="c" d="M2180 6262l7-9-5-15-7 10z"/>
<path fill="#ffff50" class="c" d="M2173 6271l7-9-5-14-7 9z"/>
<path fill="#ffff9f" class="c" d="M2199 6260l7-8-5-16-7 9z"/>
<path fill="#ffff8f" class="c" d="M2192 6268l7-8-5-15-7 8z"/>
<path fill="#ffff80" class="c" d="M2185 6277l7-9-5-15-7 9z"/>
<path fill="#ffff70" class="c" d="M2178 6285l7-8-5-15-7 9z"/>
<path fill="#ffffaf" class="c" d="M2204 6275l7-8-5-15-7 8z"/>
<path fill="#ffff9f" class="c" d="M2197 6283l7-8-5-15-7 8z"/>
<path fill="#ffff8f" class="c" d="M2190 6291l7-8-5-15-7 9z"/>
<path fill="#ffff80" class="c" d="M2183 6299l7-8-5-14-7 8z"/>
<path fill="#ffffbf" class="c" d="M2209 6290l7-7-5-16-7 8z"/>
<path fill="#ffffaf" class="c" d="M2202 6298l7-8-5-15-7 8z"/>
<path fill="#ffff9f" class="c" d="M2195 6306l7-8-5-15-7 8z"/>
<path fill="#ffff8f" class="c" d="M2189 6313l6-7-5-15-7 8z"/>
<path fill="#ffff40" d="M2161 6347l28-34-21-56-28 40z"/>
<path fill="#ffff40" class="c" d="M2166 6280l7-9-5-14-7 10z"/>
<path fill="#ffff20" class="c" d="M2159 6290l7-10-5-13-7 10z"/>
<path fill="#ffff10" class="c" d="M2153 6300l6-10-5-13-7 10z"/>
<path fill="#ff0" class="c" d="M2146 6310l7-10-6-13-7 10z"/>
<path fill="#ffff50" class="c" d="M2171 6294l7-9-5-14-7 9z"/>
<path fill="#ffff40" class="c" d="M2165 6303l6-9-5-14-7 10z"/>
<path fill="#ffff20" class="c" d="M2158 6313l7-10-6-13-6 10z"/>
<path fill="#ffff10" class="c" d="M2151 6322l7-9-5-13-7 10z"/>
<path fill="#ffff70" class="c" d="M2177 6308l6-9-5-14-7 9z"/>
<path fill="#ffff50" class="c" d="M2170 6317l7-9-6-14-6 9z"/>
<path fill="#ffff30" class="c" d="M2163 6326l7-9-5-14-7 10z"/>
<path fill="#ffff20" class="c" d="M2156 6335l7-9-5-13-7 9z"/>
<path fill="#ffff80" class="c" d="M2182 6322l7-9-6-14-6 9z"/>
<path fill="#ffff60" class="c" d="M2175 6330l7-8-5-14-7 9z"/>
<path fill="#ffff50" class="c" d="M2168 6339l7-9-5-13-7 9z"/>
<path fill="#ffff30" class="c" d="M2161 6347l7-8-5-13-7 9z"/>
<path fill="#fff400" d="M2134 6383l27-36-21-50-27 42z"/>
<path fill="#ffea00" class="c" d="M2132 6330l14-20-6-13-13 21z"/>
<path fill="#ffdf00" class="c" d="M2125 6340l7-10-5-12-7 10z"/>
<path fill="#ffd400" class="c" d="M2118 6350l7-10-5-12-7 11z"/>
<path fill="#ff0" class="c" d="M2144 6332l7-10-5-12-7 10z"/>
<path fill="#fff400" class="c" d="M2137 6342l7-10-5-12-7 10z"/>
<path fill="#ffea00" class="c" d="M2130 6351l7-9-5-12-7 10z"/>
<path fill="#ffdf00" class="c" d="M2123 6361l7-10-5-11-7 10z"/>
<path fill="#ffff10" class="c" d="M2149 6344l7-9-5-13-7 10z"/>
<path fill="#fff400" class="c" d="M2142 6353l7-9-5-12-7 10z"/>
<path fill="#ffea00" class="c" d="M2135 6363l7-10-5-11-7 9z"/>
<path fill="#ffdf00" class="c" d="M2129 6372l6-9-5-12-7 10z"/>
<path fill="#ffff20" class="c" d="M2154 6356l7-9-5-12-7 9z"/>
<path fill="#ff0" class="c" d="M2148 6365l6-9-5-12-7 9z"/>
<path fill="#fff400" class="c" d="M2141 6374l7-9-6-12-7 10z"/>
<path fill="#ffea00" class="c" d="M2134 6383l7-9-6-11-6 9z"/>
<path fill="#ffca00" d="M2106 6420l28-37-21-44-27 42z"/>
<path fill="#ffca00" class="c" d="M2102 6380l18-26-7-15-18 28z"/>
<path fill="#ffbf00" class="c" d="M2093 6394l9-14-7-13-9 14z"/>
<path fill="#ffd400" class="c" d="M2118 6381l9-13-7-14-9 13z"/>
<path fill="#ffca00" class="c" d="M2099 6407l19-26-7-14-18 27z"/>
<path fill="#ffdf00" class="c" d="M2125 6395l9-12-7-15-9 13z"/>
<path fill="#ffd400" class="c" d="M2116 6408l9-13-7-14-9 13z"/>
<path fill="#ffca00" class="c" d="M2106 6420l10-12-7-14-10 13z"/>
<path fill="#ffbf00" d="M2079 6457l27-37-20-39-28 41z"/>
<path fill="#ffb500" class="c" d="M2069 6439l27-39-10-19-28 41z"/>
<path fill="#ffbf00" class="c" d="M2079 6457l27-37-10-20-27 39z"/>
<path fill="#fa0" d="M2052 6493l27-36-21-35-27 39z"/>
<path fill="#fa0" class="c" d="M2041 6477l28-38-11-17-27 39z"/>
<path fill="#ffb500" class="c" d="M2052 6493l27-36-10-18-28 38z"/>
<path fill="#fa0" d="M2024 6529l28-36-21-32-28 39z"/>
<path fill="#ff9f00" d="M1997 6563l27-34-21-29-27 36z"/>
<path fill="#ff9f00" d="M1969 6597l28-34-21-27-27 35z"/>
<path fill="#ff9500" d="M1942 6629l27-32-20-26-28 34z"/>
<path fill="#ff9500" d="M1914 6660l28-31-21-24-27 33z"/>
<path fill="#ff8a00" d="M1887 6691l27-31-20-22-28 31z"/>
<path fill="#ff8a00" d="M1860 6720l27-29-21-22-27 31z"/>
<path class="m" d="M3477 6302l-21-22M3429 6285l27-5M3402 6289l27-4M3374 6293l28-4M3347 6297l27-4M3368 6320l-21-23M3319 6301l28-4M3292 6305l27-4M3265 6309l27-4M3237 6313l28-4M3210 6317l27-4M3230 6340l-20-23M3182 6321l28-4M3155 6325l27-4M3127 6328l28-3M3100 6331l27-3M3073 6335l27-4M3093 6359l-20-24M3045 6338l28-3M3018 6340l27-2M2990 6343l28-3M2963 6346l27-3M2936 6348l27-2M2956 6374l-20-26M2908 6351l28-3M2881 6353l27-2M2853 6355l28-2M2826 6357l27-2M2798 6359l28-2M2819 6387l-21-28M2771 6361l27-2M2744 6363l27-2M2716 6364l28-1M2689 6363l27 1M2661 6360l28 3M2682 6386l-21-26M2634 6353l27 7M2607 6343l27 10M2579 6332l28 11M2552 6320l27 12M2524 6306l28 14M2545 6335l-21-29M2497 6290l27 16M2469 6273l28 17M2442 6255l27 18M2415 6235l27 20M2387 6215l28 20M2408 6263l-21-48M2360 6195l27 20M2332 6178l28 17M2305 6166l27 12M2278 6163l27 3M2250 6171l28-8M2271 6242l-21-71M2223 6191l27-20M2195 6220l28-29M2168 6257l27-37M2140 6297l28-40M2113 6339l27-42M2134 6383l-21-44M2086 6381l27-42M2058 6422l28-41M2031 6461l27-39M2003 6500l28-39M1976 6536l27-36M1997 6563l-21-27M1949 6571l27-35M1921 6605l28-34M1894 6638l27-33M1866 6669l28-31M1839 6700l27-31M1860 6720l-21-20"/>
<path fill="#ffbf00" d="M3471 6328l27-4-21-22-27 4z"/>
<path fill="#ffbf00" d="M3443 6333l28-5-21-22-28 5z"/>
<path fill="#ffbf00" d="M3416 6337l27-4-21-22-27 4z"/>
<path fill="#ffbf00" d="M3388 6342l28-5-21-22-27 5z"/>
<path fill="#ffbf00" d="M3361 6346l27-4-20-22-28 4z"/>
<path fill="#ffbf00" d="M3333 6351l28-5-21-22-27 4z"/>
<path fill="#ffbf00" d="M3306 6355l27-4-20-23-28 4z"/>
<path fill="#ffbf00" d="M3279 6359l27-4-21-23-27 4z"/>
<path fill="#ffbf00" d="M3251 6363l28-4-21-23-28 4z"/>
<path fill="#ffbf00" d="M3224 6368l27-5-21-23-27 4z"/>
<path fill="#ffbf00" d="M3196 6372l28-4-21-24-27 4z"/>
<path fill="#ffca00" d="M3169 6375l27-3-20-24-28 4z"/>
<path fill="#ffca00" d="M3142 6379l27-4-21-23-27 3z"/>
<path fill="#ffca00" d="M3114 6383l28-4-21-24-28 4z"/>
<path fill="#ffca00" d="M3087 6386l27-3-21-24-27 3z"/>
<path fill="#ffca00" d="M3059 6390l28-4-21-24-27 3z"/>
<path fill="#ffca00" d="M3032 6393l27-3-20-25-28 3z"/>
<path fill="#ffca00" d="M3004 6396l28-3-21-25-27 3z"/>
<path fill="#ffca00" d="M2977 6399l27-3-20-25-28 3z"/>
<path fill="#ffd400" d="M2950 6403l27-4-21-25-27 3z"/>
<path fill="#ffd400" d="M2922 6406l28-3-21-26-28 2z"/>
<path fill="#ffd400" d="M2895 6409l27-3-21-27-27 3z"/>
<path fill="#ffd400" d="M2867 6412l28-3-21-27-27 3z"/>
<path fill="#ffd400" d="M2840 6414l27-2-20-27-28 2z"/>
<path fill="#ffd400" d="M2813 6417l27-3-21-27-27 2z"/>
<path fill="#ffd400" d="M2785 6419l28-2-21-28-28 2z"/>
<path fill="#ffd400" d="M2758 6420l27-1-21-28-27 1z"/>
<path fill="#ffca00" d="M2730 6416l28 4-21-28-27-1z"/>
<path fill="#ffd400" class="c" d="M2734 6405l13 1-10-14-14 0z"/>
<path fill="#ffca00" class="c" d="M2720 6404l14 1-11-13-13-1zM2730 6416l28 4-11-14-27-2z"/>
<path fill="#ffbf00" d="M2703 6410l27 6-20-25-28-5z"/>
<path fill="#ffbf00" d="M2675 6402l28 8-21-24-27-8z"/>
<path fill="#ffbf00" d="M2648 6394l27 8-20-24-28-9z"/>
<path fill="#ffbf00" d="M2621 6386l27 8-21-25-27-10z"/>
<path fill="#ffca00" d="M2593 6376l28 10-21-27-28-11z"/>
<path fill="#ffca00" d="M2566 6366l27 10-21-28-27-13z"/>
<path fill="#ffd400" d="M2538 6354l28 12-21-31-27-13z"/>
<path fill="#ffd400" d="M2511 6343l27 11-20-32-28-14z"/>
<path fill="#ffdf00" d="M2484 6331l27 12-21-35-27-15z"/>
<path fill="#ffea00" d="M2456 6319l28 12-21-38-28-15z"/>
<path fill="#ffea00" d="M2429 6309l27 10-21-41-27-15z"/>
<path fill="#fff400" d="M2401 6300l28 9-21-46-27-14z"/>
<path fill="#fff400" d="M2374 6293l27 7-20-51-28-11z"/>
<path fill="#ff0" d="M2346 6291l28 2-21-55-27-6z"/>
<path fill="#ffff10" d="M2319 6294l27-3-20-59-28 1z"/>
<path fill="#ffff10" class="c" d="M2322 6263l14-1-10-30-14 1z"/>
<path fill="#ffff20" class="c" d="M2309 6264l13-1-10-30-14 0z"/>
<path fill="#ffff10" class="c" d="M2333 6293l13-2-10-29-14 1z"/>
<path fill="#ffff20" class="c" d="M2319 6294l14-1-11-30-13 1z"/>
<path fill="#ffff40" d="M2292 6304l27-10-21-61-27 9z"/>
<path fill="#ffff30" class="c" d="M2296 6256l9-3-7-20-9 3z"/>
<path fill="#ffff40" class="c" d="M2287 6259l9-3-7-20-9 3z"/>
<path fill="#ffff50" class="c" d="M2278 6262l9-3-7-20-9 3z"/>
<path fill="#ffff30" class="c" d="M2303 6277l9-3-7-21-9 3z"/>
<path fill="#ffff40" class="c" d="M2294 6280l9-3-7-21-9 3z"/>
<path fill="#ffff60" class="c" d="M2285 6283l9-3-7-21-9 3z"/>
<path fill="#ffff30" class="c" d="M2310 6297l9-3-7-20-9 3z"/>
<path fill="#ffff50" class="c" d="M2301 6300l9-3-7-20-9 3z"/>
<path fill="#ffff60" class="c" d="M2292 6304l9-4-7-20-9 3z"/>
<path fill="#ffff8f" d="M2264 6319l28-15-21-62-28 17z"/>
<path fill="#ffff70" class="c" d="M2269 6261l7-4-5-15-7 4z"/>
<path fill="#ffff80" class="c" d="M2262 6265l7-4-5-15-7 4z"/>
<path fill="#ffff9f" class="c" d="M2256 6269l6-4-5-15-7 4z"/>
<path fill="#ffffaf" class="c" d="M2249 6274l7-5-6-15-7 5z"/>
<path fill="#ffff70" class="c" d="M2274 6277l7-4-5-16-7 4z"/>
<path fill="#ffff80" class="c" d="M2268 6281l6-4-5-16-7 4z"/>
<path fill="#ffff9f" class="c" d="M2261 6285l7-4-6-16-6 4z"/>
<path fill="#ffffaf" class="c" d="M2254 6289l7-4-5-16-7 5z"/>
<path fill="#ffff70" class="c" d="M2280 6292l6-4-5-15-7 4z"/>
<path fill="#ffff8f" class="c" d="M2273 6296l7-4-6-15-6 4z"/>
<path fill="#ffff9f" class="c" d="M2266 6300l7-4-5-15-7 4z"/>
<path fill="#ffffaf" class="c" d="M2259 6304l7-4-5-15-7 4z"/>
<path fill="#ffff80" class="c" d="M2285 6307l7-3-6-16-6 4z"/>
<path fill="#ffff8f" class="c" d="M2278 6311l7-4-5-15-7 4z"/>
<path fill="#ffff9f" class="c" d="M2271 6315l7-4-5-15-7 4z"/>
<path fill="#ffffbf" class="c" d="M2264 6319l7-4-5-15-7 4z"/>
<path fill="#ffffcf" d="M2237 6340l27-21-21-60-27 24z"/>
<path fill="#ffffbf" class="c" d="M2240 6300l14-11-11-30-13 12z"/>
<path fill="#ffffcf" class="c" d="M2226 6312l14-12-10-29-14 12zM2250 6329l14-10-10-30-14 11z"/>
<path fill="#ffffdf" class="c" d="M2237 6340l13-11-10-29-14 12z"/>
<path fill="#ffffcf" d="M2209 6366l28-26-21-57-27 30z"/>
<path fill="#ffffcf" class="c" d="M2214 6312l9-10-7-19-9 10z"/>
<path fill="#ffffbf" class="c" d="M2205 6321l9-9-7-19-9 10z"/>
<path fill="#ffff9f" class="c" d="M2196 6331l9-10-7-18-9 10z"/>
<path fill="#ffffdf" class="c" d="M2221 6330l9-9-7-19-9 10z"/>
<path fill="#ffffcf" class="c" d="M2212 6339l9-9-7-18-9 9z"/>
<path fill="#ffffaf" class="c" d="M2202 6348l10-9-7-18-9 10z"/>
<path fill="#ffffdf" class="c" d="M2228 6349l9-9-7-19-9 9z"/>
<path fill="#ffffcf" class="c" d="M2219 6357l9-8-7-19-9 9z"/>
<path fill="#ffffbf" class="c" d="M2209 6366l10-9-7-18-10 9z"/>
<path fill="#ffff80" d="M2182 6395l27-29-20-53-28 34z"/>
<path fill="#ffff8f" class="c" d="M2187 6335l7-9-5-13-7 9z"/>
<path fill="#ffff70" class="c" d="M2180 6343l7-8-5-13-7 8z"/>
<path fill="#ffff60" class="c" d="M2173 6351l7-8-5-13-7 9z"/>
<path fill="#ffff40" class="c" d="M2166 6359l7-8-5-12-7 8z"/>
<path fill="#ffff9f" class="c" d="M2192 6347l7-7-5-14-7 9z"/>
<path fill="#ffff80" class="c" d="M2185 6355l7-8-5-12-7 8z"/>
<path fill="#ffff60" class="c" d="M2178 6363l7-8-5-12-7 8z"/>
<path fill="#ffff50" class="c" d="M2172 6371l6-8-5-12-7 8z"/>
<path fill="#ffff9f" class="c" d="M2197 6360l7-7-5-13-7 7z"/>
<path fill="#ffff8f" class="c" d="M2190 6368l7-8-5-13-7 8z"/>
<path fill="#ffff70" class="c" d="M2184 6376l6-8-5-13-7 8z"/>
<path fill="#ffff60" class="c" d="M2177 6383l7-7-6-13-6 8z"/>
<path fill="#ffffaf" class="c" d="M2203 6373l6-7-5-13-7 7z"/>
<path fill="#ffff9f" class="c" d="M2196 6381l7-8-6-13-7 8z"/>
<path fill="#ffff80" class="c" d="M2189 6388l7-7-6-13-6 8z"/>
<path fill="#ffff70" class="c" d="M2182 6395l7-7-5-12-7 7z"/>
<path fill="#ffff20" d="M2155 6427l27-32-21-48-27 36z"/>
<path fill="#ffff30" class="c" d="M2160 6368l6-9-5-12-7 9z"/>
<path fill="#ffff10" class="c" d="M2153 6377l7-9-6-12-6 9z"/>
<path fill="#ff0" class="c" d="M2146 6385l7-8-5-12-7 9z"/>
<path fill="#fff400" class="c" d="M2139 6394l7-9-5-11-7 9z"/>
<path fill="#ffff30" class="c" d="M2165 6380l7-9-6-12-6 9z"/>
<path fill="#ffff20" class="c" d="M2158 6388l7-8-5-12-7 9z"/>
<path fill="#ffff10" class="c" d="M2151 6396l7-8-5-11-7 8z"/>
<path fill="#ff0" class="c" d="M2144 6405l7-9-5-11-7 9z"/>
<path fill="#ffff40" class="c" d="M2170 6391l7-8-5-12-7 9z"/>
<path fill="#ffff30" class="c" d="M2163 6399l7-8-5-11-7 8z"/>
<path fill="#ffff20" class="c" d="M2156 6408l7-9-5-11-7 8z"/>
<path fill="#ff0" class="c" d="M2149 6416l7-8-5-12-7 9z"/>
<path fill="#ffff50" class="c" d="M2175 6403l7-8-5-12-7 8z"/>
<path fill="#ffff40" class="c" d="M2168 6411l7-8-5-12-7 8z"/>
<path fill="#ffff20" class="c" d="M2161 6419l7-8-5-12-7 9z"/>
<path fill="#ffff10" class="c" d="M2155 6427l6-8-5-11-7 8z"/>
<path fill="#ffea00" d="M2127 6460l28-33-21-44-28 37z"/>
<path fill="#ffea00" class="c" d="M2132 6410l9-12-7-15-9 12z"/>
<path fill="#ffdf00" class="c" d="M2122 6421l10-11-7-15-9 13z"/>
<path fill="#ffd400" class="c" d="M2113 6433l9-12-6-13-10 12z"/>
<path fill="#fff400" class="c" d="M2138 6424l10-12-7-14-9 12z"/>
<path fill="#ffea00" class="c" d="M2129 6435l9-11-6-14-10 11z"/>
<path fill="#ffdf00" class="c" d="M2120 6446l9-11-7-14-9 12z"/>
<path fill="#ff0" class="c" d="M2145 6438l10-11-7-15-10 12z"/>
<path fill="#ffea00" class="c" d="M2136 6449l9-11-7-14-9 11z"/>
<path fill="#ffdf00" class="c" d="M2127 6460l9-11-7-14-9 11z"/>
<path fill="#ffca00" d="M2100 6493l27-33-21-40-27 37z"/>
<path fill="#ffca00" class="c" d="M2103 6457l14-17-11-20-13 19z"/>
<path fill="#ffbf00" class="c" d="M2089 6475l14-18-10-18-14 18z"/>
<path fill="#ffd400" class="c" d="M2113 6476l14-16-10-20-14 17z"/>
<path fill="#ffca00" class="c" d="M2100 6493l13-17-10-19-14 18z"/>
<path fill="#ffbf00" d="M2072 6526l28-33-21-36-27 36z"/>
<path fill="#ffbf00" class="c" d="M2076 6492l13-17-10-18-14 18z"/>
<path fill="#ffb500" class="c" d="M2062 6510l14-18-11-17-13 18z"/>
<path fill="#ffbf00" class="c" d="M2072 6526l28-33-11-18-27 35z"/>
<path fill="#ffb500" d="M2045 6559l27-33-20-33-28 36z"/>
<path fill="#fa0" d="M2017 6591l28-32-21-30-27 34z"/>
<path fill="#ff9f00" d="M1990 6623l27-32-20-28-28 34z"/>
<path fill="#ff9f00" d="M1963 6654l27-31-21-26-27 32z"/>
<path fill="#ff9f00" d="M1935 6684l28-30-21-25-28 31z"/>
<path fill="#ff9500" d="M1908 6713l27-29-21-24-27 31z"/>
<path fill="#ff9500" d="M1880 6742l28-29-21-22-27 29z"/>
<path class="m" d="M3498 6324l-21-22M3388 6342l-20-22M3251 6363l-21-23M3114 6383l-21-24M2977 6399l-21-25M2840 6414l-21-27M2703 6410l-21-24M2566 6366l-21-31M2429 6309l-21-46M2292 6304l-21-62M2155 6427l-21-44M2017 6591l-20-28M1880 6742l-20-22"/>
<path fill="#ffb500" d="M3491 6350l28-5-21-21-27 4z"/>
<path fill="#ffbf00" d="M3464 6354l27-4-20-22-28 5z"/>
<path fill="#ffbf00" d="M3436 6359l28-5-21-21-27 4z"/>
<path fill="#ffbf00" d="M3409 6364l27-5-20-22-28 5z"/>
<path fill="#ffbf00" d="M3382 6368l27-4-21-22-27 4z"/>
<path fill="#ffbf00" d="M3354 6373l28-5-21-22-28 5z"/>
<path fill="#ffbf00" d="M3327 6377l27-4-21-22-27 4z"/>
<path fill="#ffbf00" d="M3299 6382l28-5-21-22-27 4z"/>
<path fill="#ffbf00" d="M3272 6386l27-4-20-23-28 4z"/>
<path fill="#ffbf00" d="M3245 6390l27-4-21-23-27 5z"/>
<path fill="#ffbf00" d="M3217 6395l28-5-21-22-28 4z"/>
<path fill="#ffbf00" d="M3190 6399l27-4-21-23-27 3z"/>
<path fill="#ffca00" d="M3162 6403l28-4-21-24-27 4z"/>
<path fill="#ffca00" d="M3135 6407l27-4-20-24-28 4z"/>
<path fill="#ffca00" d="M3107 6410l28-3-21-24-27 3z"/>
<path fill="#ffca00" d="M3080 6414l27-4-20-24-28 4z"/>
<path fill="#ffca00" d="M3053 6418l27-4-21-24-27 3z"/>
<path fill="#ffca00" d="M3025 6421l28-3-21-25-28 3z"/>
<path fill="#ffca00" d="M2998 6425l27-4-21-25-27 3z"/>
<path fill="#ffca00" d="M2970 6428l28-3-21-26-27 4z"/>
<path fill="#ffd400" d="M2943 6431l27-3-20-25-28 3z"/>
<path fill="#ffd400" d="M2916 6435l27-4-21-25-27 3z"/>
<path fill="#ffd400" d="M2888 6438l28-3-21-26-28 3z"/>
<path fill="#ffd400" d="M2861 6441l27-3-21-26-27 2z"/>
<path fill="#ffd400" d="M2833 6444l28-3-21-27-27 3z"/>
<path fill="#ffd400" d="M2806 6447l27-3-20-27-28 2z"/>
<path fill="#ffca00" d="M2778 6444l28 3-21-28-27 1z"/>
<path fill="#ffd400" class="c" d="M2782 6433l13 0-10-14-14 1z"/>
<path fill="#ffca00" class="c" d="M2768 6432l14 1-11-13-13 0zM2778 6444l28 3-11-14-27-1z"/>
<path fill="#ffbf00" d="M2751 6439l27 5-20-24-28-4z"/>
<path fill="#ffbf00" d="M2724 6433l27 6-21-23-27-6z"/>
<path fill="#ffbf00" d="M2696 6427l28 6-21-23-28-8z"/>
<path fill="#ffbf00" d="M2669 6420l27 7-21-25-27-8z"/>
<path fill="#ffca00" d="M2641 6413l28 7-21-26-27-8z"/>
<path fill="#ffca00" d="M2614 6405l27 8-20-27-28-10z"/>
<path fill="#ffd400" d="M2587 6396l27 9-21-29-27-10z"/>
<path fill="#ffd400" d="M2559 6387l28 9-21-30-28-12z"/>
<path fill="#ffdf00" d="M2532 6378l27 9-21-33-27-11z"/>
<path fill="#ffdf00" d="M2504 6369l28 9-21-35-27-12z"/>
<path fill="#ffea00" d="M2477 6360l27 9-20-38-28-12z"/>
<path fill="#fff400" d="M2449 6353l28 7-21-41-27-10z"/>
<path fill="#fff400" d="M2422 6347l27 6-20-44-28-9z"/>
<path fill="#ff0" d="M2395 6345l27 2-21-47-27-7z"/>
<path fill="#ff0" d="M2367 6345l28 0-21-52-28-2z"/>
<path fill="#ffff20" d="M2340 6350l27-5-21-54-27 3z"/>
<path fill="#ffff10" class="c" d="M2343 6320l14-2-11-27-13 2z"/>
<path fill="#ffff20" class="c" d="M2329 6322l14-2-10-27-14 1z"/>
<path fill="#ffff10" class="c" d="M2353 6347l14-2-10-27-14 2z"/>
<path fill="#ffff20" class="c" d="M2340 6350l13-3-10-27-14 2z"/>
<path fill="#ffff50" d="M2312 6359l28-9-21-56-27 10z"/>
<path fill="#ffff30" class="c" d="M2317 6316l9-3-7-19-9 3z"/>
<path fill="#ffff50" class="c" d="M2308 6319l9-3-7-19-9 3z"/>
<path fill="#ffff60" class="c" d="M2299 6322l9-3-7-19-9 4z"/>
<path fill="#ffff40" class="c" d="M2324 6334l9-3-7-18-9 3z"/>
<path fill="#ffff50" class="c" d="M2315 6338l9-4-7-18-9 3z"/>
<path fill="#ffff60" class="c" d="M2305 6341l10-3-7-19-9 3z"/>
<path fill="#ffff40" class="c" d="M2331 6353l9-3-7-19-9 3z"/>
<path fill="#ffff50" class="c" d="M2321 6356l10-3-7-19-9 4z"/>
<path fill="#ffff60" class="c" d="M2312 6359l9-3-6-18-10 3z"/>
<path fill="#ffff9f" d="M2285 6374l27-15-20-55-28 15z"/>
<path fill="#ffff80" class="c" d="M2289 6327l10-5-7-18-10 5z"/>
<path fill="#ffff9f" class="c" d="M2280 6332l9-5-7-18-9 5z"/>
<path fill="#ffffbf" class="c" d="M2271 6337l9-5-7-18-9 5z"/>
<path fill="#ffff80" class="c" d="M2296 6346l9-5-6-19-10 5z"/>
<path fill="#ffff9f" class="c" d="M2287 6351l9-5-7-19-9 5z"/>
<path fill="#ffffaf" class="c" d="M2278 6355l9-4-7-19-9 5z"/>
<path fill="#ffff80" class="c" d="M2303 6364l9-5-7-18-9 5z"/>
<path fill="#ffff9f" class="c" d="M2294 6369l9-5-7-18-9 5z"/>
<path fill="#ffffaf" class="c" d="M2285 6374l9-5-7-18-9 4z"/>
<path fill="#ffffdf" d="M2258 6393l27-19-21-55-27 21z"/>
<path fill="#ffffcf" class="c" d="M2261 6356l14-10-11-27-14 10z"/>
<path fill="#ffffdf" class="c" d="M2247 6366l14-10-11-27-13 11z"/>
<path fill="#ffffcf" class="c" d="M2271 6383l14-9-10-28-14 10z"/>
<path fill="#ffffdf" class="c" d="M2258 6393l13-10-10-27-14 10z"/>
<path fill="#ffffdf" d="M2230 6415l28-22-21-53-28 26z"/>
<path fill="#ffffdf" class="c" d="M2233 6378l14-12-10-26-14 13z"/>
<path fill="#ffffcf" class="c" d="M2220 6391l13-13-10-25-14 13z"/>
<path fill="#ffffdf" class="c" d="M2244 6404l14-11-11-27-14 12z"/>
<path fill="#ffffcf" class="c" d="M2230 6415l14-11-11-26-13 13z"/>
<path fill="#ffff9f" d="M2203 6441l27-26-21-49-27 29z"/>
<path fill="#ffffbf" class="c" d="M2208 6385l7-7-6-12-6 7z"/>
<path fill="#ffff9f" class="c" d="M2201 6392l7-7-5-12-7 8z"/>
<path fill="#ffff8f" class="c" d="M2194 6400l7-8-5-11-7 7z"/>
<path fill="#ffff70" class="c" d="M2187 6407l7-7-5-12-7 7z"/>
<path fill="#ffffbf" class="c" d="M2213 6397l7-6-5-13-7 7z"/>
<path fill="#ffff9f" class="c" d="M2206 6404l7-7-5-12-7 7z"/>
<path fill="#ffff8f" class="c" d="M2199 6411l7-7-5-12-7 8z"/>
<path fill="#ffff80" class="c" d="M2192 6418l7-7-5-11-7 7z"/>
<path fill="#ffffbf" class="c" d="M2218 6410l7-7-5-12-7 6z"/>
<path fill="#ffffaf" class="c" d="M2211 6416l7-6-5-13-7 7z"/>
<path fill="#ffff8f" class="c" d="M2204 6423l7-7-5-12-7 7z"/>
<path fill="#ffff80" class="c" d="M2197 6430l7-7-5-12-7 7z"/>
<path fill="#ffffbf" class="c" d="M2223 6422l7-7-5-12-7 7z"/>
<path fill="#ffffaf" class="c" d="M2216 6428l7-6-5-12-7 6z"/>
<path fill="#ffff9f" class="c" d="M2210 6435l6-7-5-12-7 7z"/>
<path fill="#ffff80" class="c" d="M2203 6441l7-6-6-12-7 7z"/>
<path fill="#ffff40" d="M2175 6469l28-28-21-46-27 32z"/>
<path fill="#ffff60" class="c" d="M2180 6414l7-7-5-12-7 8z"/>
<path fill="#ffff40" class="c" d="M2173 6422l7-8-5-11-7 8z"/>
<path fill="#ffff30" class="c" d="M2167 6430l6-8-5-11-7 8z"/>
<path fill="#ffff20" class="c" d="M2160 6437l7-7-6-11-6 8z"/>
<path fill="#ffff60" class="c" d="M2185 6426l7-8-5-11-7 7z"/>
<path fill="#ffff50" class="c" d="M2179 6433l6-7-5-12-7 8z"/>
<path fill="#ffff30" class="c" d="M2172 6440l7-7-6-11-6 8z"/>
<path fill="#ffff20" class="c" d="M2165 6448l7-8-5-10-7 7z"/>
<path fill="#ffff70" class="c" d="M2191 6437l6-7-5-12-7 8z"/>
<path fill="#ffff50" class="c" d="M2184 6444l7-7-6-11-6 7z"/>
<path fill="#ffff40" class="c" d="M2177 6451l7-7-5-11-7 7z"/>
<path fill="#ffff30" class="c" d="M2170 6458l7-7-5-11-7 8z"/>
<path fill="#ffff70" class="c" d="M2196 6448l7-7-6-11-6 7z"/>
<path fill="#ffff60" class="c" d="M2189 6455l7-7-5-11-7 7z"/>
<path fill="#ffff40" class="c" d="M2182 6462l7-7-5-11-7 7z"/>
<path fill="#ffff30" class="c" d="M2175 6469l7-7-5-11-7 7z"/>
<path fill="#ff0" d="M2148 6498l27-29-20-42-28 33z"/>
<path fill="#ff0" class="c" d="M2152 6451l9-10-6-14-10 11z"/>
<path fill="#fff400" class="c" d="M2143 6462l9-11-7-13-9 11z"/>
<path fill="#ffea00" class="c" d="M2134 6472l9-10-7-13-9 11z"/>
<path fill="#ffff10" class="c" d="M2159 6465l9-10-7-14-9 10z"/>
<path fill="#ff0" class="c" d="M2150 6475l9-10-7-14-9 11z"/>
<path fill="#fff400" class="c" d="M2141 6485l9-10-7-13-9 10z"/>
<path fill="#ffff20" class="c" d="M2166 6479l9-10-7-14-9 10z"/>
<path fill="#ff0" class="c" d="M2157 6489l9-10-7-14-9 10z"/>
<path fill="#fff400" class="c" d="M2148 6498l9-9-7-14-9 10z"/>
<path fill="#ffdf00" d="M2120 6529l28-31-21-38-27 33z"/>
<path fill="#ffdf00" class="c" d="M2124 6495l13-16-10-19-14 16z"/>
<path fill="#ffd400" class="c" d="M2110 6511l14-16-11-19-13 17z"/>
<path fill="#ffea00" class="c" d="M2134 6514l14-16-11-19-13 16z"/>
<path fill="#ffd400" class="c" d="M2120 6529l14-15-10-19-14 16z"/>
<path fill="#ffca00" d="M2093 6559l27-30-20-36-28 33z"/>
<path fill="#ffca00" class="c" d="M2096 6527l14-16-10-18-14 16z"/>
<path fill="#ffbf00" class="c" d="M2083 6543l13-16-10-18-14 17z"/>
<path fill="#ffd400" class="c" d="M2107 6544l13-15-10-18-14 16z"/>
<path fill="#ffca00" class="c" d="M2093 6559l14-15-11-17-13 16z"/>
<path fill="#ffbf00" d="M2066 6590l27-31-21-33-27 33z"/>
<path fill="#ffb500" d="M2038 6620l28-30-21-31-28 32z"/>
<path fill="#fa0" d="M2011 6650l27-30-21-29-27 32z"/>
<path fill="#fa0" d="M1983 6679l28-29-21-27-27 31z"/>
<path fill="#ff9f00" d="M1956 6708l27-29-20-25-28 30z"/>
<path fill="#ff9f00" d="M1929 6736l27-28-21-24-27 29z"/>
<path fill="#ff9500" d="M1901 6764l28-28-21-23-28 29z"/>
<path class="m" d="M3519 6345l-21-21M3409 6364l-21-22M3272 6386l-21-23M3135 6407l-21-24M2998 6425l-21-26M2861 6441l-21-27M2724 6433l-21-23M2587 6396l-21-30M2449 6353l-20-44M2312 6359l-20-55M2175 6469l-20-42M2038 6620l-21-29M1901 6764l-21-22"/>
<path fill="#ffb500" d="M3512 6371l27-5-20-21-28 5z"/>
<path fill="#ffb500" d="M3485 6376l27-5-21-21-27 4z"/>
<path fill="#ffbf00" d="M3457 6381l28-5-21-22-28 5z"/>
<path fill="#ffbf00" d="M3430 6385l27-4-21-22-27 5z"/>
<path fill="#ffbf00" d="M3402 6390l28-5-21-21-27 4z"/>
<path fill="#ffbf00" d="M3375 6395l27-5-20-22-28 5z"/>
<path fill="#ffbf00" d="M3348 6400l27-5-21-22-27 4z"/>
<path fill="#ffbf00" d="M3320 6404l28-4-21-23-28 5z"/>
<path fill="#ffbf00" d="M3293 6409l27-5-21-22-27 4z"/>
<path fill="#ffbf00" d="M3265 6413l28-4-21-23-27 4z"/>
<path fill="#ffbf00" d="M3238 6417l27-4-20-23-28 5z"/>
<path fill="#ffbf00" d="M3210 6422l28-5-21-22-27 4z"/>
<path fill="#ffbf00" d="M3183 6426l27-4-20-23-28 4z"/>
<path fill="#ffca00" d="M3156 6430l27-4-21-23-27 4z"/>
<path fill="#ffca00" d="M3128 6434l28-4-21-23-28 3z"/>
<path fill="#ffca00" d="M3101 6438l27-4-21-24-27 4z"/>
<path fill="#ffca00" d="M3073 6442l28-4-21-24-27 4z"/>
<path fill="#ffca00" d="M3046 6446l27-4-20-24-28 3z"/>
<path fill="#ffca00" d="M3018 6450l28-4-21-25-27 4z"/>
<path fill="#ffca00" d="M2991 6453l27-3-20-25-28 3z"/>
<path fill="#ffca00" d="M2964 6457l27-4-21-25-27 3z"/>
<path fill="#ffd400" d="M2936 6461l28-4-21-26-27 4z"/>
<path fill="#ffd400" d="M2909 6464l27-3-20-26-28 3z"/>
<path fill="#ffd400" d="M2881 6467l28-3-21-26-27 3z"/>
<path fill="#ffd400" d="M2854 6470l27-3-20-26-28 3z"/>
<path fill="#ffca00" d="M2827 6470l27 0-21-26-27 3z"/>
<path fill="#ffd400" class="c" d="M2830 6458l14-1-11-13-13 1z"/>
<path fill="#ffca00" class="c" d="M2816 6458l14 0-10-13-14 2zM2827 6470l27 0-10-13-28 1z"/>
<path fill="#ffbf00" d="M2799 6467l28 3-21-23-28-3z"/>
<path fill="#ffbf00" d="M2772 6462l27 5-21-23-27-5z"/>
<path fill="#ffbf00" d="M2744 6457l28 5-21-23-27-6z"/>
<path fill="#ffbf00" d="M2717 6452l27 5-20-24-28-6z"/>
<path fill="#ffca00" d="M2689 6446l28 6-21-25-27-7z"/>
<path fill="#ffca00" d="M2662 6440l27 6-20-26-28-7z"/>
<path fill="#ffca00" d="M2635 6433l27 7-21-27-27-8z"/>
<path fill="#ffd400" d="M2607 6427l28 6-21-28-27-9z"/>
<path fill="#ffdf00" d="M2580 6420l27 7-20-31-28-9z"/>
<path fill="#ffdf00" d="M2552 6413l28 7-21-33-27-9z"/>
<path fill="#ffea00" d="M2525 6406l27 7-20-35-28-9z"/>
<path fill="#ffea00" d="M2498 6400l27 6-21-37-27-9z"/>
<path fill="#fff400" d="M2470 6396l28 4-21-40-28-7z"/>
<path fill="#fff400" d="M2443 6393l27 3-21-43-27-6z"/>
<path fill="#ff0" d="M2415 6392l28 1-21-46-27-2z"/>
<path fill="#ff0" d="M2388 6395l27-3-20-47-28 0z"/>
<path fill="#ffff20" d="M2360 6401l28-6-21-50-27 5z"/>
<path fill="#ffff10" class="c" d="M2364 6373l14-3-11-25-14 2z"/>
<path fill="#ffff30" class="c" d="M2350 6375l14-2-11-26-13 3z"/>
<path fill="#ffff10" class="c" d="M2374 6398l14-3-10-25-14 3z"/>
<path fill="#ffff30" class="c" d="M2360 6401l14-3-10-25-14 2z"/>
<path fill="#ffff50" d="M2333 6410l27-9-20-51-28 9z"/>
<path fill="#ffff40" class="c" d="M2338 6370l9-3-7-17-9 3z"/>
<path fill="#ffff50" class="c" d="M2328 6373l10-3-7-17-10 3z"/>
<path fill="#ffff60" class="c" d="M2319 6376l9-3-7-17-9 3z"/>
<path fill="#ffff40" class="c" d="M2344 6387l10-3-7-17-9 3z"/>
<path fill="#ffff50" class="c" d="M2335 6390l9-3-6-17-10 3z"/>
<path fill="#ffff60" class="c" d="M2326 6393l9-3-7-17-9 3z"/>
<path fill="#ffff40" class="c" d="M2351 6404l9-3-6-17-10 3z"/>
<path fill="#ffff50" class="c" d="M2342 6407l9-3-7-17-9 3z"/>
<path fill="#ffff60" class="c" d="M2333 6410l9-3-7-17-9 3z"/>
<path fill="#ffff8f" d="M2306 6424l27-14-21-51-27 15z"/>
<path fill="#ffff80" class="c" d="M2310 6381l9-5-7-17-9 5z"/>
<path fill="#ffff8f" class="c" d="M2301 6386l9-5-7-17-9 5z"/>
<path fill="#ffffaf" class="c" d="M2292 6390l9-4-7-17-9 5z"/>
<path fill="#ffff80" class="c" d="M2317 6398l9-5-7-17-9 5z"/>
<path fill="#ffff8f" class="c" d="M2308 6403l9-5-7-17-9 5z"/>
<path fill="#ffff9f" class="c" d="M2299 6407l9-4-7-17-9 4z"/>
<path fill="#ffff70" class="c" d="M2324 6415l9-5-7-17-9 5z"/>
<path fill="#ffff8f" class="c" d="M2315 6419l9-4-7-17-9 5z"/>
<path fill="#ffff9f" class="c" d="M2306 6424l9-5-7-16-9 4z"/>
<path fill="#ffffbf" d="M2278 6441l28-17-21-50-27 19z"/>
<path fill="#ffffbf" class="c" d="M2283 6396l9-6-7-16-9 6z"/>
<path fill="#ffffcf" class="c" d="M2274 6403l9-7-7-16-9 6z"/>
<path fill="#ffffdf" class="c" d="M2264 6409l10-6-7-17-9 7z"/>
<path fill="#ffffaf" class="c" d="M2290 6413l9-6-7-17-9 6z"/>
<path fill="#ffffbf" class="c" d="M2280 6419l10-6-7-17-9 7z"/>
<path fill="#ffffcf" class="c" d="M2271 6425l9-6-6-16-10 6z"/>
<path fill="#ffffaf" class="c" d="M2297 6430l9-6-7-17-9 6z"/>
<path fill="#ffffbf" class="c" d="M2278 6441l19-11-7-17-19 12z"/>
<path fill="#ffffcf" d="M2251 6462l27-21-20-48-28 22z"/>
<path fill="#ffffdf" class="c" d="M2254 6428l14-11-10-24-14 11z"/>
<path fill="#ffffcf" class="c" d="M2240 6438l14-10-10-24-14 11zM2265 6451l13-10-10-24-14 11z"/>
<path fill="#ffffbf" class="c" d="M2251 6462l14-11-11-23-14 10z"/>
<path fill="#ffff9f" d="M2223 6485l28-23-21-47-27 26z"/>
<path fill="#ffffbf" class="c" d="M2228 6439l9-8-7-16-9 9z"/>
<path fill="#ffff9f" class="c" d="M2219 6447l9-8-7-15-9 8z"/>
<path fill="#ffff8f" class="c" d="M2210 6456l9-9-7-15-9 9z"/>
<path fill="#ffffaf" class="c" d="M2235 6454l9-8-7-15-9 8z"/>
<path fill="#ffff9f" class="c" d="M2226 6462l9-8-7-15-9 8z"/>
<path fill="#ffff8f" class="c" d="M2216 6470l10-8-7-15-9 9z"/>
<path fill="#ffffaf" class="c" d="M2242 6469l9-7-7-16-9 8z"/>
<path fill="#ffff9f" class="c" d="M2233 6477l9-8-7-15-9 8z"/>
<path fill="#ffff80" class="c" d="M2223 6485l10-8-7-15-10 8z"/>
<path fill="#ffff50" d="M2196 6510l27-25-20-44-28 28z"/>
<path fill="#ffff70" class="c" d="M2200 6465l10-9-7-15-9 9z"/>
<path fill="#ffff50" class="c" d="M2191 6474l9-9-6-15-10 10z"/>
<path fill="#ffff40" class="c" d="M2182 6483l9-9-7-14-9 9z"/>
<path fill="#ffff70" class="c" d="M2207 6479l9-9-6-14-10 9z"/>
<path fill="#ffff50" class="c" d="M2198 6488l9-9-7-14-9 9z"/>
<path fill="#ffff40" class="c" d="M2189 6496l9-8-7-14-9 9z"/>
<path fill="#ffff70" class="c" d="M2214 6493l9-8-7-15-9 9z"/>
<path fill="#ffff60" class="c" d="M2205 6501l9-8-7-14-9 9z"/>
<path fill="#ffff40" class="c" d="M2196 6510l9-9-7-13-9 8z"/>
<path fill="#ffff10" d="M2169 6537l27-27-21-41-27 29z"/>
<path fill="#ffff20" class="c" d="M2173 6492l9-9-7-14-9 10z"/>
<path fill="#ffff10" class="c" d="M2164 6502l9-10-7-13-9 10z"/>
<path fill="#ff0" class="c" d="M2155 6511l9-9-7-13-9 9z"/>
<path fill="#ffff20" class="c" d="M2180 6505l9-9-7-13-9 9z"/>
<path fill="#ffff10" class="c" d="M2171 6515l9-10-7-13-9 10z"/>
<path fill="#ff0" class="c" d="M2162 6524l9-9-7-13-9 9z"/>
<path fill="#ffff30" class="c" d="M2187 6519l9-9-7-14-9 9z"/>
<path fill="#ffff10" class="c" d="M2178 6528l9-9-7-14-9 10z"/>
<path fill="#ff0" class="c" d="M2169 6537l9-9-7-13-9 9z"/>
<path fill="#ffea00" d="M2141 6564l28-27-21-39-28 31z"/>
<path fill="#ffea00" class="c" d="M2144 6532l14-14-10-20-14 16z"/>
<path fill="#ffdf00" class="c" d="M2131 6546l13-14-10-18-14 15z"/>
<path fill="#fff400" class="c" d="M2155 6550l14-13-11-19-14 14z"/>
<path fill="#ffea00" class="c" d="M2141 6564l14-14-11-18-13 14z"/>
<path fill="#ffd400" d="M2114 6592l27-28-21-35-27 30z"/>
<path fill="#ffd400" class="c" d="M2117 6561l14-15-11-17-13 15z"/>
<path fill="#ffca00" class="c" d="M2103 6576l14-15-10-17-14 15z"/>
<path fill="#ffd400" class="c" d="M2114 6592l27-28-10-18-28 30z"/>
<path fill="#ffca00" d="M2086 6621l28-29-21-33-27 31z"/>
<path fill="#ffbf00" d="M2059 6649l27-28-20-31-28 30z"/>
<path fill="#ffb500" d="M2031 6677l28-28-21-29-27 30z"/>
<path fill="#fa0" d="M2004 6705l27-28-20-27-28 29z"/>
<path fill="#fa0" d="M1977 6733l27-28-21-26-27 29z"/>
<path fill="#ff9f00" d="M1949 6760l28-27-21-25-27 28z"/>
<path fill="#ff9f00" d="M1922 6786l27-26-20-24-28 28z"/>
<path class="m" d="M3539 6366l-20-21M3430 6385l-21-21M3293 6409l-21-23M3156 6430l-21-23M3018 6450l-20-25M2881 6467l-20-26M2744 6457l-20-24M2607 6427l-20-31M2470 6396l-21-43M2333 6410l-21-51M2196 6510l-21-41M2059 6649l-21-29M1922 6786l-21-22"/>
<path fill="#ffb500" d="M3533 6392l27-5-21-21-27 5z"/>
<path fill="#ffb500" d="M3505 6397l28-5-21-21-27 5z"/>
<path fill="#ffb500" d="M3478 6402l27-5-20-21-28 5z"/>
<path fill="#ffb500" d="M3450 6407l28-5-21-21-27 4z"/>
<path fill="#ffbf00" d="M3423 6412l27-5-20-22-28 5z"/>
<path fill="#ffbf00" d="M3396 6417l27-5-21-22-27 5z"/>
<path fill="#ffbf00" d="M3368 6422l28-5-21-22-27 5z"/>
<path fill="#ffbf00" d="M3341 6426l27-4-20-22-28 4z"/>
<path fill="#ffbf00" d="M3313 6431l28-5-21-22-27 5z"/>
<path fill="#ffbf00" d="M3286 6436l27-5-20-22-28 4z"/>
<path fill="#ffbf00" d="M3259 6440l27-4-21-23-27 4z"/>
<path fill="#ffbf00" d="M3231 6445l28-5-21-23-28 5z"/>
<path fill="#ffbf00" d="M3204 6449l27-4-21-23-27 4z"/>
<path fill="#ffbf00" d="M3176 6453l28-4-21-23-27 4z"/>
<path fill="#ffca00" d="M3149 6458l27-5-20-23-28 4z"/>
<path fill="#ffca00" d="M3121 6462l28-4-21-24-27 4z"/>
<path fill="#ffca00" d="M3094 6466l27-4-20-24-28 4z"/>
<path fill="#ffca00" d="M3067 6470l27-4-21-24-27 4z"/>
<path fill="#ffca00" d="M3039 6474l28-4-21-24-28 4z"/>
<path fill="#ffca00" d="M3012 6478l27-4-21-24-27 3z"/>
<path fill="#ffca00" d="M2984 6482l28-4-21-25-27 4z"/>
<path fill="#ffca00" d="M2957 6486l27-4-20-25-28 4z"/>
<path fill="#ffca00" d="M2930 6490l27-4-21-25-27 3z"/>
<path fill="#ffca00" d="M2902 6493l28-3-21-26-28 3z"/>
<path fill="#ffca00" d="M2875 6495l27-2-21-26-27 3z"/>
<path fill="#ffbf00" d="M2847 6492l28 3-21-25-27 0z"/>
<path fill="#ffbf00" d="M2820 6489l27 3-20-22-28-3z"/>
<path fill="#ffbf00" d="M2792 6486l28 3-21-22-27-5z"/>
<path fill="#ffbf00" d="M2765 6482l27 4-20-24-28-5z"/>
<path fill="#ffbf00" d="M2738 6477l27 5-21-25-27-5z"/>
<path fill="#ffca00" d="M2710 6473l28 4-21-25-28-6z"/>
<path fill="#ffca00" d="M2683 6468l27 5-21-27-27-6z"/>
<path fill="#ffd400" d="M2655 6462l28 6-21-28-27-7z"/>
<path fill="#ffd400" d="M2628 6457l27 5-20-29-28-6z"/>
<path fill="#ffdf00" d="M2601 6452l27 5-21-30-27-7z"/>
<path fill="#ffdf00" d="M2573 6447l28 5-21-32-28-7z"/>
<path fill="#ffea00" d="M2546 6442l27 5-21-34-27-7z"/>
<path fill="#ffea00" d="M2518 6439l28 3-21-36-27-6z"/>
<path fill="#fff400" d="M2491 6436l27 3-20-39-28-4z"/>
<path fill="#fff400" d="M2463 6436l28 0-21-40-27-3z"/>
<path fill="#ff0" d="M2436 6437l27-1-20-43-28-1z"/>
<path fill="#ff0" d="M2409 6441l27-4-21-45-27 3z"/>
<path fill="#ffff20" d="M2381 6448l28-7-21-46-28 6z"/>
<path fill="#ffff10" class="c" d="M2385 6421l13-3-10-23-14 3z"/>
<path fill="#ffff20" class="c" d="M2371 6424l14-3-11-23-14 3z"/>
<path fill="#ffff10" class="c" d="M2395 6444l14-3-11-23-13 3z"/>
<path fill="#ffff20" class="c" d="M2381 6448l14-4-10-23-14 3z"/>
<path fill="#ffff40" d="M2354 6457l27-9-21-47-27 9z"/>
<path fill="#ffff40" class="c" d="M2357 6429l14-5-11-23-13 4z"/>
<path fill="#ffff50" class="c" d="M2343 6434l14-5-10-24-14 5z"/>
<path fill="#ffff30" class="c" d="M2368 6452l13-4-10-24-14 5z"/>
<path fill="#ffff50" class="c" d="M2354 6457l14-5-11-23-14 5z"/>
<path fill="#ffff70" d="M2326 6470l28-13-21-47-27 14z"/>
<path fill="#ffff70" class="c" d="M2331 6430l9-4-7-16-9 5z"/>
<path fill="#ffff80" class="c" d="M2322 6435l9-5-7-15-9 4z"/>
<path fill="#ffff8f" class="c" d="M2313 6439l9-4-7-16-9 5z"/>
<path fill="#ffff60" class="c" d="M2338 6446l9-4-7-16-9 4z"/>
<path fill="#ffff70" class="c" d="M2329 6451l9-5-7-16-9 5z"/>
<path fill="#ffff8f" class="c" d="M2319 6455l10-4-7-16-9 4z"/>
<path fill="#ffff60" class="c" d="M2345 6462l9-5-7-15-9 4z"/>
<path fill="#ffff70" class="c" d="M2336 6466l9-4-7-16-9 5z"/>
<path fill="#ffff80" class="c" d="M2326 6470l10-4-7-15-10 4z"/>
<path fill="#ffff9f" d="M2299 6486l27-16-20-46-28 17z"/>
<path fill="#ffff9f" class="c" d="M2303 6445l10-6-7-15-9 6z"/>
<path fill="#ffffaf" class="c" d="M2285 6456l18-11-6-15-19 11z"/>
<path fill="#ffff8f" class="c" d="M2310 6460l9-5-6-16-10 6z"/>
<path fill="#ffff9f" class="c" d="M2301 6466l9-6-7-15-9 6z"/>
<path fill="#ffffaf" class="c" d="M2292 6471l9-5-7-15-9 5z"/>
<path fill="#ffff8f" class="c" d="M2308 6481l18-11-7-15-18 11z"/>
<path fill="#ffff9f" class="c" d="M2299 6486l9-5-7-15-9 5z"/>
<path fill="#ffff9f" d="M2272 6505l27-19-21-45-27 21z"/>
<path fill="#ffffaf" class="c" d="M2261 6483l28-19-11-23-27 21z"/>
<path fill="#ffff9f" class="c" d="M2272 6505l27-19-10-22-28 19z"/>
<path fill="#ffff8f" d="M2244 6526l28-21-21-43-28 23z"/>
<path fill="#ffff9f" class="c" d="M2249 6484l9-8-7-14-9 7z"/>
<path fill="#ffff8f" class="c" d="M2239 6491l10-7-7-15-9 8z"/>
<path fill="#ffff80" class="c" d="M2230 6499l9-8-6-14-10 8z"/>
<path fill="#ffff9f" class="c" d="M2256 6498l9-7-7-15-9 8z"/>
<path fill="#ffff8f" class="c" d="M2246 6505l10-7-7-14-10 7z"/>
<path fill="#ffff80" class="c" d="M2237 6512l9-7-7-14-9 8z"/>
<path fill="#ffff8f" class="c" d="M2262 6512l10-7-7-14-9 7z"/>
<path fill="#ffff80" class="c" d="M2253 6519l9-7-6-14-10 7z"/>
<path fill="#ffff70" class="c" d="M2244 6526l9-7-7-14-9 7z"/>
<path fill="#ffff50" d="M2217 6549l27-23-21-41-27 25z"/>
<path fill="#ffff70" class="c" d="M2221 6507l9-8-7-14-9 8z"/>
<path fill="#ffff50" class="c" d="M2212 6515l9-8-7-14-9 8z"/>
<path fill="#ffff40" class="c" d="M2203 6523l9-8-7-14-9 9z"/>
<path fill="#ffff60" class="c" d="M2228 6520l9-8-7-13-9 8z"/>
<path fill="#ffff50" class="c" d="M2219 6528l9-8-7-13-9 8z"/>
<path fill="#ffff40" class="c" d="M2210 6536l9-8-7-13-9 8z"/>
<path fill="#ffff60" class="c" d="M2235 6534l9-8-7-14-9 8z"/>
<path fill="#ffff50" class="c" d="M2226 6542l9-8-7-14-9 8z"/>
<path fill="#ffff40" class="c" d="M2217 6549l9-7-7-14-9 8z"/>
<path fill="#ffff20" d="M2189 6574l28-25-21-39-27 27z"/>
<path fill="#ffff20" class="c" d="M2193 6542l13-12-10-20-14 13z"/>
<path fill="#ffff10" class="c" d="M2179 6555l14-13-11-19-13 14z"/>
<path fill="#ffff20" class="c" d="M2203 6562l14-13-11-19-13 12z"/>
<path fill="#ffff10" class="c" d="M2189 6574l14-12-10-20-14 13z"/>
<path fill="#fff400" d="M2162 6599l27-25-20-37-28 27z"/>
<path fill="#fff400" class="c" d="M2165 6568l14-13-10-18-14 13z"/>
<path fill="#ffea00" class="c" d="M2152 6582l13-14-10-18-14 14z"/>
<path fill="#fff400" class="c" d="M2176 6586l13-12-10-19-14 13z"/>
<path fill="#ffea00" class="c" d="M2162 6599l14-13-11-18-13 14z"/>
<path fill="#ffdf00" d="M2134 6625l28-26-21-35-27 28z"/>
<path fill="#ffdf00" class="c" d="M2138 6595l14-13-11-18-14 14z"/>
<path fill="#ffd400" class="c" d="M2124 6609l14-14-11-17-13 14z"/>
<path fill="#ffdf00" class="c" d="M2148 6612l14-13-10-17-14 13z"/>
<path fill="#ffd400" class="c" d="M2134 6625l14-13-10-17-14 14z"/>
<path fill="#ffca00" d="M2107 6652l27-27-20-33-28 29z"/>
<path fill="#ffbf00" d="M2080 6679l27-27-21-31-27 28z"/>
<path fill="#ffb500" d="M2052 6705l28-26-21-30-28 28z"/>
<path fill="#ffb500" d="M2025 6732l27-27-21-28-27 28z"/>
<path fill="#fa0" d="M1997 6758l28-26-21-27-27 28z"/>
<path fill="#fa0" d="M1970 6784l27-26-20-25-28 27z"/>
<path fill="#fa0" d="M1943 6810l27-26-21-24-27 26z"/>
<path class="m" d="M3560 6387l-21-21M3450 6407l-20-22M3313 6431l-20-22M3176 6453l-20-23M3039 6474l-21-24M2902 6493l-21-26M2765 6482l-21-25M2628 6457l-21-30M2491 6436l-21-40M2354 6457l-21-47M2217 6549l-21-39M2080 6679l-21-30M1943 6810l-21-24"/>
<path fill="#ffb500" d="M3553 6413l28-5-21-21-27 5z"/>
<path fill="#ffb500" d="M3526 6418l27-5-20-21-28 5z"/>
<path fill="#ffb500" d="M3499 6423l27-5-21-21-27 5z"/>
<path fill="#ffb500" d="M3471 6428l28-5-21-21-28 5z"/>
<path fill="#ffb500" d="M3444 6433l27-5-21-21-27 5z"/>
<path fill="#ffbf00" d="M3416 6438l28-5-21-21-27 5z"/>
<path fill="#ffbf00" d="M3389 6443l27-5-20-21-28 5z"/>
<path fill="#ffbf00" d="M3362 6448l27-5-21-21-27 4z"/>
<path fill="#ffbf00" d="M3334 6453l28-5-21-22-28 5z"/>
<path fill="#ffbf00" d="M3307 6458l27-5-21-22-27 5z"/>
<path fill="#ffbf00" d="M3279 6463l28-5-21-22-27 4z"/>
<path fill="#ffbf00" d="M3252 6467l27-4-20-23-28 5z"/>
<path fill="#ffbf00" d="M3224 6472l28-5-21-22-27 4z"/>
<path fill="#ffbf00" d="M3197 6476l27-4-20-23-28 4z"/>
<path fill="#ffbf00" d="M3170 6481l27-5-21-23-27 5z"/>
<path fill="#ffca00" d="M3142 6485l28-4-21-23-28 4z"/>
<path fill="#ffca00" d="M3115 6490l27-5-21-23-27 4z"/>
<path fill="#ffca00" d="M3087 6494l28-4-21-24-27 4z"/>
<path fill="#ffca00" d="M3060 6498l27-4-20-24-28 4z"/>
<path fill="#ffca00" d="M3033 6503l27-5-21-24-27 4z"/>
<path fill="#ffca00" d="M3005 6507l28-4-21-25-28 4z"/>
<path fill="#ffca00" d="M2978 6511l27-4-21-25-27 4z"/>
<path fill="#ffca00" d="M2950 6514l28-3-21-25-27 4z"/>
<path fill="#ffca00" d="M2923 6517l27-3-20-24-28 3z"/>
<path fill="#ffbf00" d="M2895 6517l28 0-21-24-27 2z"/>
<path fill="#ffbf00" d="M2868 6515l27 2-20-22-28-3z"/>
<path fill="#ffbf00" d="M2841 6512l27 3-21-23-27-3z"/>
<path fill="#ffbf00" d="M2813 6509l28 3-21-23-28-3z"/>
<path fill="#ffbf00" d="M2786 6506l27 3-21-23-27-4z"/>
<path fill="#ffca00" d="M2758 6503l28 3-21-24-27-5z"/>
<path fill="#ffca00" d="M2731 6499l27 4-20-26-28-4z"/>
<path fill="#ffca00" d="M2704 6495l27 4-21-26-27-5z"/>
<path fill="#ffd400" d="M2676 6491l28 4-21-27-28-6z"/>
<path fill="#ffd400" d="M2649 6487l27 4-21-29-27-5z"/>
<path fill="#ffdf00" d="M2621 6484l28 3-21-30-27-5z"/>
<path fill="#ffdf00" d="M2594 6481l27 3-20-32-28-5z"/>
<path fill="#ffea00" d="M2566 6478l28 3-21-34-27-5z"/>
<path fill="#ffea00" d="M2539 6476l27 2-20-36-28-3z"/>
<path fill="#fff400" d="M2512 6475l27 1-21-37-27-3z"/>
<path fill="#fff400" d="M2484 6476l28-1-21-39-28 0z"/>
<path fill="#ff0" d="M2457 6479l27-3-21-40-27 1z"/>
<path fill="#ff0" d="M2429 6484l28-5-21-42-27 4z"/>
<path fill="#ffff20" d="M2402 6491l27-7-20-43-28 7z"/>
<path fill="#ffff10" class="c" d="M2405 6466l14-4-10-21-14 3z"/>
<path fill="#ffff20" class="c" d="M2392 6470l13-4-10-22-14 4z"/>
<path fill="#ffff10" class="c" d="M2416 6488l13-4-10-22-14 4z"/>
<path fill="#ffff20" class="c" d="M2402 6491l14-3-11-22-13 4z"/>
<path fill="#ffff30" d="M2375 6501l27-10-21-43-27 9z"/>
<path fill="#ffff30" class="c" d="M2378 6474l14-4-11-22-13 4z"/>
<path fill="#ffff40" class="c" d="M2364 6479l14-5-10-22-14 5z"/>
<path fill="#ffff30" class="c" d="M2388 6496l14-5-10-21-14 4z"/>
<path fill="#ffff40" class="c" d="M2375 6501l13-5-10-22-14 5z"/>
<path fill="#ffff60" d="M2347 6514l28-13-21-44-28 13z"/>
<path fill="#ffff50" class="c" d="M2352 6476l9-4-7-15-9 5z"/>
<path fill="#ffff60" class="c" d="M2342 6481l10-5-7-14-9 4z"/>
<path fill="#ffff70" class="c" d="M2333 6485l9-4-6-15-10 4z"/>
<path fill="#ffff50" class="c" d="M2358 6491l10-4-7-15-9 4z"/>
<path fill="#ffff60" class="c" d="M2340 6500l18-9-6-15-19 9z"/>
<path fill="#ffff40" class="c" d="M2365 6506l10-5-7-14-10 4z"/>
<path fill="#ffff50" class="c" d="M2356 6510l9-4-7-15-9 4z"/>
<path fill="#ffff60" class="c" d="M2347 6514l9-4-7-15-9 5z"/>
<path fill="#ffff70" d="M2320 6529l27-15-21-44-27 16z"/>
<path fill="#ffff80" class="c" d="M2309 6508l28-16-11-22-27 16z"/>
<path fill="#ffff60" class="c" d="M2333 6522l14-8-10-22-14 8z"/>
<path fill="#ffff70" class="c" d="M2320 6529l13-7-10-22-14 8z"/>
<path fill="#ffff80" d="M2292 6547l28-18-21-43-27 19z"/>
<path fill="#ffff8f" class="c" d="M2296 6517l13-9-10-22-14 10z"/>
<path fill="#ffff80" class="c" d="M2282 6526l14-9-11-21-13 9z"/>
<path fill="#ffff70" class="c" d="M2292 6547l28-18-11-21-27 18z"/>
<path fill="#ffff70" d="M2265 6566l27-19-20-42-28 21z"/>
<path fill="#ffff80" class="c" d="M2269 6526l9-7-6-14-10 7z"/>
<path fill="#ffff70" class="c" d="M2251 6540l18-14-7-14-18 14zM2267 6546l18-13-7-14-18 14z"/>
<path fill="#ffff60" class="c" d="M2258 6553l9-7-7-13-9 7zM2274 6560l18-13-7-14-18 13z"/>
<path fill="#ffff50" class="c" d="M2265 6566l9-6-7-14-9 7z"/>
<path fill="#ffff40" d="M2237 6587l28-21-21-40-27 23z"/>
<path fill="#ffff60" class="c" d="M2242 6547l9-7-7-14-9 8z"/>
<path fill="#ffff50" class="c" d="M2233 6555l9-8-7-13-9 8z"/>
<path fill="#ffff40" class="c" d="M2224 6562l9-7-7-13-9 7z"/>
<path fill="#ffff50" class="c" d="M2249 6560l9-7-7-13-9 7z"/>
<path fill="#ffff40" class="c" d="M2240 6567l9-7-7-13-9 8z"/>
<path fill="#ffff30" class="c" d="M2231 6575l9-8-7-12-9 7z"/>
<path fill="#ffff40" class="c" d="M2247 6580l18-14-7-13-18 14z"/>
<path fill="#ffff30" class="c" d="M2237 6587l10-7-7-13-9 8z"/>
<path fill="#ffff10" d="M2210 6610l27-23-20-38-28 25z"/>
<path fill="#ffff20" class="c" d="M2213 6580l14-12-10-19-14 13z"/>
<path fill="#ffff10" class="c" d="M2200 6592l13-12-10-18-14 12z"/>
<path fill="#ffff20" class="c" d="M2224 6599l13-12-10-19-14 12z"/>
<path fill="#ffff10" class="c" d="M2210 6610l14-11-11-19-13 12z"/>
<path fill="#fff400" d="M2183 6634l27-24-21-36-27 25z"/>
<path fill="#fff400" class="c" d="M2186 6604l14-12-11-18-13 12z"/>
<path fill="#ffea00" class="c" d="M2172 6616l14-12-10-18-14 13z"/>
<path fill="#fff400" class="c" d="M2196 6622l14-12-10-18-14 12z"/>
<path fill="#ffea00" class="c" d="M2183 6634l13-12-10-18-14 12z"/>
<path fill="#ffdf00" d="M2155 6658l28-24-21-35-28 26z"/>
<path fill="#ffd400" d="M2128 6683l27-25-21-33-27 27z"/>
<path fill="#ffca00" d="M2100 6708l28-25-21-31-27 27z"/>
<path fill="#ffbf00" d="M2073 6733l27-25-20-29-28 26z"/>
<path fill="#ffb500" d="M2046 6758l27-25-21-28-27 27z"/>
<path fill="#ffb500" d="M2018 6783l28-25-21-26-28 26z"/>
<path fill="#fa0" d="M1991 6808l27-25-21-25-27 26z"/>
<path fill="#fa0" d="M1963 6833l28-25-21-24-27 26z"/>
<path class="m" d="M3581 6408l-21-21M3533 6392l27-5M3505 6397l28-5M3478 6402l27-5M3450 6407l28-5M3471 6428l-21-21M3423 6412l27-5M3396 6417l27-5M3368 6422l28-5M3341 6426l27-4M3313 6431l28-5M3334 6453l-21-22M3286 6436l27-5M3259 6440l27-4M3231 6445l28-5M3204 6449l27-4M3176 6453l28-4M3197 6476l-21-23M3149 6458l27-5M3121 6462l28-4M3094 6466l27-4M3067 6470l27-4M3039 6474l28-4M3060 6498l-21-24M3012 6478l27-4M2984 6482l28-4M2957 6486l27-4M2930 6490l27-4M2902 6493l28-3M2923 6517l-21-24M2875 6495l27-2M2847 6492l28 3M2820 6489l27 3M2792 6486l28 3M2765 6482l27 4M2786 6506l-21-24M2738 6477l27 5M2710 6473l28 4M2683 6468l27 5M2655 6462l28 6M2628 6457l27 5M2649 6487l-21-30M2601 6452l27 5M2573 6447l28 5M2546 6442l27 5M2518 6439l28 3M2491 6436l27 3M2512 6475l-21-39M2463 6436l28 0M2436 6437l27-1M2409 6441l27-4M2381 6448l28-7M2354 6457l27-9M2375 6501l-21-44M2326 6470l28-13M2299 6486l27-16M2272 6505l27-19M2244 6526l28-21M2217 6549l27-23M2237 6587l-20-38M2189 6574l28-25M2162 6599l27-25M2134 6625l28-26M2107 6652l27-27M2080 6679l27-27M2100 6708l-20-29M2052 6705l28-26M2025 6732l27-27M1997 6758l28-26M1970 6784l27-26M1943 6810l27-26M1963 6833l-20-23"/>
<path fill="#ffb500" d="M3574 6434l28-5-21-21-28 5z"/>
<path fill="#ffb500" d="M3547 6439l27-5-21-21-27 5z"/>
<path fill="#ffb500" d="M3519 6444l28-5-21-21-27 5z"/>
<path fill="#ffb500" d="M3492 6450l27-6-20-21-28 5z"/>
<path fill="#ffb500" d="M3465 6455l27-5-21-22-27 5z"/>
<path fill="#ffb500" d="M3437 6460l28-5-21-22-28 5z"/>
<path fill="#ffbf00" d="M3410 6465l27-5-21-22-27 5z"/>
<path fill="#ffbf00" d="M3382 6470l28-5-21-22-27 5z"/>
<path fill="#ffbf00" d="M3355 6475l27-5-20-22-28 5z"/>
<path fill="#ffbf00" d="M3327 6480l28-5-21-22-27 5z"/>
<path fill="#ffbf00" d="M3300 6485l27-5-20-22-28 5z"/>
<path fill="#ffbf00" d="M3273 6490l27-5-21-22-27 4z"/>
<path fill="#ffbf00" d="M3245 6495l28-5-21-23-28 5z"/>
<path fill="#ffbf00" d="M3218 6499l27-4-21-23-27 4z"/>
<path fill="#ffbf00" d="M3190 6504l28-5-21-23-27 5z"/>
<path fill="#ffbf00" d="M3163 6509l27-5-20-23-28 4z"/>
<path fill="#ffca00" d="M3136 6513l27-4-21-24-27 5z"/>
<path fill="#ffca00" d="M3108 6518l28-5-21-23-28 4z"/>
<path fill="#ffca00" d="M3081 6522l27-4-21-24-27 4z"/>
<path fill="#ffca00" d="M3053 6527l28-5-21-24-27 5z"/>
<path fill="#ffca00" d="M3026 6531l27-4-20-24-28 4z"/>
<path fill="#ffca00" d="M2998 6535l28-4-21-24-27 4z"/>
<path fill="#ffca00" d="M2971 6538l27-3-20-24-28 3z"/>
<path fill="#ffbf00" d="M2944 6539l27-1-21-24-27 3z"/>
<path fill="#ffbf00" d="M2916 6539l28 0-21-22-28 0z"/>
<path fill="#ffbf00" d="M2889 6537l27 2-21-22-27-2z"/>
<path fill="#ffbf00" d="M2861 6535l28 2-21-22-27-3z"/>
<path fill="#ffbf00" d="M2834 6533l27 2-20-23-28-3z"/>
<path fill="#ffbf00" d="M2807 6531l27 2-21-24-27-3z"/>
<path fill="#ffca00" d="M2779 6528l28 3-21-25-28-3z"/>
<path fill="#ffca00" d="M2752 6526l27 2-21-25-27-4z"/>
<path fill="#ffd400" d="M2724 6523l28 3-21-27-27-4z"/>
<path fill="#ffd400" d="M2697 6520l27 3-20-28-28-4z"/>
<path fill="#ffdf00" d="M2669 6518l28 2-21-29-27-4z"/>
<path fill="#ffdf00" d="M2642 6515l27 3-20-31-28-3z"/>
<path fill="#ffdf00" d="M2615 6514l27 1-21-31-27-3z"/>
<path fill="#ffea00" d="M2587 6512l28 2-21-33-28-3z"/>
<path fill="#ffea00" d="M2560 6512l27 0-21-34-27-2z"/>
<path fill="#fff400" d="M2532 6513l28-1-21-36-27-1z"/>
<path fill="#fff400" d="M2505 6515l27-2-20-38-28 1z"/>
<path fill="#fff400" d="M2478 6519l27-4-21-39-27 3z"/>
<path fill="#ff0" d="M2450 6525l28-6-21-40-28 5z"/>
<path fill="#ffff10" d="M2423 6533l27-8-21-41-27 7z"/>
<path fill="#ffff20" d="M2395 6543l28-10-21-42-27 10z"/>
<path fill="#ffff20" class="c" d="M2399 6517l13-5-10-21-14 5z"/>
<path fill="#ffff30" class="c" d="M2385 6522l14-5-11-21-13 5z"/>
<path fill="#ffff20" class="c" d="M2395 6543l28-10-11-21-27 10z"/>
<path fill="#ffff40" d="M2368 6555l27-12-20-42-28 13z"/>
<path fill="#ffff40" class="c" d="M2371 6528l14-6-10-21-14 7z"/>
<path fill="#ffff50" class="c" d="M2357 6535l14-7-10-20-14 6z"/>
<path fill="#ffff30" class="c" d="M2382 6549l13-6-10-21-14 6z"/>
<path fill="#ffff40" class="c" d="M2368 6555l14-6-11-21-14 7z"/>
<path fill="#ffff50" d="M2340 6570l28-15-21-41-27 15z"/>
<path fill="#ffff50" class="c" d="M2344 6542l13-7-10-21-14 8z"/>
<path fill="#ffff60" class="c" d="M2330 6549l14-7-11-20-13 7z"/>
<path fill="#ffff40" class="c" d="M2354 6562l14-7-11-20-13 7z"/>
<path fill="#ffff50" class="c" d="M2340 6570l14-8-10-20-14 7z"/>
<path fill="#ffff50" d="M2313 6586l27-16-20-41-28 18z"/>
<path fill="#ffff60" class="c" d="M2303 6566l27-17-10-20-28 18z"/>
<path fill="#ffff50" class="c" d="M2313 6586l27-16-10-21-27 17z"/>
<path fill="#ffff40" d="M2286 6604l27-18-21-39-27 19z"/>
<path fill="#ffff50" class="c" d="M2275 6585l28-19-11-19-27 19z"/>
<path fill="#ffff40" class="c" d="M2286 6604l27-18-10-20-28 19z"/>
<path fill="#ffff30" d="M2258 6624l28-20-21-38-28 21z"/>
<path fill="#ffff40" class="c" d="M2262 6595l13-10-10-19-14 11z"/>
<path fill="#ffff30" class="c" d="M2248 6606l14-11-11-18-14 10zM2272 6614l14-10-11-19-13 10z"/>
<path fill="#ffff20" class="c" d="M2258 6624l14-10-10-19-14 11z"/>
<path fill="#ffff10" d="M2231 6645l27-21-21-37-27 23z"/>
<path fill="#ffff10" class="c" d="M2234 6617l14-11-11-19-13 12z"/>
<path fill="#ff0" class="c" d="M2220 6627l14-10-10-18-14 11z"/>
<path fill="#ffff10" class="c" d="M2244 6635l14-11-10-18-14 11z"/>
<path fill="#ff0" class="c" d="M2231 6645l13-10-10-18-14 10z"/>
<path fill="#fff400" d="M2203 6667l28-22-21-35-27 24z"/>
<path fill="#fff400" class="c" d="M2207 6639l13-12-10-17-14 12z"/>
<path fill="#ffea00" class="c" d="M2193 6650l14-11-11-17-13 12z"/>
<path fill="#fff400" class="c" d="M2217 6656l14-11-11-18-13 12z"/>
<path fill="#ffea00" class="c" d="M2203 6667l14-11-10-17-14 11z"/>
<path fill="#ffdf00" d="M2176 6690l27-23-20-33-28 24z"/>
<path fill="#ffd400" d="M2149 6713l27-23-21-32-27 25z"/>
<path fill="#ffca00" d="M2121 6737l28-24-21-30-28 25z"/>
<path fill="#ffbf00" d="M2094 6761l27-24-21-29-27 25z"/>
<path fill="#ffbf00" d="M2066 6785l28-24-21-28-27 25z"/>
<path fill="#ffb500" d="M2039 6809l27-24-20-27-28 25z"/>
<path fill="#ffb500" d="M2011 6833l28-24-21-26-27 25z"/>
<path fill="#fa0" d="M1984 6857l27-24-20-25-28 25z"/>
<path class="m" d="M3602 6429l-21-21M3492 6450l-21-22M3355 6475l-21-22M3218 6499l-21-23M3081 6522l-21-24M2944 6539l-21-22M2807 6531l-21-25M2669 6518l-20-31M2532 6513l-20-38M2395 6543l-20-42M2258 6624l-21-37M2121 6737l-21-29M1984 6857l-21-24"/>
<path fill="#ffb500" d="M3595 6455l27-6-20-20-28 5z"/>
<path fill="#ffb500" d="M3568 6460l27-5-21-21-27 5z"/>
<path fill="#ffb500" d="M3540 6465l28-5-21-21-28 5z"/>
<path fill="#ffb500" d="M3513 6471l27-6-21-21-27 6z"/>
<path fill="#ffb500" d="M3485 6476l28-5-21-21-27 5z"/>
<path fill="#ffb500" d="M3458 6481l27-5-20-21-28 5z"/>
<path fill="#ffb500" d="M3430 6487l28-6-21-21-27 5z"/>
<path fill="#ffbf00" d="M3403 6492l27-5-20-22-28 5z"/>
<path fill="#ffbf00" d="M3376 6497l27-5-21-22-27 5z"/>
<path fill="#ffbf00" d="M3348 6502l28-5-21-22-28 5z"/>
<path fill="#ffbf00" d="M3321 6507l27-5-21-22-27 5z"/>
<path fill="#ffbf00" d="M3293 6512l28-5-21-22-27 5z"/>
<path fill="#ffbf00" d="M3266 6517l27-5-20-22-28 5z"/>
<path fill="#ffbf00" d="M3239 6522l27-5-21-22-27 4z"/>
<path fill="#ffbf00" d="M3211 6527l28-5-21-23-28 5z"/>
<path fill="#ffbf00" d="M3184 6532l27-5-21-23-27 5z"/>
<path fill="#ffbf00" d="M3156 6536l28-4-21-23-27 4z"/>
<path fill="#ffbf00" d="M3129 6541l27-5-20-23-28 5z"/>
<path fill="#ffca00" d="M3101 6546l28-5-21-23-27 4z"/>
<path fill="#ffca00" d="M3074 6550l27-4-20-24-28 5z"/>
<path fill="#ffca00" d="M3047 6555l27-5-21-23-27 4z"/>
<path fill="#ffca00" d="M3019 6559l28-4-21-24-28 4z"/>
<path fill="#ffbf00" d="M2992 6561l27-2-21-24-27 3z"/>
<path fill="#ffbf00" d="M2964 6561l28 0-21-23-27 1z"/>
<path fill="#ffbf00" d="M2937 6561l27 0-20-22-28 0z"/>
<path fill="#ffbf00" d="M2909 6560l28 1-21-22-27-2z"/>
<path fill="#ffbf00" d="M2882 6559l27 1-20-23-28-2z"/>
<path fill="#ffbf00" d="M2855 6557l27 2-21-24-27-2z"/>
<path fill="#ffca00" d="M2827 6556l28 1-21-24-27-2z"/>
<path fill="#ffca00" d="M2800 6554l27 2-20-25-28-3z"/>
<path fill="#ffca00" d="M2772 6552l28 2-21-26-27-2z"/>
<path fill="#ffd400" d="M2745 6550l27 2-20-26-28-3z"/>
<path fill="#ffd400" d="M2718 6549l27 1-21-27-27-3z"/>
<path fill="#ffdf00" d="M2690 6547l28 2-21-29-28-2z"/>
<path fill="#ffdf00" d="M2663 6546l27 1-21-29-27-3z"/>
<path fill="#ffdf00" d="M2635 6546l28 0-21-31-27-1z"/>
<path fill="#ffea00" d="M2608 6546l27 0-20-32-28-2z"/>
<path fill="#ffea00" d="M2580 6547l28-1-21-34-27 0z"/>
<path fill="#ffea00" d="M2553 6549l27-2-20-35-28 1z"/>
<path fill="#fff400" d="M2526 6552l27-3-21-36-27 2z"/>
<path fill="#fff400" d="M2498 6557l28-5-21-37-27 4z"/>
<path fill="#ff0" d="M2471 6564l27-7-20-38-28 6z"/>
<path fill="#ff0" d="M2443 6572l28-8-21-39-27 8z"/>
<path fill="#ffff10" d="M2416 6582l27-10-20-39-28 10z"/>
<path fill="#ffff10" class="c" d="M2419 6557l14-5-10-19-14 5z"/>
<path fill="#ffff20" class="c" d="M2406 6562l13-5-10-19-14 5z"/>
<path fill="#ffff10" class="c" d="M2416 6582l27-10-10-20-27 10z"/>
<path fill="#ffff20" d="M2389 6594l27-12-21-39-27 12z"/>
<path fill="#ffff20" class="c" d="M2392 6569l14-7-11-19-13 6z"/>
<path fill="#ffff30" class="c" d="M2378 6575l14-6-10-20-14 6z"/>
<path fill="#ffff20" class="c" d="M2389 6594l27-12-10-20-28 13z"/>
<path fill="#ffff30" d="M2361 6608l28-14-21-39-28 15z"/>
<path fill="#ffff30" class="c" d="M2365 6582l13-7-10-20-14 7z"/>
<path fill="#ffff40" class="c" d="M2351 6589l14-7-11-20-14 8z"/>
<path fill="#ffff20" class="c" d="M2375 6601l14-7-11-19-13 7z"/>
<path fill="#ffff30" class="c" d="M2361 6608l14-7-10-19-14 7z"/>
<path fill="#ffff30" d="M2334 6624l27-16-21-38-27 16z"/>
<path fill="#ffff40" class="c" d="M2323 6605l28-16-11-19-27 16z"/>
<path fill="#ffff30" class="c" d="M2334 6624l27-16-10-19-28 16z"/>
<path fill="#ffff20" d="M2306 6641l28-17-21-38-27 18z"/>
<path fill="#ffff30" class="c" d="M2296 6623l27-18-10-19-27 18z"/>
<path fill="#ffff20" class="c" d="M2306 6641l28-17-11-19-27 18z"/>
<path fill="#ffff10" d="M2279 6659l27-18-20-37-28 20z"/>
<path fill="#ffff20" class="c" d="M2282 6632l14-9-10-19-14 10z"/>
<path fill="#ffff10" class="c" d="M2269 6642l13-10-10-18-14 10zM2279 6659l27-18-10-18-27 19z"/>
<path fill="#ff0" d="M2251 6679l28-20-21-35-27 21z"/>
<path fill="#ff0" class="c" d="M2241 6662l28-20-11-18-27 21zM2265 6669l14-10-10-17-14 10z"/>
<path fill="#fff400" class="c" d="M2251 6679l14-10-10-17-14 10z"/>
<path fill="#ffea00" d="M2224 6700l27-21-20-34-28 22z"/>
<path fill="#ffdf00" d="M2197 6721l27-21-21-33-27 23z"/>
<path fill="#ffd400" d="M2169 6744l28-23-21-31-27 23z"/>
<path fill="#ffca00" d="M2142 6766l27-22-20-31-28 24z"/>
<path fill="#ffca00" d="M2114 6789l28-23-21-29-27 24z"/>
<path fill="#ffbf00" d="M2087 6812l27-23-20-28-28 24z"/>
<path fill="#ffb500" d="M2060 6835l27-23-21-27-27 24z"/>
<path fill="#ffb500" d="M2032 6858l28-23-21-26-28 24z"/>
<path fill="#ffb500" d="M2005 6881l27-23-21-25-27 24z"/>
<path class="m" d="M3622 6449l-20-20M3513 6471l-21-21M3376 6497l-21-22M3239 6522l-21-23M3101 6546l-20-24M2964 6561l-20-22M2827 6556l-20-25M2690 6547l-21-29M2553 6549l-21-36M2416 6582l-21-39M2279 6659l-21-35M2142 6766l-21-29M2005 6881l-21-24"/>
<path fill="#ffb500" d="M3616 6475l27-5-21-21-27 6z"/>
<path fill="#ffb500" d="M3588 6481l28-6-21-20-27 5z"/>
<path fill="#ffb500" d="M3561 6486l27-5-20-21-28 5z"/>
<path fill="#ffb500" d="M3533 6492l28-6-21-21-27 6z"/>
<path fill="#ffb500" d="M3506 6497l27-5-20-21-28 5z"/>
<path fill="#ffb500" d="M3479 6503l27-6-21-21-27 5z"/>
<path fill="#ffb500" d="M3451 6508l28-5-21-22-28 6z"/>
<path fill="#ffb500" d="M3424 6513l27-5-21-21-27 5z"/>
<path fill="#ffbf00" d="M3396 6519l28-6-21-21-27 5z"/>
<path fill="#ffbf00" d="M3369 6524l27-5-20-22-28 5z"/>
<path fill="#ffbf00" d="M3341 6529l28-5-21-22-27 5z"/>
<path fill="#ffbf00" d="M3314 6534l27-5-20-22-28 5z"/>
<path fill="#ffbf00" d="M3287 6539l27-5-21-22-27 5z"/>
<path fill="#ffbf00" d="M3259 6544l28-5-21-22-27 5z"/>
<path fill="#ffbf00" d="M3232 6549l27-5-20-22-28 5z"/>
<path fill="#ffbf00" d="M3204 6554l28-5-21-22-27 5z"/>
<path fill="#ffbf00" d="M3177 6559l27-5-20-22-28 4z"/>
<path fill="#ffbf00" d="M3150 6564l27-5-21-23-27 5z"/>
<path fill="#ffbf00" d="M3122 6569l28-5-21-23-28 5z"/>
<path fill="#ffbf00" d="M3095 6574l27-5-21-23-27 4z"/>
<path fill="#ffbf00" d="M3067 6578l28-4-21-24-27 5z"/>
<path fill="#ffbf00" d="M3040 6581l27-3-20-23-28 4z"/>
<path fill="#ffbf00" d="M3012 6583l28-2-21-22-27 2z"/>
<path fill="#ffb500" d="M2985 6583l27 0-20-22-28 0z"/>
<path fill="#ffbf00" d="M2958 6583l27 0-21-22-27 0z"/>
<path fill="#ffbf00" d="M2930 6582l28 1-21-22-28-1z"/>
<path fill="#ffbf00" d="M2903 6582l27 0-21-22-27-1z"/>
<path fill="#ffbf00" d="M2875 6581l28 1-21-23-27-2z"/>
<path fill="#ffca00" d="M2848 6580l27 1-20-24-28-1z"/>
<path fill="#ffca00" d="M2821 6579l27 1-21-24-27-2z"/>
<path fill="#ffca00" d="M2793 6579l28 0-21-25-28-2z"/>
<path fill="#ffd400" d="M2766 6578l27 1-21-27-27-2z"/>
<path fill="#ffd400" d="M2738 6577l28 1-21-28-27-1z"/>
<path fill="#ffdf00" d="M2711 6577l27 0-20-28-28-2z"/>
<path fill="#ffdf00" d="M2683 6577l28 0-21-30-27-1z"/>
<path fill="#ffdf00" d="M2656 6577l27 0-20-31-28 0z"/>
<path fill="#ffea00" d="M2629 6579l27-2-21-31-27 0z"/>
<path fill="#ffea00" d="M2601 6581l28-2-21-33-28 1z"/>
<path fill="#ffea00" d="M2574 6584l27-3-21-34-27 2z"/>
<path fill="#fff400" d="M2546 6588l28-4-21-35-27 3z"/>
<path fill="#fff400" d="M2519 6594l27-6-20-36-28 5z"/>
<path fill="#fff400" d="M2492 6601l27-7-21-37-27 7z"/>
<path fill="#ff0" d="M2464 6609l28-8-21-37-28 8z"/>
<path fill="#ff0" d="M2437 6619l27-10-21-37-27 10z"/>
<path fill="#ffff10" d="M2409 6631l28-12-21-37-27 12z"/>
<path fill="#ffff10" d="M2382 6645l27-14-20-37-28 14z"/>
<path fill="#ffff10" d="M2354 6660l28-15-21-37-27 16z"/>
<path fill="#ffff10" d="M2327 6676l27-16-20-36-28 17z"/>
<path fill="#ffff10" class="c" d="M2317 6658l27-16-10-18-28 17zM2341 6668l13-8-10-18-14 8z"/>
<path fill="#ff0" class="c" d="M2327 6676l14-8-11-18-13 8z"/>
<path fill="#ff0" d="M2300 6694l27-18-21-35-27 18z"/>
<path fill="#ffff10" class="c" d="M2303 6667l14-9-11-17-13 9z"/>
<path fill="#ff0" class="c" d="M2289 6677l14-10-10-17-14 9zM2300 6694l27-18-10-18-28 19z"/>
<path fill="#fff400" d="M2272 6712l28-18-21-35-28 20z"/>
<path fill="#ffea00" d="M2245 6732l27-20-21-33-27 21z"/>
<path fill="#ffdf00" d="M2217 6752l28-20-21-32-27 21z"/>
<path fill="#ffd400" d="M2190 6773l27-21-20-31-28 23z"/>
<path fill="#ffca00" d="M2163 6795l27-22-21-29-27 22z"/>
<path fill="#ffca00" d="M2135 6816l28-21-21-29-28 23z"/>
<path fill="#ffbf00" d="M2108 6838l27-22-21-27-27 23z"/>
<path fill="#ffbf00" d="M2080 6861l28-23-21-26-27 23z"/>
<path fill="#ffb500" d="M2053 6883l27-22-20-26-28 23z"/>
<path fill="#ffb500" d="M2025 6905l28-22-21-25-27 23z"/>
<path class="m" d="M3643 6470l-21-21M3533 6492l-20-21M3396 6519l-20-22M3259 6544l-20-22M3122 6569l-21-23M2985 6583l-21-22M2848 6580l-21-24M2711 6577l-21-30M2574 6584l-21-35M2437 6619l-21-37M2300 6694l-21-35M2163 6795l-21-29M2025 6905l-20-24"/>
<path fill="#ffb500" d="M3636 6496l28-6-21-20-27 5z"/>
<path fill="#ffb500" d="M3609 6501l27-5-20-21-28 6z"/>
<path fill="#ffb500" d="M3582 6507l27-6-21-20-27 5z"/>
<path fill="#ffb500" d="M3554 6512l28-5-21-21-28 6z"/>
<path fill="#ffb500" d="M3527 6518l27-6-21-20-27 5z"/>
<path fill="#ffb500" d="M3499 6524l28-6-21-21-27 6z"/>
<path fill="#ffb500" d="M3472 6529l27-5-20-21-28 5z"/>
<path fill="#ffb500" d="M3444 6535l28-6-21-21-27 5z"/>
<path fill="#ffb500" d="M3417 6540l27-5-20-22-28 6z"/>
<path fill="#ffbf00" d="M3390 6545l27-5-21-21-27 5z"/>
<path fill="#ffbf00" d="M3362 6551l28-6-21-21-28 5z"/>
<path fill="#ffbf00" d="M3335 6556l27-5-21-22-27 5z"/>
<path fill="#ffbf00" d="M3307 6561l28-5-21-22-27 5z"/>
<path fill="#ffbf00" d="M3280 6567l27-6-20-22-28 5z"/>
<path fill="#ffbf00" d="M3253 6572l27-5-21-23-27 5z"/>
<path fill="#ffbf00" d="M3225 6577l28-5-21-23-28 5z"/>
<path fill="#ffbf00" d="M3198 6582l27-5-21-23-27 5z"/>
<path fill="#ffbf00" d="M3170 6587l28-5-21-23-27 5z"/>
<path fill="#ffbf00" d="M3143 6592l27-5-20-23-28 5z"/>
<path fill="#ffbf00" d="M3115 6597l28-5-21-23-27 5z"/>
<path fill="#ffbf00" d="M3088 6600l27-3-20-23-28 4z"/>
<path fill="#ffbf00" d="M3061 6603l27-3-21-22-27 3z"/>
<path fill="#ffbf00" d="M3033 6604l28-1-21-22-28 2z"/>
<path fill="#ffb500" d="M3006 6605l27-1-21-21-27 0z"/>
<path fill="#ffbf00" d="M2978 6605l28 0-21-22-27 0z"/>
<path fill="#ffbf00" d="M2951 6605l27 0-20-22-28-1z"/>
<path fill="#ffbf00" d="M2924 6605l27 0-21-23-27 0z"/>
<path fill="#ffbf00" d="M2896 6605l28 0-21-23-28-1z"/>
<path fill="#ffca00" d="M2869 6605l27 0-21-24-27-1z"/>
<path fill="#ffca00" d="M2841 6605l28 0-21-25-27-1z"/>
<path fill="#ffca00" d="M2814 6605l27 0-20-26-28 0z"/>
<path fill="#ffd400" d="M2786 6605l28 0-21-26-27-1z"/>
<path fill="#ffd400" d="M2759 6605l27 0-20-27-28-1z"/>
<path fill="#ffdf00" d="M2732 6606l27-1-21-28-27 0z"/>
<path fill="#ffdf00" d="M2704 6607l28-1-21-29-28 0z"/>
<path fill="#ffdf00" d="M2677 6608l27-1-21-30-27 0z"/>
<path fill="#ffea00" d="M2649 6611l28-3-21-31-27 2z"/>
<path fill="#ffea00" d="M2622 6614l27-3-20-32-28 2z"/>
<path fill="#ffea00" d="M2595 6617l27-3-21-33-27 3z"/>
<path fill="#ffea00" d="M2567 6622l28-5-21-33-28 4z"/>
<path fill="#fff400" d="M2540 6629l27-7-21-34-27 6z"/>
<path fill="#fff400" d="M2512 6636l28-7-21-35-27 7z"/>
<path fill="#fff400" d="M2485 6645l27-9-20-35-28 8z"/>
<path fill="#ff0" d="M2457 6655l28-10-21-36-27 10z"/>
<path fill="#ff0" d="M2430 6667l27-12-20-36-28 12z"/>
<path fill="#ff0" d="M2403 6680l27-13-21-36-27 14z"/>
<path fill="#ff0" d="M2375 6694l28-14-21-35-28 15z"/>
<path fill="#ff0" d="M2348 6710l27-16-21-34-27 16z"/>
<path fill="#fff400" d="M2320 6727l28-17-21-34-27 18z"/>
<path fill="#ffea00" d="M2293 6745l27-18-20-33-28 18z"/>
<path fill="#ffea00" d="M2266 6763l27-18-21-33-27 20z"/>
<path fill="#ffdf00" d="M2238 6783l28-20-21-31-28 20z"/>
<path fill="#ffd400" d="M2211 6803l27-20-21-31-27 21z"/>
<path fill="#ffca00" d="M2183 6823l28-20-21-30-27 22z"/>
<path fill="#ffca00" d="M2156 6844l27-21-20-28-28 21z"/>
<path fill="#ffbf00" d="M2128 6865l28-21-21-28-27 22z"/>
<path fill="#ffbf00" d="M2101 6886l27-21-20-27-28 23z"/>
<path fill="#ffb500" d="M2074 6908l27-22-21-25-27 22z"/>
<path fill="#ffb500" d="M2046 6929l28-21-21-25-28 22z"/>
<path class="m" d="M3664 6490l-21-20M3636 6496l28-6M3609 6501l27-5M3582 6507l27-6M3554 6512l28-5M3554 6512l-21-20M3527 6518l27-6M3499 6524l28-6M3472 6529l27-5M3444 6535l28-6M3417 6540l27-5M3417 6540l-21-21M3390 6545l27-5M3362 6551l28-6M3335 6556l27-5M3307 6561l28-5M3280 6567l27-6M3280 6567l-21-23M3253 6572l27-5M3225 6577l28-5M3198 6582l27-5M3170 6587l28-5M3143 6592l27-5M3143 6592l-21-23M3115 6597l28-5M3088 6600l27-3M3061 6603l27-3M3033 6604l28-1M3006 6605l27-1M3006 6605l-21-22M2978 6605l28 0M2951 6605l27 0M2924 6605l27 0M2896 6605l28 0M2869 6605l27 0M2869 6605l-21-25M2841 6605l28 0M2814 6605l27 0M2786 6605l28 0M2759 6605l27 0M2732 6606l27-1M2732 6606l-21-29M2704 6607l28-1M2677 6608l27-1M2649 6611l28-3M2622 6614l27-3M2595 6617l27-3M2595 6617l-21-33M2567 6622l28-5M2540 6629l27-7M2512 6636l28-7M2485 6645l27-9M2457 6655l28-10M2457 6655l-20-36M2430 6667l27-12M2403 6680l27-13M2375 6694l28-14M2348 6710l27-16M2320 6727l28-17M2320 6727l-20-33M2293 6745l27-18M2266 6763l27-18M2238 6783l28-20M2211 6803l27-20M2183 6823l28-20M2183 6823l-20-28M2156 6844l27-21M2128 6865l28-21M2101 6886l27-21M2074 6908l27-22M2046 6929l-21-24M2046 6929l28-21"/>
</g>
<path d="M1210 2901L1206 2897M1322 2733L1315 2723L1304 2713L1294 2708L1284 2707L1273 2710L1263 2716L1221 2745L1190 2763L1170 2773L1140 2782M1379 2796L1362 2785L1352 2780L1342 2777L1321 2773L1290 2772L1209 2778M1391 2804L1365 2795L1345 2790L1314 2785L1264 2778M1213 2420L1225 2449L1239 2542L1253 2604L1267 2648L1280 2682L1294 2708L1308 2729L1321 2747L1335 2761L1349 2774L1362 2785L1386 2801M1012 2872L1050 2829L1119 2740L1132 2724L1146 2711L1160 2702L1174 2699L1187 2700L1201 2705L1215 2712L1270 2749L1297 2765L1324 2779L1364 2794" fill="none" stroke="#000" stroke-width="1.7" stroke-dasharray="17 9 4 9"/>
<path d="M1059 2766L1053 2848L1042 2909L1032 2939L1026 2941M1149 3011L1131 2986L1121 2963L1111 2926L1100 2876L1090 2816L1080 2767L1069 2777L1049 2867L1038 2899L1028 2923L1017 2938L1007 2946L980 2956M1091 2778L1086 2751L1076 2718L1065 2729L1044 2804L1034 2835L1024 2860L1013 2881L1003 2897L993 2911L982 2922L972 2932L962 2940M1153 2804L1144 2791L1134 2789L1123 2798L1092 2846L1082 2859L1072 2871L1061 2881L1051 2889L1030 2900L1009 2907L989 2911M1203 2895L1192 2886L1171 2875L1119 2851L1099 2843L1088 2841L1068 2840L1047 2843L1019 2850M1132 2725L1095 2768L1074 2788L1053 2803L1027 2818M1101 2861L1114 2926L1128 2970L1142 3001L1156 3024L1160 3030M1049 2839L1063 2772L1076 2760L1100 2858M985 2946L997 2924L1011 2906L1024 2898L1038 2899L1052 2905L1066 2907L1079 2896L1093 2874L1100 2861M952 3002L959 2994L973 2976L986 2953L1000 2927L1014 2895L1027 2858L1041 2815L1069 2721L1082 2705L1096 2728L1123 2798L1137 2826L1151 2848L1165 2865L1178 2877L1192 2886L1198 2889M979 2923L985 2916M987 2913L1003 2897L1017 2886L1030 2879L1044 2874L1058 2872L1099 2871L1113 2870L1126 2866L1140 2860L1154 2850L1166 2839M964 2938L1033 2895L1047 2884L1061 2872L1075 2858L1088 2841L1102 2822L1116 2799L1129 2773L1138 2754M1025 2826L1053 2803L1081 2785L1094 2778L1108 2772L1122 2768L1135 2764L1163 2762L1190 2763L1218 2767L1312 2784M1027 2814L1042 2807L1070 2797L1097 2789L1125 2784L1152 2781L1180 2779L1260 2778" fill="none" stroke="#000" stroke-width="1.7" stroke-dasharray="10 70 16 110"/>
<text x="426.0" y="3142.9" text-anchor="end">−0.4</text>
<text x="426.0" y="3067.9" text-anchor="end">−0.2</text>
<text x="426.0" y="2992.8" text-anchor="end">0</text>
<text x="426.0" y="2917.8" text-anchor="end">0.2</text>
<text x="426.0" y="2842.7" text-anchor="end">0.4</text>
<text x="426.0" y="2767.6" text-anchor="end">0.6</text>
<text x="426.0" y="2692.6" text-anchor="end">0.8</text>
<text x="426.0" y="2617.5" text-anchor="end">1</text>
<text x="426.0" y="2542.5" text-anchor="end">1.2</text>
<text x="426.0" y="2467.4" text-anchor="end">1.4</text>
<text x="426.0" y="2392.3" text-anchor="end">1.6</text>
<text x="938.5" y="3567.4" text-anchor="end">−1</text>
<text x="814.3" y="3486.4" text-anchor="end">0</text>
<text x="690.1" y="3405.4" text-anchor="end">1</text>
<text x="565.9" y="3324.4" text-anchor="end">2</text>
<text x="441.7" y="3243.4" text-anchor="end">3</text>
<text x="1050.1" y="3608.5">−2</text>
<text x="1211.9" y="3546.4">−1</text>
<text x="1373.6" y="3484.4">0</text>
<text x="1535.4" y="3422.3">1</text>
<text x="1697.1" y="3360.3">2</text>
<text x="1858.9" y="3298.2">3</text>
<path d="M453.0 3183.8L453.0 2374.2M453.0 3183.8L1023.1 3555.5M1023.1 3555.5L1831.9 3245.2M453.0 3147.1L435.0 3135.4M453.0 3072.1L435.0 3060.3M453.0 2997.0L435.0 2985.3M453.0 2922.0L435.0 2910.2M453.0 2846.9L435.0 2835.2M453.0 2771.8L435.0 2760.1M453.0 2696.8L435.0 2685.0M453.0 2621.7L435.0 2610.0M453.0 2546.7L435.0 2534.9M453.0 2471.6L435.0 2459.9M453.0 2396.5L435.0 2384.8M968.5 3519.9L948.4 3527.6M844.3 3438.9L824.2 3446.6M720.1 3357.9L700.0 3365.6M595.9 3276.9L575.8 3284.6M471.7 3195.9L451.6 3203.7M1023.1 3555.5L1041.1 3567.2M1184.9 3493.4L1202.9 3505.2M1346.6 3431.4L1364.6 3443.1M1508.4 3369.3L1526.4 3381.1M1670.1 3307.3L1688.1 3319.0M1831.9 3245.2L1849.9 3256.9" fill="none" stroke="#000" stroke-width="1.8"/>
<text x="496" y="3673">Imag</text>
<text x="1528" y="3688">Real</text>
<text transform="translate(309.5,2777.5) rotate(-90)" text-anchor="middle">log<tspan font-size="25.5" dy="19">10</tspan><tspan dy="-19">(resolvent norm)</tspan></text>
</g>
</svg></body></html>
